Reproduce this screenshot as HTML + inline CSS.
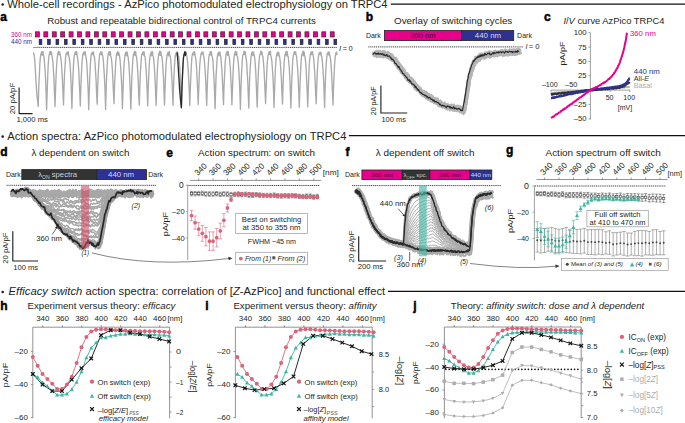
<!DOCTYPE html><html><head><meta charset="utf-8"><style>html,body{margin:0;padding:0;background:#fff;}svg{display:block;}text{font-family:"Liberation Sans",sans-serif;}</style></head><body><svg width="685" height="423" viewBox="0 0 685 423" fill="#231f20">
<text x="7.2" y="7.8" font-size="10.4" textLength="380.4" lengthAdjust="spacingAndGlyphs">Whole-cell recordings - AzPico photomodulated electrophysiology on TRPC4</text>
<circle cx="2.7" cy="4.5" r="1.3" fill="#231f20"/>
<line x1="390.80" y1="4.00" x2="685.00" y2="4.00" stroke="#111" stroke-width="1.25"/>
<text x="7.2" y="139.9" font-size="10.4" textLength="339.2" lengthAdjust="spacingAndGlyphs">Action spectra: AzPico photomodulated electrophysiology on TRPC4</text>
<circle cx="2.7" cy="136.6" r="1.3" fill="#231f20"/>
<line x1="348.90" y1="135.50" x2="685.00" y2="135.50" stroke="#111" stroke-width="1.25"/>
<text x="8.6" y="295.3" font-size="10.4" textLength="376.6" lengthAdjust="spacingAndGlyphs"><tspan font-style="italic">Efficacy switch</tspan> action spectra: correlation of [<tspan font-style="italic">Z</tspan>-AzPico] and functional effect</text>
<circle cx="2.7" cy="292.0" r="1.3" fill="#231f20"/>
<line x1="388.00" y1="291.30" x2="685.00" y2="291.30" stroke="#111" stroke-width="1.25"/>
<text x="0.20" y="20.80" font-size="12" font-weight="bold" fill="#000" stroke="#000" stroke-width="0.45">a</text>
<text x="365.80" y="21.10" font-size="12" font-weight="bold" fill="#000" stroke="#000" stroke-width="0.45">b</text>
<text x="544.00" y="21.20" font-size="12" font-weight="bold" fill="#000" stroke="#000" stroke-width="0.45">c</text>
<text x="0.20" y="156.20" font-size="12" font-weight="bold" fill="#000" stroke="#000" stroke-width="0.45">d</text>
<text x="166.30" y="156.60" font-size="12" font-weight="bold" fill="#000" stroke="#000" stroke-width="0.45">e</text>
<text x="345.40" y="156.20" font-size="12" font-weight="bold" fill="#000" stroke="#000" stroke-width="0.45">f</text>
<text x="506.10" y="154.20" font-size="12" font-weight="bold" fill="#000" stroke="#000" stroke-width="0.45">g</text>
<text x="0.20" y="310.30" font-size="12" font-weight="bold" fill="#000" stroke="#000" stroke-width="0.45">h</text>
<text x="205.20" y="310.30" font-size="12" font-weight="bold" fill="#000" stroke="#000" stroke-width="0.45">i</text>
<text x="413.20" y="310.30" font-size="12" font-weight="bold" fill="#000" stroke="#000" stroke-width="0.45">j</text>
<text x="47.20" y="23.80" font-size="9.5" textLength="268.60" lengthAdjust="spacingAndGlyphs">Robust and repeatable bidirectional control of TRPC4 currents</text>
<text x="11.00" y="36.80" font-size="6.8" textLength="20.90" lengthAdjust="spacingAndGlyphs" fill="#e8008a">360 nm</text>
<text x="11.00" y="43.90" font-size="6.8" textLength="21.00" lengthAdjust="spacingAndGlyphs" fill="#2e3192">440 nm</text>
<rect x="35.40" y="31.80" width="4.00" height="5.20" fill="#e8008a" stroke="#3a2a35" stroke-width="0.7"/>
<rect x="39.15" y="39.30" width="2.70" height="5.20" fill="#2e3192" stroke="#222" stroke-width="0.7"/>
<rect x="43.82" y="31.80" width="4.00" height="5.20" fill="#e8008a" stroke="#3a2a35" stroke-width="0.7"/>
<rect x="47.57" y="39.30" width="2.70" height="5.20" fill="#2e3192" stroke="#222" stroke-width="0.7"/>
<rect x="52.25" y="31.80" width="4.00" height="5.20" fill="#e8008a" stroke="#3a2a35" stroke-width="0.7"/>
<rect x="56.00" y="39.30" width="2.70" height="5.20" fill="#2e3192" stroke="#222" stroke-width="0.7"/>
<rect x="60.67" y="31.80" width="4.00" height="5.20" fill="#e8008a" stroke="#3a2a35" stroke-width="0.7"/>
<rect x="64.42" y="39.30" width="2.70" height="5.20" fill="#2e3192" stroke="#222" stroke-width="0.7"/>
<rect x="69.09" y="31.80" width="4.00" height="5.20" fill="#e8008a" stroke="#3a2a35" stroke-width="0.7"/>
<rect x="72.84" y="39.30" width="2.70" height="5.20" fill="#2e3192" stroke="#222" stroke-width="0.7"/>
<rect x="77.52" y="31.80" width="4.00" height="5.20" fill="#e8008a" stroke="#3a2a35" stroke-width="0.7"/>
<rect x="81.27" y="39.30" width="2.70" height="5.20" fill="#2e3192" stroke="#222" stroke-width="0.7"/>
<rect x="85.94" y="31.80" width="4.00" height="5.20" fill="#e8008a" stroke="#3a2a35" stroke-width="0.7"/>
<rect x="89.69" y="39.30" width="2.70" height="5.20" fill="#2e3192" stroke="#222" stroke-width="0.7"/>
<rect x="94.36" y="31.80" width="4.00" height="5.20" fill="#e8008a" stroke="#3a2a35" stroke-width="0.7"/>
<rect x="98.11" y="39.30" width="2.70" height="5.20" fill="#2e3192" stroke="#222" stroke-width="0.7"/>
<rect x="102.78" y="31.80" width="4.00" height="5.20" fill="#e8008a" stroke="#3a2a35" stroke-width="0.7"/>
<rect x="106.53" y="39.30" width="2.70" height="5.20" fill="#2e3192" stroke="#222" stroke-width="0.7"/>
<rect x="111.21" y="31.80" width="4.00" height="5.20" fill="#e8008a" stroke="#3a2a35" stroke-width="0.7"/>
<rect x="114.96" y="39.30" width="2.70" height="5.20" fill="#2e3192" stroke="#222" stroke-width="0.7"/>
<rect x="119.63" y="31.80" width="4.00" height="5.20" fill="#e8008a" stroke="#3a2a35" stroke-width="0.7"/>
<rect x="123.38" y="39.30" width="2.70" height="5.20" fill="#2e3192" stroke="#222" stroke-width="0.7"/>
<rect x="128.05" y="31.80" width="4.00" height="5.20" fill="#e8008a" stroke="#3a2a35" stroke-width="0.7"/>
<rect x="131.80" y="39.30" width="2.70" height="5.20" fill="#2e3192" stroke="#222" stroke-width="0.7"/>
<rect x="136.48" y="31.80" width="4.00" height="5.20" fill="#e8008a" stroke="#3a2a35" stroke-width="0.7"/>
<rect x="140.23" y="39.30" width="2.70" height="5.20" fill="#2e3192" stroke="#222" stroke-width="0.7"/>
<rect x="144.90" y="31.80" width="4.00" height="5.20" fill="#e8008a" stroke="#3a2a35" stroke-width="0.7"/>
<rect x="148.65" y="39.30" width="2.70" height="5.20" fill="#2e3192" stroke="#222" stroke-width="0.7"/>
<rect x="153.32" y="31.80" width="4.00" height="5.20" fill="#e8008a" stroke="#3a2a35" stroke-width="0.7"/>
<rect x="157.07" y="39.30" width="2.70" height="5.20" fill="#2e3192" stroke="#222" stroke-width="0.7"/>
<rect x="161.75" y="31.80" width="4.00" height="5.20" fill="#e8008a" stroke="#3a2a35" stroke-width="0.7"/>
<rect x="165.50" y="39.30" width="2.70" height="5.20" fill="#2e3192" stroke="#222" stroke-width="0.7"/>
<rect x="170.17" y="31.80" width="4.00" height="5.20" fill="#e8008a" stroke="#3a2a35" stroke-width="0.7"/>
<rect x="173.92" y="39.30" width="2.70" height="5.20" fill="#2e3192" stroke="#222" stroke-width="0.7"/>
<rect x="178.59" y="31.80" width="4.00" height="5.20" fill="#e8008a" stroke="#3a2a35" stroke-width="0.7"/>
<rect x="182.34" y="39.30" width="2.70" height="5.20" fill="#2e3192" stroke="#222" stroke-width="0.7"/>
<rect x="187.01" y="31.80" width="4.00" height="5.20" fill="#e8008a" stroke="#3a2a35" stroke-width="0.7"/>
<rect x="190.76" y="39.30" width="2.70" height="5.20" fill="#2e3192" stroke="#222" stroke-width="0.7"/>
<rect x="195.44" y="31.80" width="4.00" height="5.20" fill="#e8008a" stroke="#3a2a35" stroke-width="0.7"/>
<rect x="199.19" y="39.30" width="2.70" height="5.20" fill="#2e3192" stroke="#222" stroke-width="0.7"/>
<rect x="203.86" y="31.80" width="4.00" height="5.20" fill="#e8008a" stroke="#3a2a35" stroke-width="0.7"/>
<rect x="207.61" y="39.30" width="2.70" height="5.20" fill="#2e3192" stroke="#222" stroke-width="0.7"/>
<rect x="212.28" y="31.80" width="4.00" height="5.20" fill="#e8008a" stroke="#3a2a35" stroke-width="0.7"/>
<rect x="216.03" y="39.30" width="2.70" height="5.20" fill="#2e3192" stroke="#222" stroke-width="0.7"/>
<rect x="220.71" y="31.80" width="4.00" height="5.20" fill="#e8008a" stroke="#3a2a35" stroke-width="0.7"/>
<rect x="224.46" y="39.30" width="2.70" height="5.20" fill="#2e3192" stroke="#222" stroke-width="0.7"/>
<rect x="229.13" y="31.80" width="4.00" height="5.20" fill="#e8008a" stroke="#3a2a35" stroke-width="0.7"/>
<rect x="232.88" y="39.30" width="2.70" height="5.20" fill="#2e3192" stroke="#222" stroke-width="0.7"/>
<rect x="237.55" y="31.80" width="4.00" height="5.20" fill="#e8008a" stroke="#3a2a35" stroke-width="0.7"/>
<rect x="241.30" y="39.30" width="2.70" height="5.20" fill="#2e3192" stroke="#222" stroke-width="0.7"/>
<rect x="245.97" y="31.80" width="4.00" height="5.20" fill="#e8008a" stroke="#3a2a35" stroke-width="0.7"/>
<rect x="249.72" y="39.30" width="2.70" height="5.20" fill="#2e3192" stroke="#222" stroke-width="0.7"/>
<rect x="254.40" y="31.80" width="4.00" height="5.20" fill="#e8008a" stroke="#3a2a35" stroke-width="0.7"/>
<rect x="258.15" y="39.30" width="2.70" height="5.20" fill="#2e3192" stroke="#222" stroke-width="0.7"/>
<rect x="262.82" y="31.80" width="4.00" height="5.20" fill="#e8008a" stroke="#3a2a35" stroke-width="0.7"/>
<rect x="266.57" y="39.30" width="2.70" height="5.20" fill="#2e3192" stroke="#222" stroke-width="0.7"/>
<rect x="271.24" y="31.80" width="4.00" height="5.20" fill="#e8008a" stroke="#3a2a35" stroke-width="0.7"/>
<rect x="274.99" y="39.30" width="2.70" height="5.20" fill="#2e3192" stroke="#222" stroke-width="0.7"/>
<rect x="279.67" y="31.80" width="4.00" height="5.20" fill="#e8008a" stroke="#3a2a35" stroke-width="0.7"/>
<rect x="283.42" y="39.30" width="2.70" height="5.20" fill="#2e3192" stroke="#222" stroke-width="0.7"/>
<rect x="288.09" y="31.80" width="4.00" height="5.20" fill="#e8008a" stroke="#3a2a35" stroke-width="0.7"/>
<rect x="291.84" y="39.30" width="2.70" height="5.20" fill="#2e3192" stroke="#222" stroke-width="0.7"/>
<rect x="296.51" y="31.80" width="4.00" height="5.20" fill="#e8008a" stroke="#3a2a35" stroke-width="0.7"/>
<rect x="300.26" y="39.30" width="2.70" height="5.20" fill="#2e3192" stroke="#222" stroke-width="0.7"/>
<rect x="304.94" y="31.80" width="4.00" height="5.20" fill="#e8008a" stroke="#3a2a35" stroke-width="0.7"/>
<rect x="308.69" y="39.30" width="2.70" height="5.20" fill="#2e3192" stroke="#222" stroke-width="0.7"/>
<rect x="313.36" y="31.80" width="4.00" height="5.20" fill="#e8008a" stroke="#3a2a35" stroke-width="0.7"/>
<rect x="317.11" y="39.30" width="2.70" height="5.20" fill="#2e3192" stroke="#222" stroke-width="0.7"/>
<rect x="321.78" y="31.80" width="4.00" height="5.20" fill="#e8008a" stroke="#3a2a35" stroke-width="0.7"/>
<rect x="325.53" y="39.30" width="2.70" height="5.20" fill="#2e3192" stroke="#222" stroke-width="0.7"/>
<rect x="330.21" y="31.80" width="4.00" height="5.20" fill="#e8008a" stroke="#3a2a35" stroke-width="0.7"/>
<rect x="333.95" y="39.30" width="2.70" height="5.20" fill="#2e3192" stroke="#222" stroke-width="0.7"/>
<line x1="33.50" y1="47.40" x2="337.20" y2="47.40" stroke="#1a1a1a" stroke-width="0.8" stroke-dasharray="1.2 0.7"/>
<text x="338.90" y="50.60" font-size="7.6" font-style="italic">I</text>
<text x="342.80" y="50.60" font-size="7.6" textLength="10.00" lengthAdjust="spacingAndGlyphs">= 0</text>
<path d="M33.5,52.5L34.3,56.0L35.1,65.0L35.9,80.0L36.9,95.0L38.2,106.4L38.7,88.9L39.3,75.4L39.8,64.6L40.3,57.8L40.9,54.1L41.4,52.6L41.8,51.7L42.2,55.2L42.6,52.8L43.0,51.5L43.4,55.0L43.9,56.3L44.4,62.1L45.0,69.3L45.5,78.2L46.1,92.2L46.6,109.8L47.2,91.2L47.7,76.4L48.2,64.9L48.8,57.5L49.3,54.1L49.8,52.5L50.2,51.3L50.6,54.5L51.0,51.7L51.4,52.0L51.8,55.2L52.3,57.7L52.9,62.1L53.4,70.1L54.0,80.5L54.5,94.1L55.0,106.5L55.6,88.5L56.1,75.5L56.6,65.2L57.2,58.2L57.7,54.3L58.2,52.8L58.6,51.3L59.0,54.6L59.4,51.8L59.8,52.3L60.2,55.1L60.7,57.6L61.3,61.5L61.8,69.7L62.4,79.5L62.9,90.7L63.5,104.9L64.0,88.2L64.5,74.2L65.1,64.9L65.6,57.5L66.1,53.5L66.7,53.2L67.1,52.1L67.5,54.6L67.9,51.8L68.3,51.8L68.6,56.0L69.2,57.4L69.7,60.8L70.3,68.2L70.8,77.6L71.3,89.6L71.9,108.7L72.4,89.9L73.0,75.9L73.5,65.1L74.0,57.6L74.6,54.4L75.1,52.6L75.5,51.9L75.9,54.3L76.3,52.3L76.7,51.7L77.0,54.9L77.6,57.8L78.1,62.4L78.7,69.3L79.2,80.6L79.8,92.6L80.3,106.1L80.8,89.0L81.4,74.9L81.9,64.1L82.4,58.3L83.0,53.7L83.5,52.7L83.9,52.1L84.3,54.7L84.7,52.1L85.1,51.5L85.5,54.6L86.0,57.1L86.6,61.2L87.1,69.1L87.6,78.6L88.2,91.1L88.7,109.7L89.3,91.0L89.8,76.3L90.3,65.8L90.9,57.7L91.4,53.7L91.9,53.5L92.3,52.1L92.7,54.5L93.1,52.0L93.5,52.3L93.9,56.0L94.4,56.6L95.0,62.8L95.5,70.5L96.1,80.7L96.6,93.7L97.2,104.2L97.7,86.7L98.2,74.5L98.8,63.8L99.3,57.8L99.8,53.7L100.4,53.4L100.8,51.8L101.2,54.6L101.6,51.9L102.0,52.3L102.3,54.6L102.9,56.5L103.4,61.5L103.9,69.0L104.5,78.1L105.0,89.5L105.6,109.5L106.1,90.5L106.7,75.6L107.2,65.0L107.7,58.0L108.3,53.6L108.8,52.6L109.2,51.5L109.6,55.1L110.0,51.9L110.4,51.8L110.7,55.9L111.3,57.9L111.8,62.3L112.4,70.1L112.9,80.5L113.5,93.0L114.0,103.7L114.5,86.4L115.1,74.3L115.6,64.3L116.1,58.1L116.7,53.4L117.2,53.2L117.6,51.7L118.0,55.4L118.4,52.1L118.8,52.6L119.2,54.6L119.7,57.0L120.2,61.7L120.8,68.9L121.3,78.1L121.9,89.9L122.4,108.7L123.0,90.8L123.5,75.6L124.0,65.3L124.6,58.4L125.1,54.5L125.6,52.9L126.0,52.1L126.4,55.7L126.8,52.5L127.2,52.1L127.6,55.1L128.1,57.2L128.7,62.1L129.2,68.9L129.8,80.2L130.3,93.8L130.9,109.2L131.4,90.9L131.9,75.9L132.5,65.5L133.0,58.1L133.5,54.0L134.1,53.4L134.5,51.1L134.9,55.5L135.3,51.7L135.7,52.1L136.0,55.3L136.5,56.7L137.1,62.3L137.6,69.7L138.2,80.4L138.7,94.1L139.3,105.2L139.8,87.3L140.3,74.1L140.9,64.6L141.4,57.3L141.9,53.6L142.5,53.5L142.9,51.9L143.3,54.9L143.7,52.9L144.1,51.8L144.4,55.6L145.0,56.5L145.5,61.4L146.1,69.2L146.6,79.0L147.2,91.2L147.7,106.0L148.2,88.6L148.8,74.5L149.3,64.1L149.8,57.7L150.4,54.4L150.9,53.4L151.3,52.0L151.7,55.8L152.1,52.1L152.5,51.6L152.8,55.2L153.4,56.6L153.9,61.1L154.5,68.7L155.0,79.0L155.6,91.1L156.1,105.5L156.7,88.6L157.2,75.1L157.7,64.4L158.3,57.2L158.8,53.5L159.3,53.4L159.7,51.1L160.1,55.4L160.5,52.5L160.9,51.8L161.3,55.8L161.8,56.2L162.4,60.9L162.9,68.7L163.5,77.8L164.0,91.4L164.5,105.0L165.1,87.4L165.6,73.8L166.1,64.5L166.7,57.6L167.2,54.2L167.7,53.2L168.1,52.1L168.5,55.8L168.9,52.7L169.3,51.6L169.7,55.3L170.2,56.4L170.8,60.7L171.3,68.6L171.9,78.7L172.4,90.0L173.0,105.3L173.5,87.8L174.0,74.7L174.6,64.4L175.1,57.8L175.6,54.3L176.2,52.9L176.6,52.1L177.0,55.7L177.4,51.8L177.8,52.5L178.1,55.7L178.7,56.4L179.2,61.4L179.8,68.9L180.3,79.1L180.8,90.4L181.4,107.2L181.9,89.7L182.5,75.6L183.0,65.3L183.5,57.8L184.1,54.2L184.6,52.6L185.0,52.0L185.4,55.6L185.8,52.6L186.2,52.3L186.5,54.8L187.1,57.7L187.6,62.5L188.2,70.0L188.7,79.4L189.3,92.5L189.8,105.6L190.3,88.7L190.9,75.0L191.4,64.3L191.9,57.2L192.5,53.9L193.0,53.1L193.4,52.1L193.8,55.0L194.2,51.7L194.6,52.4L195.0,54.6L195.5,57.5L196.1,61.0L196.6,68.5L197.1,79.0L197.7,90.3L198.2,104.5L198.8,87.5L199.3,74.4L199.8,64.6L200.4,57.8L200.9,54.5L201.4,53.0L201.8,52.3L202.2,54.3L202.6,52.0L203.0,52.0L203.4,55.0L203.9,57.3L204.5,61.6L205.0,68.5L205.6,78.6L206.1,90.2L206.7,105.5L207.2,88.0L207.7,74.9L208.3,64.9L208.8,57.3L209.3,54.4L209.9,53.6L210.3,51.7L210.7,55.1L211.1,52.0L211.5,52.0L211.8,55.3L212.4,57.1L212.9,60.8L213.4,69.5L214.0,78.6L214.5,90.7L215.1,108.7L215.6,90.4L216.1,75.8L216.7,65.4L217.2,57.4L217.7,54.1L218.3,52.9L218.7,52.3L219.1,55.8L219.5,52.1L219.9,52.0L220.2,54.7L220.8,57.0L221.3,62.4L221.9,70.3L222.4,80.0L223.0,92.8L223.5,104.7L224.0,87.8L224.6,74.7L225.1,63.8L225.6,58.0L226.2,53.4L226.7,52.6L227.1,51.3L227.5,55.3L227.9,52.2L228.3,51.8L228.7,55.5L229.2,56.3L229.7,61.8L230.3,67.9L230.8,78.2L231.4,89.9L231.9,104.8L232.5,87.7L233.0,74.1L233.5,64.1L234.1,57.5L234.6,54.0L235.1,52.6L235.5,51.3L235.9,55.2L236.3,52.6L236.7,52.0L237.1,55.9L237.6,57.1L238.2,62.0L238.7,68.1L239.3,78.6L239.8,90.8L240.4,109.4L240.9,90.5L241.4,75.9L242.0,65.8L242.5,57.7L243.0,54.7L243.6,53.5L244.0,51.2L244.4,54.5L244.8,52.7L245.2,51.7L245.5,54.7L246.0,57.6L246.6,61.9L247.1,70.3L247.7,79.7L248.2,93.4L248.8,108.0L249.3,89.2L249.8,75.2L250.4,65.2L250.9,58.4L251.4,54.6L252.0,52.5L252.4,51.7L252.8,55.5L253.2,52.4L253.6,52.2L253.9,54.8L254.5,56.4L255.0,61.2L255.6,68.7L256.1,79.8L256.6,92.6L257.2,107.2L257.7,88.9L258.3,74.8L258.8,64.4L259.3,58.2L259.9,54.6L260.4,53.5L260.8,51.1L261.2,54.2L261.6,53.0L262.0,52.0L262.3,55.7L262.9,56.7L263.4,61.7L264.0,69.2L264.5,79.2L265.1,92.2L265.6,103.6L266.2,87.1L266.7,74.1L267.2,63.6L267.8,57.5L268.3,54.3L268.8,52.9L269.2,51.3L269.6,54.4L270.0,52.4L270.4,51.4L270.8,55.9L271.3,57.4L271.9,61.6L272.4,68.8L273.0,77.9L273.5,89.3L274.0,107.4L274.6,89.4L275.1,75.9L275.6,65.2L276.2,57.6L276.7,54.5L277.2,53.3L277.6,52.1L278.0,55.6L278.4,52.3L278.8,52.5L279.2,55.9L279.7,57.3L280.3,62.2L280.8,69.7L281.4,79.3L281.9,92.5L282.5,104.0L283.0,86.9L283.5,73.8L284.1,63.5L284.6,57.4L285.1,54.2L285.7,53.1L286.1,51.3L286.5,55.8L286.9,52.6L287.3,51.8L287.6,55.6L288.2,57.0L288.7,61.4L289.3,68.2L289.8,78.6L290.3,89.9L290.9,108.1L291.4,90.2L292.0,76.1L292.5,64.4L293.0,58.0L293.6,54.4L294.1,52.7L294.5,51.6L294.9,54.2L295.3,52.0L295.7,51.9L296.0,54.7L296.6,56.7L297.1,62.5L297.7,69.5L298.2,79.7L298.8,93.4L299.3,107.2L299.8,89.9L300.4,75.4L300.9,65.2L301.4,57.3L302.0,54.2L302.5,53.3L302.9,51.1L303.3,55.8L303.7,51.9L304.1,52.0L304.5,54.8L305.0,57.0L305.6,61.9L306.1,68.5L306.6,80.0L307.2,91.9L307.7,106.9L308.3,89.2L308.8,74.9L309.3,64.5L309.9,58.0L310.4,54.1L310.9,52.7L311.3,52.0L311.7,54.6L312.1,51.7L312.5,51.7L312.9,54.6L313.4,56.5L314.0,62.1L314.5,69.0L315.1,79.8L315.6,92.2L316.2,103.8L316.7,87.6L317.2,74.4L317.8,63.5L318.3,58.0L318.8,53.9L319.4,53.0L319.8,52.4L320.2,54.5L320.6,52.4L321.0,52.5L321.3,55.7L321.9,56.9L322.4,62.1L322.9,68.8L323.5,77.9L324.0,89.0L324.6,107.6L325.1,89.5L325.6,75.0L326.2,64.3L326.7,57.9L327.2,53.6L327.8,52.9L328.2,51.9L328.6,54.9L329.0,52.1L329.4,52.1L329.7,55.2L330.3,57.5L330.8,61.8L331.4,70.1L331.9,80.2L332.5,92.6L333.0,105.0L333.5,87.4L334.1,74.8L334.6,64.7L335.1,57.8L335.7,53.8L336.2,52.7L336.6,52.0L337.0,55.1" fill="none" stroke="#aaaaaa" stroke-width="1.35" stroke-linejoin="round"/>
<path d="M176.7,52.5L177.3,53.5L177.9,62.0L178.7,75.0L179.5,88.0L180.3,98.0L180.9,104.0L181.4,107.8L181.9,89.6L182.5,75.1L183.0,64.5L183.5,57.6L184.1,54.4L184.6,52.7L185.0,51.5L185.4,55.3L185.8,52.5" fill="none" stroke="#2a2a2a" stroke-width="1.3" stroke-linejoin="round"/>
<path d="M19.1,87.4L19.1,113.6L32.6,113.6" fill="none" stroke="#222" stroke-width="1.15" stroke-linejoin="round"/>
<text x="15.00" y="98.60" font-size="6.8" text-anchor="middle" textLength="31.50" lengthAdjust="spacingAndGlyphs" transform="rotate(-90 15.00 98.60)">20 pA/pF</text>
<text x="16.40" y="122.00" font-size="6.8" textLength="31.50" lengthAdjust="spacingAndGlyphs">1,000 ms</text>
<text x="394.00" y="23.60" font-size="9.5" textLength="118.30" lengthAdjust="spacingAndGlyphs">Overlay of switching cycles</text>
<text x="365.90" y="38.30" font-size="7.0" textLength="14.80" lengthAdjust="spacingAndGlyphs">Dark</text>
<rect x="384.50" y="30.50" width="77.10" height="10.10" fill="#e8008a" stroke="#222" stroke-width="0.8"/>
<rect x="461.60" y="30.50" width="52.10" height="10.10" fill="#2e3192" stroke="#222" stroke-width="0.8"/>
<text x="423.00" y="38.20" font-size="7.0" text-anchor="middle" textLength="25.50" lengthAdjust="spacingAndGlyphs" fill="#4a0026">360 nm</text>
<text x="488.00" y="38.20" font-size="7.0" text-anchor="middle" textLength="26.30" lengthAdjust="spacingAndGlyphs" fill="#d8d8f0">440 nm</text>
<text x="517.10" y="38.20" font-size="7.0" textLength="14.80" lengthAdjust="spacingAndGlyphs">Dark</text>
<line x1="368.30" y1="46.90" x2="523.20" y2="46.90" stroke="#1a1a1a" stroke-width="0.8" stroke-dasharray="1.2 0.7"/>
<text x="525.40" y="48.60" font-size="7.0" font-style="italic">I</text>
<text x="528.80" y="48.60" font-size="7.0" textLength="10.80" lengthAdjust="spacingAndGlyphs">= 0</text>
<path d="M373.5,56.0L374.1,56.4L374.7,55.9L375.3,56.4L375.9,54.0L376.5,55.2L377.1,56.4L377.7,55.6L378.3,56.3L378.9,54.3L379.5,55.2L380.1,54.6L380.7,55.5L381.3,55.7L381.9,54.4L382.5,55.0L383.1,55.3L383.7,57.1L384.3,56.8L384.9,55.4L385.5,57.2L386.1,55.7L386.7,57.1L387.3,56.0L387.9,55.9L388.5,58.3L389.1,56.8L389.7,57.1L390.3,59.6L390.9,59.9L391.5,58.8L392.1,61.1L392.7,60.5L393.3,61.4L393.9,60.7L394.5,63.3L395.1,63.4L395.7,64.8L396.3,65.4L396.9,64.6L397.5,65.5L398.1,65.7L398.7,66.4L399.3,67.1L399.9,68.6L400.5,70.3L401.1,69.7L401.7,72.3L402.3,72.3L402.9,73.2L403.5,75.4L404.1,75.2L404.7,75.6L405.3,76.7L405.9,78.1L406.5,77.1L407.1,80.3L407.7,78.5L408.3,81.1L408.9,82.0L409.5,80.4L410.1,83.0L410.7,82.5L411.3,83.7L411.9,82.8L412.5,83.5L413.1,84.5L413.7,87.1L414.3,85.7L414.9,87.7L415.5,88.8L416.1,89.4L416.7,88.5L417.3,89.1L417.9,90.1L418.5,91.4L419.1,90.3L419.7,92.5L420.3,93.3L420.9,94.0L421.5,92.5L422.1,95.4L422.7,93.7L423.3,94.8L423.9,95.9L424.5,97.2L425.1,96.1L425.7,98.1L426.3,97.5L426.9,97.4L427.5,97.7L428.1,97.7L428.7,97.8L429.3,98.4L429.9,100.2L430.5,101.3L431.1,99.5L431.7,99.5L432.3,102.3L432.9,101.4L433.5,101.4L434.1,101.2L434.7,102.5L435.3,103.4L435.9,102.7L436.5,103.0L437.1,102.4L437.7,105.0L438.3,103.1L438.9,104.7L439.5,106.0L440.1,104.6L440.7,106.5L441.3,107.3L441.9,106.7L442.5,107.4L443.1,105.9L443.7,107.0L444.3,106.5L444.9,108.5L445.5,107.3L446.1,107.9L446.7,109.4L447.3,109.2L447.9,109.7L448.5,108.5L449.1,108.7L449.7,109.5L450.3,109.0L450.9,108.5L451.5,108.9L452.1,108.3L452.7,108.9L453.3,110.6L453.9,110.6L454.5,109.8L455.1,109.5L455.7,109.3L456.3,108.8L456.9,109.4L457.5,110.9L458.1,111.2L458.7,110.1L459.3,111.3L459.9,111.6L460.5,111.7L461.1,112.0L461.7,112.6L462.3,111.9L462.9,112.9L463.5,111.4L464.1,109.5L464.7,107.0L465.3,103.5L465.9,98.5L466.5,96.2L467.1,91.4L467.7,87.5L468.3,82.3L468.9,80.1L469.5,76.7L470.1,75.2L470.7,72.1L471.3,70.7L471.9,68.8L472.5,67.6L473.1,65.0L473.7,64.4L474.3,63.8L474.9,63.1L475.5,61.0L476.1,61.6L476.7,61.2L477.3,60.3L477.9,60.7L478.5,60.2L479.1,58.6L479.7,58.2L480.3,56.9L480.9,58.4L481.5,58.5L482.1,57.2L482.7,57.6L483.3,57.5L483.9,57.4L484.5,55.8L485.1,57.3L485.7,56.6L486.3,56.7L486.9,55.9L487.5,56.3L488.1,56.6L488.7,56.2L489.3,56.3L489.9,54.4L490.5,54.7L491.1,55.4L491.7,55.8L492.3,54.6L492.9,55.8L493.5,55.6L494.1,53.9L494.7,55.0L495.3,54.3L495.9,53.8L496.5,53.9L497.1,54.3L497.7,53.9L498.3,53.9L498.9,53.4L499.5,54.4L500.1,54.2L500.7,54.7L501.3,54.6L501.9,53.6L502.5,55.3L503.1,52.9L503.7,53.9L504.3,53.5L504.9,53.8L505.5,52.9L506.1,54.7L506.7,53.5L507.3,52.6L507.9,54.0L508.5,52.7L509.1,53.8L509.7,53.2L510.3,53.8L510.9,54.7L511.5,54.3L512.1,53.3L512.7,54.2L513.3,53.8L513.9,53.0L514.5,52.4L515.1,53.5L515.7,53.4L516.3,54.4L516.9,54.4L517.5,53.4L518.1,52.7L518.7,54.0L519.3,51.7L519.9,51.9" fill="none" stroke="#b4b4b4" stroke-width="1.6" stroke-linejoin="round"/>
<path d="M373.2,53.7L373.8,55.0L374.4,55.6L375.0,54.3L375.6,54.4L376.2,53.9L376.8,54.1L377.4,55.9L378.0,54.3L378.6,55.8L379.2,55.7L379.8,54.9L380.4,54.1L381.0,56.1L381.6,55.0L382.2,54.9L382.8,54.8L383.4,56.6L384.0,55.5L384.6,55.1L385.2,55.7L385.8,55.0L386.4,56.5L387.0,56.2L387.6,56.0L388.2,57.4L388.8,57.7L389.4,56.0L390.0,57.8L390.6,57.7L391.2,59.9L391.8,60.0L392.4,59.1L393.0,59.7L393.6,59.9L394.2,62.8L394.8,61.7L395.4,63.3L396.0,63.7L396.6,64.9L397.2,65.5L397.8,66.6L398.4,65.7L399.0,68.3L399.6,68.0L400.2,69.5L400.8,69.9L401.4,70.7L402.0,72.2L402.6,72.9L403.2,73.5L403.8,75.3L404.4,75.6L405.0,74.9L405.6,76.3L406.2,77.5L406.8,79.5L407.4,80.2L408.0,80.0L408.6,79.2L409.2,81.8L409.8,81.5L410.4,82.4L411.0,83.4L411.6,83.8L412.2,84.0L412.8,85.7L413.4,85.0L414.0,85.6L414.6,87.4L415.2,86.3L415.8,87.1L416.4,89.1L417.0,87.7L417.6,90.3L418.2,90.6L418.8,90.5L419.4,90.7L420.0,92.6L420.6,93.5L421.2,92.1L421.8,93.6L422.4,94.2L423.0,94.5L423.6,94.6L424.2,94.5L424.8,96.1L425.4,97.2L426.0,95.7L426.6,96.5L427.2,98.4L427.8,98.7L428.4,98.7L429.0,97.4L429.6,99.6L430.2,100.6L430.8,101.0L431.4,100.6L432.0,99.2L432.6,101.6L433.2,100.3L433.8,101.7L434.4,102.8L435.0,102.4L435.6,101.2L436.2,102.0L436.8,104.0L437.4,102.4L438.0,104.0L438.6,103.9L439.2,103.6L439.8,105.2L440.4,104.1L441.0,104.5L441.6,105.5L442.2,104.9L442.8,105.1L443.4,106.7L444.0,107.4L444.6,108.0L445.2,106.3L445.8,107.2L446.4,107.0L447.0,107.9L447.6,107.8L448.2,109.1L448.8,107.8L449.4,107.1L450.0,108.9L450.6,107.5L451.2,108.8L451.8,108.6L452.4,109.7L453.0,108.8L453.6,109.1L454.2,108.2L454.8,109.0L455.4,108.4L456.0,109.9L456.6,109.4L457.2,108.6L457.8,109.0L458.4,109.5L459.0,110.6L459.6,109.4L460.2,111.1L460.8,111.3L461.4,110.2L462.0,112.0L462.6,110.7L463.2,110.3L463.8,109.2L464.4,105.0L465.0,103.4L465.6,98.4L466.2,93.9L466.8,91.2L467.4,85.4L468.0,83.5L468.6,78.2L469.2,75.8L469.8,75.3L470.4,72.0L471.0,68.5L471.6,66.7L472.2,67.5L472.8,65.2L473.4,64.3L474.0,61.6L474.6,62.0L475.2,60.4L475.8,59.4L476.4,59.2L477.0,59.5L477.6,58.4L478.2,58.1L478.8,57.0L479.4,58.4L480.0,57.5L480.6,57.7L481.2,56.6L481.8,57.5L482.4,56.5L483.0,56.6L483.6,56.4L484.2,56.7L484.8,55.6L485.4,54.7L486.0,54.4L486.6,54.7L487.2,54.1L487.8,56.3L488.4,55.1L489.0,55.8L489.6,53.7L490.2,54.9L490.8,55.9L491.4,55.1L492.0,54.5L492.6,54.6L493.2,53.5L493.8,53.6L494.4,53.5L495.0,54.0L495.6,54.0L496.2,55.2L496.8,53.2L497.4,53.4L498.0,53.4L498.6,53.1L499.2,53.3L499.8,53.1L500.4,53.7L501.0,52.5L501.6,54.8L502.2,53.3L502.8,54.7L503.4,54.0L504.0,53.9L504.6,53.3L505.2,54.5L505.8,52.2L506.4,53.6L507.0,52.6L507.6,53.6L508.2,53.7L508.8,52.2L509.4,52.2L510.0,51.7L510.6,52.2L511.2,51.8L511.8,52.6L512.4,54.0L513.0,52.4L513.6,52.2L514.2,52.6L514.8,52.1L515.4,53.2L516.0,53.1L516.6,51.6L517.2,51.8L517.8,52.9L518.4,53.5L519.0,52.7L519.6,52.1" fill="none" stroke="#b4b4b4" stroke-width="1.6" stroke-linejoin="round"/>
<path d="M374.9,50.4L375.5,52.3L376.1,51.3L376.7,50.4L377.3,51.7L377.9,52.9L378.5,51.6L379.1,51.2L379.7,50.5L380.3,50.5L380.9,52.6L381.5,51.6L382.1,52.8L382.7,50.7L383.3,51.3L383.9,50.9L384.5,51.9L385.1,51.2L385.7,51.8L386.3,52.3L386.9,52.2L387.5,51.8L388.1,51.9L388.7,54.5L389.3,52.6L389.9,53.7L390.5,53.6L391.1,54.3L391.7,53.6L392.3,54.7L392.9,54.7L393.5,56.3L394.1,57.8L394.7,57.5L395.3,58.7L395.9,57.7L396.5,57.9L397.1,60.0L397.7,60.7L398.3,61.6L398.9,61.9L399.5,63.3L400.1,64.3L400.7,65.7L401.3,65.0L401.9,66.2L402.5,68.1L403.1,67.5L403.7,68.1L404.3,69.5L404.9,69.8L405.5,72.3L406.1,73.2L406.7,72.6L407.3,72.9L407.9,73.5L408.5,74.7L409.1,75.0L409.7,76.6L410.3,77.6L410.9,77.3L411.5,77.5L412.1,79.7L412.7,78.6L413.3,79.6L413.9,80.4L414.5,81.3L415.1,81.2L415.7,82.6L416.3,82.9L416.9,84.7L417.5,84.7L418.1,86.2L418.7,86.2L419.3,87.1L419.9,87.2L420.5,87.5L421.1,89.0L421.7,89.2L422.3,90.6L422.9,90.6L423.5,91.1L424.1,90.4L424.7,92.3L425.3,91.6L425.9,91.4L426.5,91.7L427.1,92.4L427.7,93.1L428.3,94.6L428.9,94.0L429.5,93.8L430.1,95.9L430.7,95.8L431.3,94.8L431.9,95.2L432.5,95.7L433.1,96.7L433.7,98.3L434.3,98.8L434.9,98.2L435.5,97.5L436.1,98.4L436.7,98.5L437.3,98.7L437.9,98.2L438.5,100.1L439.1,101.1L439.7,101.3L440.3,100.0L440.9,101.5L441.5,101.0L442.1,102.8L442.7,102.3L443.3,103.9L443.9,103.7L444.5,102.2L445.1,103.0L445.7,104.8L446.3,103.8L446.9,104.0L447.5,104.2L448.1,105.2L448.7,105.7L449.3,104.8L449.9,106.1L450.5,105.3L451.1,104.2L451.7,106.2L452.3,105.2L452.9,104.3L453.5,106.8L454.1,104.4L454.7,105.8L455.3,105.7L455.9,106.8L456.5,105.6L457.1,105.3L457.7,105.6L458.3,105.5L458.9,106.6L459.5,106.2L460.1,107.4L460.7,106.2L461.3,106.8L461.9,106.9L462.5,109.1L463.1,109.1L463.7,109.5L464.3,109.0L464.9,108.0L465.5,105.0L466.1,103.5L466.7,99.3L467.3,94.2L467.9,90.5L468.5,86.3L469.1,84.2L469.7,80.9L470.3,75.5L470.9,74.5L471.5,70.7L472.1,69.0L472.7,67.1L473.3,65.0L473.9,64.0L474.5,61.4L475.1,59.1L475.7,59.5L476.3,58.8L476.9,56.9L477.5,56.7L478.1,56.1L478.7,54.9L479.3,55.3L479.9,55.0L480.5,54.8L481.1,55.0L481.7,53.8L482.3,55.1L482.9,54.5L483.5,54.7L484.1,53.9L484.7,53.7L485.3,53.2L485.9,53.8L486.5,52.5L487.1,53.0L487.7,53.0L488.3,52.5L488.9,51.7L489.5,51.1L490.1,51.1L490.7,51.7L491.3,52.2L491.9,52.6L492.5,52.4L493.1,51.3L493.7,52.8L494.3,51.0L494.9,52.1L495.5,50.3L496.1,52.0L496.7,51.8L497.3,52.4L497.9,52.2L498.5,51.6L499.1,51.9L499.7,51.6L500.3,51.2L500.9,50.1L501.5,50.8L502.1,51.8L502.7,50.0L503.3,51.8L503.9,50.7L504.5,50.2L505.1,49.1L505.7,50.1L506.3,49.5L506.9,50.6L507.5,51.2L508.1,51.2L508.7,50.4L509.3,49.8L509.9,49.0L510.5,50.5L511.1,50.1L511.7,50.5L512.3,49.5L512.9,50.8L513.5,49.0L514.1,49.2L514.7,49.1L515.3,50.0L515.9,50.7L516.5,48.7L517.1,49.9L517.7,50.2L518.3,48.8L518.9,48.3L519.5,49.6L520.1,50.2L520.7,50.3L521.3,49.9" fill="none" stroke="#b4b4b4" stroke-width="1.6" stroke-linejoin="round"/>
<path d="M372.6,53.8L373.2,54.7L373.8,53.2L374.4,53.1L375.0,54.0L375.6,54.9L376.2,52.9L376.8,52.5L377.4,52.7L378.0,53.8L378.6,53.9L379.2,52.9L379.8,53.0L380.4,54.2L381.0,54.4L381.6,54.7L382.2,54.9L382.8,53.3L383.4,54.5L384.0,55.5L384.6,56.0L385.2,54.6L385.8,56.1L386.4,55.8L387.0,56.7L387.6,55.0L388.2,56.4L388.8,57.2L389.4,56.7L390.0,56.3L390.6,57.0L391.2,57.4L391.8,57.8L392.4,58.4L393.0,60.2L393.6,59.5L394.2,62.0L394.8,62.7L395.4,63.6L396.0,64.3L396.6,64.8L397.2,66.1L397.8,67.0L398.4,67.0L399.0,68.8L399.6,67.4L400.2,68.3L400.8,69.1L401.4,70.4L402.0,71.8L402.6,72.8L403.2,74.2L403.8,75.1L404.4,74.1L405.0,75.7L405.6,76.8L406.2,77.1L406.8,77.2L407.4,79.2L408.0,79.2L408.6,80.6L409.2,80.7L409.8,82.5L410.4,83.1L411.0,81.4L411.6,83.8L412.2,84.3L412.8,83.8L413.4,83.9L414.0,85.4L414.6,85.7L415.2,87.3L415.8,88.4L416.4,87.6L417.0,88.0L417.6,89.1L418.2,90.2L418.8,91.1L419.4,91.1L420.0,91.0L420.6,91.7L421.2,93.6L421.8,93.2L422.4,92.4L423.0,93.8L423.6,93.8L424.2,95.4L424.8,94.3L425.4,95.3L426.0,95.2L426.6,96.6L427.2,98.3L427.8,97.5L428.4,97.4L429.0,99.2L429.6,97.4L430.2,98.4L430.8,99.9L431.4,98.1L432.0,100.4L432.6,99.7L433.2,99.1L433.8,100.0L434.4,100.8L435.0,100.9L435.6,101.6L436.2,100.8L436.8,101.6L437.4,104.0L438.0,103.0L438.6,103.5L439.2,102.9L439.8,103.7L440.4,105.8L441.0,105.3L441.6,105.1L442.2,104.1L442.8,105.3L443.4,106.5L444.0,105.9L444.6,106.5L445.2,107.5L445.8,106.9L446.4,107.1L447.0,105.7L447.6,105.8L448.2,107.9L448.8,107.1L449.4,108.4L450.0,108.3L450.6,108.6L451.2,107.3L451.8,109.0L452.4,108.4L453.0,108.8L453.6,106.9L454.2,108.7L454.8,107.9L455.4,109.5L456.0,109.7L456.6,107.8L457.2,108.5L457.8,108.3L458.4,108.9L459.0,108.7L459.6,110.1L460.2,109.0L460.8,109.5L461.4,110.6L462.0,109.7L462.6,110.1L463.2,109.0L463.8,105.7L464.4,100.7L465.0,96.2L465.6,94.3L466.2,90.7L466.8,86.0L467.4,81.0L468.0,77.7L468.6,76.9L469.2,74.3L469.8,69.4L470.4,67.5L471.0,66.6L471.6,64.7L472.2,64.5L472.8,62.2L473.4,62.3L474.0,59.8L474.6,59.8L475.2,60.3L475.8,59.2L476.4,57.2L477.0,56.8L477.6,57.8L478.2,56.7L478.8,56.2L479.4,56.1L480.0,56.1L480.6,57.0L481.2,55.0L481.8,55.7L482.4,54.7L483.0,55.3L483.6,55.7L484.2,54.0L484.8,54.8L485.4,55.2L486.0,53.2L486.6,55.1L487.2,54.1L487.8,54.2L488.4,54.4L489.0,54.8L489.6,52.9L490.2,53.9L490.8,52.7L491.4,53.5L492.0,53.3L492.6,52.4L493.2,53.0L493.8,53.4L494.4,53.8L495.0,54.4L495.6,52.9L496.2,53.3L496.8,53.7L497.4,54.2L498.0,54.2L498.6,54.2L499.2,52.4L499.8,52.0L500.4,53.9L501.0,51.6L501.6,52.5L502.2,53.2L502.8,52.6L503.4,52.2L504.0,53.5L504.6,51.8L505.2,52.4L505.8,53.1L506.4,51.3L507.0,51.8L507.6,52.1L508.2,52.3L508.8,51.3L509.4,51.9L510.0,50.8L510.6,50.9L511.2,51.5L511.8,50.9L512.4,53.0L513.0,51.1L513.6,51.1L514.2,52.4L514.8,52.3L515.4,51.0L516.0,52.4L516.6,51.9L517.2,51.2L517.8,51.8L518.4,50.7L519.0,50.7" fill="none" stroke="#b4b4b4" stroke-width="1.6" stroke-linejoin="round"/>
<path d="M374.5,54.8L375.1,52.9L375.7,52.8L376.3,52.6L376.9,54.4L377.5,53.9L378.1,52.5L378.7,52.6L379.3,54.6L379.9,53.7L380.5,54.7L381.1,52.6L381.7,54.1L382.3,53.0L382.9,54.7L383.5,54.5L384.1,54.6L384.7,53.8L385.3,55.8L385.9,53.7L386.5,53.8L387.1,55.6L387.7,54.2L388.3,54.3L388.9,55.5L389.5,56.2L390.1,57.0L390.7,56.9L391.3,55.7L391.9,57.7L392.5,58.8L393.1,57.4L393.7,59.6L394.3,58.8L394.9,59.4L395.5,59.3L396.1,62.0L396.7,62.1L397.3,63.9L397.9,63.5L398.5,63.5L399.1,64.4L399.7,65.2L400.3,67.9L400.9,66.9L401.5,67.5L402.1,69.1L402.7,69.2L403.3,71.0L403.9,72.5L404.5,73.4L405.1,72.9L405.7,73.6L406.3,75.2L406.9,76.5L407.5,76.6L408.1,77.7L408.7,79.3L409.3,78.0L409.9,79.0L410.5,80.1L411.1,80.9L411.7,82.4L412.3,82.1L412.9,83.0L413.5,83.0L414.1,84.5L414.7,85.2L415.3,84.4L415.9,84.5L416.5,85.5L417.1,86.4L417.7,88.4L418.3,87.4L418.9,88.9L419.5,89.5L420.1,91.0L420.7,89.4L421.3,91.7L421.9,91.1L422.5,91.1L423.1,93.1L423.7,94.1L424.3,93.9L424.9,92.9L425.5,95.8L426.1,94.7L426.7,95.8L427.3,96.5L427.9,95.7L428.5,96.5L429.1,96.6L429.7,96.4L430.3,96.7L430.9,98.7L431.5,98.3L432.1,99.8L432.7,98.1L433.3,99.0L433.9,99.0L434.5,101.3L435.1,101.2L435.7,101.7L436.3,101.0L436.9,100.3L437.5,101.4L438.1,101.3L438.7,101.2L439.3,103.0L439.9,102.7L440.5,102.6L441.1,104.0L441.7,105.5L442.3,105.8L442.9,104.8L443.5,104.1L444.1,106.1L444.7,104.6L445.3,105.9L445.9,105.0L446.5,107.6L447.1,106.6L447.7,106.5L448.3,106.2L448.9,107.1L449.5,108.3L450.1,107.0L450.7,106.6L451.3,107.5L451.9,108.6L452.5,107.3L453.1,108.0L453.7,108.8L454.3,107.3L454.9,108.7L455.5,108.0L456.1,107.1L456.7,107.0L457.3,109.5L457.9,108.4L458.5,108.5L459.1,109.9L459.7,109.1L460.3,109.1L460.9,108.8L461.5,110.3L462.1,109.4L462.7,110.3L463.3,111.4L463.9,111.1L464.5,109.5L465.1,107.3L465.7,105.3L466.3,102.1L466.9,96.5L467.5,94.8L468.1,88.6L468.7,84.9L469.3,81.0L469.9,78.3L470.5,76.2L471.1,74.2L471.7,69.8L472.3,68.9L472.9,65.8L473.5,65.6L474.1,63.2L474.7,62.2L475.3,60.5L475.9,61.3L476.5,58.9L477.1,59.9L477.7,58.3L478.3,58.6L478.9,58.3L479.5,57.5L480.1,58.0L480.7,57.7L481.3,55.7L481.9,55.6L482.5,56.8L483.1,54.8L483.7,55.4L484.3,55.2L484.9,56.5L485.5,54.2L486.1,55.4L486.7,55.5L487.3,55.3L487.9,53.3L488.5,55.6L489.1,53.9L489.7,55.2L490.3,54.6L490.9,53.9L491.5,55.0L492.1,54.5L492.7,53.5L493.3,54.5L493.9,53.8L494.5,54.2L495.1,53.9L495.7,54.3L496.3,52.6L496.9,53.4L497.5,52.0L498.1,54.0L498.7,53.9L499.3,54.0L499.9,51.9L500.5,53.1L501.1,52.9L501.7,51.9L502.3,52.1L502.9,54.0L503.5,53.6L504.1,52.0L504.7,53.4L505.3,52.9L505.9,52.2L506.5,52.8L507.1,51.6L507.7,51.7L508.3,51.0L508.9,52.6L509.5,52.4L510.1,52.8L510.7,52.1L511.3,51.9L511.9,51.5L512.5,52.6L513.1,51.6L513.7,52.2L514.3,52.5L514.9,51.7L515.5,52.3L516.1,50.6L516.7,51.1L517.3,52.6L517.9,50.7L518.5,50.4L519.1,50.3L519.7,52.2L520.3,50.4L520.9,51.3" fill="none" stroke="#b4b4b4" stroke-width="1.6" stroke-linejoin="round"/>
<path d="M372.7,55.5L373.3,55.6L373.9,54.3L374.5,56.3L375.1,56.3L375.7,55.9L376.3,56.4L376.9,55.9L377.5,56.1L378.1,56.5L378.7,55.9L379.3,54.3L379.9,56.7L380.5,57.1L381.1,55.2L381.7,54.9L382.3,55.8L382.9,55.3L383.5,56.1L384.1,55.5L384.7,56.0L385.3,55.6L385.9,56.9L386.5,56.8L387.1,58.1L387.7,57.3L388.3,56.9L388.9,59.3L389.5,59.7L390.1,59.7L390.7,59.0L391.3,60.0L391.9,60.6L392.5,61.0L393.1,60.5L393.7,62.3L394.3,63.9L394.9,64.4L395.5,65.6L396.1,65.9L396.7,66.9L397.3,67.9L397.9,68.8L398.5,69.3L399.1,69.2L399.7,70.8L400.3,71.7L400.9,73.2L401.5,73.6L402.1,73.8L402.7,74.0L403.3,75.1L403.9,75.7L404.5,77.6L405.1,78.5L405.7,77.8L406.3,79.4L406.9,81.0L407.5,80.4L408.1,80.3L408.7,82.3L409.3,82.2L409.9,82.3L410.5,83.2L411.1,83.1L411.7,84.1L412.3,85.4L412.9,85.2L413.5,85.5L414.1,87.5L414.7,89.2L415.3,89.5L415.9,88.7L416.5,90.9L417.1,89.3L417.7,90.1L418.3,90.3L418.9,91.0L419.5,93.1L420.1,94.1L420.7,93.9L421.3,95.4L421.9,94.9L422.5,96.6L423.1,96.2L423.7,96.5L424.3,96.0L424.9,97.1L425.5,97.6L426.1,99.0L426.7,97.8L427.3,98.4L427.9,100.1L428.5,98.5L429.1,100.1L429.7,99.6L430.3,101.1L430.9,101.3L431.5,100.3L432.1,102.2L432.7,101.7L433.3,101.8L433.9,103.4L434.5,103.5L435.1,102.6L435.7,103.9L436.3,102.9L436.9,104.3L437.5,103.6L438.1,105.4L438.7,106.5L439.3,106.2L439.9,105.0L440.5,106.5L441.1,106.6L441.7,106.8L442.3,106.3L442.9,106.9L443.5,107.5L444.1,106.8L444.7,108.6L445.3,107.6L445.9,107.9L446.5,107.5L447.1,108.2L447.7,110.0L448.3,108.5L448.9,108.1L449.5,108.9L450.1,110.5L450.7,108.4L451.3,109.1L451.9,108.8L452.5,110.1L453.1,109.6L453.7,108.7L454.3,110.8L454.9,109.5L455.5,110.6L456.1,110.2L456.7,111.4L457.3,109.4L457.9,110.0L458.5,110.3L459.1,110.6L459.7,112.4L460.3,111.9L460.9,111.8L461.5,112.6L462.1,113.6L462.7,112.4L463.3,109.7L463.9,107.0L464.5,103.7L465.1,99.1L465.7,95.1L466.3,90.4L466.9,87.5L467.5,84.8L468.1,79.7L468.7,77.3L469.3,75.4L469.9,72.7L470.5,69.3L471.1,68.5L471.7,67.8L472.3,64.5L472.9,63.4L473.5,64.1L474.1,63.6L474.7,60.6L475.3,59.9L475.9,60.9L476.5,59.6L477.1,60.1L477.7,58.1L478.3,58.8L478.9,57.6L479.5,57.6L480.1,58.3L480.7,57.7L481.3,58.5L481.9,58.3L482.5,57.6L483.1,58.0L483.7,56.1L484.3,56.8L484.9,56.2L485.5,56.9L486.1,55.4L486.7,57.3L487.3,55.9L487.9,56.9L488.5,57.2L489.1,57.1L489.7,55.6L490.3,56.7L490.9,57.0L491.5,54.7L492.1,56.2L492.7,56.1L493.3,55.3L493.9,54.8L494.5,54.4L495.1,55.0L495.7,56.3L496.3,54.8L496.9,54.4L497.5,55.3L498.1,54.7L498.7,55.1L499.3,54.7L499.9,54.2L500.5,53.4L501.1,55.4L501.7,54.9L502.3,53.8L502.9,54.4L503.5,54.6L504.1,54.3L504.7,55.3L505.3,54.9L505.9,53.6L506.5,53.7L507.1,54.3L507.7,53.1L508.3,55.1L508.9,52.7L509.5,53.9L510.1,53.3L510.7,53.9L511.3,52.6L511.9,53.0L512.5,55.0L513.1,54.4L513.7,52.9L514.3,53.5L514.9,52.3L515.5,52.5L516.1,52.7L516.7,54.7L517.3,52.9L517.9,52.7L518.5,52.2L519.1,52.2" fill="none" stroke="#b4b4b4" stroke-width="1.6" stroke-linejoin="round"/>
<path d="M375.0,56.3L375.6,56.1L376.2,56.0L376.8,54.6L377.4,54.4L378.0,54.7L378.6,54.1L379.2,54.4L379.8,55.8L380.4,55.2L381.0,54.0L381.6,54.8L382.2,56.3L382.8,56.4L383.4,56.2L384.0,56.3L384.6,56.9L385.2,56.1L385.8,55.8L386.4,56.4L387.0,55.9L387.6,55.4L388.2,56.2L388.8,56.9L389.4,56.2L390.0,56.2L390.6,56.8L391.2,57.5L391.8,59.6L392.4,58.8L393.0,60.3L393.6,60.5L394.2,60.6L394.8,60.5L395.4,61.1L396.0,61.6L396.6,63.2L397.2,64.5L397.8,65.1L398.4,64.6L399.0,64.9L399.6,65.3L400.2,67.6L400.8,67.5L401.4,67.9L402.0,69.5L402.6,70.2L403.2,71.1L403.8,73.2L404.4,73.9L405.0,74.0L405.6,75.9L406.2,75.3L406.8,77.9L407.4,76.5L408.0,78.5L408.6,79.6L409.2,80.4L409.8,80.4L410.4,82.0L411.0,82.0L411.6,82.8L412.2,81.8L412.8,82.7L413.4,84.0L414.0,84.8L414.6,84.2L415.2,86.5L415.8,86.1L416.4,87.0L417.0,87.7L417.6,89.2L418.2,88.4L418.8,89.6L419.4,90.3L420.0,91.1L420.6,90.8L421.2,91.3L421.8,92.4L422.4,93.3L423.0,94.0L423.6,93.3L424.2,94.6L424.8,95.3L425.4,94.8L426.0,95.0L426.6,97.6L427.2,95.7L427.8,97.4L428.4,97.3L429.0,97.0L429.6,98.0L430.2,98.1L430.8,99.0L431.4,100.7L432.0,98.9L432.6,100.0L433.2,101.2L433.8,101.3L434.4,100.1L435.0,100.9L435.6,101.3L436.2,103.2L436.8,102.4L437.4,102.2L438.0,103.1L438.6,103.5L439.2,103.0L439.8,104.8L440.4,105.3L441.0,105.1L441.6,105.6L442.2,106.6L442.8,107.3L443.4,106.7L444.0,105.5L444.6,106.9L445.2,107.5L445.8,106.9L446.4,108.1L447.0,107.5L447.6,108.3L448.2,108.4L448.8,108.7L449.4,109.5L450.0,109.1L450.6,109.3L451.2,109.4L451.8,108.3L452.4,109.4L453.0,109.4L453.6,108.0L454.2,109.9L454.8,108.6L455.4,109.3L456.0,109.5L456.6,110.1L457.2,110.4L457.8,109.7L458.4,111.1L459.0,110.0L459.6,110.5L460.2,111.7L460.8,110.1L461.4,111.4L462.0,112.4L462.6,110.5L463.2,112.6L463.8,112.6L464.4,112.5L465.0,112.7L465.6,110.5L466.2,105.4L466.8,103.0L467.4,99.3L468.0,95.5L468.6,92.2L469.2,88.1L469.8,84.4L470.4,78.8L471.0,77.2L471.6,75.9L472.2,73.4L472.8,70.5L473.4,67.9L474.0,67.6L474.6,65.4L475.2,64.5L475.8,63.5L476.4,63.2L477.0,61.9L477.6,61.9L478.2,60.2L478.8,59.8L479.4,59.8L480.0,59.2L480.6,57.4L481.2,59.3L481.8,57.3L482.4,57.5L483.0,56.2L483.6,56.4L484.2,58.2L484.8,56.4L485.4,56.3L486.0,57.5L486.6,55.8L487.2,56.8L487.8,56.4L488.4,57.1L489.0,55.9L489.6,55.4L490.2,55.2L490.8,55.4L491.4,54.4L492.0,54.6L492.6,54.6L493.2,54.9L493.8,56.1L494.4,56.4L495.0,54.8L495.6,54.5L496.2,54.5L496.8,55.3L497.4,54.9L498.0,53.8L498.6,54.8L499.2,54.1L499.8,53.7L500.4,55.3L501.0,53.5L501.6,54.3L502.2,55.1L502.8,54.5L503.4,55.3L504.0,53.7L504.6,55.3L505.2,52.9L505.8,55.1L506.4,53.8L507.0,52.6L507.6,53.2L508.2,55.1L508.8,54.3L509.4,54.4L510.0,54.5L510.6,52.4L511.2,53.1L511.8,53.5L512.4,54.6L513.0,54.6L513.6,52.5L514.2,54.7L514.8,53.5L515.4,52.8L516.0,52.2L516.6,53.1L517.2,53.3L517.8,53.1L518.4,52.6L519.0,54.3L519.6,53.0L520.2,52.5L520.8,53.7L521.4,52.3" fill="none" stroke="#b4b4b4" stroke-width="1.6" stroke-linejoin="round"/>
<path d="M372.7,51.4L373.3,53.4L373.9,52.4L374.5,52.1L375.1,52.5L375.7,52.5L376.3,52.1L376.9,51.7L377.5,51.2L378.1,50.8L378.7,51.1L379.3,51.8L379.9,50.9L380.5,52.8L381.1,52.0L381.7,51.9L382.3,52.2L382.9,52.8L383.5,52.2L384.1,54.0L384.7,53.2L385.3,52.3L385.9,52.5L386.5,54.8L387.1,54.2L387.7,53.6L388.3,54.9L388.9,53.5L389.5,56.2L390.1,56.8L390.7,56.6L391.3,55.5L391.9,57.0L392.5,58.6L393.1,58.5L393.7,58.2L394.3,59.0L394.9,59.3L395.5,61.2L396.1,61.1L396.7,62.5L397.3,64.5L397.9,65.2L398.5,65.0L399.1,66.7L399.7,65.9L400.3,68.9L400.9,69.6L401.5,69.5L402.1,71.5L402.7,70.8L403.3,73.3L403.9,72.4L404.5,74.7L405.1,75.2L405.7,76.2L406.3,76.4L406.9,75.5L407.5,76.7L408.1,78.3L408.7,79.6L409.3,79.6L409.9,78.5L410.5,79.9L411.1,80.5L411.7,80.6L412.3,81.4L412.9,82.7L413.5,83.0L414.1,83.3L414.7,84.3L415.3,86.3L415.9,85.9L416.5,86.9L417.1,88.0L417.7,86.3L418.3,89.1L418.9,87.6L419.5,88.5L420.1,90.5L420.7,91.1L421.3,91.4L421.9,91.5L422.5,92.6L423.1,92.3L423.7,92.1L424.3,92.6L424.9,92.8L425.5,93.0L426.1,95.8L426.7,96.2L427.3,95.0L427.9,95.5L428.5,95.5L429.1,97.2L429.7,96.8L430.3,96.3L430.9,98.5L431.5,98.9L432.1,96.9L432.7,98.3L433.3,98.0L433.9,99.4L434.5,99.0L435.1,99.1L435.7,99.5L436.3,100.7L436.9,100.8L437.5,101.1L438.1,102.0L438.7,101.9L439.3,103.5L439.9,102.6L440.5,103.7L441.1,104.3L441.7,103.8L442.3,103.9L442.9,104.7L443.5,104.7L444.1,103.6L444.7,104.4L445.3,103.9L445.9,103.7L446.5,105.6L447.1,104.8L447.7,104.8L448.3,104.3L448.9,104.5L449.5,106.3L450.1,105.5L450.7,105.8L451.3,106.5L451.9,107.1L452.5,106.6L453.1,105.5L453.7,107.5L454.3,105.5L454.9,106.7L455.5,107.0L456.1,106.2L456.7,108.0L457.3,107.4L457.9,107.8L458.5,106.5L459.1,108.5L459.7,107.5L460.3,108.7L460.9,109.3L461.5,108.6L462.1,108.6L462.7,108.3L463.3,107.6L463.9,103.5L464.5,99.8L465.1,96.0L465.7,92.2L466.3,87.2L466.9,83.0L467.5,79.4L468.1,77.0L468.7,74.4L469.3,72.8L469.9,69.3L470.5,67.6L471.1,66.4L471.7,63.7L472.3,62.0L472.9,60.8L473.5,59.7L474.1,59.8L474.7,58.4L475.3,56.5L475.9,58.3L476.5,56.7L477.1,56.9L477.7,55.9L478.3,55.6L478.9,55.2L479.5,53.6L480.1,53.4L480.7,54.8L481.3,53.6L481.9,52.9L482.5,54.6L483.1,54.3L483.7,54.2L484.3,53.0L484.9,52.2L485.5,53.7L486.1,52.2L486.7,53.2L487.3,53.2L487.9,52.0L488.5,51.3L489.1,52.7L489.7,53.2L490.3,52.6L490.9,53.5L491.5,51.5L492.1,52.7L492.7,51.9L493.3,52.2L493.9,51.4L494.5,51.1L495.1,51.9L495.7,51.9L496.3,52.6L496.9,51.8L497.5,51.5L498.1,51.8L498.7,51.7L499.3,51.0L499.9,50.6L500.5,51.6L501.1,50.8L501.7,49.8L502.3,50.1L502.9,50.6L503.5,51.3L504.1,51.2L504.7,50.7L505.3,51.5L505.9,50.2L506.5,50.2L507.1,51.2L507.7,51.0L508.3,50.3L508.9,51.4L509.5,49.2L510.1,50.5L510.7,51.2L511.3,51.3L511.9,49.4L512.5,51.0L513.1,50.2L513.7,51.2L514.3,49.6L514.9,50.5L515.5,50.4L516.1,51.2L516.7,49.5L517.3,49.6L517.9,48.9L518.5,50.3L519.1,48.6" fill="none" stroke="#b4b4b4" stroke-width="1.6" stroke-linejoin="round"/>
<path d="M374.4,51.5L375.0,53.5L375.6,52.3L376.2,52.9L376.8,51.9L377.4,51.6L378.0,51.9L378.6,53.5L379.2,51.5L379.8,53.3L380.4,53.3L381.0,52.8L381.6,51.8L382.2,53.1L382.8,53.7L383.4,53.0L384.0,52.2L384.6,53.3L385.2,54.3L385.8,53.5L386.4,52.5L387.0,52.9L387.6,54.2L388.2,52.8L388.8,52.9L389.4,54.0L390.0,53.9L390.6,54.9L391.2,54.3L391.8,56.1L392.4,56.9L393.0,56.4L393.6,57.6L394.2,58.0L394.8,59.2L395.4,59.3L396.0,60.2L396.6,60.8L397.2,62.2L397.8,61.1L398.4,61.9L399.0,64.6L399.6,65.3L400.2,64.0L400.8,67.2L401.4,67.4L402.0,68.9L402.6,69.4L403.2,69.5L403.8,69.7L404.4,72.2L405.0,72.9L405.6,73.0L406.2,73.2L406.8,74.2L407.4,76.4L408.0,76.0L408.6,76.1L409.2,78.8L409.8,79.3L410.4,77.9L411.0,78.5L411.6,80.5L412.2,80.2L412.8,81.0L413.4,82.2L414.0,81.7L414.6,83.1L415.2,82.7L415.8,83.4L416.4,84.8L417.0,85.1L417.6,86.9L418.2,85.6L418.8,88.2L419.4,87.1L420.0,87.9L420.6,87.9L421.2,89.0L421.8,91.4L422.4,90.3L423.0,92.2L423.6,93.0L424.2,92.7L424.8,91.8L425.4,92.9L426.0,92.7L426.6,93.4L427.2,94.0L427.8,94.0L428.4,95.7L429.0,95.7L429.6,95.4L430.2,95.7L430.8,95.8L431.4,96.0L432.0,97.2L432.6,96.6L433.2,98.1L433.8,97.7L434.4,99.3L435.0,98.3L435.6,100.2L436.2,100.7L436.8,101.0L437.4,99.5L438.0,101.7L438.6,100.9L439.2,102.4L439.8,101.7L440.4,102.3L441.0,101.9L441.6,103.6L442.2,102.8L442.8,104.4L443.4,104.2L444.0,103.7L444.6,102.9L445.2,103.8L445.8,104.4L446.4,104.5L447.0,105.2L447.6,103.9L448.2,105.2L448.8,106.5L449.4,106.8L450.0,106.3L450.6,106.4L451.2,106.3L451.8,107.4L452.4,106.9L453.0,106.1L453.6,106.3L454.2,107.5L454.8,106.5L455.4,106.7L456.0,106.1L456.6,107.1L457.2,106.8L457.8,108.2L458.4,108.5L459.0,108.6L459.6,108.6L460.2,106.4L460.8,106.8L461.4,107.8L462.0,109.4L462.6,109.1L463.2,108.6L463.8,108.4L464.4,108.3L465.0,105.6L465.6,102.4L466.2,100.7L466.8,95.3L467.4,91.2L468.0,88.4L468.6,83.4L469.2,81.4L469.8,77.4L470.4,75.4L471.0,72.4L471.6,69.8L472.2,66.3L472.8,65.2L473.4,63.6L474.0,62.1L474.6,62.2L475.2,60.0L475.8,60.1L476.4,58.7L477.0,56.6L477.6,56.5L478.2,57.1L478.8,57.2L479.4,55.3L480.0,55.0L480.6,54.9L481.2,54.7L481.8,54.3L482.4,55.5L483.0,54.5L483.6,53.5L484.2,53.6L484.8,53.8L485.4,52.8L486.0,53.3L486.6,52.3L487.2,53.7L487.8,54.1L488.4,54.0L489.0,53.2L489.6,52.5L490.2,52.9L490.8,52.8L491.4,51.8L492.0,52.6L492.6,52.5L493.2,51.6L493.8,52.2L494.4,53.1L495.0,52.5L495.6,51.6L496.2,51.3L496.8,52.3L497.4,52.0L498.0,51.3L498.6,51.7L499.2,51.4L499.8,51.9L500.4,52.5L501.0,51.2L501.6,51.5L502.2,51.5L502.8,51.7L503.4,50.6L504.0,50.5L504.6,52.2L505.2,50.1L505.8,51.5L506.4,50.3L507.0,50.9L507.6,50.7L508.2,50.1L508.8,49.9L509.4,51.9L510.0,49.5L510.6,49.7L511.2,51.2L511.8,50.2L512.4,49.7L513.0,51.2L513.6,51.7L514.2,49.6L514.8,50.9L515.4,50.1L516.0,51.6L516.6,50.5L517.2,51.2L517.8,50.6L518.4,49.2L519.0,49.9L519.6,50.6L520.2,49.1L520.8,48.9" fill="none" stroke="#b4b4b4" stroke-width="1.6" stroke-linejoin="round"/>
<path d="M374.9,56.6L375.5,55.0L376.1,56.7L376.7,57.4L377.3,56.9L377.9,56.7L378.5,56.0L379.1,56.5L379.7,57.3L380.3,56.2L380.9,55.1L381.5,55.3L382.1,57.5L382.7,57.0L383.3,57.7L383.9,55.7L384.5,55.8L385.1,57.4L385.7,56.8L386.3,57.1L386.9,56.6L387.5,58.2L388.1,58.4L388.7,58.5L389.3,57.9L389.9,58.2L390.5,58.1L391.1,58.7L391.7,58.8L392.3,59.7L392.9,61.5L393.5,61.6L394.1,60.4L394.7,62.3L395.3,63.2L395.9,62.6L396.5,64.8L397.1,65.7L397.7,64.2L398.3,66.4L398.9,66.5L399.5,67.4L400.1,68.4L400.7,70.1L401.3,70.4L401.9,72.0L402.5,71.2L403.1,73.5L403.7,73.4L404.3,73.7L404.9,76.2L405.5,76.4L406.1,76.2L406.7,78.7L407.3,78.4L407.9,79.6L408.5,81.2L409.1,80.2L409.7,81.5L410.3,82.1L410.9,82.0L411.5,83.3L412.1,85.0L412.7,84.9L413.3,84.4L413.9,86.1L414.5,86.5L415.1,86.4L415.7,87.8L416.3,87.7L416.9,89.3L417.5,88.9L418.1,90.6L418.7,89.9L419.3,90.1L419.9,91.1L420.5,91.2L421.1,93.8L421.7,94.7L422.3,93.8L422.9,93.9L423.5,96.2L424.1,96.6L424.7,95.4L425.3,96.0L425.9,97.0L426.5,96.5L427.1,97.1L427.7,98.1L428.3,97.8L428.9,98.2L429.5,99.8L430.1,99.3L430.7,101.3L431.3,101.8L431.9,101.4L432.5,100.7L433.1,102.3L433.7,101.5L434.3,103.2L434.9,102.3L435.5,103.3L436.1,103.8L436.7,104.0L437.3,104.4L437.9,103.7L438.5,103.6L439.1,104.5L439.7,106.4L440.3,104.4L440.9,105.5L441.5,105.9L442.1,106.7L442.7,108.0L443.3,106.5L443.9,106.5L444.5,106.5L445.1,107.6L445.7,108.9L446.3,108.4L446.9,109.1L447.5,108.9L448.1,108.7L448.7,109.0L449.3,108.2L449.9,110.7L450.5,110.3L451.1,108.8L451.7,109.2L452.3,110.7L452.9,110.1L453.5,110.8L454.1,110.8L454.7,109.3L455.3,111.1L455.9,109.6L456.5,109.5L457.1,111.2L457.7,111.6L458.3,110.4L458.9,110.8L459.5,111.8L460.1,110.8L460.7,111.4L461.3,113.1L461.9,111.2L462.5,113.6L463.1,113.8L463.7,114.4L464.3,112.6L464.9,112.1L465.5,110.3L466.1,106.4L466.7,105.1L467.3,100.1L467.9,96.8L468.5,91.9L469.1,88.2L469.7,85.6L470.3,79.9L470.9,77.6L471.5,76.6L472.1,73.3L472.7,71.5L473.3,70.6L473.9,68.5L474.5,66.6L475.1,65.6L475.7,64.2L476.3,62.5L476.9,61.8L477.5,62.7L478.1,61.2L478.7,59.5L479.3,60.7L479.9,61.2L480.5,59.8L481.1,59.1L481.7,58.5L482.3,58.8L482.9,58.6L483.5,58.1L484.1,59.0L484.7,58.9L485.3,58.4L485.9,58.2L486.5,58.0L487.1,56.5L487.7,57.1L488.3,56.4L488.9,56.1L489.5,58.0L490.1,56.0L490.7,57.5L491.3,57.4L491.9,56.3L492.5,55.2L493.1,55.5L493.7,56.7L494.3,56.7L494.9,55.7L495.5,56.3L496.1,55.1L496.7,56.3L497.3,56.6L497.9,56.5L498.5,55.8L499.1,55.8L499.7,54.3L500.3,54.9L500.9,55.2L501.5,54.3L502.1,54.2L502.7,56.4L503.3,55.7L503.9,55.3L504.5,55.6L505.1,56.0L505.7,55.3L506.3,54.7L506.9,54.6L507.5,56.0L508.1,55.9L508.7,53.8L509.3,55.5L509.9,55.0L510.5,54.2L511.1,55.0L511.7,53.9L512.3,55.1L512.9,54.6L513.5,54.6L514.1,53.2L514.7,55.3L515.3,55.4L515.9,54.9L516.5,53.6L517.1,54.7L517.7,53.1L518.3,54.2L518.9,53.6L519.5,53.9L520.1,53.4L520.7,52.8L521.3,53.7" fill="none" stroke="#b4b4b4" stroke-width="1.6" stroke-linejoin="round"/>
<path d="M372.5,54.1L373.1,54.2L373.7,53.5L374.3,53.1L374.9,52.6L375.5,53.9L376.1,53.5L376.7,54.1L377.3,53.3L377.9,54.1L378.5,53.1L379.1,54.2L379.7,54.1L380.3,53.6L380.9,54.0L381.5,54.4L382.1,53.5L382.7,54.4L383.3,55.0L383.9,54.1L384.5,55.3L385.1,55.3L385.7,55.8L386.3,54.9L386.9,54.6L387.5,56.2L388.1,56.4L388.7,56.0L389.3,55.9L389.9,56.6L390.5,58.0L391.1,57.8L391.7,59.6L392.3,59.4L392.9,59.1L393.5,60.7L394.1,60.9L394.7,62.8L395.3,63.5L395.9,63.4L396.5,64.4L397.1,65.3L397.7,66.3L398.3,67.5L398.9,66.5L399.5,68.1L400.1,69.5L400.7,69.8L401.3,71.2L401.9,71.1L402.5,73.6L403.1,73.6L403.7,73.6L404.3,75.4L404.9,75.5L405.5,76.0L406.1,77.3L406.7,77.4L407.3,78.2L407.9,80.1L408.5,80.4L409.1,79.6L409.7,81.7L410.3,80.8L410.9,82.0L411.5,83.8L412.1,83.8L412.7,83.8L413.3,84.5L413.9,85.2L414.5,85.2L415.1,87.6L415.7,86.3L416.3,87.6L416.9,88.9L417.5,88.8L418.1,90.5L418.7,89.7L419.3,91.7L419.9,92.2L420.5,92.3L421.1,93.4L421.7,92.9L422.3,94.1L422.9,94.5L423.5,94.4L424.1,94.8L424.7,95.7L425.3,95.5L425.9,95.3L426.5,97.0L427.1,96.4L427.7,97.2L428.3,98.2L428.9,97.3L429.5,97.4L430.1,97.9L430.7,99.2L431.3,99.0L431.9,99.1L432.5,99.8L433.1,101.1L433.7,100.0L434.3,100.6L434.9,101.9L435.5,101.7L436.1,101.4L436.7,102.2L437.3,102.6L437.9,102.3L438.5,103.2L439.1,103.4L439.7,104.8L440.3,104.1L440.9,105.0L441.5,105.9L442.1,106.0L442.7,105.2L443.3,105.9L443.9,105.5L444.5,105.9L445.1,106.3L445.7,107.0L446.3,107.5L446.9,106.3L447.5,105.9L448.1,106.9L448.7,106.3L449.3,106.4L449.9,107.9L450.5,106.7L451.1,107.9L451.7,107.3L452.3,108.5L452.9,108.4L453.5,106.9L454.1,107.2L454.7,108.9L455.3,108.4L455.9,108.1L456.5,109.0L457.1,109.2L457.7,108.7L458.3,108.8L458.9,108.4L459.5,109.2L460.1,109.1L460.7,110.4L461.3,110.7L461.9,110.0L462.5,110.5L463.1,107.0L463.7,103.8L464.3,101.6L464.9,97.3L465.5,94.1L466.1,89.6L466.7,86.0L467.3,81.1L467.9,78.9L468.5,74.8L469.1,73.3L469.7,71.3L470.3,69.0L470.9,67.5L471.5,65.1L472.1,64.1L472.7,62.9L473.3,60.7L473.9,61.5L474.5,60.5L475.1,58.9L475.7,59.1L476.3,58.0L476.9,57.3L477.5,57.7L478.1,56.0L478.7,57.1L479.3,57.0L479.9,55.4L480.5,56.5L481.1,54.7L481.7,56.1L482.3,54.8L482.9,56.0L483.5,54.8L484.1,55.7L484.7,53.7L485.3,53.7L485.9,55.0L486.5,54.5L487.1,54.3L487.7,53.2L488.3,53.4L488.9,53.7L489.5,53.0L490.1,54.8L490.7,54.3L491.3,54.6L491.9,54.0L492.5,53.2L493.1,52.6L493.7,53.8L494.3,52.5L494.9,53.3L495.5,53.1L496.1,53.0L496.7,52.2L497.3,52.1L497.9,52.9L498.5,51.9L499.1,52.8L499.7,52.0L500.3,52.2L500.9,51.9L501.5,52.7L502.1,52.2L502.7,51.8L503.3,51.8L503.9,52.4L504.5,53.0L505.1,52.0L505.7,51.4L506.3,51.7L506.9,51.5L507.5,52.1L508.1,52.5L508.7,52.1L509.3,51.3L509.9,51.5L510.5,51.6L511.1,51.6L511.7,51.5L512.3,52.7L512.9,51.7L513.5,51.9L514.1,52.0L514.7,51.8L515.3,52.1L515.9,51.2L516.5,51.7L517.1,52.3L517.7,50.6L518.3,51.5L518.9,51.0" fill="none" stroke="#2b2b2b" stroke-width="1.2" stroke-linejoin="round"/>
<path d="M380.9,85.6L380.9,113.0L407.2,113.0" fill="none" stroke="#222" stroke-width="1.15" stroke-linejoin="round"/>
<text x="376.20" y="100.80" font-size="6.8" text-anchor="middle" textLength="29.00" lengthAdjust="spacingAndGlyphs" transform="rotate(-90 376.20 100.80)">20 pA/pF</text>
<text x="381.40" y="122.20" font-size="6.8" textLength="24.50" lengthAdjust="spacingAndGlyphs">100 ms</text>
<text x="563.4" y="24.2" font-size="9" textLength="101" lengthAdjust="spacingAndGlyphs"><tspan font-style="italic">I</tspan>/<tspan font-style="italic">V</tspan> curve AzPico TRPC4</text>
<line x1="590.40" y1="32.60" x2="590.40" y2="119.60" stroke="#888" stroke-width="0.8"/>
<line x1="551.00" y1="90.10" x2="630.20" y2="90.10" stroke="#888" stroke-width="0.8"/>
<line x1="588.40" y1="32.70" x2="590.40" y2="32.70" stroke="#888" stroke-width="0.8"/>
<text x="586.60" y="35.20" font-size="7.4" text-anchor="end" textLength="12.80" lengthAdjust="spacingAndGlyphs">100</text>
<line x1="588.40" y1="47.05" x2="590.40" y2="47.05" stroke="#888" stroke-width="0.8"/>
<text x="586.60" y="49.55" font-size="7.4" text-anchor="end" textLength="8.60" lengthAdjust="spacingAndGlyphs">75</text>
<line x1="588.40" y1="61.40" x2="590.40" y2="61.40" stroke="#888" stroke-width="0.8"/>
<text x="586.60" y="63.90" font-size="7.4" text-anchor="end" textLength="8.60" lengthAdjust="spacingAndGlyphs">50</text>
<line x1="588.40" y1="75.75" x2="590.40" y2="75.75" stroke="#888" stroke-width="0.8"/>
<text x="586.60" y="78.25" font-size="7.4" text-anchor="end" textLength="8.60" lengthAdjust="spacingAndGlyphs">25</text>
<line x1="588.40" y1="104.45" x2="590.40" y2="104.45" stroke="#888" stroke-width="0.8"/>
<text x="586.60" y="106.95" font-size="7.4" text-anchor="end" textLength="12.80" lengthAdjust="spacingAndGlyphs">–25</text>
<line x1="588.40" y1="118.80" x2="590.40" y2="118.80" stroke="#888" stroke-width="0.8"/>
<text x="586.60" y="121.30" font-size="7.4" text-anchor="end" textLength="12.80" lengthAdjust="spacingAndGlyphs">–50</text>
<line x1="551.00" y1="90.10" x2="551.00" y2="92.00" stroke="#888" stroke-width="0.8"/>
<line x1="570.70" y1="90.10" x2="570.70" y2="92.00" stroke="#888" stroke-width="0.8"/>
<line x1="610.10" y1="90.10" x2="610.10" y2="92.00" stroke="#888" stroke-width="0.8"/>
<line x1="629.80" y1="90.10" x2="629.80" y2="92.00" stroke="#888" stroke-width="0.8"/>
<text x="557.80" y="86.60" font-size="7.0" text-anchor="end" textLength="15.90" lengthAdjust="spacingAndGlyphs">–100</text>
<text x="577.40" y="86.60" font-size="7.0" text-anchor="end" textLength="12.40" lengthAdjust="spacingAndGlyphs">–50</text>
<text x="609.60" y="100.40" font-size="7.0" text-anchor="middle">50</text>
<text x="629.20" y="100.40" font-size="7.0" text-anchor="middle">100</text>
<text x="625.00" y="110.30" font-size="7.0" text-anchor="middle">[mV]</text>
<text x="564.80" y="53.40" font-size="7.8" text-anchor="middle" textLength="24.00" lengthAdjust="spacingAndGlyphs" transform="rotate(-90 564.80 53.40)">pA/pF</text>
<path d="M551.0,92.7L551.4,93.2L551.8,93.1L552.2,92.7L552.6,92.9L553.0,92.8L553.4,92.9L553.8,93.0L554.2,92.5L554.5,92.4L554.9,92.9L555.3,92.6L555.7,92.8L556.1,92.2L556.5,92.5L556.9,92.7L557.3,92.3L557.7,92.8L558.1,92.7L558.5,92.1L558.9,92.1L559.3,92.4L559.7,92.6L560.1,92.2L560.5,92.1L560.9,92.2L561.2,91.9L561.6,92.0L562.0,92.1L562.4,92.1L562.8,91.9L563.2,91.9L563.6,91.9L564.0,92.0L564.4,91.8L564.8,91.6L565.2,92.2L565.6,91.9L566.0,92.0L566.4,91.6L566.8,92.2L567.2,92.0L567.5,91.5L567.9,91.6L568.3,91.9L568.7,91.8L569.1,92.0L569.5,91.6L569.9,91.8L570.3,91.7L570.7,91.4L571.1,91.6L571.5,91.7L571.9,91.7L572.3,91.4L572.7,91.5L573.1,91.0L573.5,91.2L573.9,91.5L574.2,91.2L574.6,91.0L575.0,91.3L575.4,91.3L575.8,91.3L576.2,91.0L576.6,91.1L577.0,91.1L577.4,91.2L577.8,91.0L578.2,90.9L578.6,91.0L579.0,90.6L579.4,90.6L579.8,91.0L580.2,91.2L580.5,90.9L580.9,90.7L581.3,90.5L581.7,90.7L582.1,91.0L582.5,90.9L582.9,90.7L583.3,90.9L583.7,90.4L584.1,90.6L584.5,90.8L584.9,90.6L585.3,90.4L585.7,90.3L586.1,90.4L586.5,90.7L586.9,90.0L587.2,90.5L587.6,90.5L588.0,90.5L588.4,90.4L588.8,90.4L589.2,90.2L589.6,90.2L590.0,90.1L590.4,89.8L590.8,90.3L591.2,90.1L591.6,89.8L592.0,90.0L592.4,89.9L592.8,89.8L593.2,89.8L593.6,89.9L593.9,89.9L594.3,89.9L594.7,89.7L595.1,89.4L595.5,89.5L595.9,89.4L596.3,89.7L596.7,89.8L597.1,89.8L597.5,89.7L597.9,89.7L598.3,89.3L598.7,89.7L599.1,89.5L599.5,89.1L599.9,89.0L600.2,89.0L600.6,89.5L601.0,89.1L601.4,88.9L601.8,89.3L602.2,89.0L602.6,88.8L603.0,88.9L603.4,89.1L603.8,88.8L604.2,88.8L604.6,89.1L605.0,88.9L605.4,88.8L605.8,88.9L606.2,88.5L606.6,88.7L606.9,88.7L607.3,88.5L607.7,88.4L608.1,89.0L608.5,88.7L608.9,88.4L609.3,88.7L609.7,88.8L610.1,88.2L610.5,88.2L610.9,88.2L611.3,88.6L611.7,88.2L612.1,88.5L612.5,88.5L612.9,88.3L613.3,88.1L613.6,88.6L614.0,88.4L614.4,88.2L614.8,87.9L615.2,88.2L615.6,88.0L616.0,88.1L616.4,87.9L616.8,88.1L617.2,87.6L617.6,87.8L618.0,88.2L618.4,88.1L618.8,87.7L619.2,88.0L619.6,87.6L619.9,88.0L620.3,87.9L620.7,87.6L621.1,87.5L621.5,87.3L621.9,87.8L622.3,87.2L622.7,87.7L623.1,87.8L623.5,87.5L623.9,87.2L624.3,87.6L624.7,87.7L625.1,87.5L625.5,87.3L625.9,87.2L626.3,87.1L626.6,87.0L627.0,87.3L627.4,87.1L627.8,86.9L628.2,86.8L628.6,87.2L629.0,86.9L629.4,87.0L629.8,86.8" fill="none" stroke="#b0b0b0" stroke-width="1.6" stroke-linejoin="round"/>
<path d="M551.0,94.7L551.4,94.7L551.8,94.0L552.2,94.0L552.6,94.5L553.0,94.4L553.4,94.3L553.8,94.0L554.2,94.1L554.5,94.1L554.9,94.0L555.3,93.7L555.7,93.8L556.1,93.8L556.5,94.0L556.9,94.1L557.3,94.0L557.7,93.7L558.1,93.6L558.5,93.4L558.9,93.2L559.3,93.2L559.7,93.4L560.1,93.3L560.5,93.3L560.9,93.6L561.2,93.3L561.6,93.3L562.0,93.0L562.4,92.8L562.8,93.0L563.2,92.8L563.6,93.1L564.0,93.4L564.4,93.1L564.8,92.7L565.2,93.2L565.6,93.0L566.0,93.0L566.4,93.0L566.8,92.9L567.2,92.9L567.5,92.5L567.9,92.9L568.3,92.9L568.7,92.3L569.1,92.6L569.5,92.6L569.9,92.3L570.3,92.3L570.7,92.3L571.1,92.5L571.5,92.2L571.9,92.4L572.3,92.0L572.7,92.3L573.1,92.3L573.5,91.9L573.9,92.0L574.2,92.2L574.6,92.0L575.0,91.8L575.4,91.6L575.8,91.6L576.2,91.8L576.6,91.4L577.0,91.9L577.4,91.4L577.8,91.8L578.2,91.3L578.6,91.7L579.0,91.5L579.4,91.3L579.8,91.3L580.2,91.3L580.5,91.3L580.9,91.0L581.3,90.9L581.7,91.1L582.1,91.3L582.5,91.1L582.9,90.6L583.3,91.1L583.7,91.0L584.1,91.1L584.5,90.5L584.9,90.9L585.3,90.4L585.7,90.7L586.1,90.4L586.5,90.3L586.9,90.8L587.2,90.2L587.6,90.4L588.0,90.6L588.4,90.1L588.8,90.1L589.2,90.5L589.6,90.1L590.0,90.3L590.4,89.8L590.8,90.0L591.2,89.8L591.6,90.1L592.0,89.7L592.4,90.3L592.8,89.6L593.2,90.1L593.6,89.5L593.9,89.7L594.3,90.0L594.7,89.5L595.1,89.5L595.5,89.9L595.9,89.6L596.3,89.3L596.7,90.0L597.1,89.4L597.5,89.3L597.9,89.4L598.3,89.6L598.7,89.7L599.1,89.2L599.5,89.3L599.9,89.1L600.2,89.3L600.6,89.5L601.0,89.5L601.4,89.6L601.8,89.4L602.2,89.5L602.6,89.4L603.0,89.2L603.4,89.0L603.8,89.2L604.2,89.0L604.6,88.8L605.0,89.0L605.4,89.3L605.8,88.7L606.2,89.0L606.6,88.8L606.9,88.9L607.3,88.6L607.7,89.2L608.1,88.6L608.5,88.9L608.9,88.7L609.3,88.4L609.7,88.7L610.1,88.4L610.5,88.3L610.9,88.3L611.3,88.3L611.7,88.2L612.1,88.6L612.5,88.4L612.9,88.7L613.3,88.7L613.6,88.7L614.0,88.1L614.4,88.2L614.8,88.0L615.2,88.2L615.6,88.2L616.0,88.3L616.4,88.2L616.8,87.8L617.2,87.9L617.6,87.9L618.0,87.5L618.4,87.5L618.8,87.7L619.2,87.5L619.6,87.9L619.9,87.5L620.3,87.2L620.7,87.1L621.1,87.0L621.5,86.8L621.9,86.9L622.3,86.7L622.7,86.4L623.1,86.5L623.5,86.0L623.9,86.4L624.3,86.1L624.7,85.7L625.1,85.2L625.5,84.9L625.9,84.7L626.3,84.1L626.6,84.1L627.0,83.9L627.4,83.4L627.8,83.1L628.2,83.3L628.6,82.7L629.0,82.6L629.4,82.6L629.8,82.1" fill="none" stroke="#333" stroke-width="2.3" stroke-linejoin="round"/>
<path d="M551.0,98.0L551.4,98.1L551.8,97.9L552.2,98.0L552.6,97.9L553.0,97.4L553.4,97.3L553.8,97.8L554.2,97.3L554.5,97.2L554.9,97.6L555.3,97.2L555.7,97.3L556.1,97.0L556.5,97.0L556.9,96.6L557.3,96.9L557.7,96.9L558.1,96.6L558.5,96.7L558.9,96.5L559.3,96.0L559.7,96.4L560.1,96.2L560.5,95.9L560.9,95.7L561.2,96.2L561.6,95.8L562.0,95.9L562.4,95.9L562.8,95.7L563.2,95.8L563.6,95.3L564.0,95.5L564.4,95.2L564.8,95.4L565.2,95.3L565.6,94.7L566.0,94.6L566.4,94.6L566.8,95.0L567.2,94.6L567.5,94.6L567.9,94.3L568.3,94.4L568.7,94.2L569.1,94.1L569.5,94.1L569.9,94.1L570.3,94.2L570.7,94.0L571.1,94.1L571.5,93.9L571.9,94.0L572.3,93.7L572.7,93.2L573.1,93.6L573.5,93.6L573.9,93.5L574.2,93.2L574.6,93.2L575.0,92.8L575.4,93.2L575.8,92.9L576.2,92.6L576.6,92.4L577.0,92.9L577.4,92.9L577.8,92.2L578.2,92.6L578.6,92.3L579.0,92.0L579.4,92.0L579.8,92.3L580.2,92.3L580.5,91.6L580.9,92.0L581.3,91.5L581.7,91.9L582.1,91.5L582.5,91.9L582.9,91.9L583.3,91.4L583.7,91.7L584.1,91.2L584.5,90.9L584.9,91.2L585.3,90.7L585.7,90.8L586.1,90.9L586.5,90.9L586.9,90.5L587.2,90.4L587.6,90.9L588.0,90.4L588.4,90.8L588.8,90.7L589.2,90.2L589.6,90.2L590.0,90.2L590.4,90.2L590.8,90.1L591.2,90.0L591.6,90.0L592.0,90.2L592.4,89.9L592.8,89.7L593.2,89.9L593.6,89.5L593.9,89.5L594.3,89.9L594.7,89.6L595.1,89.5L595.5,89.1L595.9,89.3L596.3,89.4L596.7,89.0L597.1,89.3L597.5,89.3L597.9,88.8L598.3,89.2L598.7,89.0L599.1,89.1L599.5,88.8L599.9,89.0L600.2,89.0L600.6,88.5L601.0,88.4L601.4,88.8L601.8,89.0L602.2,88.4L602.6,88.5L603.0,88.6L603.4,88.3L603.8,88.3L604.2,88.2L604.6,88.2L605.0,88.4L605.4,88.1L605.8,88.1L606.2,88.3L606.6,87.8L606.9,88.1L607.3,88.2L607.7,87.8L608.1,87.7L608.5,88.1L608.9,87.6L609.3,87.6L609.7,87.7L610.1,87.8L610.5,87.4L610.9,87.4L611.3,87.4L611.7,87.7L612.1,87.3L612.5,87.6L612.9,87.0L613.3,87.1L613.6,87.3L614.0,87.4L614.4,87.0L614.8,86.8L615.2,86.6L615.6,86.9L616.0,86.6L616.4,86.9L616.8,86.9L617.2,86.4L617.6,86.4L618.0,86.7L618.4,86.5L618.8,86.6L619.2,86.2L619.6,86.0L619.9,86.1L620.3,86.2L620.7,85.7L621.1,85.6L621.5,85.5L621.9,85.4L622.3,85.2L622.7,85.4L623.1,84.7L623.5,84.5L623.9,85.0L624.3,84.6L624.7,84.4L625.1,83.7L625.5,83.8L625.9,83.5L626.3,82.6L626.6,82.5L627.0,82.1L627.4,81.5L627.8,80.9L628.2,80.2L628.6,79.7L629.0,79.0L629.4,78.3L629.8,78.1" fill="none" stroke="#2e3192" stroke-width="2.3" stroke-linejoin="round"/>
<path d="M551.0,118.0L551.4,117.7L551.8,117.6L552.2,117.2L552.6,116.8L553.0,116.8L553.4,116.9L553.8,116.5L554.2,116.2L554.5,115.6L554.9,115.5L555.3,115.0L555.7,114.7L556.1,114.4L556.5,114.2L556.9,114.4L557.3,114.0L557.7,113.8L558.1,113.5L558.5,112.8L558.9,112.6L559.3,112.5L559.7,112.3L560.1,112.1L560.5,111.9L560.9,111.0L561.2,111.1L561.6,110.9L562.0,110.5L562.4,110.0L562.8,109.9L563.2,109.4L563.6,109.7L564.0,109.4L564.4,108.9L564.8,108.4L565.2,108.6L565.6,108.1L566.0,108.0L566.4,107.7L566.8,107.2L567.2,106.9L567.5,106.7L567.9,106.3L568.3,105.9L568.7,105.7L569.1,105.8L569.5,105.0L569.9,104.7L570.3,104.8L570.7,104.3L571.1,104.2L571.5,103.9L571.9,103.5L572.3,103.7L572.7,102.8L573.1,102.7L573.5,102.2L573.9,102.2L574.2,101.7L574.6,101.5L575.0,101.5L575.4,100.9L575.8,100.8L576.2,100.7L576.6,99.9L577.0,99.6L577.4,99.4L577.8,99.5L578.2,99.1L578.6,98.5L579.0,98.3L579.4,97.9L579.8,97.8L580.2,97.2L580.5,97.4L580.9,97.3L581.3,97.0L581.7,96.6L582.1,96.4L582.5,95.5L582.9,95.4L583.3,95.6L583.7,95.2L584.1,94.6L584.5,94.7L584.9,94.2L585.3,94.1L585.7,93.4L586.1,93.0L586.5,92.9L586.9,92.4L587.2,92.3L587.6,92.4L588.0,91.7L588.4,91.2L588.8,90.9L589.2,90.7L589.6,90.9L590.0,90.3L590.4,90.0L590.8,89.6L591.2,90.1L591.6,89.5L592.0,89.1L592.4,88.9L592.8,88.7L593.2,88.5L593.6,88.7L593.9,88.1L594.3,87.9L594.7,88.0L595.1,87.6L595.5,87.9L595.9,87.1L596.3,87.2L596.7,87.2L597.1,86.7L597.5,86.9L597.9,86.3L598.3,86.0L598.7,85.9L599.1,85.4L599.5,85.4L599.9,85.1L600.2,85.3L600.6,85.1L601.0,84.6L601.4,84.0L601.8,83.9L602.2,83.7L602.6,83.4L603.0,83.2L603.4,83.4L603.8,82.6L604.2,82.3L604.6,82.6L605.0,82.1L605.4,82.1L605.8,81.4L606.2,81.5L606.6,81.0L606.9,80.8L607.3,80.4L607.7,79.9L608.1,79.3L608.5,79.1L608.9,79.2L609.3,78.9L609.7,78.5L610.1,77.7L610.5,77.5L610.9,77.2L611.3,76.7L611.7,76.4L612.1,75.7L612.5,75.4L612.9,74.9L613.3,74.1L613.6,74.1L614.0,73.6L614.4,72.4L614.8,72.4L615.2,71.8L615.6,71.0L616.0,69.9L616.4,69.8L616.8,68.6L617.2,68.4L617.6,67.5L618.0,66.2L618.4,65.4L618.8,64.9L619.2,63.9L619.6,63.1L619.9,62.3L620.3,60.7L620.7,59.4L621.1,59.0L621.5,57.1L621.9,56.4L622.3,54.6L622.7,53.7L623.1,52.2L623.5,50.8L623.9,48.9L624.3,47.4L624.7,45.3L625.1,43.6L625.5,41.5L625.9,39.9L626.3,37.5L626.6,35.0L627.0,32.8" fill="none" stroke="#e8008a" stroke-width="2.0" stroke-linejoin="round"/>
<text x="629.90" y="35.60" font-size="7.2" textLength="26.00" lengthAdjust="spacingAndGlyphs" fill="#e8008a">360 nm</text>
<text x="633.80" y="73.80" font-size="7.2" textLength="26.00" lengthAdjust="spacingAndGlyphs" fill="#2e3192">440 nm</text>
<text x="633.8" y="80.7" font-size="7.2" fill="#333">All-<tspan font-style="italic">E</tspan></text>
<text x="633.80" y="87.60" font-size="7.2" fill="#aaa">Basal</text>
<text x="31.40" y="155.80" font-size="9.5" textLength="98.00" lengthAdjust="spacingAndGlyphs">λ dependent on switch</text>
<text x="5.90" y="176.50" font-size="7.0" textLength="14.80" lengthAdjust="spacingAndGlyphs">Dark</text>
<rect x="21.80" y="169.60" width="75.10" height="10.00" fill="#333333" stroke="#222" stroke-width="0.8"/>
<rect x="96.90" y="169.60" width="49.60" height="10.00" fill="#2e3192" stroke="#222" stroke-width="0.8"/>
<text x="38.2" y="177.0" font-size="7.4" fill="#d0d0d0" textLength="38.8" lengthAdjust="spacingAndGlyphs">λ<tspan font-size="4.8" dy="1.7">ON</tspan><tspan dy="-1.7"> spectra</tspan></text>
<text x="121.10" y="177.00" font-size="7.0" text-anchor="middle" textLength="26.00" lengthAdjust="spacingAndGlyphs" fill="#d8d8f0">440 nm</text>
<text x="148.20" y="176.50" font-size="7.0" textLength="14.80" lengthAdjust="spacingAndGlyphs">Dark</text>
<line x1="6.50" y1="185.30" x2="156.10" y2="185.30" stroke="#1a1a1a" stroke-width="0.8" stroke-dasharray="1.2 0.7"/>
<path d="M11.0,190.6L11.6,192.9L12.2,192.7L12.8,192.0L13.4,190.9L14.0,193.4L14.6,193.5L15.2,192.2L15.8,192.1L16.4,190.9L17.0,189.9L17.6,191.5L18.2,192.5L18.8,190.2L19.4,193.4L20.0,190.9L20.6,190.9L21.2,190.1L21.8,194.3L22.4,193.2L23.0,193.8L23.6,192.6L24.2,190.0L24.8,191.3L25.4,192.1L26.0,190.4L26.6,194.1L27.2,191.5L27.8,190.6L28.4,193.5L29.0,190.4L29.6,194.0L30.2,191.9L30.8,192.3L31.4,191.4L32.0,192.0L32.6,190.7L33.2,190.1L33.8,193.7L34.4,190.9L35.0,193.3L35.6,190.8L36.2,194.2L36.8,193.8L37.4,193.2L38.0,193.3L38.6,192.5L39.2,193.1L39.8,190.4L40.4,192.0L41.0,193.5L41.6,190.8L42.2,194.0L42.8,193.8L43.4,191.7L44.0,191.5L44.6,191.9L45.2,191.6L45.8,194.3L46.4,191.6L47.0,190.0L47.6,190.3L48.2,193.1L48.8,194.3L49.4,192.1L50.0,192.1L50.6,192.3L51.2,193.2L51.8,190.9L52.4,192.6L53.0,192.3L53.6,192.6L54.2,190.7L54.8,190.6L55.4,191.4L56.0,194.0L56.6,191.4L57.2,192.5L57.8,191.2L58.4,190.4L59.0,190.2L59.6,193.5L60.2,193.3L60.8,191.5L61.4,192.9L62.0,192.9L62.6,193.9L63.2,194.1L63.8,191.7L64.4,194.3L65.0,194.1L65.6,192.5L66.2,193.8L66.8,192.1L67.4,191.6L68.0,191.0L68.6,193.8L69.2,190.6L69.8,190.2L70.4,193.4L71.0,193.3L71.6,192.0L72.2,193.6L72.8,190.1L73.4,191.0L74.0,191.2L74.6,191.7L75.2,190.7L75.8,190.2L76.4,191.4L77.0,193.9L77.6,194.2L78.2,193.2L78.8,192.0L79.4,191.0L80.0,194.1L80.6,192.2L81.2,193.1L81.8,190.0L82.4,190.8L83.0,193.6L83.6,193.4L84.2,193.8L84.8,192.5L85.4,191.8L86.0,192.5L86.6,193.6L87.2,191.3L87.8,192.3L88.4,191.1L89.0,193.3L89.6,189.9L90.2,192.9L90.8,194.1L91.4,190.0L92.0,192.5L92.6,192.7L93.2,193.6L93.8,192.5L94.4,191.0L95.0,191.7L95.6,194.1L96.2,193.9L96.8,190.5L97.4,190.3L98.0,190.3L98.6,190.0L99.2,191.9L99.8,190.5L100.4,193.7L101.0,192.8L101.6,190.5L102.2,192.3L102.8,191.3L103.4,192.1L104.0,190.9L104.6,190.6L105.2,190.7L105.8,191.6L106.4,193.0L107.0,192.3L107.6,190.1L108.2,193.0L108.8,193.7L109.4,193.3L110.0,193.4L110.6,189.9L111.2,191.9L111.8,190.2L112.4,193.3L113.0,190.7L113.6,193.0L114.2,191.0L114.8,193.0L115.4,191.3L116.0,190.1L116.6,191.6L117.2,191.3L117.8,193.9L118.4,191.2L119.0,192.1L119.6,192.3L120.2,194.1L120.8,190.3L121.4,192.5L122.0,192.1L122.6,193.1L123.2,194.2L123.8,191.3L124.4,193.0L125.0,192.2L125.6,192.4L126.2,190.2L126.8,193.5L127.4,194.2L128.0,191.5L128.6,191.3L129.2,194.3L129.8,190.4L130.4,190.2L131.0,190.2L131.6,193.5L132.2,193.2L132.8,191.9L133.4,192.6L134.0,190.0L134.6,192.7L135.2,191.8L135.8,192.2L136.4,191.6L137.0,191.7L137.6,190.9L138.2,190.1L138.8,191.8L139.4,191.0L140.0,193.0L140.6,193.5L141.2,193.1L141.8,191.9L142.4,190.9L143.0,191.6L143.6,192.0L144.2,192.7L144.8,194.1L145.4,190.3L146.0,192.0L146.6,192.1L147.2,193.1L147.8,193.8L148.4,193.3L149.0,192.7L149.6,193.2L150.2,192.8L150.8,193.7L151.4,193.0L152.0,192.9L152.6,191.0" fill="none" stroke="#a8a8a8" stroke-width="2.6" stroke-linejoin="round"/>
<path d="M11.0,195.4L11.6,193.1L12.2,194.1L12.8,195.0L13.4,195.6L14.0,195.8L14.6,191.4L15.2,192.8L15.8,192.8L16.4,193.1L17.0,192.0L17.6,193.8L18.2,191.7L18.8,192.7L19.4,195.6L20.0,194.7L20.6,193.4L21.2,191.9L21.8,195.6L22.4,194.5L23.0,192.3L23.6,192.9L24.2,194.2L24.8,194.4L25.4,192.5L26.0,195.6L26.6,192.8L27.2,192.5L27.8,195.1L28.4,192.1L29.0,194.4L29.6,192.3L30.2,194.0L30.8,192.6L31.4,193.1L32.0,195.5L32.6,193.5L33.2,193.3L33.8,194.1L34.4,192.6L35.0,192.2L35.6,193.1L36.2,192.6L36.8,192.2L37.4,195.6L38.0,191.6L38.6,195.0L39.2,195.5L39.8,194.5L40.4,191.5L41.0,193.6L41.6,191.6L42.2,194.1L42.8,194.5L43.4,192.5L44.0,191.4L44.6,193.8L45.2,191.8L45.8,192.8L46.4,193.4L47.0,195.3L47.6,193.0L48.2,192.0L48.8,194.9L49.4,195.0L50.0,193.7L50.6,191.6L51.2,192.2L51.8,193.2L52.4,193.8L53.0,192.4L53.6,194.9L54.2,195.1L54.8,195.5L55.4,195.3L56.0,191.5L56.6,194.0L57.2,191.8L57.8,195.4L58.4,194.7L59.0,194.7L59.6,192.2L60.2,191.7L60.8,195.0L61.4,194.1L62.0,194.1L62.6,193.5L63.2,194.9L63.8,192.9L64.4,192.6L65.0,193.0L65.6,192.7L66.2,194.2L66.8,195.3L67.4,191.7L68.0,191.7L68.6,193.7L69.2,194.4L69.8,192.2L70.4,192.6L71.0,191.7L71.6,191.6L72.2,193.6L72.8,194.4L73.4,194.3L74.0,192.1L74.6,191.9L75.2,195.5L75.8,193.8L76.4,193.2L77.0,194.4L77.6,194.6L78.2,193.7L78.8,191.7L79.4,195.0L80.0,192.3L80.6,191.6L81.2,193.0L81.8,193.7L82.4,194.2L83.0,192.2L83.6,194.5L84.2,193.6L84.8,192.1L85.4,195.1L86.0,194.9L86.6,195.4L87.2,194.4L87.8,192.4L88.4,194.8L89.0,195.4L89.6,193.7L90.2,195.4L90.8,195.7L91.4,193.1L92.0,195.5L92.6,195.5L93.2,194.9L93.8,191.4L94.4,192.9L95.0,194.1L95.6,194.1L96.2,194.7L96.8,194.2L97.4,192.1L98.0,195.5L98.6,193.8L99.2,195.3L99.8,192.3L100.4,195.8L101.0,193.8L101.6,194.8L102.2,194.7L102.8,195.3L103.4,193.0L104.0,191.8L104.6,193.2L105.2,192.2L105.8,193.8L106.4,195.0L107.0,193.0L107.6,192.0L108.2,191.5L108.8,193.3L109.4,194.0L110.0,191.5L110.6,194.3L111.2,192.3L111.8,191.9L112.4,195.5L113.0,193.7L113.6,195.3L114.2,193.7L114.8,191.9L115.4,192.5L116.0,193.3L116.6,194.2L117.2,194.8L117.8,194.7L118.4,194.3L119.0,192.5L119.6,193.3L120.2,193.1L120.8,193.6L121.4,192.6L122.0,193.8L122.6,193.4L123.2,191.6L123.8,195.0L124.4,194.0L125.0,194.9L125.6,194.6L126.2,194.6L126.8,195.8L127.4,193.1L128.0,193.1L128.6,191.4L129.2,194.3L129.8,194.0L130.4,193.9L131.0,195.8L131.6,192.3L132.2,192.4L132.8,194.6L133.4,195.0L134.0,193.5L134.6,191.6L135.2,193.0L135.8,195.0L136.4,193.6L137.0,193.4L137.6,193.1L138.2,194.2L138.8,194.0L139.4,194.4L140.0,195.2L140.6,194.7L141.2,193.0L141.8,192.5L142.4,194.8L143.0,194.9L143.6,195.5L144.2,192.3L144.8,195.1L145.4,195.3L146.0,191.7L146.6,192.8L147.2,194.2L147.8,192.0L148.4,195.1L149.0,192.6L149.6,194.4L150.2,192.7L150.8,192.4L151.4,192.3L152.0,193.6L152.6,194.5" fill="none" stroke="#a8a8a8" stroke-width="2.6" stroke-linejoin="round"/>
<path d="M11.0,193.9L11.6,195.9L12.2,194.4L12.8,195.8L13.4,194.5L14.0,193.8L14.6,193.5L15.2,193.2L15.8,196.0L16.4,194.7L17.0,193.4L17.6,196.8L18.2,195.8L18.8,193.0L19.4,196.1L20.0,195.5L20.6,194.9L21.2,195.1L21.8,197.1L22.4,194.5L23.0,195.7L23.6,195.7L24.2,194.5L24.8,194.4L25.4,196.2L26.0,195.7L26.6,194.9L27.2,195.2L27.8,193.9L28.4,196.4L29.0,193.0L29.6,195.7L30.2,194.9L30.8,193.9L31.4,195.5L32.0,195.5L32.6,193.3L33.2,195.1L33.8,193.6L34.4,196.4L35.0,194.3L35.6,194.3L36.2,193.8L36.8,193.1L37.4,193.7L38.0,193.6L38.6,195.6L39.2,196.6L39.8,193.9L40.4,193.4L41.0,195.3L41.6,193.4L42.2,194.7L42.8,196.2L43.4,193.8L44.0,196.0L44.6,195.3L45.2,193.3L45.8,194.0L46.4,195.5L47.0,193.3L47.6,193.8L48.2,195.4L48.8,196.5L49.4,195.2L50.0,195.8L50.6,192.9L51.2,194.2L51.8,194.3L52.4,196.9L53.0,194.5L53.6,196.4L54.2,193.1L54.8,195.1L55.4,196.8L56.0,196.3L56.6,195.5L57.2,193.7L57.8,197.0L58.4,193.3L59.0,197.1L59.6,196.3L60.2,196.1L60.8,195.2L61.4,193.6L62.0,194.4L62.6,195.8L63.2,195.8L63.8,194.6L64.4,196.4L65.0,193.1L65.6,194.2L66.2,193.3L66.8,194.3L67.4,196.4L68.0,196.2L68.6,193.6L69.2,194.3L69.8,193.4L70.4,195.8L71.0,194.8L71.6,193.9L72.2,194.5L72.8,196.7L73.4,194.8L74.0,195.9L74.6,195.7L75.2,195.0L75.8,195.3L76.4,194.5L77.0,193.8L77.6,195.1L78.2,194.2L78.8,194.4L79.4,193.7L80.0,196.9L80.6,194.8L81.2,193.8L81.8,193.0L82.4,193.8L83.0,196.7L83.6,194.4L84.2,195.8L84.8,193.9L85.4,195.8L86.0,194.9L86.6,196.1L87.2,195.2L87.8,194.6L88.4,194.1L89.0,195.5L89.6,196.6L90.2,195.9L90.8,195.0L91.4,194.3L92.0,196.8L92.6,196.6L93.2,193.5L93.8,195.9L94.4,196.3L95.0,195.9L95.6,197.1L96.2,196.8L96.8,194.0L97.4,197.3L98.0,194.3L98.6,194.6L99.2,197.2L99.8,193.6L100.4,194.6L101.0,195.7L101.6,194.1L102.2,194.1L102.8,196.4L103.4,195.6L104.0,196.2L104.6,196.4L105.2,196.7L105.8,196.8L106.4,196.5L107.0,197.2L107.6,195.1L108.2,196.0L108.8,195.2L109.4,197.2L110.0,195.8L110.6,194.8L111.2,195.8L111.8,194.2L112.4,193.5L113.0,194.6L113.6,193.5L114.2,192.9L114.8,193.3L115.4,194.9L116.0,196.3L116.6,193.1L117.2,195.7L117.8,193.4L118.4,195.1L119.0,194.2L119.6,194.9L120.2,196.0L120.8,194.7L121.4,194.6L122.0,196.1L122.6,193.4L123.2,194.4L123.8,196.0L124.4,196.6L125.0,197.2L125.6,194.0L126.2,195.7L126.8,194.3L127.4,196.0L128.0,196.6L128.6,193.5L129.2,194.4L129.8,197.0L130.4,194.5L131.0,195.7L131.6,196.5L132.2,194.1L132.8,196.3L133.4,192.9L134.0,194.4L134.6,193.6L135.2,194.4L135.8,193.8L136.4,193.0L137.0,196.4L137.6,193.7L138.2,195.4L138.8,195.3L139.4,196.6L140.0,196.6L140.6,195.6L141.2,193.6L141.8,196.2L142.4,193.3L143.0,197.0L143.6,194.3L144.2,194.0L144.8,193.9L145.4,194.6L146.0,196.4L146.6,196.7L147.2,196.2L147.8,196.1L148.4,194.0L149.0,194.3L149.6,194.2L150.2,194.8L150.8,196.7L151.4,197.3L152.0,193.3L152.6,197.1" fill="none" stroke="#a8a8a8" stroke-width="2.6" stroke-linejoin="round"/>
<path d="M11.0,192.4L11.8,193.2L12.5,193.5L13.2,193.0L14.0,191.6L14.8,190.9L15.5,193.2L16.2,192.2L17.0,193.8L17.8,194.4L18.5,192.3L19.2,193.0L20.0,193.7L20.8,194.6L21.5,195.2L22.2,195.6L23.0,194.7L23.8,194.1L24.5,193.7L25.2,189.4L26.0,188.7L26.8,188.3L27.5,190.8L28.2,191.9L29.0,193.0L29.8,192.9L30.5,192.8L31.2,193.4L32.0,193.6L32.8,193.5L33.5,192.8L34.2,194.1L35.0,194.7L35.8,195.4L36.5,195.3L37.2,194.7L38.0,196.5L38.8,196.7L39.5,196.6L40.2,196.8L41.0,196.0L41.8,196.4L42.5,195.4L43.2,196.3L44.0,196.8L44.8,197.0L45.5,196.8L46.2,196.5L47.0,196.4L47.8,196.8L48.5,196.1L49.2,196.6L50.0,196.9L50.8,195.6L51.5,194.4L52.2,195.3L53.0,195.4L53.8,195.1L54.5,194.5L55.2,194.3L56.0,193.8L56.8,194.5L57.5,194.0L58.2,193.6L59.0,194.6L59.8,196.5L60.5,197.5L61.2,196.9L62.0,197.1L62.8,196.7L63.5,196.5L64.2,195.9L65.0,196.2L65.8,195.5L66.5,195.4L67.2,195.8L68.0,196.1L68.8,197.9L69.5,196.8L70.2,195.9L71.0,196.7L71.8,197.2L72.5,197.6L73.2,197.2L74.0,195.9L74.8,196.0L75.5,195.3L76.2,195.9L77.0,197.7L77.8,197.1L78.5,197.1L79.2,197.9L80.0,196.5L80.8,197.3L81.5,196.9L82.2,196.4L83.0,196.3L83.8,195.8L84.5,197.0L85.2,197.1L86.0,196.7L86.8,197.2L87.5,196.0L88.2,194.2L89.0,196.4L89.8,196.2L90.5,197.2L91.2,196.4L92.0,195.3L92.8,195.2L93.5,196.7L94.2,197.2L95.0,196.7L95.8,197.4L96.5,197.1L97.2,197.2L98.0,196.3L98.8,194.7L99.5,195.6L100.2,196.5L101.0,195.6L101.8,196.9L102.5,196.6L103.2,197.4L104.0,196.9L104.8,197.0L105.5,195.8L106.2,194.1L107.0,195.9L107.8,196.2L108.5,195.8L109.2,194.4L110.0,194.9L110.8,193.7L111.5,194.1L112.2,194.7L113.0,194.7L113.8,193.5L114.5,194.1L115.2,194.0L116.0,194.3L116.8,195.0L117.5,193.9L118.2,193.1L119.0,191.6L119.8,193.6L120.5,192.9L121.2,194.2L122.0,194.2L122.8,194.9L123.5,194.5L124.2,194.5L125.0,193.9L125.8,194.1L126.5,193.1L127.2,194.1L128.0,192.5L128.8,192.5L129.5,192.6L130.2,193.1L131.0,193.2L131.8,192.5L132.5,193.0L133.2,191.1L134.0,191.5L134.8,192.2L135.5,192.2L136.2,193.5L137.0,193.4L137.8,193.8L138.5,192.8L139.2,193.8L140.0,194.3L140.8,192.8L141.5,194.2L142.2,193.0L143.0,192.3L143.8,193.4L144.5,194.8L145.2,194.8L146.0,194.2L146.8,193.3L147.5,192.8L148.2,193.2L149.0,193.6L149.8,192.8L150.5,193.5L151.2,191.7L152.0,192.6L152.8,192.2" fill="none" stroke="#a6a6a6" stroke-width="1.4" stroke-linejoin="round"/>
<path d="M11.0,195.2L11.8,194.0L12.5,194.1L13.2,194.6L14.0,194.5L14.8,192.9L15.5,193.0L16.2,194.1L17.0,194.2L17.8,193.9L18.5,193.6L19.2,194.8L20.0,195.9L20.8,193.9L21.5,192.4L22.2,193.2L23.0,194.0L23.8,193.7L24.5,193.8L25.2,189.6L26.0,189.7L26.8,189.3L27.5,187.9L28.2,188.8L29.0,190.6L29.8,192.7L30.5,191.3L31.2,192.5L32.0,193.1L32.8,194.6L33.5,196.4L34.2,195.6L35.0,196.9L35.8,197.9L36.5,195.8L37.2,197.5L38.0,198.3L38.8,197.6L39.5,197.0L40.2,197.5L41.0,197.4L41.8,198.1L42.5,198.6L43.2,199.5L44.0,199.9L44.8,199.5L45.5,197.9L46.2,197.3L47.0,196.1L47.8,196.3L48.5,197.1L49.2,198.1L50.0,197.8L50.8,197.9L51.5,200.1L52.2,199.5L53.0,198.7L53.8,197.4L54.5,198.1L55.2,199.5L56.0,198.8L56.8,199.5L57.5,198.8L58.2,199.7L59.0,199.5L59.8,199.3L60.5,199.0L61.2,199.1L62.0,200.3L62.8,199.9L63.5,199.2L64.2,199.0L65.0,199.0L65.8,198.1L66.5,199.7L67.2,199.2L68.0,199.3L68.8,200.7L69.5,201.7L70.2,201.4L71.0,200.4L71.8,201.5L72.5,201.6L73.2,201.8L74.0,201.3L74.8,201.0L75.5,200.5L76.2,202.0L77.0,200.5L77.8,201.0L78.5,201.3L79.2,198.7L80.0,199.3L80.8,200.9L81.5,201.0L82.2,199.3L83.0,199.2L83.8,200.4L84.5,200.6L85.2,199.9L86.0,199.0L86.8,199.7L87.5,200.3L88.2,199.9L89.0,199.9L89.8,199.6L90.5,200.5L91.2,201.3L92.0,200.3L92.8,199.5L93.5,200.4L94.2,200.3L95.0,199.5L95.8,199.8L96.5,200.0L97.2,202.0L98.0,201.7L98.8,201.5L99.5,201.9L100.2,201.1L101.0,199.7L101.8,198.6L102.5,199.1L103.2,197.6L104.0,197.6L104.8,198.7L105.5,197.8L106.2,196.2L107.0,196.0L107.8,195.1L108.5,194.3L109.2,195.1L110.0,195.4L110.8,194.8L111.5,194.1L112.2,194.4L113.0,194.5L113.8,193.8L114.5,194.2L115.2,193.4L116.0,192.0L116.8,192.1L117.5,192.6L118.2,193.9L119.0,193.1L119.8,192.5L120.5,192.0L121.2,193.3L122.0,193.2L122.8,193.8L123.5,194.8L124.2,194.4L125.0,192.8L125.8,192.5L126.5,193.6L127.2,194.6L128.0,193.3L128.8,193.7L129.5,194.1L130.2,193.1L131.0,192.2L131.8,193.2L132.5,194.3L133.2,195.4L134.0,194.4L134.8,194.1L135.5,192.0L136.2,192.8L137.0,194.0L137.8,193.7L138.5,193.5L139.2,195.4L140.0,194.6L140.8,194.4L141.5,194.1L142.2,194.8L143.0,194.2L143.8,193.7L144.5,193.0L145.2,194.4L146.0,193.8L146.8,194.1L147.5,193.7L148.2,192.8L149.0,192.8L149.8,192.3L150.5,193.2L151.2,192.5L152.0,194.4L152.8,193.8" fill="none" stroke="#a6a6a6" stroke-width="1.4" stroke-linejoin="round"/>
<path d="M11.0,192.5L11.8,193.0L12.5,193.0L13.2,193.5L14.0,194.6L14.8,193.2L15.5,193.6L16.2,192.0L17.0,190.2L17.8,190.7L18.5,189.7L19.2,191.6L20.0,193.1L20.8,193.7L21.5,192.3L22.2,192.2L23.0,191.4L23.8,192.1L24.5,191.8L25.2,188.7L26.0,189.4L26.8,188.5L27.5,190.3L28.2,191.0L29.0,192.3L29.8,192.6L30.5,194.3L31.2,195.6L32.0,196.5L32.8,197.8L33.5,198.3L34.2,198.1L35.0,197.2L35.8,195.6L36.5,197.4L37.2,198.1L38.0,197.2L38.8,198.3L39.5,198.5L40.2,198.6L41.0,200.1L41.8,200.4L42.5,198.8L43.2,199.0L44.0,200.0L44.8,200.7L45.5,200.7L46.2,200.0L47.0,200.2L47.8,198.6L48.5,200.2L49.2,200.2L50.0,199.8L50.8,199.5L51.5,200.0L52.2,199.6L53.0,199.3L53.8,199.1L54.5,201.2L55.2,201.1L56.0,201.5L56.8,201.7L57.5,201.0L58.2,201.8L59.0,201.5L59.8,200.9L60.5,200.4L61.2,200.6L62.0,200.6L62.8,202.2L63.5,200.0L64.2,201.7L65.0,203.0L65.8,203.8L66.5,202.6L67.2,201.7L68.0,202.9L68.8,203.2L69.5,203.1L70.2,202.1L71.0,202.0L71.8,201.2L72.5,203.1L73.2,203.7L74.0,202.9L74.8,203.6L75.5,203.4L76.2,201.5L77.0,202.5L77.8,202.0L78.5,202.6L79.2,202.3L80.0,201.7L80.8,201.9L81.5,203.2L82.2,202.2L83.0,201.7L83.8,201.0L84.5,201.3L85.2,202.8L86.0,203.5L86.8,203.8L87.5,204.0L88.2,204.9L89.0,205.4L89.8,205.9L90.5,204.1L91.2,203.3L92.0,203.9L92.8,204.3L93.5,203.5L94.2,203.3L95.0,204.1L95.8,203.7L96.5,203.0L97.2,203.4L98.0,202.8L98.8,203.2L99.5,203.0L100.2,202.1L101.0,200.8L101.8,201.2L102.5,199.5L103.2,199.0L104.0,197.9L104.8,197.5L105.5,196.7L106.2,197.1L107.0,196.5L107.8,195.1L108.5,193.9L109.2,194.9L110.0,194.6L110.8,195.5L111.5,195.4L112.2,196.0L113.0,194.1L113.8,193.8L114.5,194.8L115.2,193.4L116.0,194.1L116.8,193.8L117.5,194.5L118.2,193.9L119.0,193.2L119.8,194.0L120.5,195.6L121.2,193.9L122.0,194.0L122.8,193.2L123.5,193.8L124.2,194.1L125.0,193.3L125.8,192.3L126.5,192.9L127.2,193.2L128.0,194.1L128.8,193.9L129.5,194.6L130.2,194.4L131.0,195.3L131.8,195.5L132.5,193.6L133.2,193.4L134.0,193.9L134.8,193.6L135.5,193.9L136.2,195.1L137.0,193.9L137.8,193.2L138.5,192.7L139.2,193.9L140.0,195.6L140.8,194.2L141.5,195.9L142.2,193.9L143.0,193.9L143.8,193.9L144.5,194.1L145.2,193.4L146.0,192.6L146.8,192.9L147.5,194.0L148.2,193.7L149.0,194.0L149.8,194.3L150.5,195.2L151.2,193.7L152.0,195.0L152.8,196.0" fill="none" stroke="#a6a6a6" stroke-width="1.4" stroke-linejoin="round"/>
<path d="M11.0,193.5L11.8,192.5L12.5,193.5L13.2,192.8L14.0,194.1L14.8,194.1L15.5,194.4L16.2,193.4L17.0,193.9L17.8,193.0L18.5,192.8L19.2,193.7L20.0,193.8L20.8,194.6L21.5,195.3L22.2,194.3L23.0,194.1L23.8,193.4L24.5,192.8L25.2,189.2L26.0,189.2L26.8,189.5L27.5,190.1L28.2,190.4L29.0,190.0L29.8,189.4L30.5,191.2L31.2,193.4L32.0,194.1L32.8,196.2L33.5,197.4L34.2,197.9L35.0,198.7L35.8,200.7L36.5,200.1L37.2,201.1L38.0,200.7L38.8,200.5L39.5,201.9L40.2,201.6L41.0,202.5L41.8,201.3L42.5,201.0L43.2,201.3L44.0,201.1L44.8,201.4L45.5,201.6L46.2,202.1L47.0,201.3L47.8,201.7L48.5,202.0L49.2,202.9L50.0,203.2L50.8,203.2L51.5,204.9L52.2,205.9L53.0,206.2L53.8,205.5L54.5,203.8L55.2,204.1L56.0,203.3L56.8,205.8L57.5,205.4L58.2,204.2L59.0,202.7L59.8,204.2L60.5,205.2L61.2,206.4L62.0,205.0L62.8,204.2L63.5,203.4L64.2,203.8L65.0,204.8L65.8,205.3L66.5,204.9L67.2,205.5L68.0,206.5L68.8,206.7L69.5,205.0L70.2,205.9L71.0,204.2L71.8,206.0L72.5,205.9L73.2,206.8L74.0,205.1L74.8,206.0L75.5,206.6L76.2,207.1L77.0,205.5L77.8,206.0L78.5,206.1L79.2,207.1L80.0,207.1L80.8,206.6L81.5,208.5L82.2,207.2L83.0,206.5L83.8,206.5L84.5,204.3L85.2,205.2L86.0,207.0L86.8,206.7L87.5,206.7L88.2,206.2L89.0,205.9L89.8,205.8L90.5,206.9L91.2,207.3L92.0,206.6L92.8,207.7L93.5,206.7L94.2,206.5L95.0,206.6L95.8,206.6L96.5,206.8L97.2,206.1L98.0,207.0L98.8,205.8L99.5,205.0L100.2,204.7L101.0,204.9L101.8,202.4L102.5,202.7L103.2,201.1L104.0,201.5L104.8,199.2L105.5,198.0L106.2,196.7L107.0,195.9L107.8,195.3L108.5,195.6L109.2,194.5L110.0,195.8L110.8,194.1L111.5,194.3L112.2,193.8L113.0,193.8L113.8,194.2L114.5,193.9L115.2,194.3L116.0,193.6L116.8,194.9L117.5,195.7L118.2,196.0L119.0,196.3L119.8,194.6L120.5,194.2L121.2,194.6L122.0,193.1L122.8,193.6L123.5,193.8L124.2,193.6L125.0,194.9L125.8,195.1L126.5,196.2L127.2,195.4L128.0,195.5L128.8,196.8L129.5,194.4L130.2,194.3L131.0,194.7L131.8,192.9L132.5,192.4L133.2,193.4L134.0,193.6L134.8,193.0L135.5,192.7L136.2,194.6L137.0,195.3L137.8,193.6L138.5,193.2L139.2,194.0L140.0,195.0L140.8,195.4L141.5,195.1L142.2,194.7L143.0,195.1L143.8,194.6L144.5,194.5L145.2,194.2L146.0,193.9L146.8,194.4L147.5,193.9L148.2,193.0L149.0,193.8L149.8,194.8L150.5,194.7L151.2,194.0L152.0,194.6L152.8,194.5" fill="none" stroke="#a6a6a6" stroke-width="1.4" stroke-linejoin="round"/>
<path d="M11.0,194.0L11.8,194.0L12.5,193.0L13.2,192.2L14.0,192.5L14.8,193.0L15.5,192.9L16.2,193.1L17.0,193.5L17.8,193.7L18.5,194.0L19.2,193.7L20.0,192.2L20.8,193.0L21.5,193.5L22.2,194.3L23.0,194.3L23.8,193.0L24.5,193.6L25.2,189.8L26.0,191.2L26.8,190.6L27.5,190.6L28.2,191.0L29.0,192.4L29.8,193.1L30.5,195.6L31.2,195.6L32.0,195.6L32.8,197.2L33.5,198.1L34.2,197.9L35.0,198.7L35.8,198.6L36.5,197.9L37.2,199.1L38.0,199.1L38.8,199.8L39.5,200.7L40.2,200.2L41.0,201.2L41.8,201.0L42.5,201.5L43.2,201.3L44.0,200.8L44.8,199.7L45.5,200.3L46.2,200.7L47.0,203.7L47.8,203.3L48.5,203.6L49.2,203.1L50.0,204.3L50.8,204.7L51.5,204.7L52.2,204.7L53.0,202.8L53.8,202.8L54.5,203.4L55.2,205.5L56.0,207.1L56.8,205.9L57.5,206.0L58.2,206.0L59.0,207.8L59.8,206.4L60.5,206.4L61.2,206.6L62.0,206.3L62.8,205.9L63.5,206.4L64.2,206.7L65.0,205.9L65.8,205.8L66.5,206.4L67.2,206.1L68.0,207.5L68.8,206.4L69.5,205.9L70.2,207.1L71.0,207.0L71.8,206.7L72.5,207.7L73.2,207.2L74.0,205.8L74.8,206.3L75.5,207.5L76.2,207.6L77.0,208.9L77.8,208.7L78.5,208.6L79.2,209.6L80.0,208.4L80.8,205.7L81.5,207.0L82.2,208.2L83.0,208.4L83.8,207.5L84.5,208.4L85.2,209.4L86.0,209.3L86.8,208.1L87.5,207.9L88.2,208.5L89.0,207.2L89.8,208.6L90.5,207.4L91.2,209.5L92.0,208.6L92.8,209.4L93.5,209.5L94.2,207.5L95.0,208.5L95.8,208.0L96.5,208.0L97.2,208.5L98.0,207.0L98.8,206.9L99.5,207.3L100.2,207.3L101.0,206.9L101.8,205.8L102.5,201.8L103.2,201.5L104.0,199.7L104.8,197.6L105.5,197.9L106.2,198.3L107.0,197.5L107.8,196.6L108.5,195.0L109.2,194.7L110.0,195.5L110.8,195.3L111.5,195.2L112.2,194.4L113.0,193.9L113.8,193.4L114.5,192.4L115.2,194.1L116.0,192.6L116.8,194.0L117.5,194.2L118.2,193.0L119.0,193.8L119.8,194.2L120.5,194.5L121.2,194.0L122.0,193.4L122.8,193.2L123.5,193.2L124.2,192.2L125.0,193.6L125.8,192.9L126.5,194.3L127.2,194.9L128.0,192.7L128.8,192.2L129.5,192.0L130.2,192.6L131.0,192.0L131.8,193.0L132.5,192.9L133.2,192.1L134.0,193.3L134.8,192.7L135.5,193.5L136.2,195.1L137.0,194.4L137.8,193.6L138.5,192.1L139.2,193.1L140.0,192.9L140.8,193.0L141.5,194.1L142.2,192.9L143.0,193.6L143.8,194.8L144.5,195.0L145.2,193.6L146.0,194.6L146.8,193.9L147.5,194.9L148.2,194.5L149.0,195.0L149.8,192.9L150.5,193.2L151.2,191.5L152.0,192.6L152.8,192.2" fill="none" stroke="#a6a6a6" stroke-width="1.4" stroke-linejoin="round"/>
<path d="M11.0,193.7L11.8,193.9L12.5,195.1L13.2,193.8L14.0,194.9L14.8,193.6L15.5,192.6L16.2,193.3L17.0,193.9L17.8,193.8L18.5,193.5L19.2,193.7L20.0,193.3L20.8,194.3L21.5,194.3L22.2,194.4L23.0,194.9L23.8,194.8L24.5,194.8L25.2,188.9L26.0,188.8L26.8,188.0L27.5,189.3L28.2,188.9L29.0,190.1L29.8,191.3L30.5,192.8L31.2,194.4L32.0,194.5L32.8,196.5L33.5,196.5L34.2,197.5L35.0,199.1L35.8,200.9L36.5,202.4L37.2,202.3L38.0,203.3L38.8,204.4L39.5,204.7L40.2,204.0L41.0,203.7L41.8,203.3L42.5,203.1L43.2,204.5L44.0,206.0L44.8,207.6L45.5,206.9L46.2,206.8L47.0,206.0L47.8,205.6L48.5,205.9L49.2,207.0L50.0,206.9L50.8,205.0L51.5,207.1L52.2,207.6L53.0,207.4L53.8,208.2L54.5,209.2L55.2,210.1L56.0,209.7L56.8,210.6L57.5,210.8L58.2,209.6L59.0,210.3L59.8,210.2L60.5,210.4L61.2,210.7L62.0,210.4L62.8,209.9L63.5,210.4L64.2,211.7L65.0,212.7L65.8,211.9L66.5,213.4L67.2,212.0L68.0,211.1L68.8,211.1L69.5,211.3L70.2,210.8L71.0,211.8L71.8,212.0L72.5,211.8L73.2,210.6L74.0,210.7L74.8,211.3L75.5,212.0L76.2,212.9L77.0,211.5L77.8,211.7L78.5,211.8L79.2,210.9L80.0,212.6L80.8,211.1L81.5,210.7L82.2,211.2L83.0,211.0L83.8,211.5L84.5,212.4L85.2,213.5L86.0,212.9L86.8,212.7L87.5,212.1L88.2,212.6L89.0,212.7L89.8,212.7L90.5,211.5L91.2,211.0L92.0,212.2L92.8,211.4L93.5,212.0L94.2,213.4L95.0,213.0L95.8,213.4L96.5,212.9L97.2,213.2L98.0,214.5L98.8,214.6L99.5,214.8L100.2,213.4L101.0,210.4L101.8,207.2L102.5,206.8L103.2,205.6L104.0,203.8L104.8,203.1L105.5,199.7L106.2,199.4L107.0,198.6L107.8,197.8L108.5,196.1L109.2,195.6L110.0,195.4L110.8,195.1L111.5,194.1L112.2,195.3L113.0,194.4L113.8,194.0L114.5,194.3L115.2,194.2L116.0,194.5L116.8,193.7L117.5,194.2L118.2,194.2L119.0,194.2L119.8,194.9L120.5,195.3L121.2,195.0L122.0,193.8L122.8,192.9L123.5,192.7L124.2,192.7L125.0,192.0L125.8,193.5L126.5,193.2L127.2,194.8L128.0,194.7L128.8,195.1L129.5,195.4L130.2,194.0L131.0,193.7L131.8,194.4L132.5,193.8L133.2,195.0L134.0,193.5L134.8,194.7L135.5,193.7L136.2,192.3L137.0,192.2L137.8,192.6L138.5,192.7L139.2,192.3L140.0,193.6L140.8,193.9L141.5,193.9L142.2,194.1L143.0,193.7L143.8,195.6L144.5,194.4L145.2,193.3L146.0,192.8L146.8,192.7L147.5,192.5L148.2,192.7L149.0,193.9L149.8,192.7L150.5,192.1L151.2,193.0L152.0,192.3L152.8,193.8" fill="none" stroke="#a6a6a6" stroke-width="1.4" stroke-linejoin="round"/>
<path d="M11.0,193.9L11.8,193.6L12.5,194.1L13.2,193.6L14.0,194.2L14.8,194.5L15.5,193.9L16.2,193.5L17.0,192.2L17.8,191.1L18.5,192.4L19.2,191.4L20.0,192.7L20.8,193.7L21.5,193.6L22.2,194.4L23.0,196.1L23.8,193.3L24.5,193.3L25.2,189.8L26.0,188.0L26.8,187.4L27.5,188.1L28.2,189.6L29.0,191.1L29.8,192.2L30.5,192.7L31.2,193.8L32.0,194.6L32.8,195.1L33.5,197.5L34.2,198.4L35.0,197.7L35.8,199.2L36.5,199.5L37.2,200.2L38.0,202.7L38.8,203.8L39.5,203.5L40.2,203.1L41.0,204.6L41.8,205.1L42.5,206.3L43.2,205.3L44.0,207.6L44.8,205.7L45.5,206.2L46.2,206.7L47.0,206.3L47.8,206.6L48.5,205.4L49.2,206.3L50.0,206.8L50.8,208.7L51.5,208.4L52.2,209.9L53.0,209.7L53.8,209.5L54.5,210.3L55.2,210.1L56.0,211.0L56.8,210.6L57.5,208.7L58.2,210.0L59.0,208.9L59.8,210.4L60.5,210.4L61.2,209.7L62.0,210.3L62.8,209.4L63.5,209.3L64.2,209.6L65.0,210.8L65.8,211.8L66.5,210.9L67.2,211.1L68.0,211.8L68.8,211.8L69.5,212.7L70.2,211.9L71.0,212.9L71.8,213.2L72.5,213.3L73.2,213.8L74.0,212.0L74.8,212.4L75.5,212.8L76.2,212.7L77.0,214.1L77.8,212.4L78.5,212.9L79.2,213.3L80.0,213.1L80.8,213.2L81.5,214.0L82.2,214.5L83.0,214.4L83.8,215.1L84.5,214.9L85.2,215.6L86.0,214.6L86.8,214.1L87.5,213.3L88.2,211.9L89.0,213.0L89.8,213.4L90.5,213.5L91.2,213.1L92.0,212.8L92.8,213.8L93.5,215.1L94.2,215.2L95.0,215.9L95.8,216.5L96.5,216.6L97.2,216.4L98.0,215.2L98.8,214.1L99.5,214.0L100.2,213.1L101.0,210.8L101.8,209.5L102.5,208.1L103.2,206.3L104.0,204.4L104.8,202.3L105.5,201.1L106.2,199.5L107.0,199.3L107.8,197.0L108.5,197.1L109.2,196.2L110.0,196.9L110.8,196.2L111.5,194.7L112.2,193.7L113.0,194.2L113.8,194.5L114.5,194.2L115.2,193.6L116.0,193.8L116.8,194.6L117.5,194.4L118.2,194.6L119.0,194.3L119.8,194.4L120.5,194.7L121.2,192.8L122.0,193.0L122.8,192.4L123.5,193.8L124.2,193.2L125.0,193.2L125.8,193.3L126.5,193.1L127.2,193.7L128.0,192.6L128.8,191.3L129.5,191.7L130.2,192.0L131.0,192.8L131.8,192.8L132.5,193.2L133.2,193.1L134.0,194.6L134.8,193.9L135.5,194.7L136.2,194.2L137.0,193.5L137.8,192.9L138.5,193.2L139.2,192.3L140.0,191.5L140.8,192.7L141.5,193.7L142.2,193.4L143.0,193.4L143.8,196.0L144.5,194.6L145.2,194.9L146.0,193.7L146.8,193.5L147.5,192.9L148.2,193.4L149.0,192.1L149.8,193.2L150.5,193.5L151.2,191.7L152.0,193.0L152.8,193.0" fill="none" stroke="#a6a6a6" stroke-width="1.4" stroke-linejoin="round"/>
<path d="M11.0,193.2L11.8,192.3L12.5,191.0L13.2,192.2L14.0,191.0L14.8,191.3L15.5,192.8L16.2,193.6L17.0,194.5L17.8,195.1L18.5,193.8L19.2,193.9L20.0,193.3L20.8,194.2L21.5,193.6L22.2,194.5L23.0,194.0L23.8,193.7L24.5,193.9L25.2,190.0L26.0,189.3L26.8,188.6L27.5,189.1L28.2,189.3L29.0,191.7L29.8,191.6L30.5,191.6L31.2,193.1L32.0,194.5L32.8,195.0L33.5,196.0L34.2,198.1L35.0,198.5L35.8,199.4L36.5,198.5L37.2,199.9L38.0,201.8L38.8,201.8L39.5,202.6L40.2,202.9L41.0,205.5L41.8,206.6L42.5,205.6L43.2,205.8L44.0,204.8L44.8,204.5L45.5,205.5L46.2,207.6L47.0,207.8L47.8,207.0L48.5,208.0L49.2,208.5L50.0,209.0L50.8,209.1L51.5,209.2L52.2,210.4L53.0,211.0L53.8,209.4L54.5,209.1L55.2,209.7L56.0,210.3L56.8,210.7L57.5,210.6L58.2,211.9L59.0,212.7L59.8,212.8L60.5,212.7L61.2,213.2L62.0,213.4L62.8,214.0L63.5,212.9L64.2,211.9L65.0,212.0L65.8,214.0L66.5,213.9L67.2,213.6L68.0,214.4L68.8,215.9L69.5,216.1L70.2,216.4L71.0,214.5L71.8,213.9L72.5,214.6L73.2,213.3L74.0,214.9L74.8,216.0L75.5,216.7L76.2,215.5L77.0,215.8L77.8,215.7L78.5,213.7L79.2,215.0L80.0,215.1L80.8,216.2L81.5,215.9L82.2,216.8L83.0,215.7L83.8,216.3L84.5,216.3L85.2,217.3L86.0,217.7L86.8,216.9L87.5,216.8L88.2,218.6L89.0,217.5L89.8,215.8L90.5,218.2L91.2,216.6L92.0,216.7L92.8,216.9L93.5,216.9L94.2,215.8L95.0,215.0L95.8,217.0L96.5,217.5L97.2,216.4L98.0,215.8L98.8,215.0L99.5,215.1L100.2,214.6L101.0,212.7L101.8,210.1L102.5,207.4L103.2,205.9L104.0,204.7L104.8,203.1L105.5,203.0L106.2,202.0L107.0,200.7L107.8,200.3L108.5,197.5L109.2,197.0L110.0,196.1L110.8,195.3L111.5,193.8L112.2,193.2L113.0,194.3L113.8,193.7L114.5,193.9L115.2,193.3L116.0,193.5L116.8,193.5L117.5,192.2L118.2,192.2L119.0,193.6L119.8,193.1L120.5,192.2L121.2,192.7L122.0,193.1L122.8,192.5L123.5,192.5L124.2,192.5L125.0,193.2L125.8,193.5L126.5,193.9L127.2,194.5L128.0,195.1L128.8,195.5L129.5,194.4L130.2,193.4L131.0,193.8L131.8,194.5L132.5,195.2L133.2,193.5L134.0,193.2L134.8,192.6L135.5,193.5L136.2,192.7L137.0,192.2L137.8,194.2L138.5,193.8L139.2,193.5L140.0,194.4L140.8,194.4L141.5,194.2L142.2,193.1L143.0,192.9L143.8,193.1L144.5,192.6L145.2,192.5L146.0,192.6L146.8,193.4L147.5,192.2L148.2,192.0L149.0,191.5L149.8,192.1L150.5,191.5L151.2,191.9L152.0,192.6L152.8,192.9" fill="none" stroke="#a6a6a6" stroke-width="1.4" stroke-linejoin="round"/>
<path d="M11.0,193.3L11.8,193.5L12.5,193.3L13.2,192.1L14.0,192.0L14.8,193.4L15.5,194.8L16.2,194.6L17.0,193.5L17.8,192.3L18.5,191.0L19.2,192.4L20.0,192.8L20.8,193.2L21.5,193.9L22.2,194.2L23.0,194.0L23.8,194.4L24.5,195.1L25.2,190.4L26.0,191.5L26.8,189.6L27.5,189.2L28.2,191.0L29.0,190.5L29.8,191.4L30.5,192.4L31.2,192.7L32.0,194.8L32.8,195.8L33.5,197.9L34.2,198.4L35.0,200.0L35.8,200.1L36.5,200.3L37.2,200.1L38.0,201.7L38.8,202.4L39.5,202.6L40.2,203.3L41.0,203.8L41.8,205.2L42.5,206.3L43.2,206.3L44.0,206.9L44.8,209.1L45.5,209.5L46.2,209.4L47.0,210.5L47.8,209.7L48.5,210.0L49.2,210.6L50.0,209.9L50.8,209.0L51.5,211.8L52.2,211.7L53.0,211.8L53.8,211.6L54.5,212.1L55.2,211.5L56.0,211.8L56.8,212.3L57.5,213.7L58.2,213.7L59.0,213.3L59.8,213.1L60.5,213.8L61.2,214.0L62.0,215.5L62.8,213.9L63.5,215.6L64.2,216.2L65.0,215.2L65.8,214.7L66.5,214.1L67.2,215.2L68.0,216.7L68.8,215.8L69.5,215.1L70.2,215.8L71.0,216.5L71.8,217.5L72.5,217.9L73.2,216.6L74.0,216.1L74.8,216.0L75.5,218.1L76.2,217.6L77.0,216.4L77.8,216.8L78.5,217.4L79.2,217.0L80.0,216.9L80.8,216.9L81.5,217.4L82.2,217.1L83.0,218.7L83.8,218.3L84.5,217.4L85.2,217.6L86.0,217.5L86.8,217.7L87.5,219.0L88.2,219.1L89.0,218.8L89.8,219.7L90.5,219.6L91.2,219.9L92.0,220.4L92.8,219.9L93.5,219.6L94.2,219.1L95.0,220.3L95.8,220.6L96.5,218.9L97.2,219.7L98.0,220.2L98.8,219.2L99.5,217.7L100.2,216.0L101.0,214.2L101.8,212.0L102.5,210.5L103.2,208.6L104.0,207.1L104.8,205.2L105.5,203.5L106.2,201.3L107.0,200.0L107.8,199.7L108.5,198.7L109.2,199.5L110.0,198.5L110.8,197.1L111.5,195.5L112.2,193.9L113.0,195.1L113.8,195.0L114.5,195.5L115.2,195.0L116.0,195.2L116.8,195.1L117.5,194.8L118.2,195.5L119.0,194.5L119.8,194.4L120.5,193.2L121.2,193.1L122.0,193.2L122.8,192.0L123.5,192.7L124.2,193.8L125.0,193.4L125.8,191.4L126.5,191.2L127.2,191.8L128.0,192.1L128.8,193.4L129.5,193.1L130.2,194.2L131.0,193.8L131.8,194.4L132.5,194.4L133.2,194.1L134.0,194.4L134.8,193.5L135.5,194.2L136.2,193.8L137.0,192.6L137.8,194.3L138.5,192.9L139.2,193.6L140.0,193.7L140.8,192.9L141.5,193.2L142.2,193.5L143.0,194.2L143.8,193.2L144.5,193.8L145.2,191.5L146.0,193.1L146.8,192.5L147.5,193.8L148.2,194.4L149.0,193.7L149.8,193.7L150.5,194.4L151.2,194.2L152.0,192.8L152.8,194.3" fill="none" stroke="#a6a6a6" stroke-width="1.4" stroke-linejoin="round"/>
<path d="M11.0,194.2L11.8,193.6L12.5,194.1L13.2,193.3L14.0,192.7L14.8,193.9L15.5,194.9L16.2,194.7L17.0,195.2L17.8,195.0L18.5,194.4L19.2,193.8L20.0,193.2L20.8,192.6L21.5,192.2L22.2,193.9L23.0,193.6L23.8,194.1L24.5,193.2L25.2,189.1L26.0,189.5L26.8,189.1L27.5,188.4L28.2,190.5L29.0,190.6L29.8,191.8L30.5,193.3L31.2,194.7L32.0,193.9L32.8,194.9L33.5,197.2L34.2,197.9L35.0,197.3L35.8,198.7L36.5,199.3L37.2,200.6L38.0,201.0L38.8,200.7L39.5,202.4L40.2,205.1L41.0,205.9L41.8,206.5L42.5,205.7L43.2,207.9L44.0,207.8L44.8,209.0L45.5,209.6L46.2,210.9L47.0,209.9L47.8,210.1L48.5,211.0L49.2,211.1L50.0,211.2L50.8,209.8L51.5,210.1L52.2,210.5L53.0,212.3L53.8,211.3L54.5,212.1L55.2,213.8L56.0,214.4L56.8,214.2L57.5,212.6L58.2,214.4L59.0,214.2L59.8,215.4L60.5,214.8L61.2,215.9L62.0,216.2L62.8,216.0L63.5,215.6L64.2,216.4L65.0,218.3L65.8,217.6L66.5,217.4L67.2,218.3L68.0,218.3L68.8,218.3L69.5,218.3L70.2,218.2L71.0,218.1L71.8,219.5L72.5,218.8L73.2,217.9L74.0,218.6L74.8,219.7L75.5,220.0L76.2,219.4L77.0,218.5L77.8,218.9L78.5,220.2L79.2,219.1L80.0,219.7L80.8,219.3L81.5,219.6L82.2,218.3L83.0,220.4L83.8,221.1L84.5,220.3L85.2,220.7L86.0,219.9L86.8,219.3L87.5,221.2L88.2,220.5L89.0,222.3L89.8,221.3L90.5,220.2L91.2,220.7L92.0,222.0L92.8,221.3L93.5,222.3L94.2,222.5L95.0,222.2L95.8,222.0L96.5,223.2L97.2,223.8L98.0,222.6L98.8,221.3L99.5,220.5L100.2,217.7L101.0,215.2L101.8,214.5L102.5,212.6L103.2,210.3L104.0,207.2L104.8,204.3L105.5,202.5L106.2,200.8L107.0,200.2L107.8,199.7L108.5,199.1L109.2,198.1L110.0,196.7L110.8,196.9L111.5,197.1L112.2,196.4L113.0,196.0L113.8,195.9L114.5,195.8L115.2,194.9L116.0,194.3L116.8,194.6L117.5,194.5L118.2,192.5L119.0,192.2L119.8,191.9L120.5,192.4L121.2,192.8L122.0,192.1L122.8,191.0L123.5,193.3L124.2,192.2L125.0,193.7L125.8,194.5L126.5,194.8L127.2,194.3L128.0,193.5L128.8,195.7L129.5,194.9L130.2,194.8L131.0,194.0L131.8,193.2L132.5,192.9L133.2,192.8L134.0,193.2L134.8,194.4L135.5,193.0L136.2,193.7L137.0,193.1L137.8,193.1L138.5,193.4L139.2,193.8L140.0,194.8L140.8,194.9L141.5,194.4L142.2,194.1L143.0,195.5L143.8,195.0L144.5,194.1L145.2,193.5L146.0,193.9L146.8,192.2L147.5,193.2L148.2,193.5L149.0,192.9L149.8,192.0L150.5,192.5L151.2,193.9L152.0,193.4L152.8,194.1" fill="none" stroke="#a6a6a6" stroke-width="1.4" stroke-linejoin="round"/>
<path d="M11.0,192.6L11.8,192.5L12.5,194.4L13.2,193.1L14.0,193.2L14.8,193.2L15.5,191.9L16.2,194.1L17.0,193.7L17.8,193.7L18.5,193.2L19.2,192.5L20.0,192.8L20.8,192.1L21.5,192.5L22.2,193.7L23.0,194.2L23.8,194.6L24.5,193.8L25.2,189.0L26.0,190.3L26.8,190.5L27.5,189.4L28.2,189.3L29.0,190.2L29.8,191.5L30.5,191.9L31.2,193.2L32.0,194.9L32.8,195.5L33.5,196.9L34.2,196.6L35.0,197.6L35.8,199.9L36.5,201.2L37.2,201.8L38.0,202.2L38.8,202.6L39.5,201.7L40.2,202.5L41.0,205.2L41.8,205.5L42.5,206.7L43.2,206.7L44.0,207.4L44.8,209.1L45.5,210.3L46.2,211.2L47.0,212.4L47.8,213.1L48.5,213.2L49.2,214.4L50.0,213.0L50.8,214.0L51.5,214.0L52.2,215.3L53.0,215.9L53.8,215.3L54.5,215.5L55.2,214.0L56.0,215.8L56.8,216.1L57.5,217.7L58.2,216.3L59.0,217.2L59.8,218.2L60.5,218.3L61.2,217.4L62.0,218.8L62.8,221.2L63.5,218.4L64.2,219.5L65.0,218.5L65.8,219.2L66.5,220.7L67.2,221.8L68.0,220.9L68.8,221.1L69.5,220.1L70.2,221.1L71.0,222.3L71.8,221.2L72.5,222.6L73.2,221.7L74.0,221.5L74.8,222.2L75.5,223.0L76.2,222.3L77.0,223.6L77.8,223.0L78.5,223.2L79.2,222.1L80.0,222.8L80.8,223.9L81.5,223.5L82.2,223.1L83.0,222.3L83.8,223.9L84.5,223.9L85.2,224.0L86.0,224.1L86.8,224.9L87.5,224.4L88.2,225.3L89.0,224.8L89.8,225.5L90.5,226.4L91.2,224.9L92.0,224.8L92.8,223.9L93.5,222.9L94.2,223.2L95.0,224.1L95.8,225.1L96.5,225.7L97.2,226.1L98.0,224.8L98.8,224.9L99.5,222.7L100.2,221.9L101.0,218.4L101.8,215.9L102.5,212.9L103.2,211.1L104.0,209.4L104.8,207.9L105.5,205.3L106.2,203.9L107.0,202.8L107.8,200.5L108.5,200.0L109.2,199.7L110.0,198.0L110.8,197.8L111.5,196.2L112.2,195.3L113.0,195.9L113.8,195.1L114.5,195.5L115.2,193.5L116.0,193.7L116.8,193.7L117.5,194.1L118.2,194.7L119.0,194.8L119.8,193.7L120.5,193.7L121.2,194.7L122.0,194.7L122.8,192.5L123.5,192.5L124.2,192.7L125.0,192.2L125.8,192.4L126.5,193.0L127.2,193.6L128.0,194.1L128.8,193.4L129.5,194.2L130.2,193.2L131.0,195.1L131.8,194.5L132.5,194.7L133.2,194.2L134.0,193.9L134.8,193.5L135.5,193.9L136.2,193.5L137.0,192.6L137.8,192.1L138.5,191.3L139.2,191.3L140.0,193.2L140.8,195.3L141.5,194.4L142.2,193.8L143.0,194.2L143.8,194.1L144.5,194.5L145.2,194.7L146.0,194.7L146.8,194.7L147.5,195.0L148.2,193.5L149.0,193.4L149.8,193.9L150.5,194.4L151.2,194.4L152.0,194.5L152.8,194.3" fill="none" stroke="#a6a6a6" stroke-width="1.4" stroke-linejoin="round"/>
<path d="M11.0,192.9L11.8,194.5L12.5,194.6L13.2,194.4L14.0,195.0L14.8,194.7L15.5,195.4L16.2,193.6L17.0,192.6L17.8,194.1L18.5,193.1L19.2,193.9L20.0,193.6L20.8,194.3L21.5,193.5L22.2,192.9L23.0,193.4L23.8,194.2L24.5,194.7L25.2,189.7L26.0,190.6L26.8,189.8L27.5,189.8L28.2,191.4L29.0,191.4L29.8,192.0L30.5,192.3L31.2,193.3L32.0,194.9L32.8,196.2L33.5,196.2L34.2,198.4L35.0,199.8L35.8,200.5L36.5,199.6L37.2,199.9L38.0,202.0L38.8,203.7L39.5,203.8L40.2,204.7L41.0,204.6L41.8,204.4L42.5,206.3L43.2,207.1L44.0,207.5L44.8,206.8L45.5,207.4L46.2,209.1L47.0,211.1L47.8,212.6L48.5,212.9L49.2,214.1L50.0,215.3L50.8,216.3L51.5,215.8L52.2,215.4L53.0,215.1L53.8,215.9L54.5,216.7L55.2,215.9L56.0,216.7L56.8,217.8L57.5,218.8L58.2,219.6L59.0,218.5L59.8,219.6L60.5,220.3L61.2,220.6L62.0,220.5L62.8,219.1L63.5,219.8L64.2,221.4L65.0,220.9L65.8,221.1L66.5,221.2L67.2,221.6L68.0,222.5L68.8,222.3L69.5,223.9L70.2,222.6L71.0,222.4L71.8,223.0L72.5,222.8L73.2,224.9L74.0,225.1L74.8,224.9L75.5,224.5L76.2,225.2L77.0,225.7L77.8,225.2L78.5,226.0L79.2,225.0L80.0,225.7L80.8,225.5L81.5,225.2L82.2,225.7L83.0,225.7L83.8,226.2L84.5,226.8L85.2,225.7L86.0,225.2L86.8,225.8L87.5,225.4L88.2,225.2L89.0,226.1L89.8,226.3L90.5,226.8L91.2,225.6L92.0,225.8L92.8,225.4L93.5,225.8L94.2,226.2L95.0,225.5L95.8,225.0L96.5,225.2L97.2,225.3L98.0,225.1L98.8,223.5L99.5,223.1L100.2,222.2L101.0,219.4L101.8,216.6L102.5,214.8L103.2,212.2L104.0,208.0L104.8,205.7L105.5,205.7L106.2,204.0L107.0,201.5L107.8,199.2L108.5,197.2L109.2,197.1L110.0,197.3L110.8,196.4L111.5,197.5L112.2,196.8L113.0,196.5L113.8,196.2L114.5,196.9L115.2,196.9L116.0,196.4L116.8,194.6L117.5,194.0L118.2,193.1L119.0,194.1L119.8,194.6L120.5,194.2L121.2,194.2L122.0,194.0L122.8,193.8L123.5,193.4L124.2,193.1L125.0,193.1L125.8,194.0L126.5,193.8L127.2,192.6L128.0,193.6L128.8,193.9L129.5,191.9L130.2,192.0L131.0,191.3L131.8,192.8L132.5,193.7L133.2,192.4L134.0,192.9L134.8,193.6L135.5,193.8L136.2,193.2L137.0,192.5L137.8,193.0L138.5,191.7L139.2,191.3L140.0,192.2L140.8,193.1L141.5,193.4L142.2,192.9L143.0,192.6L143.8,192.8L144.5,193.8L145.2,192.9L146.0,193.5L146.8,192.8L147.5,193.5L148.2,194.7L149.0,194.4L149.8,194.3L150.5,195.6L151.2,194.7L152.0,194.9L152.8,194.9" fill="none" stroke="#a6a6a6" stroke-width="1.4" stroke-linejoin="round"/>
<path d="M11.0,194.6L11.8,194.6L12.5,194.8L13.2,192.4L14.0,193.5L14.8,193.1L15.5,194.4L16.2,194.3L17.0,193.6L17.8,193.7L18.5,193.7L19.2,194.1L20.0,194.6L20.8,193.9L21.5,194.8L22.2,194.2L23.0,193.7L23.8,192.3L24.5,193.1L25.2,190.1L26.0,190.2L26.8,189.9L27.5,189.7L28.2,191.1L29.0,190.5L29.8,190.7L30.5,192.8L31.2,193.1L32.0,195.5L32.8,196.1L33.5,196.7L34.2,196.8L35.0,197.2L35.8,197.9L36.5,199.7L37.2,199.8L38.0,200.7L38.8,202.5L39.5,202.9L40.2,204.3L41.0,202.8L41.8,203.6L42.5,205.8L43.2,206.8L44.0,207.0L44.8,208.9L45.5,209.7L46.2,211.0L47.0,212.2L47.8,214.3L48.5,214.1L49.2,214.5L50.0,214.6L50.8,215.0L51.5,217.0L52.2,216.6L53.0,218.2L53.8,218.9L54.5,220.0L55.2,220.8L56.0,222.1L56.8,221.8L57.5,224.3L58.2,225.0L59.0,225.0L59.8,225.2L60.5,225.7L61.2,228.3L62.0,228.8L62.8,230.0L63.5,229.5L64.2,230.3L65.0,229.2L65.8,228.9L66.5,229.0L67.2,227.9L68.0,230.6L68.8,231.9L69.5,231.5L70.2,229.7L71.0,231.0L71.8,231.3L72.5,232.5L73.2,231.9L74.0,231.3L74.8,229.4L75.5,230.6L76.2,229.9L77.0,229.4L77.8,230.4L78.5,229.6L79.2,230.5L80.0,230.1L80.8,229.3L81.5,228.5L82.2,229.5L83.0,231.8L83.8,231.7L84.5,231.4L85.2,232.0L86.0,231.5L86.8,230.5L87.5,230.6L88.2,231.1L89.0,231.0L89.8,230.3L90.5,230.4L91.2,231.6L92.0,229.7L92.8,229.5L93.5,229.9L94.2,230.1L95.0,231.2L95.8,231.8L96.5,232.0L97.2,232.4L98.0,231.6L98.8,229.5L99.5,228.5L100.2,227.1L101.0,224.2L101.8,219.9L102.5,217.3L103.2,214.0L104.0,210.9L104.8,209.0L105.5,206.9L106.2,205.2L107.0,202.3L107.8,201.1L108.5,198.4L109.2,198.2L110.0,198.9L110.8,197.0L111.5,195.7L112.2,196.3L113.0,195.0L113.8,194.4L114.5,194.7L115.2,193.1L116.0,192.0L116.8,193.0L117.5,191.6L118.2,192.8L119.0,191.6L119.8,192.9L120.5,194.5L121.2,195.6L122.0,197.0L122.8,196.5L123.5,195.3L124.2,194.3L125.0,193.8L125.8,194.3L126.5,193.5L127.2,193.8L128.0,194.2L128.8,194.8L129.5,194.2L130.2,193.2L131.0,193.6L131.8,193.7L132.5,195.9L133.2,195.2L134.0,194.3L134.8,193.5L135.5,193.6L136.2,193.5L137.0,193.7L137.8,193.6L138.5,193.7L139.2,194.0L140.0,193.9L140.8,193.2L141.5,192.8L142.2,193.6L143.0,192.3L143.8,192.1L144.5,192.3L145.2,192.6L146.0,194.1L146.8,194.4L147.5,193.2L148.2,193.7L149.0,194.1L149.8,194.3L150.5,195.8L151.2,193.9L152.0,193.3L152.8,194.2" fill="none" stroke="#a6a6a6" stroke-width="1.4" stroke-linejoin="round"/>
<path d="M11.0,193.8L11.8,193.0L12.5,193.1L13.2,192.6L14.0,194.2L14.8,195.3L15.5,193.2L16.2,194.8L17.0,195.0L17.8,193.7L18.5,194.4L19.2,193.7L20.0,193.2L20.8,193.3L21.5,194.3L22.2,194.1L23.0,194.4L23.8,194.7L24.5,193.5L25.2,188.9L26.0,189.2L26.8,188.1L27.5,187.9L28.2,189.5L29.0,191.6L29.8,192.2L30.5,191.8L31.2,193.5L32.0,195.2L32.8,196.1L33.5,197.2L34.2,198.8L35.0,200.6L35.8,200.8L36.5,201.2L37.2,200.7L38.0,202.4L38.8,202.4L39.5,203.0L40.2,204.1L41.0,204.2L41.8,205.7L42.5,206.1L43.2,205.5L44.0,207.9L44.8,209.5L45.5,209.5L46.2,210.4L47.0,209.4L47.8,211.7L48.5,212.1L49.2,213.8L50.0,213.0L50.8,213.8L51.5,213.5L52.2,213.9L53.0,214.9L53.8,217.9L54.5,219.6L55.2,218.6L56.0,221.3L56.8,222.5L57.5,222.7L58.2,224.1L59.0,223.8L59.8,223.7L60.5,223.7L61.2,222.9L62.0,223.8L62.8,225.1L63.5,225.3L64.2,225.5L65.0,226.9L65.8,226.0L66.5,225.3L67.2,225.8L68.0,225.7L68.8,227.7L69.5,227.8L70.2,229.0L71.0,228.8L71.8,228.6L72.5,228.6L73.2,228.6L74.0,229.8L74.8,230.1L75.5,229.3L76.2,229.2L77.0,229.6L77.8,229.3L78.5,228.4L79.2,229.3L80.0,230.1L80.8,229.0L81.5,229.1L82.2,229.7L83.0,230.1L83.8,231.4L84.5,230.5L85.2,230.7L86.0,232.2L86.8,231.7L87.5,232.0L88.2,231.5L89.0,233.4L89.8,232.0L90.5,230.1L91.2,230.4L92.0,232.8L92.8,232.2L93.5,232.2L94.2,232.7L95.0,234.2L95.8,234.0L96.5,234.0L97.2,234.1L98.0,234.3L98.8,232.4L99.5,231.8L100.2,227.6L101.0,224.8L101.8,222.6L102.5,219.0L103.2,214.8L104.0,212.6L104.8,210.7L105.5,207.1L106.2,205.8L107.0,203.8L107.8,201.3L108.5,200.0L109.2,199.6L110.0,198.9L110.8,198.1L111.5,196.4L112.2,195.5L113.0,196.6L113.8,195.7L114.5,197.4L115.2,196.0L116.0,194.6L116.8,193.4L117.5,194.0L118.2,194.1L119.0,194.8L119.8,194.8L120.5,193.0L121.2,194.4L122.0,194.8L122.8,193.7L123.5,194.3L124.2,194.8L125.0,194.7L125.8,192.7L126.5,193.1L127.2,193.4L128.0,193.3L128.8,192.8L129.5,193.7L130.2,193.9L131.0,193.3L131.8,193.5L132.5,193.5L133.2,192.3L134.0,192.0L134.8,192.5L135.5,192.3L136.2,193.5L137.0,193.1L137.8,194.4L138.5,194.1L139.2,194.7L140.0,193.4L140.8,193.4L141.5,194.7L142.2,195.1L143.0,194.4L143.8,194.7L144.5,194.8L145.2,192.8L146.0,192.0L146.8,191.6L147.5,192.7L148.2,193.2L149.0,194.4L149.8,193.4L150.5,193.1L151.2,195.4L152.0,194.7L152.8,192.7" fill="none" stroke="#a6a6a6" stroke-width="1.4" stroke-linejoin="round"/>
<path d="M11.0,193.7L11.8,193.4L12.5,191.8L13.2,193.8L14.0,194.1L14.8,193.9L15.5,193.7L16.2,194.3L17.0,194.6L17.8,193.5L18.5,195.0L19.2,194.2L20.0,194.5L20.8,194.8L21.5,194.5L22.2,194.6L23.0,194.0L23.8,194.9L24.5,195.8L25.2,190.1L26.0,189.4L26.8,190.2L27.5,189.6L28.2,190.7L29.0,191.2L29.8,191.2L30.5,191.9L31.2,193.6L32.0,195.0L32.8,197.9L33.5,200.2L34.2,200.0L35.0,199.6L35.8,199.0L36.5,199.6L37.2,199.4L38.0,200.8L38.8,202.3L39.5,204.2L40.2,204.4L41.0,205.2L41.8,204.2L42.5,205.5L43.2,206.9L44.0,208.8L44.8,208.6L45.5,209.4L46.2,210.6L47.0,211.6L47.8,212.2L48.5,213.5L49.2,212.3L50.0,213.2L50.8,215.1L51.5,216.1L52.2,216.5L53.0,217.5L53.8,219.9L54.5,219.8L55.2,221.4L56.0,221.0L56.8,221.8L57.5,223.8L58.2,226.0L59.0,225.3L59.8,228.1L60.5,229.5L61.2,230.9L62.0,231.2L62.8,228.8L63.5,229.8L64.2,230.6L65.0,229.5L65.8,229.7L66.5,229.6L67.2,229.6L68.0,229.0L68.8,230.9L69.5,230.4L70.2,231.3L71.0,233.0L71.8,233.3L72.5,233.6L73.2,233.8L74.0,234.2L74.8,233.8L75.5,235.1L76.2,233.6L77.0,234.5L77.8,235.3L78.5,235.2L79.2,235.0L80.0,234.7L80.8,234.6L81.5,233.8L82.2,232.7L83.0,233.7L83.8,236.2L84.5,235.7L85.2,235.4L86.0,235.3L86.8,236.0L87.5,236.0L88.2,236.7L89.0,237.1L89.8,237.4L90.5,236.7L91.2,235.6L92.0,236.7L92.8,237.0L93.5,236.3L94.2,236.8L95.0,236.4L95.8,235.1L96.5,236.7L97.2,237.3L98.0,237.2L98.8,234.8L99.5,233.3L100.2,231.5L101.0,227.6L101.8,225.3L102.5,220.1L103.2,216.4L104.0,214.2L104.8,212.1L105.5,208.6L106.2,205.5L107.0,203.1L107.8,200.3L108.5,199.4L109.2,199.2L110.0,198.0L110.8,197.5L111.5,198.4L112.2,198.2L113.0,197.2L113.8,196.5L114.5,195.1L115.2,194.3L116.0,193.9L116.8,194.8L117.5,193.4L118.2,195.0L119.0,194.5L119.8,195.0L120.5,193.6L121.2,193.5L122.0,192.6L122.8,192.4L123.5,193.2L124.2,192.6L125.0,193.2L125.8,192.6L126.5,192.8L127.2,193.2L128.0,192.2L128.8,193.4L129.5,193.9L130.2,192.9L131.0,194.1L131.8,193.3L132.5,192.5L133.2,193.1L134.0,192.8L134.8,192.6L135.5,193.3L136.2,194.8L137.0,195.3L137.8,195.8L138.5,194.1L139.2,192.4L140.0,192.9L140.8,192.5L141.5,192.3L142.2,192.1L143.0,192.1L143.8,191.6L144.5,191.4L145.2,192.5L146.0,192.8L146.8,193.8L147.5,194.5L148.2,194.4L149.0,194.0L149.8,192.3L150.5,192.4L151.2,192.3L152.0,194.2L152.8,194.5" fill="none" stroke="#a6a6a6" stroke-width="1.4" stroke-linejoin="round"/>
<path d="M11.0,192.8L11.8,191.9L12.5,194.1L13.2,194.2L14.0,193.3L14.8,193.0L15.5,193.2L16.2,193.2L17.0,193.5L17.8,193.5L18.5,193.6L19.2,193.3L20.0,195.3L20.8,194.2L21.5,192.6L22.2,193.1L23.0,192.8L23.8,193.4L24.5,193.2L25.2,187.8L26.0,188.1L26.8,188.0L27.5,189.5L28.2,190.0L29.0,191.1L29.8,193.4L30.5,193.5L31.2,193.2L32.0,195.0L32.8,196.0L33.5,197.3L34.2,199.9L35.0,200.4L35.8,200.3L36.5,200.4L37.2,201.5L38.0,203.2L38.8,204.6L39.5,204.8L40.2,206.3L41.0,205.2L41.8,206.0L42.5,207.1L43.2,206.9L44.0,208.2L44.8,209.8L45.5,210.8L46.2,211.1L47.0,212.0L47.8,213.2L48.5,214.6L49.2,215.6L50.0,216.1L50.8,216.9L51.5,217.1L52.2,218.2L53.0,218.4L53.8,221.0L54.5,220.0L55.2,222.2L56.0,221.2L56.8,223.3L57.5,224.5L58.2,225.6L59.0,226.5L59.8,227.7L60.5,228.7L61.2,228.1L62.0,228.7L62.8,228.4L63.5,229.0L64.2,229.1L65.0,228.2L65.8,229.1L66.5,229.8L67.2,229.4L68.0,229.6L68.8,231.6L69.5,232.3L70.2,231.9L71.0,232.5L71.8,232.5L72.5,231.9L73.2,232.0L74.0,232.0L74.8,232.8L75.5,233.0L76.2,234.3L77.0,233.6L77.8,233.9L78.5,234.8L79.2,234.7L80.0,234.1L80.8,234.0L81.5,234.1L82.2,233.3L83.0,234.6L83.8,235.5L84.5,234.9L85.2,236.0L86.0,236.6L86.8,236.2L87.5,237.1L88.2,236.9L89.0,236.9L89.8,236.5L90.5,237.3L91.2,237.1L92.0,237.8L92.8,236.5L93.5,235.8L94.2,237.8L95.0,237.3L95.8,237.4L96.5,237.2L97.2,237.5L98.0,237.4L98.8,236.1L99.5,233.8L100.2,231.9L101.0,229.7L101.8,226.0L102.5,222.3L103.2,218.4L104.0,215.2L104.8,211.8L105.5,209.1L106.2,206.2L107.0,204.1L107.8,202.4L108.5,201.2L109.2,199.6L110.0,200.5L110.8,198.9L111.5,198.0L112.2,197.9L113.0,197.2L113.8,195.8L114.5,195.5L115.2,195.3L116.0,195.4L116.8,193.7L117.5,193.4L118.2,195.8L119.0,195.1L119.8,195.1L120.5,194.2L121.2,194.3L122.0,194.6L122.8,194.3L123.5,194.4L124.2,193.7L125.0,192.3L125.8,193.2L126.5,194.3L127.2,194.4L128.0,194.2L128.8,193.6L129.5,194.2L130.2,193.0L131.0,192.0L131.8,194.0L132.5,192.6L133.2,191.8L134.0,192.8L134.8,192.6L135.5,193.1L136.2,193.5L137.0,193.8L137.8,194.0L138.5,193.9L139.2,193.2L140.0,193.3L140.8,193.3L141.5,193.6L142.2,193.9L143.0,194.2L143.8,194.8L144.5,193.8L145.2,193.7L146.0,195.1L146.8,194.0L147.5,194.6L148.2,195.0L149.0,193.6L149.8,194.5L150.5,194.3L151.2,194.7L152.0,194.8L152.8,195.2" fill="none" stroke="#a6a6a6" stroke-width="1.4" stroke-linejoin="round"/>
<path d="M11.0,192.4L11.8,193.8L12.5,194.0L13.2,193.6L14.0,194.5L14.8,194.7L15.5,194.1L16.2,194.3L17.0,193.0L17.8,192.3L18.5,192.2L19.2,194.0L20.0,194.8L20.8,195.5L21.5,193.9L22.2,193.2L23.0,193.1L23.8,192.3L24.5,192.4L25.2,188.6L26.0,188.1L26.8,188.2L27.5,189.2L28.2,189.6L29.0,190.2L29.8,191.5L30.5,191.3L31.2,192.7L32.0,194.0L32.8,195.8L33.5,197.0L34.2,197.1L35.0,197.6L35.8,199.7L36.5,201.2L37.2,200.2L38.0,200.3L38.8,200.4L39.5,202.6L40.2,204.0L41.0,205.0L41.8,205.0L42.5,205.2L43.2,208.7L44.0,208.6L44.8,209.9L45.5,211.3L46.2,212.0L47.0,213.2L47.8,215.4L48.5,215.7L49.2,214.8L50.0,214.7L50.8,215.5L51.5,216.3L52.2,217.0L53.0,218.1L53.8,218.7L54.5,219.4L55.2,220.6L56.0,221.8L56.8,222.6L57.5,223.6L58.2,224.2L59.0,225.6L59.8,226.7L60.5,228.7L61.2,229.0L62.0,231.0L62.8,232.1L63.5,231.9L64.2,231.9L65.0,232.7L65.8,232.7L66.5,233.0L67.2,234.2L68.0,235.7L68.8,234.7L69.5,234.5L70.2,236.9L71.0,237.6L71.8,236.5L72.5,236.7L73.2,236.4L74.0,235.8L74.8,236.1L75.5,236.9L76.2,236.7L77.0,238.5L77.8,238.8L78.5,238.6L79.2,239.4L80.0,238.8L80.8,239.8L81.5,238.2L82.2,238.7L83.0,239.1L83.8,238.6L84.5,239.6L85.2,239.4L86.0,238.9L86.8,238.5L87.5,238.2L88.2,239.7L89.0,241.2L89.8,240.4L90.5,240.2L91.2,240.6L92.0,240.5L92.8,239.6L93.5,240.0L94.2,240.4L95.0,241.1L95.8,241.3L96.5,243.6L97.2,243.7L98.0,240.5L98.8,239.9L99.5,237.0L100.2,235.6L101.0,232.7L101.8,229.2L102.5,225.1L103.2,219.9L104.0,216.1L104.8,213.5L105.5,211.4L106.2,207.6L107.0,204.7L107.8,202.9L108.5,201.5L109.2,200.3L110.0,199.5L110.8,199.5L111.5,197.9L112.2,197.3L113.0,196.7L113.8,196.6L114.5,196.0L115.2,195.3L116.0,195.1L116.8,194.7L117.5,194.4L118.2,193.6L119.0,192.8L119.8,193.9L120.5,193.4L121.2,192.7L122.0,192.7L122.8,193.1L123.5,195.5L124.2,195.6L125.0,193.4L125.8,193.4L126.5,194.2L127.2,194.8L128.0,194.4L128.8,193.1L129.5,195.4L130.2,193.9L131.0,194.1L131.8,194.4L132.5,193.7L133.2,193.8L134.0,193.1L134.8,193.3L135.5,193.8L136.2,194.0L137.0,194.5L137.8,194.3L138.5,193.1L139.2,193.9L140.0,195.2L140.8,195.2L141.5,194.9L142.2,193.1L143.0,193.0L143.8,193.3L144.5,193.8L145.2,194.3L146.0,192.2L146.8,190.6L147.5,192.1L148.2,194.3L149.0,195.2L149.8,193.8L150.5,193.4L151.2,194.7L152.0,194.5L152.8,192.7" fill="none" stroke="#a6a6a6" stroke-width="1.4" stroke-linejoin="round"/>
<path d="M11.0,195.0L11.8,194.3L12.5,193.5L13.2,193.8L14.0,194.3L14.8,194.5L15.5,194.3L16.2,193.6L17.0,194.9L17.8,193.7L18.5,194.7L19.2,195.3L20.0,194.2L20.8,193.5L21.5,192.5L22.2,193.1L23.0,192.7L23.8,193.8L24.5,194.4L25.2,189.7L26.0,189.7L26.8,188.5L27.5,189.9L28.2,190.2L29.0,190.4L29.8,191.3L30.5,193.7L31.2,193.6L32.0,194.2L32.8,194.9L33.5,195.4L34.2,195.4L35.0,196.9L35.8,198.5L36.5,199.3L37.2,201.1L38.0,202.2L38.8,202.9L39.5,203.0L40.2,205.1L41.0,207.5L41.8,207.1L42.5,205.5L43.2,206.2L44.0,207.0L44.8,208.1L45.5,208.8L46.2,209.6L47.0,211.6L47.8,212.0L48.5,213.3L49.2,214.1L50.0,214.1L50.8,214.3L51.5,214.0L52.2,215.9L53.0,217.0L53.8,216.8L54.5,217.9L55.2,220.3L56.0,221.3L56.8,222.4L57.5,224.8L58.2,226.1L59.0,226.5L59.8,226.9L60.5,227.9L61.2,229.6L62.0,228.7L62.8,229.1L63.5,231.3L64.2,232.4L65.0,232.8L65.8,234.5L66.5,236.2L67.2,236.8L68.0,236.4L68.8,235.4L69.5,236.3L70.2,236.7L71.0,236.9L71.8,237.4L72.5,237.5L73.2,238.8L74.0,238.8L74.8,238.6L75.5,239.1L76.2,239.7L77.0,239.4L77.8,238.9L78.5,238.8L79.2,239.2L80.0,240.3L80.8,240.1L81.5,239.6L82.2,239.9L83.0,240.2L83.8,241.4L84.5,241.3L85.2,241.6L86.0,241.8L86.8,241.6L87.5,240.8L88.2,240.7L89.0,240.9L89.8,241.9L90.5,242.4L91.2,242.5L92.0,242.4L92.8,241.3L93.5,241.9L94.2,241.6L95.0,244.0L95.8,243.0L96.5,243.3L97.2,243.6L98.0,242.9L98.8,240.7L99.5,238.1L100.2,235.4L101.0,233.2L101.8,230.1L102.5,226.8L103.2,221.4L104.0,218.4L104.8,213.8L105.5,210.7L106.2,208.1L107.0,206.6L107.8,202.6L108.5,201.1L109.2,199.1L110.0,198.9L110.8,197.7L111.5,197.3L112.2,197.5L113.0,195.8L113.8,195.1L114.5,195.9L115.2,194.6L116.0,194.5L116.8,193.3L117.5,193.7L118.2,194.3L119.0,193.5L119.8,193.9L120.5,193.0L121.2,192.7L122.0,193.7L122.8,195.3L123.5,194.6L124.2,193.0L125.0,194.3L125.8,194.3L126.5,194.4L127.2,194.0L128.0,194.2L128.8,193.9L129.5,193.3L130.2,193.4L131.0,194.1L131.8,193.4L132.5,194.1L133.2,193.3L134.0,194.3L134.8,194.5L135.5,194.6L136.2,194.8L137.0,194.1L137.8,194.3L138.5,193.4L139.2,194.7L140.0,193.1L140.8,195.1L141.5,194.7L142.2,194.2L143.0,193.3L143.8,192.3L144.5,192.9L145.2,193.7L146.0,194.0L146.8,195.2L147.5,195.4L148.2,195.3L149.0,194.5L149.8,194.0L150.5,193.3L151.2,192.3L152.0,192.1L152.8,193.0" fill="none" stroke="#a6a6a6" stroke-width="1.4" stroke-linejoin="round"/>
<path d="M11.0,193.0L11.8,193.9L12.5,195.2L13.2,194.5L14.0,193.2L14.8,193.6L15.5,194.4L16.2,194.1L17.0,194.1L17.8,194.3L18.5,192.5L19.2,193.5L20.0,194.0L20.8,193.5L21.5,193.7L22.2,193.8L23.0,192.1L23.8,192.9L24.5,194.5L25.2,189.1L26.0,190.5L26.8,190.1L27.5,189.6L28.2,190.8L29.0,189.5L29.8,190.6L30.5,191.9L31.2,193.7L32.0,195.8L32.8,196.2L33.5,196.8L34.2,196.6L35.0,198.0L35.8,199.0L36.5,198.5L37.2,200.4L38.0,200.7L38.8,201.5L39.5,203.1L40.2,203.5L41.0,205.0L41.8,204.5L42.5,205.9L43.2,205.5L44.0,207.5L44.8,209.1L45.5,209.0L46.2,212.0L47.0,213.2L47.8,212.4L48.5,213.9L49.2,214.7L50.0,214.9L50.8,216.7L51.5,217.5L52.2,217.3L53.0,217.3L53.8,218.1L54.5,220.1L55.2,220.6L56.0,223.4L56.8,224.8L57.5,224.8L58.2,227.0L59.0,226.3L59.8,226.5L60.5,227.6L61.2,228.9L62.0,229.8L62.8,231.7L63.5,231.7L64.2,231.8L65.0,232.7L65.8,232.5L66.5,233.3L67.2,232.8L68.0,232.6L68.8,235.0L69.5,236.8L70.2,237.7L71.0,239.3L71.8,240.0L72.5,240.9L73.2,241.2L74.0,242.8L74.8,242.5L75.5,241.1L76.2,240.5L77.0,240.6L77.8,241.4L78.5,241.8L79.2,243.2L80.0,243.4L80.8,242.2L81.5,242.1L82.2,243.2L83.0,243.8L83.8,241.9L84.5,242.4L85.2,242.6L86.0,242.5L86.8,243.2L87.5,242.3L88.2,242.7L89.0,242.0L89.8,242.4L90.5,241.5L91.2,243.5L92.0,244.6L92.8,245.3L93.5,245.7L94.2,247.0L95.0,246.9L95.8,246.9L96.5,245.6L97.2,246.4L98.0,246.2L98.8,244.8L99.5,242.4L100.2,238.8L101.0,237.0L101.8,233.2L102.5,227.7L103.2,223.3L104.0,218.9L104.8,214.9L105.5,213.2L106.2,209.5L107.0,207.2L107.8,204.9L108.5,202.3L109.2,201.6L110.0,199.2L110.8,199.2L111.5,197.4L112.2,197.5L113.0,197.8L113.8,197.0L114.5,197.0L115.2,195.2L116.0,195.3L116.8,195.0L117.5,194.0L118.2,194.1L119.0,192.6L119.8,192.1L120.5,193.3L121.2,191.7L122.0,193.7L122.8,193.9L123.5,193.2L124.2,193.0L125.0,193.4L125.8,193.5L126.5,193.8L127.2,194.7L128.0,194.1L128.8,194.2L129.5,194.3L130.2,192.9L131.0,193.2L131.8,193.4L132.5,192.5L133.2,192.2L134.0,193.0L134.8,191.8L135.5,191.1L136.2,193.2L137.0,194.0L137.8,194.8L138.5,195.2L139.2,196.0L140.0,196.1L140.8,196.5L141.5,195.4L142.2,194.3L143.0,193.5L143.8,192.2L144.5,192.7L145.2,192.0L146.0,194.1L146.8,194.2L147.5,194.0L148.2,194.3L149.0,193.9L149.8,193.0L150.5,193.6L151.2,193.8L152.0,194.2L152.8,193.7" fill="none" stroke="#a6a6a6" stroke-width="1.4" stroke-linejoin="round"/>
<path d="M11.0,193.4L11.8,192.3L12.5,193.9L13.2,194.2L14.0,193.1L14.8,193.4L15.5,193.1L16.2,192.9L17.0,193.3L17.8,194.4L18.5,192.9L19.2,193.2L20.0,193.8L20.8,194.0L21.5,194.2L22.2,192.9L23.0,191.5L23.8,192.5L24.5,192.3L25.2,188.3L26.0,188.4L26.8,189.2L27.5,188.2L28.2,189.9L29.0,191.4L29.8,192.6L30.5,192.7L31.2,194.0L32.0,195.2L32.8,197.1L33.5,197.5L34.2,198.4L35.0,200.2L35.8,200.0L36.5,200.8L37.2,201.2L38.0,201.6L38.8,203.4L39.5,203.9L40.2,204.2L41.0,205.3L41.8,204.9L42.5,206.9L43.2,207.4L44.0,209.0L44.8,209.6L45.5,210.4L46.2,210.3L47.0,210.4L47.8,211.4L48.5,212.2L49.2,213.3L50.0,214.9L50.8,217.0L51.5,216.6L52.2,216.6L53.0,218.7L53.8,220.0L54.5,220.5L55.2,221.0L56.0,221.4L56.8,222.2L57.5,223.7L58.2,225.9L59.0,226.1L59.8,229.3L60.5,230.5L61.2,228.0L62.0,229.0L62.8,230.3L63.5,230.5L64.2,231.9L65.0,231.8L65.8,232.6L66.5,234.4L67.2,234.5L68.0,236.5L68.8,237.3L69.5,237.8L70.2,237.8L71.0,237.0L71.8,237.8L72.5,239.3L73.2,240.6L74.0,240.2L74.8,241.1L75.5,242.2L76.2,243.3L77.0,243.3L77.8,244.0L78.5,246.8L79.2,247.9L80.0,247.6L80.8,247.1L81.5,248.1L82.2,246.7L83.0,248.5L83.8,246.0L84.5,244.6L85.2,243.8L86.0,242.6L86.8,242.5L87.5,241.7L88.2,241.1L89.0,240.9L89.8,240.5L90.5,241.6L91.2,242.7L92.0,243.2L92.8,243.9L93.5,243.0L94.2,243.0L95.0,245.3L95.8,246.5L96.5,245.8L97.2,245.6L98.0,245.4L98.8,243.8L99.5,243.2L100.2,239.2L101.0,236.5L101.8,232.4L102.5,228.5L103.2,223.5L104.0,217.5L104.8,215.1L105.5,211.7L106.2,209.6L107.0,206.2L107.8,203.9L108.5,202.6L109.2,200.9L110.0,199.6L110.8,199.4L111.5,200.1L112.2,199.1L113.0,199.0L113.8,198.1L114.5,198.2L115.2,197.1L116.0,195.6L116.8,195.3L117.5,194.2L118.2,194.6L119.0,195.2L119.8,193.3L120.5,193.6L121.2,194.2L122.0,194.5L122.8,193.1L123.5,194.1L124.2,194.3L125.0,194.7L125.8,194.3L126.5,194.3L127.2,194.5L128.0,194.8L128.8,194.8L129.5,195.1L130.2,196.2L131.0,193.8L131.8,193.4L132.5,193.8L133.2,194.1L134.0,192.9L134.8,193.5L135.5,193.5L136.2,193.4L137.0,194.3L137.8,194.4L138.5,193.2L139.2,192.9L140.0,193.2L140.8,192.5L141.5,194.1L142.2,194.8L143.0,194.0L143.8,193.7L144.5,192.7L145.2,193.0L146.0,193.7L146.8,194.2L147.5,194.9L148.2,193.7L149.0,194.1L149.8,192.8L150.5,192.4L151.2,191.6L152.0,192.4L152.8,191.9" fill="none" stroke="#a6a6a6" stroke-width="1.4" stroke-linejoin="round"/>
<path d="M12.8,194.3L13.4,192.3L14.0,193.5L14.6,193.1L15.2,193.3L15.8,192.3L16.4,192.4L17.0,193.0L17.6,192.4L18.2,193.0L18.8,191.9L19.4,192.0L20.0,193.5L20.6,192.8L21.2,193.0L21.8,193.5L22.4,192.3L23.0,191.3L23.6,192.7L24.2,192.0L24.8,191.8L25.4,191.4L26.0,192.0L26.6,190.2L27.2,191.2L27.8,190.5L28.4,191.2L29.0,191.6L29.6,191.2L30.2,191.3L30.8,192.8L31.4,194.1L32.0,194.4L32.6,194.8L33.2,196.1L33.8,195.7L34.4,196.4L35.0,197.5L35.6,199.4L36.2,198.7L36.8,199.2L37.4,199.9L38.0,200.5L38.6,201.7L39.2,203.0L39.8,204.2L40.4,203.6L41.0,204.3L41.6,204.7L42.2,205.4L42.8,207.1L43.4,207.2L44.0,207.1L44.6,207.4L45.2,209.7L45.8,210.2L46.4,211.3L47.0,210.6L47.6,212.1L48.2,213.7L48.8,213.6L49.4,215.0L50.0,213.7L50.6,216.3L51.2,214.7L51.8,216.1L52.4,215.8L53.0,218.3L53.6,218.6L54.2,219.9L54.8,220.1L55.4,221.0L56.0,220.6L56.6,222.3L57.2,222.3L57.8,222.4L58.4,225.1L59.0,224.9L59.6,225.6L60.2,226.3L60.8,228.0L61.4,228.1L62.0,230.6L62.6,231.4L63.2,230.4L63.8,230.7L64.4,232.3L65.0,232.1L65.6,233.6L66.2,234.8L66.8,234.1L67.4,235.1L68.0,236.8L68.6,236.3L69.2,236.7L69.8,238.6L70.4,238.9L71.0,239.5L71.6,239.5L72.2,239.3L72.8,240.4L73.4,241.2L74.0,241.2L74.6,240.7L75.2,241.2L75.8,242.0L76.4,243.3L77.0,243.4L77.6,244.0L78.2,245.2L78.8,244.1L79.4,246.0L80.0,245.8L80.6,247.0L81.2,248.3L81.8,247.4L82.4,249.6L83.0,247.7L83.6,249.0L84.2,249.2L84.8,248.5L85.4,248.4L86.0,247.4L86.6,246.5L87.2,246.3L87.8,244.1L88.4,244.6L89.0,245.2L89.6,243.3L90.2,244.6L90.8,242.8L91.4,244.1L92.0,243.1L92.6,244.0L93.2,244.1L93.8,243.5L94.4,245.5L95.0,245.6L95.6,246.7L96.2,246.9L96.8,247.6L97.4,247.9L98.0,247.4L98.6,248.8L99.2,246.9L99.8,247.9L100.4,246.7L101.0,244.6L101.6,244.1L102.2,240.9L102.8,237.8L103.4,234.0L104.0,230.9L104.6,227.4L105.2,223.7L105.8,221.6L106.4,217.3L107.0,214.9L107.6,212.5L108.2,211.1L108.8,208.5L109.4,206.9L110.0,204.4L110.6,203.1L111.2,201.9L111.8,201.4L112.4,200.7L113.0,201.3L113.6,199.7L114.2,198.2L114.8,198.6L115.4,197.3L116.0,197.9L116.6,197.1L117.2,197.6L117.8,195.7L118.4,196.6L119.0,194.7L119.6,196.3L120.2,195.3L120.8,193.7L121.4,195.4L122.0,194.0L122.6,194.0L123.2,193.3L123.8,194.8L124.4,192.9L125.0,194.3L125.6,193.3L126.2,193.9L126.8,192.9L127.4,192.4L128.0,194.3L128.6,193.6L129.2,192.4L129.8,194.3L130.4,194.0L131.0,192.2L131.6,191.8L132.2,193.1L132.8,191.9L133.4,193.3L134.0,192.6L134.6,193.2L135.2,192.9L135.8,193.4L136.4,193.6L137.0,193.2L137.6,193.2L138.2,192.6L138.8,192.2L139.4,192.2L140.0,194.1L140.6,192.6L141.2,193.2L141.8,193.0L142.4,193.8L143.0,193.6L143.6,194.4L144.2,193.5L144.8,193.3L145.4,194.1L146.0,194.4L146.6,194.8L147.2,193.4L147.8,194.8L148.4,195.1L149.0,195.2L149.6,193.2L150.2,193.8L150.8,194.8L151.4,195.0L152.0,193.1L152.6,194.0L153.2,194.8L153.8,194.9" fill="none" stroke="#a0a0a0" stroke-width="1.5" stroke-linejoin="round"/>
<path d="M11.6,190.9L12.2,190.0L12.8,190.6L13.4,190.9L14.0,191.8L14.6,191.2L15.2,190.7L15.8,190.3L16.4,190.5L17.0,191.3L17.6,190.7L18.2,190.0L18.8,191.6L19.4,191.0L20.0,191.9L20.6,190.8L21.2,190.7L21.8,190.0L22.4,190.1L23.0,190.5L23.6,190.4L24.2,189.3L24.8,188.5L25.4,187.3L26.0,189.2L26.6,188.3L27.2,188.5L27.8,188.0L28.4,188.3L29.0,189.8L29.6,191.8L30.2,191.9L30.8,192.5L31.4,193.2L32.0,193.0L32.6,193.4L33.2,195.2L33.8,194.7L34.4,196.7L35.0,197.2L35.6,198.0L36.2,197.7L36.8,198.3L37.4,200.0L38.0,199.8L38.6,201.6L39.2,201.4L39.8,202.7L40.4,203.6L41.0,203.9L41.6,204.3L42.2,204.2L42.8,205.1L43.4,207.3L44.0,206.2L44.6,207.0L45.2,208.3L45.8,209.1L46.4,210.5L47.0,210.0L47.6,212.2L48.2,210.6L48.8,213.0L49.4,213.1L50.0,214.5L50.6,213.3L51.2,215.2L51.8,216.4L52.4,216.3L53.0,215.6L53.6,218.1L54.2,218.9L54.8,217.4L55.4,219.7L56.0,218.5L56.6,219.5L57.2,222.4L57.8,223.5L58.4,225.2L59.0,225.4L59.6,225.9L60.2,226.0L60.8,227.5L61.4,229.3L62.0,229.2L62.6,230.3L63.2,229.3L63.8,231.2L64.4,231.8L65.0,230.8L65.6,233.2L66.2,232.3L66.8,233.0L67.4,233.2L68.0,235.2L68.6,234.6L69.2,237.0L69.8,235.1L70.4,237.5L71.0,237.9L71.6,237.9L72.2,238.3L72.8,239.3L73.4,239.4L74.0,238.7L74.6,240.7L75.2,240.1L75.8,241.2L76.4,241.7L77.0,243.2L77.6,242.6L78.2,244.3L78.8,243.0L79.4,244.2L80.0,245.6L80.6,246.1L81.2,247.1L81.8,245.8L82.4,247.4L83.0,247.6L83.6,246.0L84.2,245.2L84.8,245.4L85.4,245.5L86.0,243.8L86.6,242.9L87.2,242.7L87.8,243.0L88.4,242.0L89.0,241.6L89.6,241.5L90.2,242.5L90.8,242.4L91.4,242.7L92.0,241.5L92.6,242.5L93.2,243.6L93.8,244.0L94.4,245.1L95.0,245.6L95.6,244.3L96.2,245.7L96.8,245.3L97.4,244.9L98.0,245.6L98.6,246.0L99.2,244.3L99.8,241.5L100.4,240.6L101.0,237.9L101.6,236.2L102.2,232.2L102.8,228.3L103.4,225.7L104.0,221.3L104.6,217.2L105.2,215.7L105.8,214.2L106.4,211.2L107.0,208.7L107.6,205.5L108.2,204.7L108.8,203.1L109.4,202.1L110.0,200.5L110.6,198.8L111.2,200.1L111.8,197.7L112.4,198.0L113.0,196.9L113.6,197.1L114.2,195.6L114.8,194.5L115.4,194.9L116.0,194.5L116.6,194.8L117.2,193.4L117.8,193.5L118.4,192.6L119.0,193.3L119.6,191.8L120.2,193.4L120.8,193.4L121.4,191.0L122.0,192.8L122.6,192.5L123.2,192.1L123.8,190.6L124.4,191.9L125.0,191.9L125.6,191.5L126.2,192.3L126.8,192.2L127.4,191.4L128.0,192.0L128.6,190.1L129.2,190.4L129.8,190.9L130.4,190.8L131.0,191.7L131.6,190.9L132.2,190.8L132.8,190.8L133.4,191.5L134.0,190.3L134.6,191.1L135.2,190.9L135.8,190.5L136.4,190.4L137.0,190.0L137.6,189.7L138.2,190.5L138.8,190.5L139.4,190.1L140.0,191.1L140.6,190.8L141.2,192.3L141.8,192.0L142.4,191.8L143.0,192.2L143.6,190.9L144.2,190.6L144.8,191.8L145.4,191.0L146.0,192.8L146.6,191.5L147.2,192.7L147.8,191.2L148.4,190.9L149.0,192.2L149.6,192.4L150.2,191.4L150.8,193.1L151.4,193.2L152.0,192.5L152.6,193.2" fill="none" stroke="#a0a0a0" stroke-width="1.5" stroke-linejoin="round"/>
<path d="M12.9,191.5L13.5,191.5L14.1,191.4L14.7,190.5L15.3,190.9L15.9,191.0L16.5,191.6L17.1,189.7L17.7,190.4L18.3,190.2L18.9,191.4L19.5,189.7L20.1,189.6L20.7,189.7L21.3,189.6L21.9,190.4L22.5,191.1L23.1,189.6L23.7,188.7L24.3,189.8L24.9,188.6L25.5,188.9L26.1,189.0L26.7,188.0L27.3,188.7L27.9,188.7L28.5,189.5L29.1,189.5L29.7,190.2L30.3,190.5L30.9,190.0L31.5,191.1L32.1,192.5L32.7,193.2L33.3,193.9L33.9,194.9L34.5,195.6L35.1,195.6L35.7,196.6L36.3,195.9L36.9,197.7L37.5,199.0L38.1,200.2L38.7,200.7L39.3,200.3L39.9,200.4L40.5,202.6L41.1,202.6L41.7,202.1L42.3,202.4L42.9,205.0L43.5,204.9L44.1,204.4L44.7,207.1L45.3,206.8L45.9,208.0L46.5,208.8L47.1,208.2L47.7,209.6L48.3,209.5L48.9,211.2L49.5,211.4L50.1,212.8L50.7,211.8L51.3,212.6L51.9,213.7L52.5,213.3L53.1,214.9L53.7,216.9L54.3,217.2L54.9,216.2L55.5,218.3L56.1,217.5L56.7,218.1L57.3,219.7L57.9,219.9L58.5,220.8L59.1,221.7L59.7,223.2L60.3,224.2L60.9,226.7L61.5,225.3L62.1,227.2L62.7,227.2L63.3,229.2L63.9,228.1L64.5,229.5L65.1,231.0L65.7,229.9L66.3,231.4L66.9,231.8L67.5,232.8L68.1,233.8L68.7,233.0L69.3,235.5L69.9,234.7L70.5,236.4L71.1,235.3L71.7,235.6L72.3,236.3L72.9,236.5L73.5,237.4L74.1,237.6L74.7,237.9L75.3,240.2L75.9,239.9L76.5,240.2L77.1,240.9L77.7,242.2L78.3,241.0L78.9,241.6L79.5,243.6L80.1,242.7L80.7,244.5L81.3,245.3L81.9,246.5L82.5,244.9L83.1,246.1L83.7,246.0L84.3,246.9L84.9,245.6L85.5,246.5L86.1,246.1L86.7,244.3L87.3,243.8L87.9,243.7L88.5,243.3L89.1,242.9L89.7,241.7L90.3,240.3L90.9,241.8L91.5,242.1L92.1,242.0L92.7,241.3L93.3,243.1L93.9,242.4L94.5,242.2L95.1,243.9L95.7,243.2L96.3,243.8L96.9,246.0L97.5,244.4L98.1,246.3L98.7,245.2L99.3,245.6L99.9,245.1L100.5,244.4L101.1,241.6L101.7,240.1L102.3,238.1L102.9,234.4L103.5,231.9L104.1,228.0L104.7,224.4L105.3,221.9L105.9,217.1L106.5,214.7L107.1,212.5L107.7,209.3L108.3,208.7L108.9,207.1L109.5,203.2L110.1,203.3L110.7,200.5L111.3,201.0L111.9,198.6L112.5,199.4L113.1,199.1L113.7,196.7L114.3,196.0L114.9,195.9L115.5,196.7L116.1,196.0L116.7,194.0L117.3,195.3L117.9,194.5L118.5,194.5L119.1,194.1L119.7,191.9L120.3,193.1L120.9,191.3L121.5,191.5L122.1,192.2L122.7,191.3L123.3,191.1L123.9,191.3L124.5,191.4L125.1,192.3L125.7,191.4L126.3,191.2L126.9,191.6L127.5,190.2L128.1,191.6L128.7,191.5L129.3,191.5L129.9,190.6L130.5,190.8L131.1,189.6L131.7,190.4L132.3,190.8L132.9,191.5L133.5,191.3L134.1,189.9L134.7,190.9L135.3,191.2L135.9,191.5L136.5,190.9L137.1,190.1L137.7,191.5L138.3,189.5L138.9,190.9L139.5,190.7L140.1,191.7L140.7,191.2L141.3,190.2L141.9,190.2L142.5,189.9L143.1,191.7L143.7,191.9L144.3,190.9L144.9,190.6L145.5,191.5L146.1,190.6L146.7,191.5L147.3,191.1L147.9,191.1L148.5,192.0L149.1,191.0L149.7,191.3L150.3,191.9L150.9,192.8L151.5,191.0L152.1,191.4L152.7,191.3L153.3,191.4L153.9,191.8" fill="none" stroke="#a0a0a0" stroke-width="1.5" stroke-linejoin="round"/>
<path d="M12.5,191.6L13.1,190.9L13.7,191.2L14.3,191.0L14.9,191.2L15.5,190.1L16.1,191.1L16.7,190.6L17.3,191.5L17.9,191.0L18.5,190.5L19.1,191.9L19.7,189.9L20.3,189.5L20.9,189.8L21.5,191.1L22.1,189.4L22.7,190.6L23.3,188.8L23.9,189.0L24.5,189.4L25.1,187.7L25.7,188.4L26.3,189.4L26.9,188.8L27.5,188.2L28.1,189.7L28.7,189.1L29.3,190.1L29.9,189.6L30.5,190.3L31.1,191.7L31.7,192.5L32.3,193.1L32.9,192.6L33.5,194.0L34.1,194.5L34.7,195.0L35.3,195.4L35.9,197.7L36.5,197.0L37.1,198.2L37.7,198.1L38.3,200.4L38.9,200.8L39.5,200.1L40.1,202.8L40.7,203.5L41.3,203.5L41.9,204.3L42.5,204.7L43.1,203.6L43.7,204.9L44.3,205.4L44.9,205.5L45.5,207.8L46.1,208.4L46.7,208.6L47.3,210.3L47.9,209.8L48.5,210.5L49.1,210.7L49.7,211.6L50.3,213.7L50.9,213.4L51.5,214.6L52.1,215.5L52.7,215.6L53.3,215.5L53.9,217.6L54.5,216.0L55.1,217.4L55.7,219.2L56.3,219.3L56.9,219.1L57.5,221.2L58.1,222.3L58.7,223.4L59.3,223.5L59.9,225.4L60.5,226.1L61.1,227.3L61.7,227.3L62.3,229.0L62.9,229.3L63.5,228.6L64.1,230.1L64.7,229.8L65.3,231.4L65.9,231.3L66.5,233.5L67.1,232.6L67.7,234.2L68.3,234.9L68.9,234.4L69.5,235.6L70.1,235.2L70.7,236.0L71.3,236.6L71.9,237.7L72.5,237.6L73.1,237.3L73.7,238.9L74.3,239.0L74.9,239.5L75.5,239.8L76.1,241.2L76.7,241.3L77.3,241.9L77.9,242.1L78.5,242.5L79.1,243.2L79.7,244.4L80.3,244.4L80.9,244.1L81.5,245.1L82.1,245.1L82.7,245.3L83.3,246.3L83.9,246.5L84.5,246.7L85.1,245.3L85.7,244.5L86.3,244.2L86.9,243.0L87.5,242.4L88.1,242.6L88.7,242.8L89.3,240.8L89.9,240.2L90.5,241.1L91.1,242.4L91.7,241.9L92.3,241.5L92.9,243.1L93.5,242.6L94.1,243.5L94.7,244.2L95.3,242.8L95.9,243.8L96.5,245.8L97.1,245.3L97.7,246.5L98.3,244.5L98.9,246.6L99.5,245.0L100.1,243.3L100.7,243.1L101.3,241.2L101.9,238.1L102.5,234.4L103.1,232.9L103.7,228.2L104.3,225.0L104.9,220.9L105.5,217.1L106.1,214.9L106.7,211.8L107.3,210.3L107.9,207.7L108.5,205.1L109.1,204.4L109.7,202.1L110.3,200.7L110.9,200.6L111.5,199.3L112.1,197.9L112.7,199.2L113.3,198.5L113.9,196.2L114.5,196.8L115.1,196.1L115.7,194.8L116.3,195.0L116.9,193.9L117.5,193.4L118.1,193.4L118.7,191.9L119.3,192.2L119.9,193.8L120.5,193.2L121.1,191.9L121.7,193.4L122.3,191.6L122.9,192.7L123.5,191.3L124.1,192.5L124.7,191.3L125.3,192.2L125.9,190.3L126.5,190.9L127.1,190.7L127.7,191.7L128.3,191.8L128.9,190.0L129.5,190.6L130.1,190.0L130.7,189.7L131.3,189.7L131.9,189.5L132.5,190.0L133.1,190.3L133.7,191.4L134.3,190.7L134.9,191.1L135.5,190.1L136.1,190.1L136.7,190.4L137.3,190.0L137.9,189.6L138.5,190.3L139.1,191.9L139.7,189.8L140.3,191.0L140.9,190.4L141.5,191.7L142.1,190.1L142.7,191.2L143.3,191.8L143.9,191.2L144.5,190.5L145.1,192.4L145.7,190.3L146.3,192.5L146.9,192.3L147.5,192.5L148.1,192.5L148.7,191.4L149.3,192.1L149.9,191.7L150.5,192.1L151.1,191.6L151.7,192.8L152.3,191.5L152.9,192.1L153.5,190.9" fill="none" stroke="#a0a0a0" stroke-width="1.5" stroke-linejoin="round"/>
<path d="M10.2,192.8L10.8,192.8L11.4,194.3L12.0,193.6L12.6,192.2L13.2,193.1L13.8,192.9L14.4,193.2L15.0,192.4L15.6,192.4L16.2,193.9L16.8,193.1L17.4,192.9L18.0,193.3L18.6,193.4L19.2,192.0L19.8,193.1L20.4,192.1L21.0,191.0L21.6,191.1L22.2,192.4L22.8,191.8L23.4,191.6L24.0,190.4L24.6,190.7L25.2,190.4L25.8,191.4L26.4,191.1L27.0,191.1L27.6,193.2L28.2,192.7L28.8,192.2L29.4,194.8L30.0,193.8L30.6,195.0L31.2,196.2L31.8,196.3L32.4,197.6L33.0,198.3L33.6,199.3L34.2,200.3L34.8,201.1L35.4,200.3L36.0,201.4L36.6,201.7L37.2,202.9L37.8,203.8L38.4,205.3L39.0,203.9L39.6,206.4L40.2,205.5L40.8,207.5L41.4,208.4L42.0,209.3L42.6,209.0L43.2,208.5L43.8,209.8L44.4,210.9L45.0,212.2L45.6,213.7L46.2,214.1L46.8,212.7L47.4,213.5L48.0,215.3L48.6,214.9L49.2,216.4L49.8,216.8L50.4,217.5L51.0,217.6L51.6,219.5L52.2,218.7L52.8,219.4L53.4,219.5L54.0,220.5L54.6,220.7L55.2,222.9L55.8,222.6L56.4,224.3L57.0,226.9L57.6,228.0L58.2,227.5L58.8,229.2L59.4,230.1L60.0,230.5L60.6,231.1L61.2,232.1L61.8,231.6L62.4,232.2L63.0,232.7L63.6,233.2L64.2,234.5L64.8,235.1L65.4,234.9L66.0,235.3L66.6,235.7L67.2,236.8L67.8,237.1L68.4,238.7L69.0,239.6L69.6,239.4L70.2,240.1L70.8,240.0L71.4,239.6L72.0,241.7L72.6,242.2L73.2,241.2L73.8,242.0L74.4,243.5L75.0,244.1L75.6,243.4L76.2,244.6L76.8,245.2L77.4,246.2L78.0,247.4L78.6,246.4L79.2,247.6L79.8,249.3L80.4,247.7L81.0,247.9L81.6,249.6L82.2,249.2L82.8,248.0L83.4,247.2L84.0,245.4L84.6,245.9L85.2,244.6L85.8,244.6L86.4,245.4L87.0,243.9L87.6,243.3L88.2,243.0L88.8,243.0L89.4,244.0L90.0,244.4L90.6,243.2L91.2,243.1L91.8,244.6L92.4,244.7L93.0,246.3L93.6,245.8L94.2,247.3L94.8,247.6L95.4,248.8L96.0,247.2L96.6,247.1L97.2,246.5L97.8,246.0L98.4,243.8L99.0,242.6L99.6,240.8L100.2,237.4L100.8,233.3L101.4,232.0L102.0,226.7L102.6,223.5L103.2,220.5L103.8,217.4L104.4,215.7L105.0,211.7L105.6,210.5L106.2,207.6L106.8,205.6L107.4,205.2L108.0,204.1L108.6,201.7L109.2,200.7L109.8,200.3L110.4,200.4L111.0,198.3L111.6,200.1L112.2,197.3L112.8,198.6L113.4,198.3L114.0,196.8L114.6,197.3L115.2,195.3L115.8,196.3L116.4,195.3L117.0,195.8L117.6,195.5L118.2,195.3L118.8,195.3L119.4,193.7L120.0,193.0L120.6,193.2L121.2,194.4L121.8,193.7L122.4,193.5L123.0,193.3L123.6,192.2L124.2,194.3L124.8,193.3L125.4,193.3L126.0,193.0L126.6,193.9L127.2,192.9L127.8,193.0L128.4,193.5L129.0,191.9L129.6,193.5L130.2,192.9L130.8,192.2L131.4,191.7L132.0,192.5L132.6,192.0L133.2,191.4L133.8,193.4L134.4,193.3L135.0,193.7L135.6,193.5L136.2,192.7L136.8,194.0L137.4,192.4L138.0,192.5L138.6,193.1L139.2,193.6L139.8,192.3L140.4,192.3L141.0,194.4L141.6,192.3L142.2,194.1L142.8,193.5L143.4,194.7L144.0,194.5L144.6,193.6L145.2,193.8L145.8,194.2L146.4,193.2L147.0,192.7L147.6,195.1L148.2,194.1L148.8,194.7L149.4,194.1L150.0,193.0L150.6,193.1L151.2,193.4" fill="none" stroke="#a0a0a0" stroke-width="1.5" stroke-linejoin="round"/>
<path d="M12.9,192.4L13.5,192.8L14.1,194.0L14.7,192.9L15.3,192.4L15.9,192.9L16.5,192.0L17.1,192.9L17.7,191.7L18.3,192.7L18.9,191.7L19.5,191.5L20.1,193.2L20.7,192.6L21.3,191.8L21.9,192.3L22.5,193.2L23.1,191.6L23.7,191.1L24.3,191.3L24.9,192.0L25.5,191.0L26.1,190.4L26.7,190.5L27.3,189.8L27.9,191.5L28.5,190.1L29.1,190.2L29.7,191.2L30.3,192.6L30.9,193.2L31.5,193.5L32.1,192.6L32.7,195.3L33.3,196.3L33.9,195.2L34.5,196.1L35.1,196.9L35.7,197.4L36.3,198.1L36.9,199.7L37.5,200.9L38.1,201.1L38.7,201.9L39.3,202.9L39.9,203.8L40.5,204.8L41.1,204.7L41.7,204.8L42.3,204.4L42.9,205.6L43.5,206.0L44.1,208.4L44.7,208.5L45.3,207.7L45.9,209.0L46.5,209.9L47.1,211.1L47.7,212.7L48.3,211.9L48.9,213.4L49.5,213.3L50.1,215.1L50.7,214.8L51.3,216.0L51.9,216.1L52.5,217.1L53.1,217.8L53.7,217.5L54.3,218.2L54.9,219.2L55.5,220.1L56.1,220.4L56.7,220.4L57.3,221.3L57.9,222.4L58.5,223.3L59.1,224.3L59.7,224.9L60.3,225.9L60.9,226.8L61.5,227.4L62.1,228.9L62.7,231.0L63.3,230.4L63.9,232.2L64.5,232.3L65.1,233.5L65.7,233.4L66.3,234.7L66.9,235.0L67.5,233.8L68.1,234.3L68.7,237.2L69.3,236.3L69.9,237.6L70.5,238.8L71.1,239.3L71.7,238.7L72.3,238.7L72.9,239.7L73.5,240.4L74.1,239.5L74.7,241.6L75.3,240.1L75.9,241.5L76.5,243.1L77.1,243.8L77.7,244.3L78.3,244.9L78.9,244.5L79.5,245.1L80.1,245.8L80.7,246.5L81.3,246.4L81.9,247.3L82.5,248.1L83.1,247.1L83.7,248.7L84.3,247.6L84.9,248.9L85.5,246.8L86.1,246.3L86.7,246.1L87.3,246.0L87.9,246.1L88.5,245.2L89.1,244.9L89.7,243.6L90.3,243.4L90.9,243.2L91.5,244.4L92.1,244.3L92.7,242.5L93.3,244.4L93.9,244.6L94.5,245.6L95.1,246.3L95.7,245.6L96.3,246.2L96.9,246.4L97.5,246.7L98.1,248.4L98.7,248.0L99.3,248.2L99.9,246.2L100.5,246.1L101.1,243.1L101.7,243.0L102.3,239.6L102.9,236.6L103.5,235.3L104.1,229.8L104.7,228.4L105.3,224.2L105.9,221.3L106.5,217.1L107.1,215.8L107.7,212.4L108.3,210.1L108.9,208.5L109.5,205.8L110.1,204.8L110.7,202.5L111.3,201.3L111.9,202.2L112.5,199.7L113.1,201.1L113.7,198.6L114.3,199.8L114.9,197.8L115.5,198.3L116.1,196.9L116.7,197.3L117.3,195.6L117.9,195.2L118.5,194.8L119.1,196.1L119.7,195.7L120.3,194.3L120.9,195.5L121.5,195.3L122.1,193.2L122.7,194.2L123.3,193.1L123.9,193.3L124.5,193.0L125.1,192.7L125.7,193.4L126.3,192.4L126.9,192.6L127.5,192.1L128.1,192.4L128.7,193.5L129.3,192.3L129.9,193.8L130.5,191.7L131.1,191.5L131.7,191.9L132.3,192.5L132.9,192.0L133.5,192.1L134.1,192.9L134.7,192.7L135.3,191.7L135.9,193.3L136.5,192.1L137.1,192.7L137.7,192.2L138.3,193.3L138.9,192.9L139.5,192.8L140.1,192.0L140.7,191.9L141.3,192.4L141.9,193.8L142.5,194.1L143.1,192.9L143.7,192.2L144.3,192.5L144.9,194.3L145.5,192.4L146.1,193.2L146.7,192.4L147.3,193.5L147.9,193.1L148.5,194.7L149.1,194.8L149.7,193.7L150.3,194.5L150.9,194.2L151.5,193.7L152.1,194.5L152.7,192.7L153.3,193.1L153.9,194.6" fill="none" stroke="#a0a0a0" stroke-width="1.5" stroke-linejoin="round"/>
<path d="M11.0,190.5L11.7,191.0L12.4,189.9L13.1,189.6L13.8,190.6L14.5,191.7L15.2,191.3L15.9,193.4L16.6,190.9L17.3,191.2L18.0,191.5L18.7,190.7L19.4,190.9L20.1,189.4L20.8,188.8L21.5,189.5L22.2,188.6L22.9,189.3L23.6,189.7L24.3,190.6L25.0,190.2L25.7,189.4L26.4,188.8L27.1,189.9L27.8,189.7L28.5,192.9L29.2,192.7L29.9,192.6L30.6,192.5L31.3,193.7L32.0,194.5L32.7,196.0L33.4,196.1L34.1,196.7L34.8,197.8L35.5,198.5L36.2,198.7L36.9,200.0L37.6,200.9L38.3,201.7L39.0,203.0L39.7,202.6L40.4,203.8L41.1,205.5L41.8,206.1L42.5,206.6L43.2,206.6L43.9,207.4L44.6,207.2L45.3,211.1L46.0,211.9L46.7,212.8L47.4,213.9L48.1,214.0L48.8,214.6L49.5,215.1L50.2,214.5L50.9,213.3L51.6,215.9L52.3,218.1L53.0,219.0L53.7,219.1L54.4,220.3L55.1,221.6L55.8,223.1L56.5,224.0L57.2,225.7L57.9,224.5L58.6,226.8L59.3,228.2L60.0,227.5L60.7,228.5L61.4,230.1L62.1,231.9L62.8,232.8L63.5,234.0L64.2,233.7L64.9,233.9L65.6,234.8L66.3,234.4L67.0,234.2L67.7,236.0L68.4,236.4L69.1,237.1L69.8,238.8L70.5,236.3L71.2,237.4L71.9,239.3L72.6,239.6L73.3,241.6L74.0,240.3L74.7,240.9L75.4,241.2L76.1,241.8L76.8,241.7L77.5,243.1L78.2,243.3L78.9,243.7L79.6,245.8L80.3,246.6L81.0,245.8L81.7,246.6L82.4,247.7L83.1,248.4L83.8,247.1L84.5,247.2L85.2,245.3L85.9,243.6L86.6,242.7L87.3,242.8L88.0,239.9L88.7,242.3L89.4,243.1L90.1,242.4L90.8,242.3L91.5,243.3L92.2,245.1L92.9,243.5L93.6,245.5L94.3,246.1L95.0,245.9L95.7,246.8L96.4,245.7L97.1,244.5L97.8,243.1L98.5,245.1L99.2,243.0L99.9,240.9L100.6,237.6L101.3,233.9L102.0,229.6L102.7,226.8L103.4,222.9L104.1,219.1L104.8,214.3L105.5,213.3L106.2,210.4L106.9,209.0L107.6,205.7L108.3,203.1L109.0,200.5L109.7,201.7L110.4,200.8L111.1,198.3L111.8,197.7L112.5,197.3L113.2,197.0L113.9,197.5L114.6,197.6L115.3,196.7L116.0,194.5L116.7,193.2L117.4,192.3L118.1,192.1L118.8,193.0L119.5,192.4L120.2,192.4L120.9,193.3L121.6,192.4L122.3,194.3L123.0,191.2L123.7,192.2L124.4,191.1L125.1,191.6L125.8,191.5L126.5,191.5L127.2,190.7L127.9,191.3L128.6,190.4L129.3,191.0L130.0,190.5L130.7,189.7L131.4,191.6L132.1,191.5L132.8,190.6L133.5,191.5L134.2,192.2L134.9,193.6L135.6,193.1L136.3,193.2L137.0,191.6L137.7,193.7L138.4,192.3L139.1,192.3L139.8,192.4L140.5,193.1L141.2,192.8L141.9,192.5L142.6,192.5L143.3,194.1L144.0,194.5L144.7,194.3L145.4,194.1L146.1,192.5L146.8,192.2L147.5,191.2L148.2,193.9L148.9,191.6L149.6,190.9L150.3,190.9L151.0,191.3L151.7,190.2" fill="none" stroke="#262626" stroke-width="1.7" stroke-linejoin="round"/>
<rect x="81.20" y="185.70" width="7.90" height="62.80" fill="rgba(205,75,100,0.6)" stroke="none" stroke-width="0.6"/>
<text x="131.60" y="207.60" font-size="7.8" textLength="8.60" lengthAdjust="spacingAndGlyphs" font-style="italic">(2)</text>
<text x="36.30" y="240.70" font-size="7.0" textLength="25.70" lengthAdjust="spacingAndGlyphs">360 nm</text>
<line x1="52.30" y1="234.40" x2="57.10" y2="226.90" stroke="#222" stroke-width="0.7"/>
<path d="M57.7,226.0 L55.0,227.6 L57.3,229.0 Z" fill="#222"/>
<text x="81.40" y="255.30" font-size="7.8" textLength="7.60" lengthAdjust="spacingAndGlyphs" font-style="italic">(1)</text>
<path d="M12.8,231.3L12.8,261.0L38.1,261.0" fill="none" stroke="#222" stroke-width="1.15" stroke-linejoin="round"/>
<text x="7.90" y="248.20" font-size="6.8" text-anchor="middle" textLength="31.00" lengthAdjust="spacingAndGlyphs" transform="rotate(-90 7.90 248.20)">20 pA/pF</text>
<text x="13.30" y="270.00" font-size="6.8" textLength="24.80" lengthAdjust="spacingAndGlyphs">100 ms</text>
<path d="M92,252.9 Q150,268 229,258.5" fill="none" stroke="#333" stroke-width="0.6"/>
<path d="M232.5,258.2 L228.3,256.8 L228.7,260.2 Z" fill="#333"/>
<text x="198.00" y="156.00" font-size="9.5" textLength="117.10" lengthAdjust="spacingAndGlyphs">Action spectrum: on switch</text>
<line x1="190.00" y1="180.40" x2="321.20" y2="180.40" stroke="#777" stroke-width="0.8"/>
<line x1="198.70" y1="178.40" x2="198.70" y2="180.40" stroke="#777" stroke-width="0.7"/>
<text x="202.60" y="171.30" font-size="8.2" text-anchor="middle" textLength="13.60" lengthAdjust="spacingAndGlyphs" transform="rotate(-45 202.60 171.30)">340</text>
<line x1="213.08" y1="178.40" x2="213.08" y2="180.40" stroke="#777" stroke-width="0.7"/>
<text x="216.98" y="171.30" font-size="8.2" text-anchor="middle" textLength="13.60" lengthAdjust="spacingAndGlyphs" transform="rotate(-45 216.98 171.30)">360</text>
<line x1="227.46" y1="178.40" x2="227.46" y2="180.40" stroke="#777" stroke-width="0.7"/>
<text x="231.36" y="171.30" font-size="8.2" text-anchor="middle" textLength="13.60" lengthAdjust="spacingAndGlyphs" transform="rotate(-45 231.36 171.30)">380</text>
<line x1="241.84" y1="178.40" x2="241.84" y2="180.40" stroke="#777" stroke-width="0.7"/>
<text x="245.74" y="171.30" font-size="8.2" text-anchor="middle" textLength="13.60" lengthAdjust="spacingAndGlyphs" transform="rotate(-45 245.74 171.30)">400</text>
<line x1="256.22" y1="178.40" x2="256.22" y2="180.40" stroke="#777" stroke-width="0.7"/>
<text x="260.12" y="171.30" font-size="8.2" text-anchor="middle" textLength="13.60" lengthAdjust="spacingAndGlyphs" transform="rotate(-45 260.12 171.30)">420</text>
<line x1="270.60" y1="178.40" x2="270.60" y2="180.40" stroke="#777" stroke-width="0.7"/>
<text x="274.50" y="171.30" font-size="8.2" text-anchor="middle" textLength="13.60" lengthAdjust="spacingAndGlyphs" transform="rotate(-45 274.50 171.30)">440</text>
<line x1="284.98" y1="178.40" x2="284.98" y2="180.40" stroke="#777" stroke-width="0.7"/>
<text x="288.88" y="171.30" font-size="8.2" text-anchor="middle" textLength="13.60" lengthAdjust="spacingAndGlyphs" transform="rotate(-45 288.88 171.30)">460</text>
<line x1="299.36" y1="178.40" x2="299.36" y2="180.40" stroke="#777" stroke-width="0.7"/>
<text x="303.26" y="171.30" font-size="8.2" text-anchor="middle" textLength="13.60" lengthAdjust="spacingAndGlyphs" transform="rotate(-45 303.26 171.30)">480</text>
<line x1="313.74" y1="178.40" x2="313.74" y2="180.40" stroke="#777" stroke-width="0.7"/>
<text x="317.64" y="171.30" font-size="8.2" text-anchor="middle" textLength="13.60" lengthAdjust="spacingAndGlyphs" transform="rotate(-45 317.64 171.30)">500</text>
<text x="322.80" y="174.90" font-size="7.0" textLength="16.00" lengthAdjust="spacingAndGlyphs">[nm]</text>
<line x1="187.70" y1="184.50" x2="187.70" y2="260.00" stroke="#888" stroke-width="0.8"/>
<line x1="185.80" y1="185.30" x2="187.70" y2="185.30" stroke="#888" stroke-width="0.7"/>
<text x="183.70" y="188.20" font-size="8.2" text-anchor="end" textLength="4.70" lengthAdjust="spacingAndGlyphs">0</text>
<line x1="185.80" y1="211.70" x2="187.70" y2="211.70" stroke="#888" stroke-width="0.7"/>
<text x="184.60" y="214.20" font-size="7.4" text-anchor="end" textLength="12.60" lengthAdjust="spacingAndGlyphs">–20</text>
<line x1="185.80" y1="238.10" x2="187.70" y2="238.10" stroke="#888" stroke-width="0.7"/>
<text x="184.60" y="240.60" font-size="7.4" text-anchor="end" textLength="12.60" lengthAdjust="spacingAndGlyphs">–40</text>
<line x1="188.50" y1="185.50" x2="319.90" y2="185.50" stroke="#1a1a1a" stroke-width="0.8" stroke-dasharray="1.2 0.7"/>
<text x="167.60" y="224.00" font-size="7.6" text-anchor="middle" textLength="24.30" lengthAdjust="spacingAndGlyphs" transform="rotate(-90 167.60 224.00)">pA/pF</text>
<line x1="191.51" y1="191.41" x2="191.51" y2="195.81" stroke="#444" stroke-width="0.5"/>
<line x1="190.01" y1="191.41" x2="193.01" y2="191.41" stroke="#444" stroke-width="0.5"/>
<line x1="190.01" y1="195.81" x2="193.01" y2="195.81" stroke="#444" stroke-width="0.5"/>
<rect x="190.31" y="192.41" width="2.40" height="2.40" fill="#fff" stroke="#3a3a3a" stroke-width="0.6"/>
<line x1="195.10" y1="191.43" x2="195.10" y2="195.83" stroke="#444" stroke-width="0.5"/>
<line x1="193.60" y1="191.43" x2="196.60" y2="191.43" stroke="#444" stroke-width="0.5"/>
<line x1="193.60" y1="195.83" x2="196.60" y2="195.83" stroke="#444" stroke-width="0.5"/>
<rect x="193.91" y="192.43" width="2.40" height="2.40" fill="#fff" stroke="#3a3a3a" stroke-width="0.6"/>
<line x1="198.70" y1="191.31" x2="198.70" y2="195.71" stroke="#444" stroke-width="0.5"/>
<line x1="197.20" y1="191.31" x2="200.20" y2="191.31" stroke="#444" stroke-width="0.5"/>
<line x1="197.20" y1="195.71" x2="200.20" y2="195.71" stroke="#444" stroke-width="0.5"/>
<rect x="197.50" y="192.31" width="2.40" height="2.40" fill="#fff" stroke="#3a3a3a" stroke-width="0.6"/>
<line x1="202.29" y1="191.18" x2="202.29" y2="195.58" stroke="#444" stroke-width="0.5"/>
<line x1="200.79" y1="191.18" x2="203.79" y2="191.18" stroke="#444" stroke-width="0.5"/>
<line x1="200.79" y1="195.58" x2="203.79" y2="195.58" stroke="#444" stroke-width="0.5"/>
<rect x="201.09" y="192.18" width="2.40" height="2.40" fill="#fff" stroke="#3a3a3a" stroke-width="0.6"/>
<line x1="205.89" y1="191.71" x2="205.89" y2="196.11" stroke="#444" stroke-width="0.5"/>
<line x1="204.39" y1="191.71" x2="207.39" y2="191.71" stroke="#444" stroke-width="0.5"/>
<line x1="204.39" y1="196.11" x2="207.39" y2="196.11" stroke="#444" stroke-width="0.5"/>
<rect x="204.69" y="192.71" width="2.40" height="2.40" fill="#fff" stroke="#3a3a3a" stroke-width="0.6"/>
<line x1="209.48" y1="191.83" x2="209.48" y2="196.23" stroke="#444" stroke-width="0.5"/>
<line x1="207.98" y1="191.83" x2="210.98" y2="191.83" stroke="#444" stroke-width="0.5"/>
<line x1="207.98" y1="196.23" x2="210.98" y2="196.23" stroke="#444" stroke-width="0.5"/>
<rect x="208.28" y="192.83" width="2.40" height="2.40" fill="#fff" stroke="#3a3a3a" stroke-width="0.6"/>
<line x1="213.08" y1="191.84" x2="213.08" y2="196.24" stroke="#444" stroke-width="0.5"/>
<line x1="211.58" y1="191.84" x2="214.58" y2="191.84" stroke="#444" stroke-width="0.5"/>
<line x1="211.58" y1="196.24" x2="214.58" y2="196.24" stroke="#444" stroke-width="0.5"/>
<rect x="211.88" y="192.84" width="2.40" height="2.40" fill="#fff" stroke="#3a3a3a" stroke-width="0.6"/>
<line x1="216.67" y1="191.52" x2="216.67" y2="195.92" stroke="#444" stroke-width="0.5"/>
<line x1="215.17" y1="191.52" x2="218.17" y2="191.52" stroke="#444" stroke-width="0.5"/>
<line x1="215.17" y1="195.92" x2="218.17" y2="195.92" stroke="#444" stroke-width="0.5"/>
<rect x="215.47" y="192.52" width="2.40" height="2.40" fill="#fff" stroke="#3a3a3a" stroke-width="0.6"/>
<line x1="220.27" y1="192.11" x2="220.27" y2="196.51" stroke="#444" stroke-width="0.5"/>
<line x1="218.77" y1="192.11" x2="221.77" y2="192.11" stroke="#444" stroke-width="0.5"/>
<line x1="218.77" y1="196.51" x2="221.77" y2="196.51" stroke="#444" stroke-width="0.5"/>
<rect x="219.07" y="193.11" width="2.40" height="2.40" fill="#fff" stroke="#3a3a3a" stroke-width="0.6"/>
<line x1="223.86" y1="191.74" x2="223.86" y2="196.14" stroke="#444" stroke-width="0.5"/>
<line x1="222.36" y1="191.74" x2="225.36" y2="191.74" stroke="#444" stroke-width="0.5"/>
<line x1="222.36" y1="196.14" x2="225.36" y2="196.14" stroke="#444" stroke-width="0.5"/>
<rect x="222.66" y="192.74" width="2.40" height="2.40" fill="#fff" stroke="#3a3a3a" stroke-width="0.6"/>
<line x1="227.46" y1="191.90" x2="227.46" y2="196.30" stroke="#444" stroke-width="0.5"/>
<line x1="225.96" y1="191.90" x2="228.96" y2="191.90" stroke="#444" stroke-width="0.5"/>
<line x1="225.96" y1="196.30" x2="228.96" y2="196.30" stroke="#444" stroke-width="0.5"/>
<rect x="226.26" y="192.90" width="2.40" height="2.40" fill="#fff" stroke="#3a3a3a" stroke-width="0.6"/>
<line x1="231.05" y1="192.42" x2="231.05" y2="196.82" stroke="#444" stroke-width="0.5"/>
<line x1="229.55" y1="192.42" x2="232.55" y2="192.42" stroke="#444" stroke-width="0.5"/>
<line x1="229.55" y1="196.82" x2="232.55" y2="196.82" stroke="#444" stroke-width="0.5"/>
<rect x="229.85" y="193.42" width="2.40" height="2.40" fill="#fff" stroke="#3a3a3a" stroke-width="0.6"/>
<line x1="234.65" y1="192.20" x2="234.65" y2="196.60" stroke="#444" stroke-width="0.5"/>
<line x1="233.15" y1="192.20" x2="236.15" y2="192.20" stroke="#444" stroke-width="0.5"/>
<line x1="233.15" y1="196.60" x2="236.15" y2="196.60" stroke="#444" stroke-width="0.5"/>
<rect x="233.45" y="193.20" width="2.40" height="2.40" fill="#fff" stroke="#3a3a3a" stroke-width="0.6"/>
<line x1="238.25" y1="192.37" x2="238.25" y2="196.77" stroke="#444" stroke-width="0.5"/>
<line x1="236.75" y1="192.37" x2="239.75" y2="192.37" stroke="#444" stroke-width="0.5"/>
<line x1="236.75" y1="196.77" x2="239.75" y2="196.77" stroke="#444" stroke-width="0.5"/>
<rect x="237.05" y="193.37" width="2.40" height="2.40" fill="#fff" stroke="#3a3a3a" stroke-width="0.6"/>
<line x1="241.84" y1="192.50" x2="241.84" y2="196.90" stroke="#444" stroke-width="0.5"/>
<line x1="240.34" y1="192.50" x2="243.34" y2="192.50" stroke="#444" stroke-width="0.5"/>
<line x1="240.34" y1="196.90" x2="243.34" y2="196.90" stroke="#444" stroke-width="0.5"/>
<rect x="240.64" y="193.50" width="2.40" height="2.40" fill="#fff" stroke="#3a3a3a" stroke-width="0.6"/>
<line x1="245.44" y1="192.14" x2="245.44" y2="196.54" stroke="#444" stroke-width="0.5"/>
<line x1="243.94" y1="192.14" x2="246.94" y2="192.14" stroke="#444" stroke-width="0.5"/>
<line x1="243.94" y1="196.54" x2="246.94" y2="196.54" stroke="#444" stroke-width="0.5"/>
<rect x="244.24" y="193.14" width="2.40" height="2.40" fill="#fff" stroke="#3a3a3a" stroke-width="0.6"/>
<line x1="249.03" y1="192.96" x2="249.03" y2="197.36" stroke="#444" stroke-width="0.5"/>
<line x1="247.53" y1="192.96" x2="250.53" y2="192.96" stroke="#444" stroke-width="0.5"/>
<line x1="247.53" y1="197.36" x2="250.53" y2="197.36" stroke="#444" stroke-width="0.5"/>
<rect x="247.83" y="193.96" width="2.40" height="2.40" fill="#fff" stroke="#3a3a3a" stroke-width="0.6"/>
<line x1="252.62" y1="193.12" x2="252.62" y2="197.52" stroke="#444" stroke-width="0.5"/>
<line x1="251.12" y1="193.12" x2="254.12" y2="193.12" stroke="#444" stroke-width="0.5"/>
<line x1="251.12" y1="197.52" x2="254.12" y2="197.52" stroke="#444" stroke-width="0.5"/>
<rect x="251.43" y="194.12" width="2.40" height="2.40" fill="#fff" stroke="#3a3a3a" stroke-width="0.6"/>
<line x1="256.22" y1="192.49" x2="256.22" y2="196.89" stroke="#444" stroke-width="0.5"/>
<line x1="254.72" y1="192.49" x2="257.72" y2="192.49" stroke="#444" stroke-width="0.5"/>
<line x1="254.72" y1="196.89" x2="257.72" y2="196.89" stroke="#444" stroke-width="0.5"/>
<rect x="255.02" y="193.49" width="2.40" height="2.40" fill="#fff" stroke="#3a3a3a" stroke-width="0.6"/>
<line x1="259.81" y1="193.01" x2="259.81" y2="197.41" stroke="#444" stroke-width="0.5"/>
<line x1="258.31" y1="193.01" x2="261.31" y2="193.01" stroke="#444" stroke-width="0.5"/>
<line x1="258.31" y1="197.41" x2="261.31" y2="197.41" stroke="#444" stroke-width="0.5"/>
<rect x="258.62" y="194.01" width="2.40" height="2.40" fill="#fff" stroke="#3a3a3a" stroke-width="0.6"/>
<line x1="263.41" y1="193.28" x2="263.41" y2="197.68" stroke="#444" stroke-width="0.5"/>
<line x1="261.91" y1="193.28" x2="264.91" y2="193.28" stroke="#444" stroke-width="0.5"/>
<line x1="261.91" y1="197.68" x2="264.91" y2="197.68" stroke="#444" stroke-width="0.5"/>
<rect x="262.21" y="194.28" width="2.40" height="2.40" fill="#fff" stroke="#3a3a3a" stroke-width="0.6"/>
<line x1="267.00" y1="193.27" x2="267.00" y2="197.67" stroke="#444" stroke-width="0.5"/>
<line x1="265.50" y1="193.27" x2="268.50" y2="193.27" stroke="#444" stroke-width="0.5"/>
<line x1="265.50" y1="197.67" x2="268.50" y2="197.67" stroke="#444" stroke-width="0.5"/>
<rect x="265.81" y="194.27" width="2.40" height="2.40" fill="#fff" stroke="#3a3a3a" stroke-width="0.6"/>
<line x1="270.60" y1="193.35" x2="270.60" y2="197.75" stroke="#444" stroke-width="0.5"/>
<line x1="269.10" y1="193.35" x2="272.10" y2="193.35" stroke="#444" stroke-width="0.5"/>
<line x1="269.10" y1="197.75" x2="272.10" y2="197.75" stroke="#444" stroke-width="0.5"/>
<rect x="269.40" y="194.35" width="2.40" height="2.40" fill="#fff" stroke="#3a3a3a" stroke-width="0.6"/>
<line x1="274.19" y1="192.98" x2="274.19" y2="197.38" stroke="#444" stroke-width="0.5"/>
<line x1="272.69" y1="192.98" x2="275.69" y2="192.98" stroke="#444" stroke-width="0.5"/>
<line x1="272.69" y1="197.38" x2="275.69" y2="197.38" stroke="#444" stroke-width="0.5"/>
<rect x="273.00" y="193.98" width="2.40" height="2.40" fill="#fff" stroke="#3a3a3a" stroke-width="0.6"/>
<line x1="277.79" y1="193.67" x2="277.79" y2="198.07" stroke="#444" stroke-width="0.5"/>
<line x1="276.29" y1="193.67" x2="279.29" y2="193.67" stroke="#444" stroke-width="0.5"/>
<line x1="276.29" y1="198.07" x2="279.29" y2="198.07" stroke="#444" stroke-width="0.5"/>
<rect x="276.59" y="194.67" width="2.40" height="2.40" fill="#fff" stroke="#3a3a3a" stroke-width="0.6"/>
<line x1="281.38" y1="193.77" x2="281.38" y2="198.17" stroke="#444" stroke-width="0.5"/>
<line x1="279.88" y1="193.77" x2="282.88" y2="193.77" stroke="#444" stroke-width="0.5"/>
<line x1="279.88" y1="198.17" x2="282.88" y2="198.17" stroke="#444" stroke-width="0.5"/>
<rect x="280.19" y="194.77" width="2.40" height="2.40" fill="#fff" stroke="#3a3a3a" stroke-width="0.6"/>
<line x1="284.98" y1="193.58" x2="284.98" y2="197.98" stroke="#444" stroke-width="0.5"/>
<line x1="283.48" y1="193.58" x2="286.48" y2="193.58" stroke="#444" stroke-width="0.5"/>
<line x1="283.48" y1="197.98" x2="286.48" y2="197.98" stroke="#444" stroke-width="0.5"/>
<rect x="283.78" y="194.58" width="2.40" height="2.40" fill="#fff" stroke="#3a3a3a" stroke-width="0.6"/>
<line x1="288.57" y1="193.71" x2="288.57" y2="198.11" stroke="#444" stroke-width="0.5"/>
<line x1="287.07" y1="193.71" x2="290.07" y2="193.71" stroke="#444" stroke-width="0.5"/>
<line x1="287.07" y1="198.11" x2="290.07" y2="198.11" stroke="#444" stroke-width="0.5"/>
<rect x="287.38" y="194.71" width="2.40" height="2.40" fill="#fff" stroke="#3a3a3a" stroke-width="0.6"/>
<line x1="292.17" y1="193.49" x2="292.17" y2="197.89" stroke="#444" stroke-width="0.5"/>
<line x1="290.67" y1="193.49" x2="293.67" y2="193.49" stroke="#444" stroke-width="0.5"/>
<line x1="290.67" y1="197.89" x2="293.67" y2="197.89" stroke="#444" stroke-width="0.5"/>
<rect x="290.97" y="194.49" width="2.40" height="2.40" fill="#fff" stroke="#3a3a3a" stroke-width="0.6"/>
<line x1="295.76" y1="193.68" x2="295.76" y2="198.08" stroke="#444" stroke-width="0.5"/>
<line x1="294.26" y1="193.68" x2="297.26" y2="193.68" stroke="#444" stroke-width="0.5"/>
<line x1="294.26" y1="198.08" x2="297.26" y2="198.08" stroke="#444" stroke-width="0.5"/>
<rect x="294.56" y="194.68" width="2.40" height="2.40" fill="#fff" stroke="#3a3a3a" stroke-width="0.6"/>
<line x1="299.36" y1="194.16" x2="299.36" y2="198.56" stroke="#444" stroke-width="0.5"/>
<line x1="297.86" y1="194.16" x2="300.86" y2="194.16" stroke="#444" stroke-width="0.5"/>
<line x1="297.86" y1="198.56" x2="300.86" y2="198.56" stroke="#444" stroke-width="0.5"/>
<rect x="298.16" y="195.16" width="2.40" height="2.40" fill="#fff" stroke="#3a3a3a" stroke-width="0.6"/>
<line x1="302.95" y1="194.38" x2="302.95" y2="198.78" stroke="#444" stroke-width="0.5"/>
<line x1="301.45" y1="194.38" x2="304.45" y2="194.38" stroke="#444" stroke-width="0.5"/>
<line x1="301.45" y1="198.78" x2="304.45" y2="198.78" stroke="#444" stroke-width="0.5"/>
<rect x="301.75" y="195.38" width="2.40" height="2.40" fill="#fff" stroke="#3a3a3a" stroke-width="0.6"/>
<line x1="306.55" y1="193.98" x2="306.55" y2="198.38" stroke="#444" stroke-width="0.5"/>
<line x1="305.05" y1="193.98" x2="308.05" y2="193.98" stroke="#444" stroke-width="0.5"/>
<line x1="305.05" y1="198.38" x2="308.05" y2="198.38" stroke="#444" stroke-width="0.5"/>
<rect x="305.35" y="194.98" width="2.40" height="2.40" fill="#fff" stroke="#3a3a3a" stroke-width="0.6"/>
<line x1="310.14" y1="193.96" x2="310.14" y2="198.36" stroke="#444" stroke-width="0.5"/>
<line x1="308.64" y1="193.96" x2="311.64" y2="193.96" stroke="#444" stroke-width="0.5"/>
<line x1="308.64" y1="198.36" x2="311.64" y2="198.36" stroke="#444" stroke-width="0.5"/>
<rect x="308.94" y="194.96" width="2.40" height="2.40" fill="#fff" stroke="#3a3a3a" stroke-width="0.6"/>
<line x1="313.74" y1="194.82" x2="313.74" y2="199.22" stroke="#444" stroke-width="0.5"/>
<line x1="312.24" y1="194.82" x2="315.24" y2="194.82" stroke="#444" stroke-width="0.5"/>
<line x1="312.24" y1="199.22" x2="315.24" y2="199.22" stroke="#444" stroke-width="0.5"/>
<rect x="312.54" y="195.82" width="2.40" height="2.40" fill="#fff" stroke="#3a3a3a" stroke-width="0.6"/>
<line x1="317.33" y1="194.37" x2="317.33" y2="198.77" stroke="#444" stroke-width="0.5"/>
<line x1="315.83" y1="194.37" x2="318.83" y2="194.37" stroke="#444" stroke-width="0.5"/>
<line x1="315.83" y1="198.77" x2="318.83" y2="198.77" stroke="#444" stroke-width="0.5"/>
<rect x="316.13" y="195.37" width="2.40" height="2.40" fill="#fff" stroke="#3a3a3a" stroke-width="0.6"/>
<line x1="191.51" y1="210.25" x2="191.51" y2="220.81" stroke="#d9657c" stroke-width="0.6"/>
<line x1="189.71" y1="210.25" x2="193.31" y2="210.25" stroke="#d9657c" stroke-width="0.6"/>
<line x1="189.71" y1="220.81" x2="193.31" y2="220.81" stroke="#d9657c" stroke-width="0.6"/>
<circle cx="191.51" cy="215.53" r="1.9" fill="#d9657c"/>
<line x1="195.10" y1="216.06" x2="195.10" y2="229.26" stroke="#d9657c" stroke-width="0.6"/>
<line x1="193.30" y1="216.06" x2="196.91" y2="216.06" stroke="#d9657c" stroke-width="0.6"/>
<line x1="193.30" y1="229.26" x2="196.91" y2="229.26" stroke="#d9657c" stroke-width="0.6"/>
<circle cx="195.10" cy="222.66" r="1.9" fill="#d9657c"/>
<line x1="198.70" y1="222.52" x2="198.70" y2="235.72" stroke="#d9657c" stroke-width="0.6"/>
<line x1="196.90" y1="222.52" x2="200.50" y2="222.52" stroke="#d9657c" stroke-width="0.6"/>
<line x1="196.90" y1="235.72" x2="200.50" y2="235.72" stroke="#d9657c" stroke-width="0.6"/>
<circle cx="198.70" cy="229.12" r="1.9" fill="#d9657c"/>
<line x1="202.29" y1="225.43" x2="202.29" y2="241.27" stroke="#d9657c" stroke-width="0.6"/>
<line x1="200.49" y1="225.43" x2="204.09" y2="225.43" stroke="#d9657c" stroke-width="0.6"/>
<line x1="200.49" y1="241.27" x2="204.09" y2="241.27" stroke="#d9657c" stroke-width="0.6"/>
<circle cx="202.29" cy="233.35" r="1.9" fill="#d9657c"/>
<line x1="205.89" y1="227.41" x2="205.89" y2="245.89" stroke="#d9657c" stroke-width="0.6"/>
<line x1="204.09" y1="227.41" x2="207.69" y2="227.41" stroke="#d9657c" stroke-width="0.6"/>
<line x1="204.09" y1="245.89" x2="207.69" y2="245.89" stroke="#d9657c" stroke-width="0.6"/>
<circle cx="205.89" cy="236.65" r="1.9" fill="#d9657c"/>
<line x1="209.48" y1="231.90" x2="209.48" y2="250.38" stroke="#d9657c" stroke-width="0.6"/>
<line x1="207.68" y1="231.90" x2="211.28" y2="231.90" stroke="#d9657c" stroke-width="0.6"/>
<line x1="207.68" y1="250.38" x2="211.28" y2="250.38" stroke="#d9657c" stroke-width="0.6"/>
<circle cx="209.48" cy="241.14" r="1.9" fill="#d9657c"/>
<line x1="213.08" y1="231.90" x2="213.08" y2="250.38" stroke="#d9657c" stroke-width="0.6"/>
<line x1="211.28" y1="231.90" x2="214.88" y2="231.90" stroke="#d9657c" stroke-width="0.6"/>
<line x1="211.28" y1="250.38" x2="214.88" y2="250.38" stroke="#d9657c" stroke-width="0.6"/>
<circle cx="213.08" cy="241.14" r="1.9" fill="#d9657c"/>
<line x1="216.67" y1="228.46" x2="216.67" y2="246.94" stroke="#d9657c" stroke-width="0.6"/>
<line x1="214.87" y1="228.46" x2="218.47" y2="228.46" stroke="#d9657c" stroke-width="0.6"/>
<line x1="214.87" y1="246.94" x2="218.47" y2="246.94" stroke="#d9657c" stroke-width="0.6"/>
<circle cx="216.67" cy="237.70" r="1.9" fill="#d9657c"/>
<line x1="220.27" y1="223.05" x2="220.27" y2="238.89" stroke="#d9657c" stroke-width="0.6"/>
<line x1="218.47" y1="223.05" x2="222.07" y2="223.05" stroke="#d9657c" stroke-width="0.6"/>
<line x1="218.47" y1="238.89" x2="222.07" y2="238.89" stroke="#d9657c" stroke-width="0.6"/>
<circle cx="220.27" cy="230.97" r="1.9" fill="#d9657c"/>
<line x1="223.86" y1="213.68" x2="223.86" y2="226.88" stroke="#d9657c" stroke-width="0.6"/>
<line x1="222.06" y1="213.68" x2="225.66" y2="213.68" stroke="#d9657c" stroke-width="0.6"/>
<line x1="222.06" y1="226.88" x2="225.66" y2="226.88" stroke="#d9657c" stroke-width="0.6"/>
<circle cx="223.86" cy="220.28" r="1.9" fill="#d9657c"/>
<line x1="227.46" y1="204.04" x2="227.46" y2="211.96" stroke="#d9657c" stroke-width="0.6"/>
<line x1="225.66" y1="204.04" x2="229.26" y2="204.04" stroke="#d9657c" stroke-width="0.6"/>
<line x1="225.66" y1="211.96" x2="229.26" y2="211.96" stroke="#d9657c" stroke-width="0.6"/>
<circle cx="227.46" cy="208.00" r="1.9" fill="#d9657c"/>
<line x1="231.05" y1="197.58" x2="231.05" y2="201.54" stroke="#d9657c" stroke-width="0.6"/>
<line x1="229.25" y1="197.58" x2="232.85" y2="197.58" stroke="#d9657c" stroke-width="0.6"/>
<line x1="229.25" y1="201.54" x2="232.85" y2="201.54" stroke="#d9657c" stroke-width="0.6"/>
<circle cx="231.05" cy="199.56" r="1.9" fill="#d9657c"/>
<circle cx="234.65" cy="194.28" r="1.9" fill="#d9657c"/>
<circle cx="238.25" cy="193.13" r="1.9" fill="#d9657c"/>
<circle cx="241.84" cy="193.59" r="1.9" fill="#d9657c"/>
<circle cx="245.44" cy="194.34" r="1.9" fill="#d9657c"/>
<circle cx="249.03" cy="193.75" r="1.9" fill="#d9657c"/>
<circle cx="252.62" cy="194.02" r="1.9" fill="#d9657c"/>
<circle cx="256.22" cy="194.90" r="1.9" fill="#d9657c"/>
<circle cx="259.81" cy="194.49" r="1.9" fill="#d9657c"/>
<circle cx="263.41" cy="195.22" r="1.9" fill="#d9657c"/>
<circle cx="267.00" cy="195.63" r="1.9" fill="#d9657c"/>
<circle cx="270.60" cy="195.42" r="1.9" fill="#d9657c"/>
<circle cx="274.19" cy="195.59" r="1.9" fill="#d9657c"/>
<circle cx="277.79" cy="195.69" r="1.9" fill="#d9657c"/>
<circle cx="281.38" cy="195.53" r="1.9" fill="#d9657c"/>
<circle cx="284.98" cy="195.46" r="1.9" fill="#d9657c"/>
<circle cx="288.57" cy="195.47" r="1.9" fill="#d9657c"/>
<circle cx="292.17" cy="195.63" r="1.9" fill="#d9657c"/>
<circle cx="295.76" cy="195.78" r="1.9" fill="#d9657c"/>
<circle cx="299.36" cy="196.23" r="1.9" fill="#d9657c"/>
<circle cx="302.95" cy="197.04" r="1.9" fill="#d9657c"/>
<circle cx="306.55" cy="197.39" r="1.9" fill="#d9657c"/>
<circle cx="310.14" cy="196.97" r="1.9" fill="#d9657c"/>
<circle cx="313.74" cy="197.25" r="1.9" fill="#d9657c"/>
<circle cx="317.33" cy="197.26" r="1.9" fill="#d9657c"/>
<rect x="235.70" y="213.50" width="71.70" height="19.90" fill="#fff" stroke="#999" stroke-width="0.7"/>
<text x="271.50" y="221.90" font-size="7.3" text-anchor="middle" textLength="59.30" lengthAdjust="spacingAndGlyphs">Best on switching</text>
<text x="271.50" y="229.70" font-size="7.3" text-anchor="middle" textLength="58.20" lengthAdjust="spacingAndGlyphs">at 350 to 355 nm</text>
<text x="271.90" y="244.10" font-size="7.3" text-anchor="middle" textLength="48.20" lengthAdjust="spacingAndGlyphs">FWHM ~45 nm</text>
<rect x="235.70" y="252.30" width="71.70" height="12.40" fill="#fff" stroke="#999" stroke-width="0.7"/>
<circle cx="240.8" cy="258.6" r="1.9" fill="#d9657c"/>
<text x="244.90" y="260.90" font-size="7.0" textLength="26.30" lengthAdjust="spacingAndGlyphs" font-style="italic">From (1)</text>
<rect x="272.30" y="256.30" width="3.00" height="3.00" fill="#555" stroke="none" stroke-width="0.6"/>
<text x="277.60" y="260.90" font-size="7.0" textLength="27.70" lengthAdjust="spacingAndGlyphs" font-style="italic">From (2)</text>
<text x="375.80" y="155.90" font-size="9.5" textLength="98.70" lengthAdjust="spacingAndGlyphs">λ dependent off switch</text>
<text x="345.00" y="176.90" font-size="7.0" textLength="14.90" lengthAdjust="spacingAndGlyphs">Dark</text>
<rect x="361.90" y="170.00" width="40.30" height="9.50" fill="#e8008a" stroke="#222" stroke-width="0.8"/>
<rect x="402.20" y="170.00" width="27.70" height="9.50" fill="#333333" stroke="#222" stroke-width="0.8"/>
<rect x="429.90" y="170.00" width="40.10" height="9.50" fill="#e8008a" stroke="#222" stroke-width="0.8"/>
<rect x="470.00" y="170.00" width="21.80" height="9.50" fill="#2e3192" stroke="#222" stroke-width="0.8"/>
<text x="382.00" y="177.20" font-size="6.0" text-anchor="middle" textLength="22.00" lengthAdjust="spacingAndGlyphs" fill="#4a0026">360 nm</text>
<text x="403.6" y="177.2" font-size="6.0" fill="#c8c8c8">λ<tspan font-size="4.0" dy="1.4">OFF</tspan><tspan dy="-1.4"> spc.</tspan></text>
<text x="450.00" y="177.20" font-size="6.0" text-anchor="middle" textLength="22.00" lengthAdjust="spacingAndGlyphs" fill="#4a0026">360 nm</text>
<text x="480.90" y="177.20" font-size="6.0" text-anchor="middle" textLength="20.50" lengthAdjust="spacingAndGlyphs" fill="#d8d8f0">440 nm</text>
<line x1="352.00" y1="185.60" x2="501.00" y2="185.60" stroke="#1a1a1a" stroke-width="0.8" stroke-dasharray="1.2 0.7"/>
<path d="M403.6,244.5L404.2,244.4L404.7,244.3L405.3,245.1L405.8,244.8L406.4,245.0L406.9,244.9L407.5,244.8L408.0,245.2L408.6,245.1L409.1,245.3L409.7,245.3L410.2,245.5L410.8,245.2L411.3,244.9L411.9,245.0L412.4,245.6L413.0,245.2L413.5,245.7L414.1,245.8L414.6,245.3L415.2,246.1L415.7,245.4L416.3,246.2L416.8,246.2L417.4,245.5L417.9,246.0L418.5,246.0L419.0,245.4L419.6,245.9L420.1,245.4L420.7,246.2L421.2,245.9L421.8,246.2L422.3,245.3L422.9,245.5L423.4,245.8L424.0,245.8L424.5,245.4L425.1,246.1L425.6,246.1L426.2,245.5L426.7,245.4L427.3,245.9L427.8,245.7L428.4,245.9L428.9,245.7L429.5,245.5L430.0,245.1L430.6,245.1L431.1,245.3L431.7,245.5L432.2,245.1L432.8,245.3L433.3,245.1L433.9,245.5L434.4,245.4L435.0,245.2L435.5,245.1L436.1,245.2L436.6,245.3L437.2,246.3L437.7,246.4L438.3,246.5L438.8,246.0L439.4,246.8L439.9,246.5L440.5,247.4L441.0,247.4L441.6,247.7L442.1,247.7L442.7,247.7L443.2,248.3L443.8,248.6L444.3,248.0L444.9,248.3L445.4,248.7L446.0,248.7L446.5,248.6L447.1,248.8L447.6,249.4L448.2,248.9L448.7,249.0L449.3,249.5L449.8,249.3L450.4,250.0L450.9,249.5L451.5,250.3L452.0,249.8L452.6,250.4L453.1,250.4L453.7,250.5L454.2,250.1L454.8,250.1L455.3,250.1L455.9,250.3L456.4,250.8L457.0,250.2L457.5,250.4L458.1,250.8L458.6,250.4L459.2,250.6L459.7,250.6L460.3,251.0L460.8,250.5L461.4,251.4L461.9,251.0L462.5,251.2L463.0,251.0L463.6,251.0L464.1,251.5L464.7,251.3L465.2,251.1L465.8,250.3L466.3,250.8L466.9,251.0L467.4,250.7L468.0,250.5L468.5,250.5L469.1,250.0L469.6,249.3L470.2,246.8L470.7,238.5" fill="none" stroke="#a8a8a8" stroke-width="1.0" stroke-linejoin="round"/>
<path d="M403.6,244.6L404.2,244.6L404.7,244.3L405.3,244.6L405.8,244.8L406.4,244.7L406.9,244.0L407.5,243.8L408.0,244.5L408.6,244.2L409.1,244.4L409.7,244.4L410.2,243.8L410.8,244.0L411.3,243.7L411.9,244.2L412.4,244.1L413.0,243.6L413.5,243.8L414.1,243.9L414.6,243.5L415.2,243.5L415.7,243.7L416.3,243.2L416.8,243.6L417.4,243.9L417.9,243.7L418.5,242.9L419.0,243.5L419.6,243.3L420.1,243.3L420.7,242.5L421.2,243.2L421.8,242.5L422.3,243.0L422.9,242.5L423.4,242.5L424.0,242.2L424.5,242.8L425.1,242.1L425.6,242.7L426.2,242.3L426.7,241.9L427.3,242.3L427.8,242.1L428.4,241.6L428.9,242.3L429.5,241.6L430.0,241.2L430.6,241.8L431.1,241.6L431.7,241.1L432.2,240.8L432.8,241.0L433.3,241.2L433.9,241.5L434.4,241.5L435.0,241.8L435.5,242.2L436.1,241.9L436.6,242.2L437.2,242.8L437.7,243.3L438.3,243.7L438.8,244.1L439.4,244.0L439.9,244.6L440.5,244.3L441.0,244.9L441.6,244.9L442.1,245.9L442.7,246.3L443.2,246.3L443.8,246.6L444.3,246.4L444.9,247.0L445.4,246.5L446.0,246.9L446.5,247.1L447.1,247.8L447.6,247.3L448.2,247.5L448.7,247.6L449.3,248.5L449.8,248.1L450.4,248.8L450.9,248.4L451.5,249.1L452.0,248.6L452.6,249.4L453.1,249.6L453.7,249.7L454.2,249.6L454.8,250.0L455.3,250.1L455.9,250.2L456.4,249.6L457.0,250.2L457.5,250.2L458.1,249.8L458.6,249.7L459.2,250.5L459.7,250.1L460.3,250.2L460.8,250.6L461.4,250.3L461.9,250.1L462.5,250.5L463.0,250.4L463.6,250.2L464.1,250.6L464.7,250.8L465.2,250.1L465.8,250.6L466.3,250.5L466.9,250.2L467.4,249.8L468.0,250.2L468.5,249.8L469.1,249.7L469.6,249.1L470.2,246.3L470.7,238.6" fill="none" stroke="#a8a8a8" stroke-width="1.0" stroke-linejoin="round"/>
<path d="M403.6,244.9L404.2,244.9L404.7,244.1L405.3,244.0L405.8,244.0L406.4,244.0L406.9,243.2L407.5,243.6L408.0,243.1L408.6,243.6L409.1,243.0L409.7,243.4L410.2,242.8L410.8,242.9L411.3,242.1L411.9,242.2L412.4,242.2L413.0,242.1L413.5,241.8L414.1,242.0L414.6,241.6L415.2,241.9L415.7,242.2L416.3,242.0L416.8,241.6L417.4,241.8L417.9,241.4L418.5,241.1L419.0,240.8L419.6,240.2L420.1,240.9L420.7,240.8L421.2,240.5L421.8,240.3L422.3,240.3L422.9,240.3L423.4,240.2L424.0,239.8L424.5,239.0L425.1,239.8L425.6,239.3L426.2,239.1L426.7,238.9L427.3,238.6L427.8,238.3L428.4,238.8L428.9,238.7L429.5,237.9L430.0,238.6L430.6,238.4L431.1,238.2L431.7,237.7L432.2,237.3L432.8,237.3L433.3,237.5L433.9,238.4L434.4,238.7L435.0,239.0L435.5,239.0L436.1,239.3L436.6,239.9L437.2,239.9L437.7,240.1L438.3,241.4L438.8,241.1L439.4,241.5L439.9,242.2L440.5,242.2L441.0,243.1L441.6,243.1L442.1,244.1L442.7,243.8L443.2,244.8L443.8,244.6L444.3,245.3L444.9,245.6L445.4,245.9L446.0,245.4L446.5,246.4L447.1,245.9L447.6,246.3L448.2,246.2L448.7,246.8L449.3,246.6L449.8,247.3L450.4,247.9L450.9,247.9L451.5,247.9L452.0,247.6L452.6,248.6L453.1,248.1L453.7,248.9L454.2,248.2L454.8,248.5L455.3,249.3L455.9,249.2L456.4,248.7L457.0,249.1L457.5,249.2L458.1,249.0L458.6,249.1L459.2,249.0L459.7,249.5L460.3,249.5L460.8,249.5L461.4,249.7L461.9,249.6L462.5,249.7L463.0,250.1L463.6,249.6L464.1,249.5L464.7,249.8L465.2,249.7L465.8,249.8L466.3,250.2L466.9,250.2L467.4,250.1L468.0,250.1L468.5,249.4L469.1,249.5L469.6,248.2L470.2,246.3L470.7,238.7" fill="none" stroke="#a8a8a8" stroke-width="1.0" stroke-linejoin="round"/>
<path d="M403.6,244.3L404.2,244.2L404.7,244.5L405.3,243.8L405.8,243.9L406.4,243.3L406.9,243.3L407.5,243.0L408.0,242.7L408.6,242.8L409.1,242.2L409.7,241.9L410.2,241.4L410.8,241.1L411.3,241.2L411.9,241.0L412.4,240.5L413.0,241.2L413.5,240.0L414.1,240.3L414.6,239.9L415.2,239.9L415.7,240.2L416.3,240.1L416.8,239.3L417.4,239.4L417.9,239.3L418.5,238.5L419.0,238.4L419.6,238.2L420.1,238.4L420.7,237.7L421.2,238.1L421.8,237.2L422.3,237.5L422.9,237.2L423.4,236.4L424.0,236.6L424.5,236.9L425.1,236.3L425.6,235.8L426.2,236.0L426.7,235.9L427.3,235.7L427.8,235.5L428.4,235.9L428.9,235.4L429.5,235.0L430.0,234.8L430.6,234.9L431.1,234.1L431.7,234.2L432.2,234.2L432.8,233.7L433.3,234.2L433.9,234.4L434.4,235.4L435.0,236.0L435.5,236.4L436.1,236.8L436.6,236.7L437.2,237.5L437.7,238.1L438.3,238.5L438.8,238.9L439.4,239.6L439.9,240.0L440.5,240.3L441.0,241.4L441.6,241.3L442.1,242.2L442.7,242.6L443.2,243.4L443.8,243.6L444.3,243.6L444.9,243.5L445.4,244.4L446.0,244.7L446.5,244.9L447.1,245.6L447.6,245.4L448.2,245.5L448.7,245.9L449.3,245.6L449.8,246.4L450.4,246.1L450.9,246.9L451.5,247.0L452.0,247.3L452.6,247.0L453.1,247.7L453.7,248.1L454.2,248.3L454.8,248.2L455.3,247.8L455.9,248.5L456.4,248.0L457.0,248.9L457.5,248.1L458.1,248.2L458.6,248.7L459.2,248.4L459.7,249.4L460.3,249.5L460.8,248.9L461.4,249.5L461.9,249.1L462.5,249.6L463.0,249.0L463.6,249.9L464.1,249.4L464.7,249.2L465.2,249.4L465.8,248.9L466.3,249.0L466.9,249.4L467.4,249.5L468.0,249.9L468.5,249.4L469.1,249.2L469.6,248.1L470.2,246.0L470.7,239.4" fill="none" stroke="#a8a8a8" stroke-width="1.0" stroke-linejoin="round"/>
<path d="M403.6,244.8L404.2,244.0L404.7,244.1L405.3,243.7L405.8,243.3L406.4,242.7L406.9,242.8L407.5,242.5L408.0,242.0L408.6,241.1L409.1,241.1L409.7,240.9L410.2,241.0L410.8,240.2L411.3,239.9L411.9,239.2L412.4,239.0L413.0,238.9L413.5,239.0L414.1,238.3L414.6,238.6L415.2,238.3L415.7,237.7L416.3,237.6L416.8,237.6L417.4,236.5L417.9,236.8L418.5,236.7L419.0,236.6L419.6,235.7L420.1,235.8L420.7,235.7L421.2,234.9L421.8,235.1L422.3,234.9L422.9,234.8L423.4,234.1L424.0,233.5L424.5,233.7L425.1,233.7L425.6,233.7L426.2,233.3L426.7,232.9L427.3,233.0L427.8,232.8L428.4,232.4L428.9,231.9L429.5,231.4L430.0,231.7L430.6,230.9L431.1,231.0L431.7,231.4L432.2,230.5L432.8,231.3L433.3,231.8L433.9,231.9L434.4,232.6L435.0,233.5L435.5,233.9L436.1,234.1L436.6,235.3L437.2,235.5L437.7,235.7L438.3,236.9L438.8,237.5L439.4,238.2L439.9,238.8L440.5,239.4L441.0,239.6L441.6,240.5L442.1,241.0L442.7,241.6L443.2,241.5L443.8,242.6L444.3,242.5L444.9,243.1L445.4,243.1L446.0,243.7L446.5,243.8L447.1,243.9L447.6,244.4L448.2,244.9L448.7,244.6L449.3,245.5L449.8,245.6L450.4,245.9L450.9,245.9L451.5,246.3L452.0,246.4L452.6,246.4L453.1,246.2L453.7,246.9L454.2,247.3L454.8,247.3L455.3,247.3L455.9,247.6L456.4,247.3L457.0,248.0L457.5,247.5L458.1,247.7L458.6,247.8L459.2,248.7L459.7,248.8L460.3,248.6L460.8,249.0L461.4,248.4L461.9,248.9L462.5,248.8L463.0,248.5L463.6,249.1L464.1,248.6L464.7,248.8L465.2,248.7L465.8,248.8L466.3,249.5L466.9,249.1L467.4,249.1L468.0,248.8L468.5,248.8L469.1,248.7L469.6,248.4L470.2,246.5L470.7,239.2" fill="none" stroke="#a8a8a8" stroke-width="1.0" stroke-linejoin="round"/>
<path d="M403.6,244.7L404.2,243.9L404.7,243.5L405.3,243.0L405.8,243.1L406.4,242.4L406.9,242.1L407.5,241.5L408.0,241.4L408.6,240.7L409.1,239.6L409.7,239.3L410.2,238.8L410.8,239.3L411.3,238.3L411.9,238.2L412.4,237.9L413.0,237.2L413.5,236.9L414.1,237.2L414.6,236.2L415.2,236.5L415.7,235.9L416.3,235.7L416.8,235.1L417.4,235.0L417.9,234.7L418.5,234.1L419.0,233.6L419.6,233.4L420.1,233.4L420.7,232.4L421.2,232.3L421.8,232.1L422.3,232.2L422.9,231.7L423.4,231.2L424.0,231.6L424.5,231.0L425.1,231.0L425.6,230.3L426.2,230.6L426.7,230.0L427.3,229.5L427.8,229.1L428.4,229.6L428.9,228.7L429.5,229.1L430.0,228.8L430.6,227.8L431.1,228.2L431.7,227.9L432.2,227.4L432.8,228.6L433.3,229.3L433.9,229.2L434.4,230.0L435.0,230.5L435.5,231.0L436.1,231.6L436.6,232.8L437.2,233.7L437.7,233.6L438.3,234.2L438.8,235.4L439.4,235.9L439.9,237.2L440.5,237.3L441.0,237.7L441.6,238.6L442.1,239.3L442.7,239.9L443.2,240.4L443.8,240.6L444.3,241.7L444.9,241.1L445.4,241.7L446.0,242.6L446.5,242.4L447.1,242.8L447.6,243.3L448.2,243.8L448.7,244.3L449.3,244.5L449.8,244.2L450.4,245.2L450.9,244.7L451.5,245.6L452.0,245.9L452.6,245.3L453.1,245.8L453.7,245.9L454.2,246.3L454.8,246.9L455.3,247.1L455.9,247.2L456.4,246.6L457.0,247.0L457.5,247.8L458.1,247.7L458.6,247.9L459.2,247.4L459.7,247.6L460.3,248.0L460.8,248.2L461.4,247.8L461.9,248.7L462.5,248.5L463.0,248.9L463.6,249.0L464.1,248.5L464.7,248.4L465.2,249.0L465.8,248.7L466.3,248.8L466.9,249.0L467.4,249.3L468.0,248.8L468.5,248.8L469.1,249.2L469.6,247.6L470.2,246.4L470.7,238.7" fill="none" stroke="#a8a8a8" stroke-width="1.0" stroke-linejoin="round"/>
<path d="M403.6,244.7L404.2,244.3L404.7,243.3L405.3,242.5L405.8,241.8L406.4,242.0L406.9,241.1L407.5,240.9L408.0,239.8L408.6,239.2L409.1,238.6L409.7,238.6L410.2,238.1L410.8,237.9L411.3,237.2L411.9,236.5L412.4,235.8L413.0,236.1L413.5,235.8L414.1,234.8L414.6,234.4L415.2,234.2L415.7,233.7L416.3,233.7L416.8,233.0L417.4,232.6L417.9,232.1L418.5,231.5L419.0,231.8L419.6,231.5L420.1,230.4L420.7,230.2L421.2,230.2L421.8,229.5L422.3,229.3L422.9,229.1L423.4,228.5L424.0,228.3L424.5,228.3L425.1,228.3L425.6,227.1L426.2,227.6L426.7,226.6L427.3,226.9L427.8,226.0L428.4,226.3L428.9,225.7L429.5,226.0L430.0,224.9L430.6,225.1L431.1,225.3L431.7,224.6L432.2,225.0L432.8,225.8L433.3,226.5L433.9,227.0L434.4,227.5L435.0,228.0L435.5,229.3L436.1,229.8L436.6,231.0L437.2,231.1L437.7,231.9L438.3,232.8L438.8,234.2L439.4,234.8L439.9,235.1L440.5,236.3L441.0,237.1L441.6,237.0L442.1,238.4L442.7,238.8L443.2,239.7L443.8,239.9L444.3,240.0L444.9,240.1L445.4,240.8L446.0,241.2L446.5,241.4L447.1,242.4L447.6,242.8L448.2,242.7L448.7,242.7L449.3,243.4L449.8,243.5L450.4,243.5L450.9,243.9L451.5,244.4L452.0,244.3L452.6,244.6L453.1,245.7L453.7,245.5L454.2,245.4L454.8,245.5L455.3,245.9L455.9,246.1L456.4,246.9L457.0,246.3L457.5,247.2L458.1,246.9L458.6,247.4L459.2,247.3L459.7,247.9L460.3,248.0L460.8,247.8L461.4,247.6L461.9,247.6L462.5,247.6L463.0,247.8L463.6,248.3L464.1,248.1L464.7,248.3L465.2,248.8L465.8,248.6L466.3,248.8L466.9,248.7L467.4,248.2L468.0,248.1L468.5,248.8L469.1,248.3L469.6,248.0L470.2,246.0L470.7,239.0" fill="none" stroke="#a8a8a8" stroke-width="1.0" stroke-linejoin="round"/>
<path d="M403.6,244.6L404.2,243.8L404.7,243.4L405.3,242.6L405.8,241.4L406.4,241.0L406.9,240.2L407.5,239.5L408.0,238.7L408.6,238.1L409.1,237.9L409.7,236.7L410.2,236.5L410.8,236.1L411.3,235.5L411.9,235.2L412.4,234.8L413.0,234.0L413.5,233.2L414.1,232.7L414.6,233.0L415.2,232.1L415.7,231.7L416.3,230.9L416.8,230.9L417.4,230.1L417.9,229.9L418.5,229.4L419.0,229.4L419.6,228.8L420.1,228.6L420.7,228.1L421.2,227.0L421.8,227.1L422.3,226.4L422.9,226.1L423.4,226.0L424.0,225.6L424.5,225.4L425.1,224.9L425.6,224.3L426.2,224.9L426.7,223.6L427.3,224.3L427.8,224.0L428.4,223.4L428.9,222.7L429.5,222.9L430.0,222.2L430.6,222.0L431.1,222.2L431.7,222.0L432.2,221.9L432.8,223.5L433.3,223.6L433.9,224.2L434.4,225.1L435.0,225.8L435.5,226.8L436.1,228.1L436.6,229.1L437.2,229.8L437.7,230.4L438.3,231.1L438.8,232.1L439.4,232.6L439.9,233.6L440.5,234.3L441.0,235.7L441.6,235.8L442.1,236.6L442.7,237.6L443.2,238.4L443.8,238.2L444.3,239.3L444.9,239.3L445.4,239.8L446.0,240.3L446.5,241.3L447.1,241.8L447.6,241.4L448.2,242.0L448.7,242.1L449.3,242.4L449.8,243.2L450.4,243.3L450.9,243.6L451.5,243.6L452.0,243.9L452.6,244.3L453.1,244.9L453.7,244.6L454.2,245.1L454.8,245.6L455.3,245.1L455.9,245.5L456.4,246.2L457.0,245.6L457.5,246.7L458.1,246.4L458.6,246.7L459.2,246.4L459.7,246.9L460.3,247.0L460.8,247.5L461.4,247.4L461.9,247.1L462.5,247.1L463.0,247.4L463.6,247.8L464.1,247.4L464.7,247.5L465.2,247.8L465.8,247.8L466.3,248.2L466.9,247.9L467.4,247.9L468.0,248.5L468.5,248.5L469.1,248.6L469.6,247.4L470.2,246.5L470.7,238.8" fill="none" stroke="#a8a8a8" stroke-width="1.0" stroke-linejoin="round"/>
<path d="M403.6,244.6L404.2,243.4L404.7,243.1L405.3,242.2L405.8,241.0L406.4,240.1L406.9,239.2L407.5,238.7L408.0,237.7L408.6,237.1L409.1,236.6L409.7,236.1L410.2,235.5L410.8,234.0L411.3,234.1L411.9,233.1L412.4,232.2L413.0,232.0L413.5,231.9L414.1,230.8L414.6,230.2L415.2,229.9L415.7,229.5L416.3,229.3L416.8,228.8L417.4,228.3L417.9,226.9L418.5,227.1L419.0,226.4L419.6,226.0L420.1,225.9L420.7,224.9L421.2,224.2L421.8,224.0L422.3,224.4L422.9,223.9L423.4,223.1L424.0,222.4L424.5,222.7L425.1,221.9L425.6,222.2L426.2,221.5L426.7,221.0L427.3,220.5L427.8,220.4L428.4,220.2L428.9,219.9L429.5,220.0L430.0,219.8L430.6,219.3L431.1,218.8L431.7,219.4L432.2,219.4L432.8,220.6L433.3,221.4L433.9,222.3L434.4,222.8L435.0,224.4L435.5,224.7L436.1,225.8L436.6,226.4L437.2,227.7L437.7,228.1L438.3,229.6L438.8,230.3L439.4,232.0L439.9,232.4L440.5,233.1L441.0,234.4L441.6,234.7L442.1,235.8L442.7,236.5L443.2,237.5L443.8,237.8L444.3,238.4L444.9,239.0L445.4,239.1L446.0,239.6L446.5,240.1L447.1,240.7L447.6,241.1L448.2,241.5L448.7,241.9L449.3,242.2L449.8,241.8L450.4,242.7L450.9,243.0L451.5,243.5L452.0,243.2L452.6,243.9L453.1,243.4L453.7,244.1L454.2,244.2L454.8,244.5L455.3,244.5L455.9,245.2L456.4,245.0L457.0,245.1L457.5,245.8L458.1,246.2L458.6,245.9L459.2,245.8L459.7,246.8L460.3,246.5L460.8,246.6L461.4,247.3L461.9,246.6L462.5,247.3L463.0,247.1L463.6,247.5L464.1,247.4L464.7,247.2L465.2,248.1L465.8,247.7L466.3,247.5L466.9,247.8L467.4,248.0L468.0,248.4L468.5,247.9L469.1,247.8L469.6,247.5L470.2,246.8L470.7,238.5" fill="none" stroke="#a8a8a8" stroke-width="1.0" stroke-linejoin="round"/>
<path d="M403.6,245.0L404.2,243.5L404.7,242.4L405.3,241.5L405.8,240.6L406.4,239.6L406.9,238.9L407.5,237.7L408.0,236.5L408.6,235.7L409.1,234.9L409.7,233.9L410.2,233.2L410.8,232.6L411.3,232.4L411.9,231.7L412.4,230.8L413.0,230.1L413.5,229.1L414.1,228.6L414.6,227.8L415.2,227.8L415.7,227.2L416.3,226.5L416.8,225.3L417.4,225.5L417.9,225.0L418.5,224.2L419.0,224.0L419.6,223.5L420.1,222.9L420.7,222.1L421.2,221.9L421.8,221.8L422.3,220.7L422.9,221.0L423.4,220.1L424.0,220.1L424.5,219.2L425.1,219.2L425.6,219.4L426.2,218.7L426.7,218.2L427.3,217.8L427.8,217.6L428.4,217.6L428.9,217.6L429.5,216.5L430.0,216.4L430.6,216.1L431.1,215.8L431.7,217.2L432.2,217.8L432.8,218.3L433.3,218.6L433.9,220.4L434.4,221.2L435.0,222.4L435.5,222.8L436.1,223.8L436.6,224.9L437.2,225.9L437.7,227.0L438.3,228.6L438.8,229.5L439.4,229.7L439.9,231.1L440.5,231.8L441.0,233.0L441.6,233.8L442.1,234.9L442.7,235.8L443.2,235.9L443.8,236.9L444.3,236.7L444.9,237.4L445.4,237.7L446.0,238.9L446.5,239.4L447.1,239.6L447.6,239.7L448.2,240.1L448.7,240.2L449.3,241.2L449.8,241.1L450.4,241.5L450.9,241.9L451.5,242.7L452.0,242.5L452.6,243.4L453.1,243.4L453.7,243.2L454.2,243.6L454.8,244.6L455.3,244.4L455.9,244.7L456.4,244.4L457.0,245.3L457.5,245.1L458.1,244.9L458.6,245.3L459.2,245.6L459.7,245.6L460.3,246.0L460.8,246.4L461.4,246.1L461.9,247.1L462.5,246.8L463.0,247.0L463.6,247.1L464.1,247.1L464.7,247.3L465.2,247.0L465.8,247.2L466.3,247.2L466.9,247.6L467.4,247.7L468.0,248.1L468.5,248.1L469.1,248.3L469.6,247.3L470.2,246.8L470.7,238.6" fill="none" stroke="#a8a8a8" stroke-width="1.0" stroke-linejoin="round"/>
<path d="M403.6,244.6L404.2,243.4L404.7,241.5L405.3,240.5L405.8,239.5L406.4,238.7L406.9,237.2L407.5,236.8L408.0,235.4L408.6,234.6L409.1,233.8L409.7,232.4L410.2,231.6L410.8,230.3L411.3,229.9L411.9,228.8L412.4,228.2L413.0,227.6L413.5,226.6L414.1,226.3L414.6,225.3L415.2,225.3L415.7,224.8L416.3,223.5L416.8,222.9L417.4,222.1L417.9,221.5L418.5,221.0L419.0,220.6L419.6,220.6L420.1,220.1L420.7,219.4L421.2,218.9L421.8,218.4L422.3,217.8L422.9,218.2L423.4,217.0L424.0,216.9L424.5,216.2L425.1,216.3L425.6,215.9L426.2,215.2L426.7,215.5L427.3,215.1L427.8,215.0L428.4,214.6L428.9,214.1L429.5,214.1L430.0,213.7L430.6,213.8L431.1,213.9L431.7,214.7L432.2,215.3L432.8,215.8L433.3,216.5L433.9,218.3L434.4,218.5L435.0,220.4L435.5,220.8L436.1,222.0L436.6,223.5L437.2,224.1L437.7,225.4L438.3,226.6L438.8,227.2L439.4,228.5L439.9,229.7L440.5,231.1L441.0,232.0L441.6,232.4L442.1,234.2L442.7,234.1L443.2,234.6L443.8,235.3L444.3,235.7L444.9,236.5L445.4,236.7L446.0,237.5L446.5,238.6L447.1,238.4L447.6,239.2L448.2,239.5L448.7,240.1L449.3,240.0L449.8,241.1L450.4,240.9L450.9,241.9L451.5,241.5L452.0,241.8L452.6,242.7L453.1,242.6L453.7,243.1L454.2,243.6L454.8,243.8L455.3,244.1L455.9,244.4L456.4,243.8L457.0,244.2L457.5,245.1L458.1,245.2L458.6,244.8L459.2,245.8L459.7,245.8L460.3,245.6L460.8,245.8L461.4,245.9L461.9,246.5L462.5,246.1L463.0,246.4L463.6,246.7L464.1,246.7L464.7,246.8L465.2,246.6L465.8,247.2L466.3,247.0L466.9,247.7L467.4,247.1L468.0,248.0L468.5,247.6L469.1,247.3L469.6,247.2L470.2,246.3L470.7,238.7" fill="none" stroke="#a8a8a8" stroke-width="1.0" stroke-linejoin="round"/>
<path d="M403.6,244.7L404.2,243.1L404.7,241.6L405.3,240.1L405.8,238.3L406.4,237.6L406.9,236.0L407.5,234.3L408.0,233.8L408.6,232.9L409.1,231.7L409.7,230.6L410.2,229.5L410.8,228.0L411.3,227.1L411.9,226.9L412.4,226.0L413.0,225.0L413.5,224.0L414.1,223.6L414.6,223.2L415.2,221.7L415.7,221.2L416.3,220.8L416.8,219.9L417.4,219.7L417.9,218.6L418.5,218.0L419.0,217.5L419.6,216.8L420.1,216.7L420.7,216.4L421.2,216.4L421.8,215.5L422.3,215.5L422.9,214.3L423.4,214.2L424.0,214.4L424.5,213.4L425.1,212.8L425.6,212.6L426.2,212.9L426.7,212.6L427.3,212.3L427.8,212.2L428.4,212.0L428.9,211.7L429.5,211.4L430.0,210.7L430.6,210.6L431.1,211.3L431.7,212.0L432.2,212.5L432.8,213.6L433.3,214.7L433.9,215.8L434.4,216.7L435.0,218.3L435.5,219.1L436.1,220.7L436.6,221.6L437.2,223.1L437.7,224.4L438.3,225.3L438.8,226.3L439.4,227.8L439.9,228.6L440.5,230.0L441.0,231.2L441.6,232.1L442.1,232.8L442.7,233.8L443.2,234.0L443.8,234.7L444.3,234.7L444.9,235.6L445.4,236.1L446.0,236.5L446.5,237.1L447.1,238.0L447.6,238.0L448.2,238.7L448.7,239.6L449.3,239.1L449.8,239.8L450.4,240.5L450.9,241.0L451.5,241.0L452.0,241.0L452.6,241.8L453.1,241.6L453.7,242.1L454.2,242.8L454.8,242.7L455.3,242.8L455.9,244.0L456.4,243.4L457.0,244.3L457.5,244.5L458.1,244.8L458.6,244.2L459.2,244.5L459.7,245.6L460.3,245.3L460.8,245.5L461.4,245.2L461.9,245.5L462.5,245.4L463.0,246.1L463.6,246.0L464.1,246.7L464.7,246.8L465.2,246.4L465.8,247.2L466.3,246.7L466.9,246.6L467.4,246.9L468.0,247.6L468.5,247.4L469.1,248.0L469.6,246.9L470.2,246.7L470.7,238.7" fill="none" stroke="#a8a8a8" stroke-width="1.0" stroke-linejoin="round"/>
<path d="M403.6,244.8L404.2,243.0L404.7,240.8L405.3,239.5L405.8,237.5L406.4,235.9L406.9,234.6L407.5,232.8L408.0,231.3L408.6,230.0L409.1,228.6L409.7,227.4L410.2,226.8L410.8,225.8L411.3,224.3L411.9,224.2L412.4,222.8L413.0,221.6L413.5,221.6L414.1,220.1L414.6,220.1L415.2,218.5L415.7,218.5L416.3,217.4L416.8,216.4L417.4,215.9L417.9,215.6L418.5,214.8L419.0,214.6L419.6,214.0L420.1,213.2L420.7,213.0L421.2,213.1L421.8,212.0L422.3,212.0L422.9,212.0L423.4,211.3L424.0,210.5L424.5,210.6L425.1,209.8L425.6,209.9L426.2,210.2L426.7,209.0L427.3,208.8L427.8,209.2L428.4,208.3L428.9,208.9L429.5,208.2L430.0,208.2L430.6,208.4L431.1,208.6L431.7,209.9L432.2,210.5L432.8,212.0L433.3,213.0L433.9,214.2L434.4,215.6L435.0,216.3L435.5,217.8L436.1,218.7L436.6,220.1L437.2,221.6L437.7,223.2L438.3,224.3L438.8,225.4L439.4,226.7L439.9,227.6L440.5,229.0L441.0,229.5L441.6,230.9L442.1,232.1L442.7,232.1L443.2,233.0L443.8,233.5L444.3,234.6L444.9,234.8L445.4,235.3L446.0,236.1L446.5,236.4L447.1,237.7L447.6,237.3L448.2,237.8L448.7,238.8L449.3,238.9L449.8,238.9L450.4,239.6L450.9,240.6L451.5,240.4L452.0,241.2L452.6,241.6L453.1,241.5L453.7,241.8L454.2,242.3L454.8,242.0L455.3,242.4L455.9,243.2L456.4,243.6L457.0,243.7L457.5,244.1L458.1,243.9L458.6,244.0L459.2,245.0L459.7,244.8L460.3,244.5L460.8,245.3L461.4,245.2L461.9,245.7L462.5,245.2L463.0,246.0L463.6,246.4L464.1,245.9L464.7,246.5L465.2,246.5L465.8,246.7L466.3,246.5L466.9,246.5L467.4,247.1L468.0,247.3L468.5,246.8L469.1,246.8L469.6,246.9L470.2,246.6L470.7,238.6" fill="none" stroke="#a8a8a8" stroke-width="1.0" stroke-linejoin="round"/>
<path d="M403.6,245.0L404.2,242.6L404.7,239.6L405.3,237.7L405.8,235.6L406.4,233.9L406.9,232.2L407.5,230.2L408.0,229.5L408.6,227.3L409.1,225.9L409.7,224.4L410.2,223.5L410.8,222.1L411.3,221.1L411.9,220.7L412.4,219.4L413.0,218.3L413.5,217.3L414.1,216.8L414.6,216.2L415.2,215.4L415.7,214.2L416.3,214.1L416.8,212.8L417.4,212.6L417.9,211.9L418.5,211.1L419.0,211.2L419.6,210.3L420.1,210.2L420.7,210.1L421.2,209.3L421.8,209.1L422.3,208.4L422.9,208.5L423.4,207.8L424.0,207.4L424.5,207.8L425.1,207.2L425.6,206.7L426.2,206.8L426.7,206.4L427.3,206.5L427.8,205.7L428.4,205.7L428.9,205.9L429.5,205.6L430.0,205.1L430.6,205.6L431.1,206.4L431.7,208.0L432.2,208.5L432.8,210.0L433.3,211.1L433.9,212.3L434.4,213.9L435.0,215.0L435.5,216.1L436.1,217.4L436.6,218.5L437.2,220.1L437.7,221.4L438.3,222.9L438.8,224.4L439.4,225.8L439.9,226.0L440.5,227.1L441.0,228.9L441.6,230.3L442.1,231.1L442.7,231.5L443.2,232.3L443.8,232.3L444.3,233.1L444.9,234.2L445.4,234.5L446.0,235.6L446.5,236.3L447.1,236.2L447.6,236.9L448.2,237.6L448.7,237.9L449.3,238.3L449.8,239.1L450.4,239.3L450.9,239.6L451.5,239.7L452.0,240.4L452.6,240.5L453.1,240.9L453.7,240.9L454.2,241.8L454.8,241.6L455.3,242.1L455.9,242.1L456.4,242.3L457.0,243.3L457.5,243.5L458.1,243.1L458.6,243.8L459.2,244.4L459.7,244.4L460.3,244.2L460.8,244.2L461.4,245.0L461.9,245.0L462.5,245.3L463.0,245.6L463.6,245.3L464.1,246.2L464.7,245.6L465.2,245.6L465.8,246.5L466.3,246.6L466.9,246.8L467.4,246.6L468.0,247.0L468.5,247.0L469.1,246.7L469.6,246.8L470.2,246.3L470.7,238.7" fill="none" stroke="#a8a8a8" stroke-width="1.0" stroke-linejoin="round"/>
<path d="M403.6,244.5L404.2,241.7L404.7,238.5L405.3,236.3L405.8,233.6L406.4,232.0L406.9,229.9L407.5,227.2L408.0,226.2L408.6,224.4L409.1,222.2L409.7,221.1L410.2,219.9L410.8,218.3L411.3,217.3L411.9,216.6L412.4,215.4L413.0,214.2L413.5,213.0L414.1,212.6L414.6,211.4L415.2,211.3L415.7,210.2L416.3,209.6L416.8,209.7L417.4,208.6L417.9,207.7L418.5,207.6L419.0,207.0L419.6,206.3L420.1,206.2L420.7,206.4L421.2,205.8L421.8,205.7L422.3,204.9L422.9,204.6L423.4,204.2L424.0,204.2L424.5,204.6L425.1,204.2L425.6,204.0L426.2,203.5L426.7,203.6L427.3,203.5L427.8,203.2L428.4,203.0L428.9,202.7L429.5,203.0L430.0,202.8L430.6,203.2L431.1,204.1L431.7,205.9L432.2,206.5L432.8,208.0L433.3,208.6L433.9,210.9L434.4,211.5L435.0,213.1L435.5,215.0L436.1,216.3L436.6,217.0L437.2,218.7L437.7,220.5L438.3,221.8L438.8,223.1L439.4,224.6L439.9,225.1L440.5,227.1L441.0,227.9L441.6,228.7L442.1,230.2L442.7,230.7L443.2,230.8L443.8,231.6L444.3,232.4L444.9,233.6L445.4,234.3L446.0,234.6L446.5,235.6L447.1,235.4L447.6,236.6L448.2,237.1L448.7,236.8L449.3,237.2L449.8,237.6L450.4,238.2L450.9,238.7L451.5,239.1L452.0,239.9L452.6,240.4L453.1,240.1L453.7,240.3L454.2,241.1L454.8,241.9L455.3,241.8L455.9,241.6L456.4,242.4L457.0,242.7L457.5,243.2L458.1,243.4L458.6,243.4L459.2,244.1L459.7,244.1L460.3,243.8L460.8,244.3L461.4,244.0L461.9,245.1L462.5,244.9L463.0,244.7L463.6,244.7L464.1,244.9L464.7,245.8L465.2,246.1L465.8,246.1L466.3,245.7L466.9,246.5L467.4,246.4L468.0,246.1L468.5,246.9L469.1,247.2L469.6,246.6L470.2,246.5L470.7,238.5" fill="none" stroke="#a8a8a8" stroke-width="1.0" stroke-linejoin="round"/>
<path d="M403.6,244.9L404.2,240.4L404.7,236.9L405.3,234.4L405.8,231.7L406.4,228.9L406.9,226.1L407.5,223.7L408.0,221.7L408.6,219.8L409.1,217.7L409.7,217.0L410.2,215.5L410.8,213.4L411.3,213.1L411.9,211.2L412.4,210.7L413.0,209.8L413.5,208.6L414.1,207.8L414.6,207.0L415.2,206.9L415.7,205.6L416.3,205.1L416.8,205.3L417.4,204.7L417.9,204.4L418.5,203.5L419.0,203.0L419.6,203.0L420.1,203.0L420.7,202.0L421.2,202.3L421.8,202.3L422.3,201.3L422.9,201.6L423.4,201.3L424.0,200.8L424.5,200.7L425.1,200.5L425.6,200.7L426.2,200.9L426.7,200.4L427.3,200.7L427.8,200.7L428.4,200.4L428.9,200.3L429.5,200.2L430.0,200.7L430.6,201.3L431.1,202.3L431.7,203.9L432.2,204.2L432.8,205.6L433.3,207.0L433.9,208.6L434.4,209.8L435.0,211.4L435.5,212.6L436.1,214.8L436.6,215.5L437.2,217.3L437.7,218.6L438.3,219.8L438.8,221.9L439.4,223.4L439.9,224.3L440.5,226.0L441.0,227.0L441.6,227.6L442.1,228.7L442.7,229.8L443.2,229.8L443.8,231.5L444.3,232.1L444.9,232.8L445.4,233.1L446.0,233.9L446.5,234.1L447.1,235.2L447.6,235.9L448.2,236.0L448.7,236.1L449.3,236.9L449.8,237.6L450.4,238.2L450.9,238.6L451.5,238.6L452.0,238.9L452.6,239.6L453.1,239.5L453.7,240.2L454.2,240.1L454.8,241.0L455.3,241.4L455.9,241.3L456.4,241.3L457.0,242.0L457.5,242.2L458.1,242.3L458.6,243.3L459.2,243.2L459.7,243.6L460.3,243.7L460.8,243.7L461.4,244.1L461.9,243.9L462.5,244.5L463.0,244.9L463.6,244.4L464.1,244.9L464.7,244.9L465.2,245.9L465.8,245.7L466.3,245.4L466.9,245.5L467.4,246.6L468.0,246.2L468.5,246.5L469.1,247.0L469.6,246.8L470.2,245.9L470.7,239.0" fill="none" stroke="#a8a8a8" stroke-width="1.0" stroke-linejoin="round"/>
<path d="M403.6,244.7L404.2,239.6L404.7,235.5L405.3,231.3L405.8,227.4L406.4,224.5L406.9,221.3L407.5,218.2L408.0,216.9L408.6,214.5L409.1,213.0L409.7,211.4L410.2,209.3L410.8,208.6L411.3,206.8L411.9,206.5L412.4,205.5L413.0,204.7L413.5,203.4L414.1,203.1L414.6,202.2L415.2,202.2L415.7,201.3L416.3,200.6L416.8,200.6L417.4,200.5L417.9,199.5L418.5,199.3L419.0,199.6L419.6,199.4L420.1,199.1L420.7,198.7L421.2,198.7L421.8,198.4L422.3,198.5L422.9,198.4L423.4,198.5L424.0,198.1L424.5,198.0L425.1,198.1L425.6,197.5L426.2,198.4L426.7,198.0L427.3,197.5L427.8,197.4L428.4,197.7L428.9,197.3L429.5,197.6L430.0,198.4L430.6,199.1L431.1,200.2L431.7,202.0L432.2,202.9L432.8,204.6L433.3,205.9L433.9,207.5L434.4,208.8L435.0,210.4L435.5,211.8L436.1,212.8L436.6,215.0L437.2,216.3L437.7,217.2L438.3,219.3L438.8,220.4L439.4,222.7L439.9,223.6L440.5,224.5L441.0,225.6L441.6,226.8L442.1,228.1L442.7,228.6L443.2,229.4L443.8,229.9L444.3,231.2L444.9,232.2L445.4,232.6L446.0,233.7L446.5,233.3L447.1,234.3L447.6,235.0L448.2,235.7L448.7,236.0L449.3,236.1L449.8,236.8L450.4,237.6L450.9,237.4L451.5,237.8L452.0,238.9L452.6,238.8L453.1,239.0L453.7,239.2L454.2,240.2L454.8,240.6L455.3,241.0L455.9,240.8L456.4,241.6L457.0,241.5L457.5,242.1L458.1,241.9L458.6,242.2L459.2,243.3L459.7,243.5L460.3,242.8L460.8,244.0L461.4,243.8L461.9,243.4L462.5,244.1L463.0,244.3L463.6,244.9L464.1,244.7L464.7,245.3L465.2,245.3L465.8,245.3L466.3,245.5L466.9,245.3L467.4,246.3L468.0,245.7L468.5,246.0L469.1,246.9L469.6,247.0L470.2,246.2L470.7,239.3" fill="none" stroke="#a8a8a8" stroke-width="1.0" stroke-linejoin="round"/>
<path d="M356.5,188.2L357.1,188.2L357.7,189.7L358.3,190.1L358.9,191.3L359.5,189.8L360.1,191.4L360.7,191.4L361.3,192.9L361.9,194.7L362.5,194.4L363.1,196.1L363.7,198.8L364.3,200.0L364.9,200.7L365.5,203.2L366.1,205.3L366.7,204.7L367.3,208.5L367.9,210.1L368.5,210.9L369.1,212.1L369.7,215.7L370.3,215.6L370.9,216.4L371.5,217.6L372.1,220.8L372.7,221.4L373.3,223.1L373.9,224.1L374.5,224.6L375.1,226.7L375.7,226.2L376.3,227.6L376.9,229.3L377.5,229.5L378.1,230.9L378.7,230.9L379.3,231.9L379.9,230.9L380.5,232.1L381.1,232.9L381.7,232.8L382.3,233.7L382.9,233.8L383.5,234.7L384.1,236.1L384.7,235.8L385.3,236.2L385.9,236.1L386.5,236.5L387.1,238.5L387.7,238.1L388.3,238.3L388.9,237.4L389.5,239.1L390.1,237.9L390.7,238.7L391.3,240.5L391.9,239.8L392.5,239.8L393.1,240.4L393.7,241.0L394.3,241.0L394.9,239.8L395.5,239.4L396.1,240.3L396.7,240.3L397.3,240.3L397.9,242.3L398.5,242.2L399.1,240.9L399.7,241.9L400.3,241.3L400.9,242.8L401.5,241.8L402.1,241.5L402.7,241.6L403.3,242.6L403.9,242.0L404.5,243.0L405.1,244.0L405.7,242.9L406.3,242.6L406.9,244.8L407.5,243.8L408.1,242.9L408.7,242.9L409.3,243.3L409.9,244.8L410.5,245.4L411.1,244.7L411.7,243.9L412.3,245.0L412.9,246.8L413.5,245.7L414.1,247.1L414.7,247.0L415.3,245.0L415.9,247.0L416.5,247.1L417.1,246.9L417.7,246.2L418.3,247.3L418.9,246.0L419.5,247.0L420.1,247.1L420.7,248.5L421.3,248.4L421.9,246.9L422.5,247.7L423.1,246.9L423.7,248.9L424.3,248.9L424.9,247.5L425.5,248.5L426.1,248.5L426.7,247.5L427.3,249.1L427.9,248.7L428.5,249.4L429.1,248.8L429.7,247.5L430.3,248.3L430.9,247.5L431.5,249.8L432.1,249.7L432.7,249.5L433.3,248.1L433.9,247.5L434.5,249.6L435.1,249.7L435.7,247.4L436.3,248.5L436.9,247.3L437.5,249.1L438.1,249.1L438.7,247.4L439.3,248.4L439.9,248.6L440.5,247.9L441.1,249.5L441.7,248.4L442.3,247.8L442.9,248.7L443.5,249.2L444.1,247.9L444.7,248.2L445.3,250.0L445.9,249.2L446.5,248.6L447.1,248.9L447.7,247.9L448.3,248.3L448.9,248.6L449.5,249.4L450.1,248.5L450.7,248.6L451.3,248.2L451.9,249.8L452.5,248.8L453.1,250.6L453.7,250.6L454.3,248.6L454.9,249.1L455.5,250.3L456.1,249.2L456.7,249.0L457.3,251.1L457.9,250.1L458.5,249.8L459.1,250.7L459.7,250.7L460.3,249.1L460.9,248.9L461.5,249.7L462.1,249.7L462.7,249.8L463.3,250.5L463.9,250.4L464.5,251.2L465.1,248.8L465.7,249.4L466.3,249.2L466.9,250.4L467.5,248.7L468.1,248.4L468.7,249.0L469.3,248.8L469.9,248.3L470.5,245.8L471.1,242.7L471.7,232.5L472.3,225.1L472.9,216.0L473.5,210.4L474.1,208.6L474.7,204.8L475.3,202.9L475.9,200.5L476.5,198.0L477.1,195.4L477.7,195.7L478.3,194.4L478.9,194.3L479.5,192.9L480.1,193.3L480.7,194.7L481.3,192.8L481.9,194.0L482.5,193.0L483.1,192.8L483.7,194.1L484.3,194.1L484.9,192.8L485.5,193.2L486.1,191.6L486.7,191.9L487.3,193.6L487.9,192.5L488.5,192.3L489.1,192.8L489.7,190.9L490.3,192.2L490.9,191.9L491.5,192.6L492.1,190.7" fill="none" stroke="#aaaaaa" stroke-width="1.6" stroke-linejoin="round"/>
<path d="M357.7,188.1L358.3,189.4L358.9,189.8L359.5,189.2L360.1,189.5L360.7,192.1L361.3,191.2L361.9,193.1L362.5,194.2L363.1,194.7L363.7,196.1L364.3,197.2L364.9,199.7L365.5,199.3L366.1,202.2L366.7,202.5L367.3,204.4L367.9,206.7L368.5,207.4L369.1,209.3L369.7,212.2L370.3,212.1L370.9,214.6L371.5,217.5L372.1,219.0L372.7,217.8L373.3,219.4L373.9,220.7L374.5,223.7L375.1,224.7L375.7,225.7L376.3,225.4L376.9,225.8L377.5,228.6L378.1,229.2L378.7,229.7L379.3,231.4L379.9,231.3L380.5,230.3L381.1,233.2L381.7,232.6L382.3,234.1L382.9,235.3L383.5,233.7L384.1,234.1L384.7,234.5L385.3,236.1L385.9,235.8L386.5,237.0L387.1,237.6L387.7,236.6L388.3,238.0L388.9,237.3L389.5,238.2L390.1,239.5L390.7,239.7L391.3,238.0L391.9,239.0L392.5,238.9L393.1,238.4L393.7,240.6L394.3,240.5L394.9,239.7L395.5,241.2L396.1,240.9L396.7,240.7L397.3,239.7L397.9,240.0L398.5,242.2L399.1,242.4L399.7,241.6L400.3,242.5L400.9,241.9L401.5,240.9L402.1,241.0L402.7,241.6L403.3,243.4L403.9,243.3L404.5,243.6L405.1,243.9L405.7,238.4L406.3,227.8L406.9,219.1L407.5,214.9L408.1,211.0L408.7,206.8L409.3,204.4L409.9,201.3L410.5,201.4L411.1,199.5L411.7,198.9L412.3,197.6L412.9,196.9L413.5,194.0L414.1,195.6L414.7,194.2L415.3,195.5L415.9,194.8L416.5,194.7L417.1,194.3L417.7,192.6L418.3,193.9L418.9,192.0L419.5,193.9L420.1,193.8L420.7,192.0L421.3,193.5L421.9,192.5L422.5,192.0L423.1,193.2L423.7,191.7L424.3,191.1L424.9,191.5L425.5,191.8L426.1,193.1L426.7,193.3L427.3,191.4L427.9,192.3L428.5,191.6L429.1,193.1L429.7,191.9L430.3,192.9L430.9,190.8L431.5,193.3L432.1,191.5L432.7,194.3L433.3,193.8L433.9,194.8L434.5,197.0L435.1,199.4L435.7,200.1L436.3,202.6L436.9,204.1L437.5,205.6L438.1,207.9L438.7,208.8L439.3,211.8L439.9,211.8L440.5,216.0L441.1,216.8L441.7,219.0L442.3,220.6L442.9,221.9L443.5,222.6L444.1,223.1L444.7,225.5L445.3,225.6L445.9,226.4L446.5,228.7L447.1,229.3L447.7,229.1L448.3,230.0L448.9,230.9L449.5,231.4L450.1,231.8L450.7,231.9L451.3,233.3L451.9,235.2L452.5,235.2L453.1,236.2L453.7,235.9L454.3,235.6L454.9,236.6L455.5,235.7L456.1,236.9L456.7,237.7L457.3,238.5L457.9,239.0L458.5,238.9L459.1,239.2L459.7,239.0L460.3,240.0L460.9,241.5L461.5,241.5L462.1,240.2L462.7,240.2L463.3,241.5L463.9,242.1L464.5,241.5L465.1,243.0L465.7,243.1L466.3,243.1L466.9,242.2L467.5,242.4L468.1,242.2L468.7,243.0L469.3,243.8L469.9,245.0L470.5,243.3L471.1,244.4L471.7,245.0L472.3,241.0L472.9,233.3L473.5,224.3L474.1,215.4L474.7,212.2L475.3,206.2L475.9,204.8L476.5,202.6L477.1,198.6L477.7,197.1L478.3,195.6L478.9,197.1L479.5,195.4L480.1,193.6L480.7,193.6L481.3,194.7L481.9,193.6L482.5,194.4L483.1,193.9L483.7,194.6L484.3,193.5L484.9,194.3L485.5,194.0L486.1,193.2L486.7,193.4L487.3,192.8L487.9,193.5L488.5,192.7L489.1,193.5L489.7,193.1L490.3,192.3L490.9,191.6L491.5,191.5L492.1,192.5L492.7,192.6L493.3,191.9" fill="none" stroke="#b0b0b0" stroke-width="1.6" stroke-linejoin="round"/>
<path d="M356.5,189.0L357.1,189.7L357.7,189.9L358.3,190.5L358.9,191.7L359.5,191.3L360.1,192.3L360.7,194.5L361.3,195.5L361.9,194.9L362.5,196.8L363.1,198.4L363.7,199.5L364.3,200.5L364.9,202.6L365.5,205.3L366.1,206.0L366.7,207.9L367.3,210.0L367.9,211.6L368.5,212.4L369.1,213.1L369.7,215.5L370.3,218.0L370.9,219.7L371.5,221.2L372.1,221.0L372.7,223.1L373.3,223.8L373.9,225.1L374.5,225.2L375.1,226.1L375.7,227.7L376.3,227.7L376.9,229.4L377.5,231.0L378.1,231.0L378.7,231.2L379.3,232.7L379.9,232.5L380.5,234.5L381.1,233.6L381.7,235.0L382.3,235.9L382.9,235.0L383.5,237.0L384.1,236.2L384.7,237.5L385.3,236.7L385.9,237.9L386.5,237.7L387.1,238.3L387.7,239.7L388.3,239.0L388.9,240.3L389.5,240.8L390.1,239.5L390.7,239.3L391.3,239.4L391.9,240.9L392.5,242.3L393.1,240.9L393.7,241.9L394.3,242.4L394.9,242.3L395.5,242.7L396.1,243.3L396.7,241.5L397.3,241.1L397.9,241.6L398.5,241.7L399.1,243.2L399.7,243.0L400.3,242.3L400.9,243.6L401.5,244.0L402.1,242.6L402.7,243.9L403.3,244.5L403.9,243.0L404.5,245.0L405.1,245.6L405.7,243.5L406.3,243.5L406.9,244.4L407.5,245.6L408.1,246.5L408.7,245.2L409.3,246.2L409.9,244.7L410.5,246.5L411.1,246.6L411.7,245.4L412.3,247.4L412.9,247.8L413.5,247.3L414.1,246.3L414.7,248.7L415.3,248.4L415.9,247.4L416.5,247.8L417.1,247.8L417.7,248.2L418.3,247.9L418.9,249.3L419.5,249.4L420.1,247.6L420.7,249.9L421.3,249.2L421.9,249.8L422.5,249.6L423.1,249.0L423.7,249.8L424.3,250.5L424.9,248.8L425.5,250.3L426.1,249.7L426.7,249.7L427.3,249.7L427.9,250.5L428.5,249.4L429.1,251.0L429.7,251.1L430.3,249.1L430.9,251.1L431.5,249.4L432.1,250.0L432.7,250.3L433.3,249.7L433.9,248.8L434.5,250.9L435.1,249.1L435.7,249.1L436.3,250.6L436.9,249.4L437.5,250.8L438.1,250.3L438.7,249.2L439.3,248.5L439.9,251.0L440.5,248.8L441.1,250.5L441.7,249.9L442.3,250.6L442.9,250.5L443.5,250.4L444.1,250.0L444.7,250.8L445.3,249.1L445.9,249.4L446.5,250.7L447.1,249.7L447.7,250.5L448.3,250.3L448.9,250.5L449.5,250.3L450.1,251.2L450.7,250.2L451.3,251.3L451.9,250.2L452.5,250.2L453.1,250.0L453.7,250.2L454.3,250.1L454.9,251.3L455.5,251.9L456.1,250.5L456.7,250.6L457.3,251.3L457.9,251.9L458.5,252.5L459.1,251.4L459.7,250.7L460.3,250.3L460.9,250.5L461.5,250.6L462.1,250.5L462.7,250.0L463.3,251.4L463.9,250.7L464.5,252.5L465.1,251.3L465.7,251.6L466.3,250.0L466.9,251.8L467.5,250.7L468.1,251.6L468.7,250.7L469.3,250.3L469.9,250.1L470.5,247.1L471.1,241.8L471.7,235.1L472.3,225.4L472.9,218.1L473.5,212.7L474.1,207.5L474.7,205.7L475.3,201.9L475.9,199.8L476.5,198.6L477.1,197.1L477.7,198.3L478.3,195.5L478.9,196.6L479.5,195.7L480.1,195.7L480.7,194.1L481.3,194.8L481.9,194.5L482.5,194.3L483.1,195.3L483.7,195.5L484.3,193.6L484.9,194.4L485.5,194.3L486.1,194.5L486.7,195.0L487.3,193.0L487.9,192.9L488.5,194.0L489.1,192.6L489.7,192.6L490.3,192.2L490.9,192.0L491.5,193.0L492.1,193.2" fill="none" stroke="#aaaaaa" stroke-width="1.6" stroke-linejoin="round"/>
<path d="M355.3,190.2L355.9,190.4L356.5,189.9L357.1,191.0L357.7,192.2L358.3,192.5L358.9,192.9L359.5,194.0L360.1,195.7L360.7,195.3L361.3,196.7L361.9,198.2L362.5,200.4L363.1,201.6L363.7,201.2L364.3,203.0L364.9,204.9L365.5,207.5L366.1,208.8L366.7,209.9L367.3,211.3L367.9,214.4L368.5,215.9L369.1,218.0L369.7,218.3L370.3,219.5L370.9,219.7L371.5,220.8L372.1,223.0L372.7,223.9L373.3,224.8L373.9,225.3L374.5,228.6L375.1,229.3L375.7,229.6L376.3,231.3L376.9,232.1L377.5,232.0L378.1,231.7L378.7,231.8L379.3,234.4L379.9,234.3L380.5,235.2L381.1,236.4L381.7,234.9L382.3,236.4L382.9,237.0L383.5,237.1L384.1,236.4L384.7,237.3L385.3,237.6L385.9,238.7L386.5,239.5L387.1,238.4L387.7,239.7L388.3,238.9L388.9,240.9L389.5,240.7L390.1,240.3L390.7,240.2L391.3,240.1L391.9,240.3L392.5,242.2L393.1,241.0L393.7,241.5L394.3,242.8L394.9,242.1L395.5,241.9L396.1,241.7L396.7,241.2L397.3,241.8L397.9,242.9L398.5,242.7L399.1,243.2L399.7,241.9L400.3,242.9L400.9,244.1L401.5,243.0L402.1,243.9L402.7,242.5L403.3,241.1L403.9,229.4L404.5,220.2L405.1,214.0L405.7,210.8L406.3,207.8L406.9,203.7L407.5,204.1L408.1,202.1L408.7,199.1L409.3,197.4L409.9,198.3L410.5,196.5L411.1,196.5L411.7,195.7L412.3,194.8L412.9,195.9L413.5,196.0L414.1,193.8L414.7,194.3L415.3,193.6L415.9,194.9L416.5,193.7L417.1,194.6L417.7,194.5L418.3,192.8L418.9,194.1L419.5,193.0L420.1,194.3L420.7,193.1L421.3,193.9L421.9,192.4L422.5,192.4L423.1,193.1L423.7,194.1L424.3,192.7L424.9,191.8L425.5,192.7L426.1,192.2L426.7,192.7L427.3,192.6L427.9,192.3L428.5,192.0L429.1,191.9L429.7,193.6L430.3,193.9L430.9,194.4L431.5,197.2L432.1,196.7L432.7,200.2L433.3,201.8L433.9,203.8L434.5,204.5L435.1,207.0L435.7,209.2L436.3,211.4L436.9,211.9L437.5,212.5L438.1,215.6L438.7,217.6L439.3,220.1L439.9,221.6L440.5,222.0L441.1,223.7L441.7,224.8L442.3,226.4L442.9,226.5L443.5,228.0L444.1,227.6L444.7,229.3L445.3,231.5L445.9,230.8L446.5,232.3L447.1,232.8L447.7,233.9L448.3,234.5L448.9,235.1L449.5,234.5L450.1,234.9L450.7,236.4L451.3,237.0L451.9,237.7L452.5,236.0L453.1,236.5L453.7,238.4L454.3,239.7L454.9,240.3L455.5,240.0L456.1,239.5L456.7,239.0L457.3,240.7L457.9,241.7L458.5,241.0L459.1,242.0L459.7,242.7L460.3,240.8L460.9,242.9L461.5,241.9L462.1,242.3L462.7,242.0L463.3,243.2L463.9,243.5L464.5,244.4L465.1,243.0L465.7,243.0L466.3,245.3L466.9,244.9L467.5,244.1L468.1,246.1L468.7,244.4L469.3,245.3L469.9,241.9L470.5,232.9L471.1,223.7L471.7,217.5L472.3,213.5L472.9,208.6L473.5,204.0L474.1,202.4L474.7,199.9L475.3,198.2L475.9,197.5L476.5,196.4L477.1,195.4L477.7,196.4L478.3,194.1L478.9,194.2L479.5,194.3L480.1,193.6L480.7,194.3L481.3,194.2L481.9,195.2L482.5,193.3L483.1,194.9L483.7,194.0L484.3,192.9L484.9,193.6L485.5,193.8L486.1,193.9L486.7,192.0L487.3,193.4L487.9,193.0L488.5,194.0L489.1,192.3L489.7,193.6L490.3,192.9L490.9,192.1" fill="none" stroke="#b0b0b0" stroke-width="1.6" stroke-linejoin="round"/>
<path d="M356.5,192.5L357.1,192.8L357.7,192.8L358.3,193.8L358.9,193.8L359.5,195.2L360.1,195.3L360.7,195.4L361.3,196.8L361.9,198.1L362.5,199.5L363.1,199.1L363.7,201.1L364.3,203.8L364.9,203.8L365.5,205.2L366.1,207.8L366.7,210.5L367.3,211.1L367.9,213.9L368.5,215.5L369.1,215.6L369.7,218.6L370.3,219.2L370.9,221.5L371.5,222.6L372.1,222.7L372.7,223.4L373.3,226.8L373.9,225.8L374.5,229.0L375.1,229.7L375.7,230.4L376.3,232.0L376.9,233.0L377.5,233.3L378.1,232.9L378.7,234.7L379.3,233.4L379.9,235.5L380.5,236.0L381.1,237.2L381.7,237.7L382.3,237.9L382.9,239.0L383.5,239.7L384.1,238.0L384.7,238.8L385.3,238.6L385.9,241.1L386.5,240.5L387.1,241.8L387.7,240.2L388.3,240.1L388.9,242.4L389.5,242.9L390.1,241.6L390.7,242.1L391.3,241.6L391.9,243.9L392.5,242.4L393.1,243.1L393.7,242.3L394.3,244.6L394.9,242.9L395.5,243.8L396.1,244.5L396.7,244.8L397.3,245.5L397.9,244.2L398.5,245.2L399.1,243.8L399.7,244.6L400.3,243.9L400.9,245.0L401.5,245.0L402.1,246.5L402.7,244.3L403.3,245.4L403.9,245.8L404.5,247.2L405.1,247.2L405.7,245.4L406.3,247.1L406.9,246.9L407.5,248.2L408.1,246.8L408.7,247.1L409.3,246.8L409.9,246.8L410.5,248.9L411.1,248.0L411.7,248.8L412.3,248.9L412.9,249.0L413.5,247.7L414.1,249.9L414.7,248.7L415.3,248.6L415.9,249.9L416.5,248.8L417.1,250.7L417.7,249.4L418.3,249.5L418.9,251.3L419.5,250.0L420.1,249.6L420.7,251.7L421.3,249.4L421.9,251.8L422.5,250.0L423.1,250.1L423.7,250.5L424.3,250.4L424.9,251.8L425.5,250.2L426.1,250.3L426.7,252.4L427.3,251.1L427.9,251.4L428.5,251.1L429.1,250.9L429.7,252.7L430.3,252.1L430.9,252.7L431.5,251.9L432.1,252.7L432.7,252.0L433.3,250.9L433.9,251.9L434.5,253.0L435.1,250.6L435.7,252.5L436.3,252.7L436.9,251.8L437.5,251.6L438.1,252.9L438.7,250.5L439.3,251.7L439.9,251.5L440.5,252.3L441.1,251.8L441.7,252.9L442.3,250.8L442.9,250.8L443.5,252.2L444.1,250.8L444.7,251.4L445.3,252.4L445.9,252.2L446.5,251.6L447.1,253.4L447.7,252.3L448.3,252.1L448.9,252.6L449.5,251.4L450.1,253.0L450.7,253.5L451.3,253.0L451.9,253.4L452.5,253.4L453.1,252.1L453.7,252.8L454.3,252.3L454.9,252.7L455.5,253.0L456.1,253.0L456.7,252.1L457.3,253.0L457.9,253.6L458.5,252.9L459.1,252.3L459.7,254.3L460.3,252.1L460.9,254.1L461.5,252.1L462.1,252.1L462.7,253.8L463.3,254.0L463.9,253.3L464.5,253.4L465.1,253.3L465.7,252.5L466.3,251.9L466.9,252.3L467.5,253.0L468.1,253.1L468.7,253.3L469.3,252.8L469.9,253.3L470.5,250.0L471.1,244.5L471.7,236.1L472.3,226.6L472.9,219.5L473.5,214.1L474.1,209.5L474.7,208.1L475.3,204.6L475.9,203.3L476.5,200.6L477.1,200.3L477.7,199.9L478.3,199.6L478.9,198.7L479.5,197.6L480.1,197.3L480.7,195.5L481.3,197.8L481.9,197.4L482.5,195.8L483.1,195.5L483.7,196.7L484.3,195.5L484.9,195.5L485.5,194.6L486.1,196.8L486.7,195.9L487.3,195.4L487.9,194.6L488.5,195.8L489.1,194.2L489.7,196.0L490.3,194.5L490.9,194.9L491.5,194.6L492.1,194.5" fill="none" stroke="#aaaaaa" stroke-width="1.6" stroke-linejoin="round"/>
<path d="M356.8,192.3L357.4,191.2L358.0,191.3L358.6,192.1L359.2,193.9L359.8,194.6L360.4,194.4L361.0,196.4L361.6,197.0L362.2,197.8L362.8,198.4L363.4,200.9L364.0,200.7L364.6,203.1L365.2,204.2L365.8,206.7L366.4,207.8L367.0,209.8L367.6,209.9L368.2,212.6L368.8,215.0L369.4,215.1L370.0,217.3L370.6,218.6L371.2,219.9L371.8,221.4L372.4,222.8L373.0,223.2L373.6,226.3L374.2,226.0L374.8,227.6L375.4,229.4L376.0,229.9L376.6,231.7L377.2,232.6L377.8,231.4L378.4,234.2L379.0,232.8L379.6,233.5L380.2,236.6L380.8,237.1L381.4,237.0L382.0,237.5L382.6,238.3L383.2,238.0L383.8,237.6L384.4,237.8L385.0,239.1L385.6,240.7L386.2,240.5L386.8,241.3L387.4,241.8L388.0,240.0L388.6,242.2L389.2,240.9L389.8,242.1L390.4,242.2L391.0,242.1L391.6,242.1L392.2,242.4L392.8,242.6L393.4,242.4L394.0,243.5L394.6,242.7L395.2,243.9L395.8,245.1L396.4,243.7L397.0,244.8L397.6,245.2L398.2,245.3L398.8,243.9L399.4,243.8L400.0,244.1L400.6,245.2L401.2,245.8L401.8,245.7L402.4,244.6L403.0,246.3L403.6,245.8L404.2,246.6L404.8,243.0L405.4,231.5L406.0,224.4L406.6,217.5L407.2,213.5L407.8,210.5L408.4,208.1L409.0,205.7L409.6,202.5L410.2,200.6L410.8,200.7L411.4,199.4L412.0,198.4L412.6,197.2L413.2,198.1L413.8,197.3L414.4,197.4L415.0,196.0L415.6,197.8L416.2,195.5L416.8,197.3L417.4,197.2L418.0,196.5L418.6,196.1L419.2,195.9L419.8,196.0L420.4,196.6L421.0,196.7L421.6,195.5L422.2,196.4L422.8,195.9L423.4,195.0L424.0,195.3L424.6,194.4L425.2,194.1L425.8,194.2L426.4,196.2L427.0,194.7L427.6,195.6L428.2,195.0L428.8,194.1L429.4,194.2L430.0,194.7L430.6,195.0L431.2,195.6L431.8,195.3L432.4,197.3L433.0,198.4L433.6,200.1L434.2,201.6L434.8,204.0L435.4,206.2L436.0,207.6L436.6,207.9L437.2,209.8L437.8,213.1L438.4,213.8L439.0,216.8L439.6,218.4L440.2,220.9L440.8,222.6L441.4,222.7L442.0,224.8L442.6,225.2L443.2,227.0L443.8,229.5L444.4,229.7L445.0,229.8L445.6,231.2L446.2,233.0L446.8,232.3L447.4,233.3L448.0,235.0L448.6,235.6L449.2,235.9L449.8,236.9L450.4,237.3L451.0,237.7L451.6,237.9L452.2,238.7L452.8,238.6L453.4,238.9L454.0,239.3L454.6,239.3L455.2,239.8L455.8,242.2L456.4,241.4L457.0,241.1L457.6,241.2L458.2,241.4L458.8,243.8L459.4,242.2L460.0,244.3L460.6,244.8L461.2,245.1L461.8,243.2L462.4,244.2L463.0,245.6L463.6,244.2L464.2,245.0L464.8,244.7L465.4,246.7L466.0,246.8L466.6,247.1L467.2,245.7L467.8,246.6L468.4,246.8L469.0,247.7L469.6,246.8L470.2,247.6L470.8,247.2L471.4,245.6L472.0,235.8L472.6,227.6L473.2,218.7L473.8,215.7L474.4,210.6L475.0,208.2L475.6,204.7L476.2,203.9L476.8,201.7L477.4,199.5L478.0,198.5L478.6,198.2L479.2,198.0L479.8,198.6L480.4,197.8L481.0,197.6L481.6,195.8L482.2,196.0L482.8,196.9L483.4,197.3L484.0,196.4L484.6,195.1L485.2,196.9L485.8,196.9L486.4,195.3L487.0,196.5L487.6,195.1L488.2,196.7L488.8,194.6L489.4,195.3L490.0,196.6L490.6,194.6L491.2,195.1L491.8,194.7L492.4,193.7" fill="none" stroke="#b0b0b0" stroke-width="1.6" stroke-linejoin="round"/>
<path d="M354.5,190.7L355.1,192.8L355.7,191.4L356.3,191.0L356.9,194.0L357.5,194.3L358.1,194.7L358.7,196.0L359.3,195.3L359.9,196.7L360.5,199.1L361.1,200.0L361.7,200.1L362.3,203.0L362.9,203.9L363.5,204.3L364.1,206.0L364.7,208.0L365.3,211.2L365.9,212.3L366.5,214.6L367.1,215.7L367.7,216.1L368.3,218.1L368.9,219.5L369.5,220.1L370.1,222.3L370.7,224.5L371.3,224.8L371.9,225.1L372.5,228.2L373.1,228.4L373.7,227.9L374.3,230.2L374.9,230.4L375.5,230.9L376.1,232.4L376.7,233.6L377.3,233.3L377.9,234.5L378.5,235.9L379.1,235.0L379.7,237.8L380.3,235.9L380.9,237.5L381.5,237.9L382.1,239.6L382.7,239.0L383.3,238.9L383.9,239.4L384.5,240.1L385.1,241.3L385.7,239.7L386.3,239.3L386.9,241.6L387.5,240.8L388.1,242.0L388.7,242.0L389.3,242.6L389.9,242.7L390.5,241.9L391.1,241.3L391.7,242.8L392.3,243.8L392.9,242.3L393.5,244.0L394.1,243.3L394.7,244.0L395.3,244.0L395.9,244.6L396.5,242.7L397.1,244.7L397.7,244.0L398.3,243.7L398.9,243.2L399.5,243.8L400.1,243.5L400.7,246.0L401.3,245.1L401.9,246.5L402.5,245.5L403.1,245.0L403.7,246.5L404.3,245.2L404.9,245.8L405.5,247.1L406.1,247.5L406.7,246.3L407.3,245.9L407.9,246.8L408.5,248.3L409.1,248.1L409.7,248.7L410.3,247.6L410.9,249.3L411.5,248.3L412.1,248.5L412.7,249.8L413.3,248.9L413.9,249.9L414.5,249.9L415.1,248.3L415.7,249.7L416.3,250.4L416.9,249.8L417.5,249.3L418.1,248.8L418.7,250.4L419.3,249.6L419.9,250.4L420.5,250.1L421.1,250.9L421.7,250.1L422.3,249.4L422.9,251.6L423.5,250.4L424.1,252.2L424.7,250.4L425.3,252.3L425.9,252.3L426.5,250.2L427.1,251.7L427.7,251.1L428.3,252.2L428.9,251.8L429.5,252.5L430.1,250.4L430.7,251.6L431.3,252.0L431.9,250.0L432.5,250.1L433.1,251.9L433.7,250.8L434.3,250.8L434.9,251.3L435.5,251.3L436.1,251.5L436.7,252.2L437.3,250.7L437.9,251.8L438.5,251.3L439.1,251.2L439.7,250.9L440.3,251.6L440.9,250.6L441.5,250.3L442.1,251.9L442.7,251.3L443.3,251.1L443.9,251.6L444.5,250.8L445.1,250.8L445.7,251.4L446.3,252.9L446.9,251.1L447.5,252.8L448.1,251.8L448.7,250.9L449.3,252.9L449.9,251.9L450.5,253.2L451.1,252.1L451.7,251.2L452.3,252.8L452.9,253.3L453.5,252.0L454.1,252.1L454.7,251.4L455.3,252.7L455.9,253.6L456.5,253.5L457.1,253.1L457.7,253.7L458.3,252.9L458.9,253.3L459.5,252.6L460.1,251.6L460.7,251.8L461.3,251.6L461.9,253.3L462.5,251.3L463.1,252.6L463.7,252.0L464.3,253.0L464.9,252.2L465.5,252.2L466.1,250.8L466.7,251.2L467.3,252.9L467.9,252.0L468.5,249.2L469.1,244.9L469.7,236.1L470.3,225.6L470.9,219.7L471.5,214.6L472.1,209.8L472.7,207.0L473.3,203.9L473.9,203.0L474.5,200.5L475.1,199.2L475.7,197.5L476.3,199.0L476.9,197.0L477.5,197.7L478.1,195.1L478.7,195.1L479.3,195.1L479.9,195.0L480.5,195.3L481.1,196.2L481.7,195.1L482.3,196.5L482.9,196.3L483.5,196.1L484.1,194.5L484.7,195.4L485.3,195.1L485.9,193.9L486.5,194.3L487.1,194.8L487.7,194.7L488.3,193.7L488.9,195.7L489.5,193.5L490.1,194.6" fill="none" stroke="#aaaaaa" stroke-width="1.6" stroke-linejoin="round"/>
<path d="M356.8,192.2L357.4,191.7L358.0,192.5L358.6,191.0L359.2,191.6L359.8,193.8L360.4,194.4L361.0,195.6L361.6,196.9L362.2,197.0L362.8,198.6L363.4,199.5L364.0,201.3L364.6,201.9L365.2,205.2L365.8,205.5L366.4,207.8L367.0,209.0L367.6,209.8L368.2,211.0L368.8,212.8L369.4,215.4L370.0,217.0L370.6,217.8L371.2,220.3L371.8,220.8L372.4,223.0L373.0,224.3L373.6,225.8L374.2,227.3L374.8,226.1L375.4,227.8L376.0,229.3L376.6,229.6L377.2,231.0L377.8,231.2L378.4,231.9L379.0,232.2L379.6,233.4L380.2,234.4L380.8,235.7L381.4,235.4L382.0,237.5L382.6,236.1L383.2,237.0L383.8,238.1L384.4,237.8L385.0,239.5L385.6,239.1L386.2,239.4L386.8,239.7L387.4,239.5L388.0,239.0L388.6,241.7L389.2,240.9L389.8,242.3L390.4,240.7L391.0,241.2L391.6,240.7L392.2,242.0L392.8,243.3L393.4,242.9L394.0,242.6L394.6,243.0L395.2,244.0L395.8,243.1L396.4,244.4L397.0,244.1L397.6,244.3L398.2,243.4L398.8,243.6L399.4,244.1L400.0,243.3L400.6,244.3L401.2,243.2L401.8,244.5L402.4,245.4L403.0,244.3L403.6,246.3L404.2,245.7L404.8,240.5L405.4,232.0L406.0,222.3L406.6,217.3L407.2,211.9L407.8,210.5L408.4,207.1L409.0,203.8L409.6,202.7L410.2,200.9L410.8,198.8L411.4,198.2L412.0,197.8L412.6,197.6L413.2,197.2L413.8,197.3L414.4,196.8L415.0,196.0L415.6,196.4L416.2,194.9L416.8,196.8L417.4,196.1L418.0,194.9L418.6,194.9L419.2,196.1L419.8,195.2L420.4,195.6L421.0,194.4L421.6,195.7L422.2,194.5L422.8,195.2L423.4,195.9L424.0,194.8L424.6,195.3L425.2,195.1L425.8,194.9L426.4,193.2L427.0,194.3L427.6,195.5L428.2,194.9L428.8,194.9L429.4,194.3L430.0,194.7L430.6,194.6L431.2,193.9L431.8,195.8L432.4,197.1L433.0,199.1L433.6,198.7L434.2,201.7L434.8,201.7L435.4,205.9L436.0,205.5L436.6,207.0L437.2,209.5L437.8,210.9L438.4,214.1L439.0,215.2L439.6,217.9L440.2,220.1L440.8,221.8L441.4,222.9L442.0,222.7L442.6,224.4L443.2,225.8L443.8,227.0L444.4,228.8L445.0,229.4L445.6,229.7L446.2,230.2L446.8,233.1L447.4,232.4L448.0,233.1L448.6,234.8L449.2,235.2L449.8,235.6L450.4,236.4L451.0,236.7L451.6,236.3L452.2,236.9L452.8,238.1L453.4,237.7L454.0,240.1L454.6,238.8L455.2,239.2L455.8,239.5L456.4,241.2L457.0,240.5L457.6,241.0L458.2,242.9L458.8,242.9L459.4,241.9L460.0,241.8L460.6,243.6L461.2,243.1L461.8,244.9L462.4,244.7L463.0,245.3L463.6,245.1L464.2,244.0L464.8,244.3L465.4,245.6L466.0,244.9L466.6,245.4L467.2,245.1L467.8,246.0L468.4,245.5L469.0,246.6L469.6,247.9L470.2,247.5L470.8,246.1L471.4,244.5L472.0,235.4L472.6,226.0L473.2,218.9L473.8,214.2L474.4,210.2L475.0,205.4L475.6,204.0L476.2,202.5L476.8,198.7L477.4,199.5L478.0,197.0L478.6,197.8L479.2,198.3L479.8,196.4L480.4,197.3L481.0,197.1L481.6,195.9L482.2,195.0L482.8,196.9L483.4,195.1L484.0,195.9L484.6,196.4L485.2,194.2L485.8,195.4L486.4,195.2L487.0,195.6L487.6,196.1L488.2,195.9L488.8,193.9L489.4,195.7L490.0,193.8L490.6,195.6L491.2,195.8L491.8,194.0L492.4,194.2" fill="none" stroke="#b0b0b0" stroke-width="1.6" stroke-linejoin="round"/>
<path d="M357.6,195.0L358.2,195.1L358.8,193.0L359.4,195.0L360.0,194.4L360.6,197.2L361.2,196.2L361.8,199.1L362.4,198.9L363.0,199.8L363.6,201.9L364.2,203.0L364.8,203.5L365.4,204.2L366.0,205.5L366.6,207.2L367.2,209.5L367.8,210.5L368.4,212.1L369.0,215.3L369.6,217.2L370.2,218.3L370.8,220.3L371.4,220.3L372.0,223.5L372.6,224.8L373.2,225.9L373.8,226.3L374.4,226.4L375.0,229.1L375.6,228.8L376.2,229.7L376.8,231.2L377.4,232.0L378.0,233.0L378.6,233.7L379.2,235.7L379.8,237.0L380.4,236.0L381.0,237.9L381.6,236.7L382.2,239.0L382.8,239.6L383.4,238.4L384.0,239.0L384.6,239.9L385.2,240.6L385.8,241.3L386.4,242.7L387.0,242.5L387.6,241.8L388.2,241.6L388.8,243.9L389.4,242.6L390.0,243.7L390.6,243.0L391.2,243.0L391.8,243.3L392.4,245.0L393.0,244.9L393.6,244.6L394.2,245.2L394.8,245.2L395.4,245.6L396.0,246.1L396.6,245.1L397.2,245.3L397.8,246.7L398.4,247.1L399.0,245.2L399.6,246.3L400.2,247.1L400.8,245.6L401.4,246.9L402.0,245.8L402.6,247.2L403.2,247.3L403.8,247.6L404.4,246.7L405.0,247.3L405.6,248.0L406.2,247.1L406.8,247.6L407.4,248.7L408.0,247.6L408.6,248.9L409.2,249.9L409.8,249.1L410.4,249.5L411.0,249.5L411.6,248.7L412.2,249.9L412.8,251.0L413.4,251.0L414.0,250.4L414.6,251.7L415.2,251.7L415.8,251.4L416.4,250.2L417.0,251.2L417.6,250.7L418.2,253.2L418.8,253.1L419.4,251.0L420.0,253.3L420.6,251.1L421.2,252.2L421.8,253.2L422.4,253.3L423.0,254.0L423.6,253.2L424.2,252.7L424.8,254.3L425.4,252.8L426.0,254.2L426.6,254.4L427.2,253.1L427.8,254.0L428.4,254.0L429.0,253.8L429.6,254.2L430.2,253.5L430.8,253.1L431.4,254.0L432.0,254.0L432.6,254.5L433.2,253.1L433.8,252.5L434.4,252.6L435.0,253.2L435.6,254.2L436.2,253.8L436.8,253.8L437.4,254.5L438.0,253.0L438.6,253.2L439.2,253.0L439.8,254.7L440.4,254.2L441.0,252.6L441.6,254.5L442.2,253.5L442.8,254.4L443.4,254.7L444.0,252.5L444.6,253.0L445.2,252.8L445.8,252.7L446.4,254.1L447.0,254.5L447.6,252.8L448.2,254.6L448.8,253.8L449.4,253.4L450.0,253.5L450.6,255.2L451.2,253.2L451.8,254.4L452.4,254.0L453.0,255.4L453.6,255.3L454.2,254.3L454.8,255.1L455.4,255.3L456.0,254.5L456.6,254.5L457.2,254.1L457.8,255.5L458.4,254.3L459.0,254.6L459.6,253.9L460.2,256.2L460.8,256.1L461.4,256.1L462.0,255.4L462.6,254.9L463.2,255.1L463.8,256.3L464.4,256.2L465.0,255.5L465.6,255.8L466.2,254.5L466.8,254.6L467.4,253.8L468.0,254.3L468.6,255.1L469.2,254.3L469.8,255.2L470.4,253.6L471.0,254.5L471.6,252.4L472.2,247.8L472.8,237.9L473.4,230.5L474.0,221.1L474.6,215.8L475.2,211.8L475.8,208.3L476.4,207.2L477.0,205.6L477.6,203.2L478.2,200.3L478.8,201.4L479.4,199.5L480.0,199.1L480.6,199.6L481.2,199.0L481.8,199.6L482.4,197.7L483.0,199.1L483.6,198.9L484.2,198.3L484.8,198.0L485.4,198.9L486.0,197.4L486.6,198.9L487.2,196.4L487.8,198.7L488.4,198.7L489.0,196.4L489.6,198.7L490.2,197.2L490.8,196.5L491.4,197.4L492.0,196.3L492.6,198.0L493.2,196.9" fill="none" stroke="#aaaaaa" stroke-width="1.6" stroke-linejoin="round"/>
<path d="M357.0,190.4L357.6,190.1L358.2,190.1L358.8,191.2L359.4,191.8L360.0,191.4L360.6,194.5L361.2,194.1L361.8,196.1L362.4,197.3L363.0,196.9L363.6,198.2L364.2,200.1L364.8,200.7L365.4,202.0L366.0,203.9L366.6,207.2L367.2,207.8L367.8,209.1L368.4,210.2L369.0,212.5L369.6,214.3L370.2,216.9L370.8,217.6L371.4,219.4L372.0,220.7L372.6,220.8L373.2,223.5L373.8,225.1L374.4,225.4L375.0,226.1L375.6,226.2L376.2,228.8L376.8,228.2L377.4,230.6L378.0,230.7L378.6,232.6L379.2,232.3L379.8,233.3L380.4,232.5L381.0,233.2L381.6,236.0L382.2,236.7L382.8,236.4L383.4,237.1L384.0,236.6L384.6,238.2L385.2,237.1L385.8,238.6L386.4,237.1L387.0,238.7L387.6,238.6L388.2,239.6L388.8,240.0L389.4,240.1L390.0,240.1L390.6,240.4L391.2,239.3L391.8,241.0L392.4,239.8L393.0,241.3L393.6,240.9L394.2,242.9L394.8,240.6L395.4,242.9L396.0,242.7L396.6,243.1L397.2,243.5L397.8,241.6L398.4,241.7L399.0,241.9L399.6,242.2L400.2,243.1L400.8,244.0L401.4,242.7L402.0,243.2L402.6,243.3L403.2,243.6L403.8,244.2L404.4,245.5L405.0,239.8L405.6,230.3L406.2,222.4L406.8,215.9L407.4,212.3L408.0,209.0L408.6,204.4L409.2,203.2L409.8,201.8L410.4,198.8L411.0,197.7L411.6,197.3L412.2,197.2L412.8,196.4L413.4,197.0L414.0,196.2L414.6,196.6L415.2,194.4L415.8,195.2L416.4,193.6L417.0,193.8L417.6,195.4L418.2,195.4L418.8,194.2L419.4,193.0L420.0,193.0L420.6,195.1L421.2,195.0L421.8,194.0L422.4,192.6L423.0,194.9L423.6,193.2L424.2,194.8L424.8,193.8L425.4,194.2L426.0,194.0L426.6,193.1L427.2,192.2L427.8,192.4L428.4,192.5L429.0,194.0L429.6,192.8L430.2,194.2L430.8,193.0L431.4,194.4L432.0,193.5L432.6,197.1L433.2,197.8L433.8,198.6L434.4,201.4L435.0,200.8L435.6,203.5L436.2,206.3L436.8,206.8L437.4,209.7L438.0,212.0L438.6,212.4L439.2,215.1L439.8,215.0L440.4,217.4L441.0,221.1L441.6,221.3L442.2,222.4L442.8,225.5L443.4,225.4L444.0,226.9L444.6,227.8L445.2,227.2L445.8,229.5L446.4,230.8L447.0,231.5L447.6,230.8L448.2,231.5L448.8,233.6L449.4,234.0L450.0,234.9L450.6,234.4L451.2,234.4L451.8,234.8L452.4,236.0L453.0,236.6L453.6,236.8L454.2,236.9L454.8,237.5L455.4,238.6L456.0,239.4L456.6,239.4L457.2,238.8L457.8,240.0L458.4,239.7L459.0,241.3L459.6,241.0L460.2,241.5L460.8,241.6L461.4,242.1L462.0,241.5L462.6,243.9L463.2,244.1L463.8,244.6L464.4,243.8L465.0,242.9L465.6,243.7L466.2,243.3L466.8,244.0L467.4,244.8L468.0,243.9L468.6,245.1L469.2,245.3L469.8,245.7L470.4,244.9L471.0,245.4L471.6,242.5L472.2,234.5L472.8,225.9L473.4,216.6L474.0,212.1L474.6,208.3L475.2,206.7L475.8,202.8L476.4,201.3L477.0,199.5L477.6,197.4L478.2,196.8L478.8,197.5L479.4,197.1L480.0,196.8L480.6,194.2L481.2,194.6L481.8,196.1L482.4,194.0L483.0,194.2L483.6,195.8L484.2,195.7L484.8,193.8L485.4,194.8L486.0,194.2L486.6,194.3L487.2,193.4L487.8,193.6L488.4,194.7L489.0,193.5L489.6,192.7L490.2,193.8L490.8,193.8L491.4,193.6L492.0,193.8L492.6,193.3" fill="none" stroke="#b0b0b0" stroke-width="1.6" stroke-linejoin="round"/>
<path d="M357.6,191.7L358.2,191.2L358.8,191.0L359.4,192.5L360.0,193.5L360.6,194.0L361.2,193.8L361.8,195.0L362.4,196.4L363.0,196.4L363.6,198.5L364.2,199.8L364.8,201.5L365.4,201.2L366.0,205.1L366.6,205.3L367.2,206.6L367.8,208.4L368.4,211.2L369.0,212.4L369.6,213.9L370.2,216.1L370.8,216.5L371.4,219.4L372.0,219.9L372.6,221.4L373.2,221.2L373.8,224.2L374.4,225.1L375.0,225.5L375.6,227.3L376.2,226.7L376.8,230.2L377.4,230.4L378.0,230.6L378.6,232.2L379.2,233.5L379.8,232.9L380.4,232.5L381.0,233.9L381.6,235.3L382.2,235.9L382.8,236.5L383.4,237.0L384.0,237.1L384.6,237.4L385.2,238.8L385.8,238.8L386.4,238.9L387.0,238.8L387.6,238.3L388.2,238.8L388.8,239.9L389.4,241.6L390.0,239.7L390.6,242.1L391.2,240.3L391.8,240.9L392.4,241.5L393.0,241.1L393.6,242.0L394.2,242.2L394.8,242.3L395.4,243.2L396.0,242.5L396.6,242.5L397.2,244.0L397.8,242.3L398.4,244.3L399.0,243.9L399.6,244.1L400.2,242.9L400.8,245.2L401.4,243.4L402.0,243.3L402.6,243.4L403.2,244.6L403.8,245.9L404.4,244.1L405.0,244.8L405.6,244.4L406.2,245.8L406.8,245.4L407.4,244.5L408.0,246.2L408.6,245.3L409.2,246.6L409.8,246.2L410.4,247.2L411.0,246.1L411.6,247.7L412.2,248.1L412.8,246.3L413.4,246.6L414.0,248.8L414.6,247.3L415.2,247.8L415.8,248.4L416.4,248.1L417.0,249.8L417.6,249.1L418.2,249.5L418.8,249.5L419.4,249.6L420.0,249.7L420.6,249.2L421.2,250.6L421.8,250.1L422.4,250.7L423.0,250.5L423.6,249.5L424.2,250.5L424.8,249.2L425.4,249.4L426.0,249.5L426.6,250.1L427.2,249.8L427.8,251.3L428.4,250.9L429.0,250.7L429.6,250.1L430.2,250.9L430.8,250.4L431.4,251.5L432.0,251.7L432.6,251.5L433.2,252.4L433.8,251.2L434.4,251.0L435.0,250.1L435.6,250.5L436.2,250.8L436.8,249.8L437.4,250.5L438.0,249.6L438.6,249.9L439.2,251.6L439.8,252.0L440.4,250.9L441.0,250.9L441.6,251.4L442.2,250.7L442.8,251.8L443.4,251.0L444.0,249.9L444.6,249.8L445.2,251.8L445.8,250.6L446.4,250.6L447.0,251.3L447.6,250.3L448.2,251.1L448.8,251.9L449.4,252.1L450.0,251.6L450.6,250.5L451.2,250.6L451.8,252.4L452.4,252.6L453.0,251.5L453.6,252.7L454.2,250.8L454.8,252.6L455.4,252.3L456.0,253.5L456.6,251.3L457.2,253.2L457.8,253.0L458.4,251.8L459.0,253.6L459.6,252.2L460.2,251.9L460.8,253.1L461.4,252.2L462.0,253.6L462.6,253.0L463.2,251.6L463.8,253.1L464.4,252.6L465.0,251.9L465.6,252.9L466.2,252.6L466.8,251.2L467.4,251.0L468.0,251.1L468.6,251.0L469.2,250.5L469.8,251.1L470.4,250.8L471.0,251.4L471.6,248.4L472.2,244.5L472.8,234.5L473.4,225.9L474.0,219.2L474.6,215.2L475.2,210.1L475.8,205.3L476.4,205.3L477.0,202.5L477.6,200.6L478.2,199.9L478.8,199.0L479.4,196.6L480.0,197.9L480.6,195.8L481.2,196.6L481.8,196.7L482.4,196.4L483.0,196.1L483.6,195.5L484.2,195.6L484.8,194.7L485.4,194.9L486.0,195.0L486.6,195.4L487.2,195.9L487.8,193.8L488.4,194.8L489.0,194.1L489.6,195.7L490.2,194.2L490.8,195.6L491.4,193.9L492.0,193.0L492.6,194.8L493.2,194.6" fill="none" stroke="#aaaaaa" stroke-width="1.6" stroke-linejoin="round"/>
<path d="M356.9,191.1L357.5,190.5L358.1,189.9L358.7,191.7L359.3,191.4L359.9,192.6L360.5,192.8L361.1,194.0L361.7,196.4L362.3,196.1L362.9,197.8L363.5,199.0L364.1,200.3L364.7,201.4L365.3,203.8L365.9,203.7L366.5,205.3L367.1,208.6L367.7,209.6L368.3,210.5L368.9,214.2L369.5,214.8L370.1,215.1L370.7,219.1L371.3,218.6L371.9,221.1L372.5,220.8L373.1,223.4L373.7,223.4L374.3,226.6L374.9,225.8L375.5,227.8L376.1,227.8L376.7,229.1L377.3,231.4L377.9,230.2L378.5,231.6L379.1,232.1L379.7,233.8L380.3,233.4L380.9,235.2L381.5,235.9L382.1,234.6L382.7,236.3L383.3,235.8L383.9,236.5L384.5,238.1L385.1,236.8L385.7,239.0L386.3,239.6L386.9,240.3L387.5,239.1L388.1,238.7L388.7,238.8L389.3,239.9L389.9,241.1L390.5,239.7L391.1,240.5L391.7,242.2L392.3,240.4L392.9,242.3L393.5,242.5L394.1,241.1L394.7,243.5L395.3,241.5L395.9,242.7L396.5,241.4L397.1,243.2L397.7,242.8L398.3,243.6L398.9,243.5L399.5,242.4L400.1,243.2L400.7,244.0L401.3,244.6L401.9,242.8L402.5,243.0L403.1,244.8L403.7,244.6L404.3,244.2L404.9,242.0L405.5,229.7L406.1,220.9L406.7,215.3L407.3,210.6L407.9,208.8L408.5,206.0L409.1,204.2L409.7,202.7L410.3,200.8L410.9,200.3L411.5,198.9L412.1,197.1L412.7,197.0L413.3,196.7L413.9,197.0L414.5,195.5L415.1,194.6L415.7,196.5L416.3,196.3L416.9,194.9L417.5,193.8L418.1,194.7L418.7,194.9L419.3,194.6L419.9,195.7L420.5,195.6L421.1,195.4L421.7,193.2L422.3,195.1L422.9,194.3L423.5,193.7L424.1,194.4L424.7,194.6L425.3,195.0L425.9,194.5L426.5,192.5L427.1,192.5L427.7,193.0L428.3,192.3L428.9,192.3L429.5,194.2L430.1,193.5L430.7,194.1L431.3,194.1L431.9,194.6L432.5,196.7L433.1,196.4L433.7,199.0L434.3,200.9L434.9,201.7L435.5,203.6L436.1,205.8L436.7,206.8L437.3,210.2L437.9,211.3L438.5,212.7L439.1,215.1L439.7,217.4L440.3,218.8L440.9,219.0L441.5,222.2L442.1,223.8L442.7,225.6L443.3,224.8L443.9,225.7L444.5,227.6L445.1,228.5L445.7,229.8L446.3,229.9L446.9,232.0L447.5,232.8L448.1,231.8L448.7,233.9L449.3,234.5L449.9,233.7L450.5,236.4L451.1,235.9L451.7,237.1L452.3,237.5L452.9,236.5L453.5,236.8L454.1,239.0L454.7,238.1L455.3,240.1L455.9,240.3L456.5,238.8L457.1,241.1L457.7,240.1L458.3,239.9L458.9,242.0L459.5,242.0L460.1,241.0L460.7,242.4L461.3,242.4L461.9,243.0L462.5,243.4L463.1,243.1L463.7,243.0L464.3,242.9L464.9,244.4L465.5,245.0L466.1,243.9L466.7,244.9L467.3,243.9L467.9,246.3L468.5,244.9L469.1,245.8L469.7,245.8L470.3,245.4L470.9,247.5L471.5,244.5L472.1,234.7L472.7,227.1L473.3,218.4L473.9,213.3L474.5,208.7L475.1,205.7L475.7,204.2L476.3,200.7L476.9,197.9L477.5,197.8L478.1,197.6L478.7,198.1L479.3,195.7L479.9,196.7L480.5,196.8L481.1,196.6L481.7,194.2L482.3,195.1L482.9,194.5L483.5,195.8L484.1,194.4L484.7,194.8L485.3,193.3L485.9,193.8L486.5,194.6L487.1,193.9L487.7,194.6L488.3,194.1L488.9,194.4L489.5,194.0L490.1,194.7L490.7,193.1L491.3,194.8L491.9,194.3L492.5,192.8" fill="none" stroke="#b0b0b0" stroke-width="1.6" stroke-linejoin="round"/>
<path d="M354.3,190.2L354.9,190.6L355.5,192.1L356.1,192.7L356.7,193.5L357.3,191.7L357.9,194.2L358.5,195.7L359.1,196.3L359.7,195.7L360.3,197.8L360.9,198.3L361.5,200.5L362.1,200.9L362.7,204.8L363.3,205.6L363.9,205.5L364.5,209.2L365.1,210.9L365.7,211.7L366.3,214.0L366.9,214.8L367.5,217.8L368.1,217.0L368.7,218.5L369.3,219.8L369.9,222.8L370.5,222.1L371.1,224.6L371.7,225.5L372.3,227.8L372.9,226.9L373.5,228.0L374.1,229.1L374.7,231.4L375.3,231.8L375.9,232.7L376.5,232.3L377.1,232.9L377.7,233.1L378.3,234.2L378.9,236.3L379.5,236.3L380.1,235.6L380.7,236.1L381.3,237.3L381.9,237.6L382.5,238.4L383.1,239.9L383.7,238.2L384.3,238.7L384.9,238.9L385.5,238.8L386.1,239.2L386.7,240.9L387.3,241.5L387.9,241.4L388.5,239.9L389.1,242.2L389.7,241.1L390.3,240.7L390.9,241.4L391.5,241.8L392.1,242.5L392.7,243.1L393.3,242.2L393.9,244.2L394.5,241.8L395.1,242.9L395.7,243.1L396.3,244.0L396.9,242.8L397.5,243.5L398.1,244.5L398.7,242.9L399.3,242.8L399.9,245.1L400.5,245.6L401.1,243.6L401.7,245.6L402.3,244.6L402.9,245.4L403.5,245.7L404.1,245.7L404.7,245.0L405.3,246.7L405.9,244.8L406.5,245.1L407.1,247.5L407.7,246.4L408.3,245.8L408.9,248.0L409.5,248.0L410.1,247.0L410.7,246.4L411.3,247.7L411.9,247.1L412.5,248.4L413.1,249.2L413.7,248.3L414.3,247.5L414.9,249.3L415.5,248.1L416.1,248.3L416.7,248.4L417.3,248.7L417.9,250.4L418.5,248.3L419.1,249.9L419.7,249.0L420.3,249.2L420.9,249.6L421.5,250.1L422.1,248.9L422.7,249.6L423.3,249.3L423.9,249.6L424.5,251.5L425.1,250.6L425.7,251.0L426.3,251.6L426.9,251.6L427.5,252.2L428.1,251.6L428.7,250.5L429.3,251.0L429.9,250.8L430.5,251.9L431.1,250.8L431.7,250.4L432.3,249.9L432.9,250.2L433.5,249.9L434.1,251.6L434.7,251.3L435.3,249.4L435.9,251.8L436.5,250.6L437.1,251.3L437.7,251.9L438.3,251.8L438.9,249.6L439.5,251.1L440.1,250.1L440.7,251.6L441.3,251.9L441.9,249.6L442.5,252.1L443.1,250.1L443.7,251.8L444.3,251.7L444.9,250.6L445.5,251.9L446.1,252.0L446.7,250.3L447.3,251.5L447.9,252.1L448.5,251.9L449.1,252.6L449.7,250.3L450.3,252.1L450.9,252.9L451.5,251.9L452.1,252.0L452.7,251.1L453.3,253.3L453.9,253.0L454.5,252.0L455.1,251.5L455.7,252.0L456.3,251.0L456.9,251.3L457.5,251.3L458.1,252.1L458.7,250.7L459.3,253.1L459.9,251.3L460.5,251.1L461.1,252.6L461.7,253.1L462.3,252.9L462.9,251.5L463.5,250.6L464.1,251.9L464.7,252.7L465.3,252.2L465.9,252.2L466.5,252.1L467.1,252.3L467.7,250.6L468.3,249.8L468.9,243.4L469.5,233.7L470.1,225.7L470.7,217.0L471.3,212.8L471.9,210.6L472.5,206.8L473.1,205.0L473.7,201.9L474.3,198.4L474.9,199.6L475.5,198.3L476.1,198.4L476.7,197.4L477.3,195.4L477.9,196.0L478.5,194.8L479.1,195.0L479.7,195.9L480.3,194.3L480.9,195.7L481.5,196.2L482.1,196.1L482.7,194.5L483.3,196.0L483.9,195.9L484.5,193.3L485.1,194.8L485.7,195.5L486.3,195.5L486.9,193.5L487.5,194.3L488.1,195.2L488.7,193.1L489.3,194.5L489.9,193.0" fill="none" stroke="#aaaaaa" stroke-width="1.6" stroke-linejoin="round"/>
<path d="M357.7,190.4L358.3,188.5L358.9,190.3L359.5,190.6L360.1,191.9L360.7,191.3L361.3,191.6L361.9,192.6L362.5,193.1L363.1,194.6L363.7,195.2L364.3,196.2L364.9,198.7L365.5,201.1L366.1,203.2L366.7,204.5L367.3,205.1L367.9,206.3L368.5,208.5L369.1,209.1L369.7,211.9L370.3,214.6L370.9,215.5L371.5,217.1L372.1,217.2L372.7,218.2L373.3,221.4L373.9,221.2L374.5,222.5L375.1,225.3L375.7,224.0L376.3,225.3L376.9,226.8L377.5,228.7L378.1,229.2L378.7,230.8L379.3,229.5L379.9,231.5L380.5,232.3L381.1,232.7L381.7,232.2L382.3,235.3L382.9,233.7L383.5,236.0L384.1,234.6L384.7,234.9L385.3,235.6L385.9,236.0L386.5,237.7L387.1,238.0L387.7,238.3L388.3,237.4L388.9,237.7L389.5,237.9L390.1,237.7L390.7,239.4L391.3,240.3L391.9,238.7L392.5,239.5L393.1,239.9L393.7,239.8L394.3,240.9L394.9,241.0L395.5,240.2L396.1,239.9L396.7,240.4L397.3,240.9L397.9,240.4L398.5,242.5L399.1,241.3L399.7,241.6L400.3,242.0L400.9,242.5L401.5,241.2L402.1,242.5L402.7,241.7L403.3,243.7L403.9,242.5L404.5,242.9L405.1,242.6L405.7,239.4L406.3,228.1L406.9,220.0L407.5,213.4L408.1,211.1L408.7,207.8L409.3,203.4L409.9,202.2L410.5,200.8L411.1,200.2L411.7,198.3L412.3,197.3L412.9,197.1L413.5,196.5L414.1,195.1L414.7,195.1L415.3,195.7L415.9,194.4L416.5,195.1L417.1,193.8L417.7,192.5L418.3,194.5L418.9,194.0L419.5,193.3L420.1,194.3L420.7,193.9L421.3,193.5L421.9,193.3L422.5,191.9L423.1,193.5L423.7,191.9L424.3,194.0L424.9,193.9L425.5,193.4L426.1,191.6L426.7,192.3L427.3,193.7L427.9,192.2L428.5,193.6L429.1,192.6L429.7,193.0L430.3,191.5L430.9,193.2L431.5,193.5L432.1,191.6L432.7,193.2L433.3,194.6L433.9,195.8L434.5,197.0L435.1,199.1L435.7,202.0L436.3,203.5L436.9,204.8L437.5,206.3L438.1,207.9L438.7,209.6L439.3,210.8L439.9,213.7L440.5,215.9L441.1,218.2L441.7,220.0L442.3,220.5L442.9,220.8L443.5,222.8L444.1,224.7L444.7,225.1L445.3,226.2L445.9,227.0L446.5,228.2L447.1,229.4L447.7,228.8L448.3,230.3L448.9,230.6L449.5,232.4L450.1,233.2L450.7,232.1L451.3,234.9L451.9,234.1L452.5,234.4L453.1,236.2L453.7,237.1L454.3,237.5L454.9,235.7L455.5,238.2L456.1,237.3L456.7,237.7L457.3,238.7L457.9,239.5L458.5,238.4L459.1,240.7L459.7,239.2L460.3,241.7L460.9,240.7L461.5,242.0L462.1,240.8L462.7,241.4L463.3,242.3L463.9,241.3L464.5,241.6L465.1,243.5L465.7,243.5L466.3,243.8L466.9,244.3L467.5,244.4L468.1,243.9L468.7,243.2L469.3,243.8L469.9,244.5L470.5,243.8L471.1,245.9L471.7,246.1L472.3,241.0L472.9,232.4L473.5,225.6L474.1,217.3L474.7,211.5L475.3,207.8L475.9,205.7L476.5,202.8L477.1,199.4L477.7,198.6L478.3,196.9L478.9,196.7L479.5,194.8L480.1,194.0L480.7,194.3L481.3,194.5L481.9,193.3L482.5,194.9L483.1,194.1L483.7,193.4L484.3,192.7L484.9,194.5L485.5,194.0L486.1,193.8L486.7,192.7L487.3,192.9L487.9,192.2L488.5,193.2L489.1,194.1L489.7,193.8L490.3,193.1L490.9,193.1L491.5,192.0L492.1,192.3L492.7,191.1L493.3,192.9" fill="none" stroke="#b0b0b0" stroke-width="1.6" stroke-linejoin="round"/>
<path d="M357.0,189.7L357.6,189.2L358.2,189.3L358.8,188.3L359.4,189.5L360.0,191.5L360.6,191.0L361.2,193.8L361.8,193.9L362.4,194.4L363.0,195.2L363.6,196.4L364.2,197.7L364.8,199.7L365.4,201.8L366.0,203.7L366.6,204.1L367.2,204.9L367.8,207.7L368.4,209.9L369.0,212.1L369.6,212.6L370.2,214.8L370.8,216.2L371.4,216.8L372.0,217.6L372.6,218.7L373.2,222.3L373.8,222.6L374.4,224.4L375.0,223.8L375.6,226.0L376.2,227.4L376.8,226.9L377.4,227.5L378.0,229.8L378.6,230.9L379.2,231.4L379.8,232.1L380.4,232.3L381.0,233.2L381.6,233.9L382.2,234.4L382.8,234.7L383.4,236.0L384.0,234.6L384.6,235.4L385.2,235.8L385.8,235.2L386.4,237.3L387.0,237.2L387.6,236.5L388.2,238.2L388.8,237.2L389.4,238.3L390.0,239.2L390.6,239.8L391.2,239.4L391.8,239.2L392.4,240.3L393.0,240.5L393.6,240.8L394.2,239.2L394.8,239.2L395.4,239.5L396.0,239.9L396.6,241.5L397.2,241.5L397.8,240.1L398.4,241.5L399.0,240.7L399.6,240.2L400.2,241.0L400.8,242.2L401.4,241.1L402.0,242.6L402.6,241.6L403.2,241.6L403.8,241.8L404.4,243.4L405.0,242.6L405.6,243.8L406.2,243.3L406.8,244.4L407.4,242.3L408.0,244.7L408.6,243.8L409.2,245.0L409.8,243.9L410.4,243.9L411.0,243.4L411.6,245.7L412.2,244.0L412.8,244.4L413.4,245.1L414.0,245.8L414.6,246.8L415.2,245.9L415.8,245.7L416.4,246.9L417.0,247.3L417.6,246.6L418.2,247.1L418.8,246.0L419.4,247.3L420.0,245.8L420.6,246.6L421.2,247.9L421.8,246.5L422.4,248.2L423.0,247.5L423.6,248.4L424.2,246.7L424.8,248.2L425.4,248.3L426.0,247.8L426.6,249.4L427.2,248.0L427.8,247.2L428.4,247.7L429.0,248.2L429.6,247.4L430.2,248.3L430.8,249.6L431.4,247.9L432.0,249.1L432.6,248.9L433.2,247.9L433.8,249.1L434.4,248.1L435.0,247.5L435.6,248.2L436.2,248.7L436.8,247.5L437.4,249.2L438.0,247.8L438.6,247.8L439.2,248.9L439.8,248.6L440.4,248.0L441.0,249.4L441.6,249.7L442.2,248.1L442.8,249.5L443.4,248.2L444.0,247.8L444.6,249.8L445.2,249.7L445.8,248.4L446.4,248.0L447.0,249.3L447.6,247.8L448.2,249.4L448.8,249.1L449.4,248.1L450.0,248.7L450.6,249.5L451.2,248.0L451.8,250.2L452.4,248.7L453.0,249.5L453.6,248.3L454.2,250.9L454.8,250.1L455.4,250.1L456.0,248.5L456.6,250.3L457.2,249.6L457.8,249.5L458.4,250.0L459.0,249.8L459.6,248.9L460.2,250.3L460.8,250.2L461.4,249.3L462.0,250.3L462.6,250.3L463.2,249.2L463.8,250.1L464.4,248.9L465.0,250.7L465.6,248.7L466.2,250.2L466.8,248.5L467.4,248.4L468.0,248.2L468.6,248.3L469.2,248.2L469.8,248.3L470.4,248.8L471.0,245.6L471.6,242.0L472.2,232.0L472.8,222.8L473.4,215.7L474.0,210.7L474.6,208.3L475.2,203.4L475.8,200.3L476.4,199.7L477.0,198.1L477.6,197.0L478.2,196.0L478.8,194.1L479.4,193.4L480.0,194.0L480.6,194.1L481.2,192.4L481.8,192.6L482.4,192.5L483.0,194.3L483.6,192.4L484.2,192.7L484.8,191.6L485.4,191.8L486.0,191.3L486.6,191.9L487.2,193.1L487.8,191.8L488.4,192.8L489.0,191.1L489.6,192.7L490.2,190.8L490.8,192.8L491.4,192.2L492.0,190.8L492.6,191.1" fill="none" stroke="#aaaaaa" stroke-width="1.6" stroke-linejoin="round"/>
<path d="M355.8,192.4L356.4,190.5L357.0,192.6L357.6,191.5L358.2,192.6L358.8,194.7L359.4,193.7L360.0,195.0L360.6,197.2L361.2,198.1L361.8,198.7L362.4,200.3L363.0,200.0L363.6,203.1L364.2,202.9L364.8,206.7L365.4,206.2L366.0,208.4L366.6,210.6L367.2,213.0L367.8,214.5L368.4,214.8L369.0,216.8L369.6,218.3L370.2,218.9L370.8,221.8L371.4,223.4L372.0,225.0L372.6,224.0L373.2,227.3L373.8,226.2L374.4,227.9L375.0,228.0L375.6,229.5L376.2,230.6L376.8,232.4L377.4,233.0L378.0,234.0L378.6,234.2L379.2,234.9L379.8,236.8L380.4,236.6L381.0,236.2L381.6,237.1L382.2,238.0L382.8,236.9L383.4,238.8L384.0,238.2L384.6,238.8L385.2,239.9L385.8,239.5L386.4,240.9L387.0,240.5L387.6,241.9L388.2,239.8L388.8,241.6L389.4,240.6L390.0,242.6L390.6,242.8L391.2,243.1L391.8,241.2L392.4,242.5L393.0,242.1L393.6,244.2L394.2,242.0L394.8,242.6L395.4,243.8L396.0,243.3L396.6,243.0L397.2,243.7L397.8,244.7L398.4,243.9L399.0,245.1L399.6,244.1L400.2,243.4L400.8,244.6L401.4,245.1L402.0,243.9L402.6,244.9L403.2,245.4L403.8,240.3L404.4,229.8L405.0,222.9L405.6,216.9L406.2,211.9L406.8,209.5L407.4,205.7L408.0,205.1L408.6,203.9L409.2,200.6L409.8,198.9L410.4,198.5L411.0,198.2L411.6,197.9L412.2,197.7L412.8,197.0L413.4,197.2L414.0,197.1L414.6,195.2L415.2,196.6L415.8,194.9L416.4,195.1L417.0,196.3L417.6,196.6L418.2,194.7L418.8,195.2L419.4,195.6L420.0,193.8L420.6,194.1L421.2,193.9L421.8,195.4L422.4,195.3L423.0,193.7L423.6,194.9L424.2,193.8L424.8,195.6L425.4,194.2L426.0,194.3L426.6,195.1L427.2,194.8L427.8,193.2L428.4,193.9L429.0,195.3L429.6,195.4L430.2,195.0L430.8,196.2L431.4,196.8L432.0,198.7L432.6,200.8L433.2,200.3L433.8,203.0L434.4,204.9L435.0,205.4L435.6,209.4L436.2,211.0L436.8,211.9L437.4,213.7L438.0,216.6L438.6,216.5L439.2,219.3L439.8,221.5L440.4,221.4L441.0,223.6L441.6,225.7L442.2,227.7L442.8,227.6L443.4,228.2L444.0,230.6L444.6,231.3L445.2,231.8L445.8,231.5L446.4,234.1L447.0,234.8L447.6,234.0L448.2,233.8L448.8,235.1L449.4,236.5L450.0,237.2L450.6,236.6L451.2,238.1L451.8,239.0L452.4,239.1L453.0,240.1L453.6,239.8L454.2,239.1L454.8,240.6L455.4,240.2L456.0,240.7L456.6,241.9L457.2,243.0L457.8,242.5L458.4,243.7L459.0,242.9L459.6,243.7L460.2,243.0L460.8,242.7L461.4,243.5L462.0,244.1L462.6,244.6L463.2,245.1L463.8,244.7L464.4,245.8L465.0,246.3L465.6,245.1L466.2,246.8L466.8,246.9L467.4,246.4L468.0,245.3L468.6,245.9L469.2,247.5L469.8,246.3L470.4,244.9L471.0,234.4L471.6,226.2L472.2,217.9L472.8,215.1L473.4,210.4L474.0,206.1L474.6,205.0L475.2,200.8L475.8,200.6L476.4,197.9L477.0,199.3L477.6,198.4L478.2,198.2L478.8,197.3L479.4,196.4L480.0,195.5L480.6,196.8L481.2,196.7L481.8,195.2L482.4,196.1L483.0,196.7L483.6,195.1L484.2,196.5L484.8,196.5L485.4,194.7L486.0,195.2L486.6,193.8L487.2,194.3L487.8,195.2L488.4,195.5L489.0,195.7L489.6,195.5L490.2,195.6L490.8,194.9L491.4,194.6" fill="none" stroke="#b0b0b0" stroke-width="1.6" stroke-linejoin="round"/>
<path d="M356.9,191.9L357.5,192.5L358.1,193.2L358.7,192.0L359.3,192.3L359.9,194.2L360.5,193.7L361.1,194.7L361.7,196.5L362.3,197.2L362.9,198.3L363.5,199.9L364.1,200.3L364.7,203.0L365.3,203.6L365.9,205.4L366.5,207.9L367.1,208.0L367.7,209.7L368.3,211.9L368.9,213.0L369.5,217.0L370.1,217.7L370.7,219.3L371.3,220.3L371.9,221.7L372.5,222.4L373.1,224.7L373.7,224.7L374.3,225.6L374.9,226.6L375.5,227.3L376.1,229.4L376.7,230.2L377.3,231.4L377.9,231.0L378.5,232.1L379.1,232.8L379.7,233.8L380.3,234.6L380.9,235.0L381.5,237.0L382.1,236.9L382.7,238.5L383.3,238.5L383.9,239.4L384.5,237.3L385.1,239.5L385.7,239.3L386.3,240.7L386.9,240.3L387.5,240.6L388.1,241.7L388.7,241.3L389.3,240.7L389.9,242.5L390.5,242.8L391.1,241.6L391.7,242.2L392.3,241.8L392.9,243.6L393.5,243.6L394.1,242.6L394.7,244.0L395.3,243.3L395.9,242.3L396.5,244.7L397.1,243.0L397.7,243.9L398.3,245.2L398.9,243.3L399.5,245.4L400.1,244.5L400.7,243.2L401.3,243.5L401.9,245.2L402.5,245.7L403.1,246.1L403.7,245.1L404.3,244.5L404.9,245.8L405.5,246.4L406.1,247.3L406.7,246.9L407.3,246.8L407.9,247.7L408.5,247.4L409.1,246.1L409.7,247.0L410.3,246.9L410.9,246.5L411.5,246.6L412.1,248.7L412.7,248.3L413.3,248.5L413.9,247.8L414.5,248.1L415.1,248.7L415.7,249.5L416.3,249.2L416.9,248.3L417.5,250.1L418.1,249.8L418.7,250.2L419.3,250.2L419.9,250.7L420.5,250.3L421.1,250.7L421.7,249.2L422.3,251.5L422.9,249.5L423.5,251.4L424.1,250.2L424.7,249.7L425.3,251.6L425.9,250.9L426.5,250.9L427.1,251.6L427.7,251.3L428.3,251.5L428.9,250.6L429.5,251.3L430.1,252.5L430.7,251.8L431.3,252.8L431.9,250.7L432.5,252.0L433.1,252.6L433.7,252.3L434.3,252.1L434.9,251.1L435.5,252.6L436.1,251.5L436.7,251.5L437.3,250.3L437.9,250.0L438.5,251.5L439.1,251.4L439.7,252.5L440.3,250.8L440.9,252.0L441.5,252.4L442.1,251.0L442.7,251.2L443.3,251.9L443.9,251.6L444.5,250.7L445.1,250.9L445.7,252.5L446.3,250.8L446.9,250.8L447.5,252.5L448.1,252.7L448.7,252.8L449.3,253.1L449.9,253.3L450.5,252.0L451.1,252.3L451.7,251.7L452.3,251.2L452.9,251.3L453.5,253.0L454.1,252.5L454.7,252.2L455.3,251.7L455.9,253.2L456.5,251.7L457.1,253.1L457.7,253.8L458.3,252.3L458.9,252.7L459.5,253.1L460.1,252.3L460.7,253.0L461.3,253.0L461.9,252.4L462.5,252.3L463.1,252.6L463.7,251.5L464.3,252.1L464.9,252.1L465.5,253.3L466.1,252.4L466.7,253.3L467.3,251.4L467.9,252.8L468.5,253.1L469.1,251.9L469.7,251.5L470.3,251.2L470.9,249.5L471.5,243.6L472.1,235.7L472.7,227.9L473.3,219.6L473.9,213.5L474.5,210.2L475.1,206.2L475.7,205.5L476.3,201.2L476.9,198.9L477.5,197.9L478.1,198.6L478.7,196.8L479.3,197.7L479.9,196.6L480.5,196.7L481.1,197.4L481.7,196.4L482.3,196.2L482.9,197.3L483.5,195.8L484.1,196.5L484.7,195.3L485.3,194.8L485.9,196.2L486.5,196.0L487.1,194.8L487.7,195.1L488.3,195.2L488.9,194.8L489.5,195.0L490.1,195.3L490.7,195.7L491.3,195.5L491.9,194.9L492.5,193.6" fill="none" stroke="#aaaaaa" stroke-width="1.6" stroke-linejoin="round"/>
<path d="M356.1,189.8L356.7,192.0L357.3,191.4L357.9,192.7L358.5,192.7L359.1,192.7L359.7,193.1L360.3,193.8L360.9,195.5L361.5,195.4L362.1,197.2L362.7,197.6L363.3,199.5L363.9,202.8L364.5,202.9L365.1,204.7L365.7,206.2L366.3,206.7L366.9,210.9L367.5,211.0L368.1,213.7L368.7,214.9L369.3,217.2L369.9,218.7L370.5,218.7L371.1,220.6L371.7,220.9L372.3,223.4L372.9,223.8L373.5,225.8L374.1,227.2L374.7,227.4L375.3,228.1L375.9,230.4L376.5,230.4L377.1,230.7L377.7,232.7L378.3,232.5L378.9,233.2L379.5,234.3L380.1,234.7L380.7,234.4L381.3,234.9L381.9,235.2L382.5,237.1L383.1,236.4L383.7,236.8L384.3,237.7L384.9,239.0L385.5,237.7L386.1,238.3L386.7,240.1L387.3,240.1L387.9,239.8L388.5,240.1L389.1,239.7L389.7,239.8L390.3,241.8L390.9,239.9L391.5,240.1L392.1,241.7L392.7,240.9L393.3,242.3L393.9,241.0L394.5,242.6L395.1,241.4L395.7,242.0L396.3,241.9L396.9,244.1L397.5,243.3L398.1,243.3L398.7,242.0L399.3,243.9L399.9,243.9L400.5,243.0L401.1,242.7L401.7,243.8L402.3,245.4L402.9,245.3L403.5,243.6L404.1,241.6L404.7,230.4L405.3,222.6L405.9,216.7L406.5,210.8L407.1,209.1L407.7,205.1L408.3,204.4L408.9,201.6L409.5,200.1L410.1,199.6L410.7,197.7L411.3,197.2L411.9,195.9L412.5,195.8L413.1,197.2L413.7,196.0L414.3,195.5L414.9,194.5L415.5,194.1L416.1,194.8L416.7,195.1L417.3,193.5L417.9,195.3L418.5,194.5L419.1,193.4L419.7,194.3L420.3,193.3L420.9,194.4L421.5,194.9L422.1,195.1L422.7,194.7L423.3,194.3L423.9,193.9L424.5,193.5L425.1,192.5L425.7,193.7L426.3,192.9L426.9,194.3L427.5,194.2L428.1,193.1L428.7,193.6L429.3,194.0L429.9,194.4L430.5,194.5L431.1,193.7L431.7,195.1L432.3,197.4L432.9,198.2L433.5,201.4L434.1,201.7L434.7,205.0L435.3,205.5L435.9,206.7L436.5,209.9L437.1,211.9L437.7,213.1L438.3,213.7L438.9,215.2L439.5,218.7L440.1,220.6L440.7,221.1L441.3,222.7L441.9,223.7L442.5,226.3L443.1,226.1L443.7,228.6L444.3,228.4L444.9,229.1L445.5,229.8L446.1,231.7L446.7,232.8L447.3,232.5L447.9,234.1L448.5,233.9L449.1,234.2L449.7,235.3L450.3,235.1L450.9,235.8L451.5,236.4L452.1,237.8L452.7,238.3L453.3,239.1L453.9,239.0L454.5,239.7L455.1,239.4L455.7,240.4L456.3,239.4L456.9,239.9L457.5,240.7L458.1,240.9L458.7,241.9L459.3,242.6L459.9,243.0L460.5,241.8L461.1,244.1L461.7,241.9L462.3,242.3L462.9,242.7L463.5,245.0L464.1,243.9L464.7,243.2L465.3,243.9L465.9,243.7L466.5,243.9L467.1,245.0L467.7,246.8L468.3,246.1L468.9,246.1L469.5,246.8L470.1,246.6L470.7,244.6L471.3,235.3L471.9,226.3L472.5,217.6L473.1,212.7L473.7,209.6L474.3,206.6L474.9,203.0L475.5,200.0L476.1,199.2L476.7,198.2L477.3,196.9L477.9,196.1L478.5,195.2L479.1,195.2L479.7,194.2L480.3,194.5L480.9,196.5L481.5,195.8L482.1,194.6L482.7,194.6L483.3,195.0L483.9,194.7L484.5,195.2L485.1,193.4L485.7,193.3L486.3,193.8L486.9,195.1L487.5,195.2L488.1,193.7L488.7,195.2L489.3,193.3L489.9,194.1L490.5,193.0L491.1,194.7L491.7,193.6" fill="none" stroke="#b0b0b0" stroke-width="1.6" stroke-linejoin="round"/>
<path d="M356.0,190.2L356.4,192.2L356.8,190.8L357.2,191.8L357.6,192.6L358.0,193.3L358.4,192.7L358.8,193.2L359.2,192.2L359.6,193.7L360.0,194.1L360.4,196.0L360.8,195.7L361.2,196.8" fill="none" stroke="#2a2a2a" stroke-width="2.6" stroke-linejoin="round"/>
<path d="M355.8,190.5L356.2,190.1L356.6,191.5L357.0,191.6L357.4,191.1L357.8,190.9L358.2,192.1L358.6,192.5L359.0,193.4L359.4,193.7L359.8,194.2L360.2,195.0L360.6,195.3L361.0,195.3L361.4,196.0L361.8,198.4L362.2,198.9L362.6,198.8L363.0,201.0L363.4,201.3L363.8,201.5L364.2,204.0L364.6,204.4L365.0,206.2L365.4,206.7L365.8,206.5L366.2,208.6L366.6,210.2L367.0,211.6L367.4,211.7L367.8,213.3L368.2,214.8L368.6,214.7L369.0,217.0L369.4,217.9L369.8,217.5L370.2,219.5L370.6,219.9L371.0,220.3L371.4,222.0L371.8,223.5L372.2,223.5L372.6,223.4L373.0,225.0L373.4,226.3L373.8,227.3L374.2,227.5L374.6,226.8L375.0,229.3L375.4,229.2L375.8,228.9L376.2,229.6L376.6,230.0L377.0,231.6L377.4,231.1L377.8,232.9L378.2,232.0L378.6,233.3L379.0,233.6L379.4,233.3L379.8,233.7L380.2,236.0L380.6,236.5L381.0,235.0L381.4,236.6L381.8,237.4L382.2,237.5L382.6,237.8L383.0,237.0L383.4,238.0L383.8,237.9L384.2,239.1L384.6,238.8L385.0,239.3L385.4,239.5L385.8,238.7L386.2,239.6L386.6,238.5L387.0,239.0L387.4,240.6L387.8,239.7L388.2,240.5L388.6,240.5L389.0,240.0L389.4,240.8L389.8,241.6L390.2,240.6L390.6,240.8L391.0,240.6L391.4,240.7L391.8,242.2L392.2,242.1L392.6,242.8L393.0,242.3L393.4,243.0L393.8,241.7L394.2,241.8L394.6,241.9L395.0,242.3L395.4,243.6L395.8,242.2L396.2,242.7L396.6,242.0L397.0,242.0L397.4,243.1L397.8,243.3L398.2,243.2L398.6,244.1L399.0,244.1L399.4,244.3L399.8,243.7L400.2,243.1L400.6,243.0L401.0,244.4L401.4,243.3L401.8,243.1L402.2,244.6L402.6,243.6L403.0,244.7L403.4,243.9L403.8,244.5L404.2,243.8L404.6,244.7L405.0,244.7L405.4,244.7L405.8,244.5L406.2,245.6L406.6,245.9L407.0,245.1L407.4,244.9L407.8,245.4L408.2,246.4L408.6,245.7L409.0,246.6L409.4,245.5L409.8,246.9L410.2,246.0L410.6,246.2L411.0,247.4L411.4,247.0L411.8,247.5L412.2,246.9L412.6,247.8L413.0,247.2L413.4,247.7L413.8,247.8L414.2,248.8L414.6,248.6L415.0,248.4L415.4,249.1L415.8,248.7L416.2,249.0L416.6,248.7L417.0,248.9L417.4,248.2L417.8,249.7L418.2,249.2L418.6,249.6L419.0,249.3L419.4,248.2L419.8,248.4L420.2,250.0L420.6,249.7L421.0,250.2L421.4,250.2L421.8,249.0L422.2,250.6L422.6,249.9L423.0,250.2L423.4,249.8L423.8,249.4L424.2,249.9L424.6,249.9L425.0,249.6L425.4,249.8L425.8,250.1L426.2,249.8L426.6,249.6L427.0,251.0L427.4,250.2L427.8,250.2L428.2,251.2L428.6,251.0L429.0,250.6L429.4,250.3L429.8,251.2L430.2,250.1L430.6,250.5L431.0,250.3L431.4,251.5L431.8,250.0L432.2,250.7L432.6,250.6L433.0,249.6L433.4,249.8L433.8,251.2L434.2,251.0L434.6,249.8L435.0,249.7L435.4,251.2L435.8,250.5L436.2,250.8L436.6,251.1L437.0,249.8L437.4,250.3L437.8,251.1L438.2,249.7L438.6,249.8L439.0,251.1L439.4,251.0L439.8,250.4L440.2,249.6L440.6,251.1L441.0,250.0L441.4,251.0L441.8,250.0L442.2,249.8L442.6,250.9L443.0,250.3L443.4,250.3L443.8,250.4L444.2,250.5L444.6,250.5L445.0,250.9L445.4,249.9L445.8,251.0L446.2,250.7L446.6,251.4L447.0,250.3L447.4,251.2L447.8,250.3L448.2,251.3L448.6,251.3L449.0,251.1L449.4,251.0L449.8,252.0L450.2,250.9L450.6,250.4L451.0,250.9L451.4,250.4L451.8,252.2L452.2,252.1L452.6,250.8L453.0,251.8L453.4,251.0L453.8,252.3L454.2,251.5L454.6,250.8L455.0,252.0L455.4,251.0L455.8,252.6L456.2,252.6L456.6,252.0L457.0,251.3L457.4,252.3L457.8,250.9L458.2,251.0L458.6,251.4L459.0,250.9L459.4,252.5L459.8,252.1L460.2,252.4L460.6,252.1L461.0,251.2L461.4,251.3L461.8,252.0L462.2,252.4L462.6,252.0L463.0,251.4L463.4,252.4L463.8,251.6L464.2,252.0L464.6,252.3L465.0,251.9L465.4,251.4L465.8,251.6L466.2,250.7L466.6,251.1L467.0,251.8L467.4,251.0L467.8,250.0L468.2,251.5L468.6,250.1L469.0,249.8L469.4,250.5L469.8,248.9L470.2,245.6L470.6,240.3L471.0,234.4L471.4,228.0L471.8,223.4L472.2,217.2L472.6,215.2L473.0,212.0L473.4,209.2L473.8,206.0L474.2,205.6L474.6,202.5L475.0,201.6L475.4,199.7L475.8,198.1L476.2,197.3L476.6,198.0L477.0,196.7L477.4,196.4L477.8,196.7L478.2,196.8L478.6,195.5L479.0,196.0L479.4,195.6L479.8,196.2L480.2,195.9L480.6,196.2L481.0,194.9L481.4,195.8L481.8,194.6L482.2,194.5L482.6,194.7L483.0,193.8L483.4,195.1L483.8,193.8L484.2,194.8L484.6,193.6L485.0,194.3L485.4,193.9L485.8,195.2L486.2,193.9L486.6,193.9L487.0,193.8L487.4,193.4L487.8,194.4L488.2,193.6L488.6,193.5L489.0,193.5L489.4,193.6L489.8,194.4L490.2,193.2L490.6,192.9L491.0,193.2L491.4,193.6L491.8,192.9" fill="none" stroke="#2a2a2a" stroke-width="1.4" stroke-linejoin="round"/>
<path d="M355.8,189.8L356.2,190.4L356.6,191.8L357.0,191.8L357.4,191.2L357.8,191.6L358.2,191.4L358.6,192.8L359.0,193.3L359.4,193.0L359.8,194.4L360.2,194.0L360.6,195.1L361.0,195.7L361.4,197.4L361.8,197.7L362.2,198.3L362.6,199.1L363.0,200.4L363.4,201.2L363.8,201.8L364.2,203.9L364.6,204.9L365.0,205.1L365.4,206.1L365.8,208.2L366.2,207.4L366.6,210.1L367.0,210.1L367.4,211.4L367.8,212.9L368.2,214.6L368.6,215.0L369.0,216.4L369.4,217.4L369.8,219.2L370.2,219.5L370.6,219.7L371.0,221.2L371.4,221.9L371.8,222.2L372.2,223.8L372.6,223.2L373.0,226.0L373.4,226.4L373.8,225.5L374.2,227.5L374.6,227.0L375.0,229.3L375.4,228.9L375.8,230.2L376.2,229.8L376.6,231.1L377.0,230.4L377.4,232.4L377.8,231.8L378.2,232.1L378.6,233.1L379.0,233.7L379.4,233.3L379.8,234.0L380.2,235.0L380.6,235.6L381.0,236.2L381.4,235.4L381.8,237.0L382.2,236.4L382.6,238.0L383.0,237.0L383.4,237.5L383.8,237.6L384.2,237.4L384.6,239.2L385.0,238.8L385.4,239.3L385.8,238.3L386.2,239.1L386.6,238.9L387.0,239.1L387.4,239.5L387.8,240.2L388.2,240.0L388.6,240.7L389.0,241.5L389.4,240.9L389.8,241.4L390.2,241.9L390.6,242.0L391.0,240.9L391.4,242.1L391.8,241.9L392.2,240.7L392.6,242.5L393.0,242.8L393.4,242.9L393.8,241.9L394.2,242.9L394.6,243.1L395.0,242.4L395.4,242.9L395.8,242.5L396.2,243.6L396.6,242.9L397.0,242.4L397.4,242.9L397.8,243.3L398.2,243.0L398.6,242.9L399.0,243.6L399.4,243.1L399.8,243.5L400.2,242.8L400.6,243.4L401.0,243.1L401.4,243.9L401.8,243.7L402.2,243.9L402.6,243.4L403.0,245.4L403.4,244.0L403.8,239.8L404.2,233.6L404.6,225.8L405.0,222.0L405.4,218.6L405.8,212.9L406.2,211.6L406.6,210.3L407.0,207.1L407.4,205.0L407.8,203.6L408.2,203.6L408.6,202.5L409.0,200.6L409.4,199.6L409.8,200.3L410.2,198.2L410.6,198.7L411.0,198.1L411.4,196.9L411.8,197.4L412.2,196.3L412.6,197.2L413.0,196.7L413.4,196.2L413.8,196.5L414.2,195.9L414.6,196.1L415.0,194.9L415.4,194.7L415.8,195.7L416.2,194.6L416.6,194.3L417.0,195.3L417.4,194.3L417.8,194.4L418.2,194.6L418.6,193.6L419.0,195.0L419.4,194.5L419.8,193.3L420.2,193.4L420.6,193.7L421.0,194.0L421.4,194.7L421.8,194.6L422.2,194.5L422.6,194.4L423.0,193.9L423.4,193.0L423.8,193.5L424.2,194.3L424.6,192.8L425.0,193.2L425.4,192.7L425.8,193.3L426.2,193.2L426.6,193.5L427.0,192.9L427.4,193.6L427.8,192.7L428.2,194.0L428.6,194.0L429.0,193.2L429.4,194.4L429.8,194.1L430.2,194.1L430.6,194.5L431.0,195.1L431.4,195.4L431.8,197.8L432.2,197.4L432.6,199.6L433.0,199.7L433.4,201.2L433.8,202.5L434.2,203.1L434.6,205.6L435.0,206.4L435.4,206.7L435.8,207.8L436.2,210.1L436.6,211.4L437.0,211.4L437.4,212.2L437.8,214.2L438.2,215.2L438.6,216.4L439.0,217.9L439.4,217.9L439.8,220.2L440.2,221.5L440.6,222.2L441.0,222.1L441.4,224.2L441.8,225.9L442.2,226.2L442.6,226.5L443.0,226.8L443.4,227.1L443.8,228.2L444.2,229.8L444.6,228.8L445.0,230.3L445.4,230.7L445.8,230.4L446.2,231.3L446.6,231.9L447.0,231.9L447.4,232.3L447.8,234.2L448.2,233.6L448.6,234.7L449.0,234.7L449.4,235.2L449.8,235.4L450.2,235.0L450.6,235.5L451.0,235.9L451.4,237.6L451.8,237.7L452.2,238.5L452.6,238.2L453.0,237.6L453.4,238.6L453.8,239.1L454.2,238.6L454.6,239.2L455.0,240.3L455.4,239.3L455.8,239.2L456.2,241.2L456.6,240.3L457.0,241.1L457.4,242.1L457.8,240.8L458.2,241.1L458.6,241.5L459.0,241.6L459.4,242.3L459.8,241.5L460.2,243.3L460.6,243.8L461.0,242.4L461.4,242.9L461.8,243.0L462.2,243.9L462.6,243.4L463.0,244.5L463.4,244.8L463.8,243.6L464.2,243.5L464.6,244.6L465.0,243.7L465.4,244.6L465.8,244.3L466.2,245.7L466.6,245.0L467.0,246.0L467.4,245.7L467.8,246.2L468.2,246.2L468.6,246.6L469.0,246.6L469.4,246.9L469.8,246.1L470.2,245.7L470.6,239.9L471.0,235.1L471.4,228.0L471.8,223.7L472.2,216.8L472.6,213.9L473.0,212.5L473.4,209.6L473.8,207.1L474.2,204.8L474.6,203.9L475.0,202.5L475.4,199.9L475.8,198.2L476.2,197.4L476.6,197.5L477.0,198.1L477.4,196.6L477.8,197.5L478.2,196.7L478.6,197.0L479.0,195.2L479.4,196.4L479.8,195.9L480.2,194.4L480.6,194.8L481.0,194.4L481.4,194.7L481.8,195.2L482.2,195.8L482.6,195.5L483.0,194.4L483.4,194.8L483.8,194.6L484.2,193.6L484.6,194.1L485.0,194.4L485.4,194.4L485.8,194.8L486.2,193.9L486.6,195.2L487.0,195.0L487.4,193.7L487.8,193.3L488.2,193.5L488.6,193.7L489.0,193.9L489.4,193.7L489.8,194.0L490.2,194.2L490.6,192.7L491.0,192.8L491.4,193.3L491.8,193.3" fill="none" stroke="#2a2a2a" stroke-width="1.4" stroke-linejoin="round"/>
<rect x="419.00" y="185.60" width="7.70" height="70.70" fill="rgba(70,185,165,0.65)" stroke="none" stroke-width="0.6"/>
<text x="379.80" y="206.00" font-size="7.0" textLength="26.10" lengthAdjust="spacingAndGlyphs">440 nm</text>
<line x1="398.20" y1="208.70" x2="404.30" y2="215.60" stroke="#222" stroke-width="0.7"/>
<path d="M405.0,216.4 L402.4,215.4 L404.2,213.9 Z" fill="#222"/>
<text x="394.00" y="259.60" font-size="7.8" textLength="9.00" lengthAdjust="spacingAndGlyphs" font-style="italic">(3)</text>
<text x="396.60" y="267.30" font-size="7.0" textLength="26.10" lengthAdjust="spacingAndGlyphs">360 nm</text>
<line x1="409.70" y1="252.00" x2="409.70" y2="261.00" stroke="#222" stroke-width="0.7"/>
<text x="417.70" y="262.60" font-size="7.8" textLength="8.80" lengthAdjust="spacingAndGlyphs" font-style="italic">(4)</text>
<text x="460.20" y="264.40" font-size="7.8" textLength="7.80" lengthAdjust="spacingAndGlyphs" font-style="italic">(5)</text>
<text x="484.70" y="209.80" font-size="7.8" textLength="9.00" lengthAdjust="spacingAndGlyphs" font-style="italic">(6)</text>
<path d="M358.7,236.2L358.7,261.0L386.2,261.0" fill="none" stroke="#222" stroke-width="1.15" stroke-linejoin="round"/>
<text x="353.70" y="246.70" font-size="6.8" text-anchor="middle" textLength="32.00" lengthAdjust="spacingAndGlyphs" transform="rotate(-90 353.70 246.70)">20 pA/pF</text>
<text x="357.70" y="269.00" font-size="6.8" textLength="25.50" lengthAdjust="spacingAndGlyphs">200 ms</text>
<path d="M470.2,263.5 Q520,270 556,266.2" fill="none" stroke="#333" stroke-width="0.6"/>
<path d="M559.6,266.0 L555.4,264.5 L555.6,267.9 Z" fill="#333"/>
<text x="545.50" y="156.00" font-size="9.5" textLength="115.40" lengthAdjust="spacingAndGlyphs">Action spectrum off switch</text>
<line x1="536.50" y1="179.50" x2="667.50" y2="179.50" stroke="#777" stroke-width="0.8"/>
<line x1="544.50" y1="177.60" x2="544.50" y2="179.50" stroke="#777" stroke-width="0.7"/>
<text x="548.40" y="170.60" font-size="8.2" text-anchor="middle" textLength="13.60" lengthAdjust="spacingAndGlyphs" transform="rotate(-45 548.40 170.60)">340</text>
<line x1="558.95" y1="177.60" x2="558.95" y2="179.50" stroke="#777" stroke-width="0.7"/>
<text x="562.85" y="170.60" font-size="8.2" text-anchor="middle" textLength="13.60" lengthAdjust="spacingAndGlyphs" transform="rotate(-45 562.85 170.60)">360</text>
<line x1="573.40" y1="177.60" x2="573.40" y2="179.50" stroke="#777" stroke-width="0.7"/>
<text x="577.30" y="170.60" font-size="8.2" text-anchor="middle" textLength="13.60" lengthAdjust="spacingAndGlyphs" transform="rotate(-45 577.30 170.60)">380</text>
<line x1="587.85" y1="177.60" x2="587.85" y2="179.50" stroke="#777" stroke-width="0.7"/>
<text x="591.75" y="170.60" font-size="8.2" text-anchor="middle" textLength="13.60" lengthAdjust="spacingAndGlyphs" transform="rotate(-45 591.75 170.60)">400</text>
<line x1="602.30" y1="177.60" x2="602.30" y2="179.50" stroke="#777" stroke-width="0.7"/>
<text x="606.20" y="170.60" font-size="8.2" text-anchor="middle" textLength="13.60" lengthAdjust="spacingAndGlyphs" transform="rotate(-45 606.20 170.60)">420</text>
<line x1="616.75" y1="177.60" x2="616.75" y2="179.50" stroke="#777" stroke-width="0.7"/>
<text x="620.65" y="170.60" font-size="8.2" text-anchor="middle" textLength="13.60" lengthAdjust="spacingAndGlyphs" transform="rotate(-45 620.65 170.60)">440</text>
<line x1="631.20" y1="177.60" x2="631.20" y2="179.50" stroke="#777" stroke-width="0.7"/>
<text x="635.10" y="170.60" font-size="8.2" text-anchor="middle" textLength="13.60" lengthAdjust="spacingAndGlyphs" transform="rotate(-45 635.10 170.60)">460</text>
<line x1="645.65" y1="177.60" x2="645.65" y2="179.50" stroke="#777" stroke-width="0.7"/>
<text x="649.55" y="170.60" font-size="8.2" text-anchor="middle" textLength="13.60" lengthAdjust="spacingAndGlyphs" transform="rotate(-45 649.55 170.60)">480</text>
<line x1="660.10" y1="177.60" x2="660.10" y2="179.50" stroke="#777" stroke-width="0.7"/>
<text x="664.00" y="170.60" font-size="8.2" text-anchor="middle" textLength="13.60" lengthAdjust="spacingAndGlyphs" transform="rotate(-45 664.00 170.60)">500</text>
<text x="667.50" y="176.00" font-size="7.0" textLength="14.50" lengthAdjust="spacingAndGlyphs">[nm]</text>
<line x1="534.40" y1="185.30" x2="534.40" y2="260.40" stroke="#888" stroke-width="0.8"/>
<line x1="532.50" y1="186.00" x2="534.40" y2="186.00" stroke="#888" stroke-width="0.7"/>
<text x="528.90" y="188.90" font-size="8.2" text-anchor="end" textLength="4.90" lengthAdjust="spacingAndGlyphs">0</text>
<line x1="532.50" y1="212.26" x2="534.40" y2="212.26" stroke="#888" stroke-width="0.7"/>
<text x="528.90" y="214.76" font-size="7.4" text-anchor="end" textLength="11.60" lengthAdjust="spacingAndGlyphs">–20</text>
<line x1="532.50" y1="238.52" x2="534.40" y2="238.52" stroke="#888" stroke-width="0.7"/>
<text x="528.90" y="241.02" font-size="7.4" text-anchor="end" textLength="11.60" lengthAdjust="spacingAndGlyphs">–40</text>
<line x1="535.00" y1="186.00" x2="666.00" y2="186.00" stroke="#1a1a1a" stroke-width="0.8" stroke-dasharray="1.2 0.7"/>
<text x="513.40" y="221.00" font-size="7.6" text-anchor="middle" textLength="24.20" lengthAdjust="spacingAndGlyphs" transform="rotate(-90 513.40 221.00)">pA/pF</text>
<line x1="537.27" y1="228.42" x2="537.27" y2="252.06" stroke="#7a7a7a" stroke-width="0.6"/>
<line x1="535.48" y1="228.42" x2="539.07" y2="228.42" stroke="#7a7a7a" stroke-width="0.6"/>
<line x1="535.48" y1="252.06" x2="539.07" y2="252.06" stroke="#7a7a7a" stroke-width="0.6"/>
<circle cx="537.27" cy="240.24" r="0.95" fill="#444"/>
<line x1="540.89" y1="228.02" x2="540.89" y2="253.00" stroke="#7a7a7a" stroke-width="0.6"/>
<line x1="539.09" y1="228.02" x2="542.69" y2="228.02" stroke="#7a7a7a" stroke-width="0.6"/>
<line x1="539.09" y1="253.00" x2="542.69" y2="253.00" stroke="#7a7a7a" stroke-width="0.6"/>
<circle cx="540.89" cy="240.51" r="0.95" fill="#444"/>
<line x1="544.50" y1="228.63" x2="544.50" y2="252.49" stroke="#7a7a7a" stroke-width="0.6"/>
<line x1="542.70" y1="228.63" x2="546.30" y2="228.63" stroke="#7a7a7a" stroke-width="0.6"/>
<line x1="542.70" y1="252.49" x2="546.30" y2="252.49" stroke="#7a7a7a" stroke-width="0.6"/>
<circle cx="544.50" cy="240.56" r="0.95" fill="#444"/>
<line x1="548.11" y1="228.04" x2="548.11" y2="251.24" stroke="#7a7a7a" stroke-width="0.6"/>
<line x1="546.31" y1="228.04" x2="549.91" y2="228.04" stroke="#7a7a7a" stroke-width="0.6"/>
<line x1="546.31" y1="251.24" x2="549.91" y2="251.24" stroke="#7a7a7a" stroke-width="0.6"/>
<circle cx="548.11" cy="239.64" r="0.95" fill="#444"/>
<line x1="551.73" y1="227.48" x2="551.73" y2="252.09" stroke="#7a7a7a" stroke-width="0.6"/>
<line x1="549.93" y1="227.48" x2="553.52" y2="227.48" stroke="#7a7a7a" stroke-width="0.6"/>
<line x1="549.93" y1="252.09" x2="553.52" y2="252.09" stroke="#7a7a7a" stroke-width="0.6"/>
<circle cx="551.73" cy="239.78" r="0.95" fill="#444"/>
<line x1="555.34" y1="228.60" x2="555.34" y2="252.77" stroke="#7a7a7a" stroke-width="0.6"/>
<line x1="553.54" y1="228.60" x2="557.14" y2="228.60" stroke="#7a7a7a" stroke-width="0.6"/>
<line x1="553.54" y1="252.77" x2="557.14" y2="252.77" stroke="#7a7a7a" stroke-width="0.6"/>
<circle cx="555.34" cy="240.69" r="0.95" fill="#444"/>
<line x1="558.95" y1="229.39" x2="558.95" y2="252.43" stroke="#7a7a7a" stroke-width="0.6"/>
<line x1="557.15" y1="229.39" x2="560.75" y2="229.39" stroke="#7a7a7a" stroke-width="0.6"/>
<line x1="557.15" y1="252.43" x2="560.75" y2="252.43" stroke="#7a7a7a" stroke-width="0.6"/>
<circle cx="558.95" cy="240.91" r="0.95" fill="#444"/>
<line x1="562.56" y1="228.54" x2="562.56" y2="251.77" stroke="#7a7a7a" stroke-width="0.6"/>
<line x1="560.76" y1="228.54" x2="564.36" y2="228.54" stroke="#7a7a7a" stroke-width="0.6"/>
<line x1="560.76" y1="251.77" x2="564.36" y2="251.77" stroke="#7a7a7a" stroke-width="0.6"/>
<circle cx="562.56" cy="240.16" r="0.95" fill="#444"/>
<line x1="566.17" y1="227.57" x2="566.17" y2="252.68" stroke="#7a7a7a" stroke-width="0.6"/>
<line x1="564.38" y1="227.57" x2="567.97" y2="227.57" stroke="#7a7a7a" stroke-width="0.6"/>
<line x1="564.38" y1="252.68" x2="567.97" y2="252.68" stroke="#7a7a7a" stroke-width="0.6"/>
<circle cx="566.17" cy="240.13" r="0.95" fill="#444"/>
<line x1="569.79" y1="230.32" x2="569.79" y2="252.94" stroke="#7a7a7a" stroke-width="0.6"/>
<line x1="567.99" y1="230.32" x2="571.59" y2="230.32" stroke="#7a7a7a" stroke-width="0.6"/>
<line x1="567.99" y1="252.94" x2="571.59" y2="252.94" stroke="#7a7a7a" stroke-width="0.6"/>
<circle cx="569.79" cy="241.63" r="0.95" fill="#444"/>
<line x1="573.40" y1="228.50" x2="573.40" y2="253.46" stroke="#7a7a7a" stroke-width="0.6"/>
<line x1="571.60" y1="228.50" x2="575.20" y2="228.50" stroke="#7a7a7a" stroke-width="0.6"/>
<line x1="571.60" y1="253.46" x2="575.20" y2="253.46" stroke="#7a7a7a" stroke-width="0.6"/>
<circle cx="573.40" cy="240.98" r="0.95" fill="#444"/>
<line x1="577.01" y1="229.50" x2="577.01" y2="253.62" stroke="#7a7a7a" stroke-width="0.6"/>
<line x1="575.21" y1="229.50" x2="578.81" y2="229.50" stroke="#7a7a7a" stroke-width="0.6"/>
<line x1="575.21" y1="253.62" x2="578.81" y2="253.62" stroke="#7a7a7a" stroke-width="0.6"/>
<circle cx="577.01" cy="241.56" r="0.95" fill="#444"/>
<line x1="580.62" y1="229.00" x2="580.62" y2="253.83" stroke="#7a7a7a" stroke-width="0.6"/>
<line x1="578.83" y1="229.00" x2="582.42" y2="229.00" stroke="#7a7a7a" stroke-width="0.6"/>
<line x1="578.83" y1="253.83" x2="582.42" y2="253.83" stroke="#7a7a7a" stroke-width="0.6"/>
<circle cx="580.62" cy="241.42" r="0.95" fill="#444"/>
<line x1="584.24" y1="228.37" x2="584.24" y2="253.10" stroke="#7a7a7a" stroke-width="0.6"/>
<line x1="582.44" y1="228.37" x2="586.04" y2="228.37" stroke="#7a7a7a" stroke-width="0.6"/>
<line x1="582.44" y1="253.10" x2="586.04" y2="253.10" stroke="#7a7a7a" stroke-width="0.6"/>
<circle cx="584.24" cy="240.73" r="0.95" fill="#444"/>
<line x1="587.85" y1="229.76" x2="587.85" y2="254.49" stroke="#7a7a7a" stroke-width="0.6"/>
<line x1="586.05" y1="229.76" x2="589.65" y2="229.76" stroke="#7a7a7a" stroke-width="0.6"/>
<line x1="586.05" y1="254.49" x2="589.65" y2="254.49" stroke="#7a7a7a" stroke-width="0.6"/>
<circle cx="587.85" cy="242.12" r="0.95" fill="#444"/>
<line x1="591.46" y1="229.47" x2="591.46" y2="254.52" stroke="#7a7a7a" stroke-width="0.6"/>
<line x1="589.66" y1="229.47" x2="593.26" y2="229.47" stroke="#7a7a7a" stroke-width="0.6"/>
<line x1="589.66" y1="254.52" x2="593.26" y2="254.52" stroke="#7a7a7a" stroke-width="0.6"/>
<circle cx="591.46" cy="242.00" r="0.95" fill="#444"/>
<line x1="595.08" y1="229.56" x2="595.08" y2="254.90" stroke="#7a7a7a" stroke-width="0.6"/>
<line x1="593.28" y1="229.56" x2="596.88" y2="229.56" stroke="#7a7a7a" stroke-width="0.6"/>
<line x1="593.28" y1="254.90" x2="596.88" y2="254.90" stroke="#7a7a7a" stroke-width="0.6"/>
<circle cx="595.08" cy="242.23" r="0.95" fill="#444"/>
<line x1="598.69" y1="229.21" x2="598.69" y2="254.20" stroke="#7a7a7a" stroke-width="0.6"/>
<line x1="596.89" y1="229.21" x2="600.49" y2="229.21" stroke="#7a7a7a" stroke-width="0.6"/>
<line x1="596.89" y1="254.20" x2="600.49" y2="254.20" stroke="#7a7a7a" stroke-width="0.6"/>
<circle cx="598.69" cy="241.71" r="0.95" fill="#444"/>
<line x1="602.30" y1="229.76" x2="602.30" y2="254.74" stroke="#7a7a7a" stroke-width="0.6"/>
<line x1="600.50" y1="229.76" x2="604.10" y2="229.76" stroke="#7a7a7a" stroke-width="0.6"/>
<line x1="600.50" y1="254.74" x2="604.10" y2="254.74" stroke="#7a7a7a" stroke-width="0.6"/>
<circle cx="602.30" cy="242.25" r="0.95" fill="#444"/>
<line x1="605.91" y1="231.76" x2="605.91" y2="254.03" stroke="#7a7a7a" stroke-width="0.6"/>
<line x1="604.11" y1="231.76" x2="607.71" y2="231.76" stroke="#7a7a7a" stroke-width="0.6"/>
<line x1="604.11" y1="254.03" x2="607.71" y2="254.03" stroke="#7a7a7a" stroke-width="0.6"/>
<circle cx="605.91" cy="242.90" r="0.95" fill="#444"/>
<line x1="609.52" y1="230.79" x2="609.52" y2="254.28" stroke="#7a7a7a" stroke-width="0.6"/>
<line x1="607.73" y1="230.79" x2="611.32" y2="230.79" stroke="#7a7a7a" stroke-width="0.6"/>
<line x1="607.73" y1="254.28" x2="611.32" y2="254.28" stroke="#7a7a7a" stroke-width="0.6"/>
<circle cx="609.52" cy="242.54" r="0.95" fill="#444"/>
<line x1="613.14" y1="232.62" x2="613.14" y2="255.97" stroke="#7a7a7a" stroke-width="0.6"/>
<line x1="611.34" y1="232.62" x2="614.94" y2="232.62" stroke="#7a7a7a" stroke-width="0.6"/>
<line x1="611.34" y1="255.97" x2="614.94" y2="255.97" stroke="#7a7a7a" stroke-width="0.6"/>
<circle cx="613.14" cy="244.29" r="0.95" fill="#444"/>
<line x1="616.75" y1="232.67" x2="616.75" y2="255.05" stroke="#7a7a7a" stroke-width="0.6"/>
<line x1="614.95" y1="232.67" x2="618.55" y2="232.67" stroke="#7a7a7a" stroke-width="0.6"/>
<line x1="614.95" y1="255.05" x2="618.55" y2="255.05" stroke="#7a7a7a" stroke-width="0.6"/>
<circle cx="616.75" cy="243.86" r="0.95" fill="#444"/>
<line x1="620.36" y1="232.15" x2="620.36" y2="254.15" stroke="#7a7a7a" stroke-width="0.6"/>
<line x1="618.56" y1="232.15" x2="622.16" y2="232.15" stroke="#7a7a7a" stroke-width="0.6"/>
<line x1="618.56" y1="254.15" x2="622.16" y2="254.15" stroke="#7a7a7a" stroke-width="0.6"/>
<circle cx="620.36" cy="243.15" r="0.95" fill="#444"/>
<line x1="623.98" y1="231.42" x2="623.98" y2="255.26" stroke="#7a7a7a" stroke-width="0.6"/>
<line x1="622.18" y1="231.42" x2="625.77" y2="231.42" stroke="#7a7a7a" stroke-width="0.6"/>
<line x1="622.18" y1="255.26" x2="625.77" y2="255.26" stroke="#7a7a7a" stroke-width="0.6"/>
<circle cx="623.98" cy="243.34" r="0.95" fill="#444"/>
<line x1="627.59" y1="233.02" x2="627.59" y2="256.06" stroke="#7a7a7a" stroke-width="0.6"/>
<line x1="625.79" y1="233.02" x2="629.39" y2="233.02" stroke="#7a7a7a" stroke-width="0.6"/>
<line x1="625.79" y1="256.06" x2="629.39" y2="256.06" stroke="#7a7a7a" stroke-width="0.6"/>
<circle cx="627.59" cy="244.54" r="0.95" fill="#444"/>
<line x1="631.20" y1="233.09" x2="631.20" y2="255.12" stroke="#7a7a7a" stroke-width="0.6"/>
<line x1="629.40" y1="233.09" x2="633.00" y2="233.09" stroke="#7a7a7a" stroke-width="0.6"/>
<line x1="629.40" y1="255.12" x2="633.00" y2="255.12" stroke="#7a7a7a" stroke-width="0.6"/>
<circle cx="631.20" cy="244.10" r="0.95" fill="#444"/>
<line x1="634.81" y1="231.42" x2="634.81" y2="255.69" stroke="#7a7a7a" stroke-width="0.6"/>
<line x1="633.01" y1="231.42" x2="636.61" y2="231.42" stroke="#7a7a7a" stroke-width="0.6"/>
<line x1="633.01" y1="255.69" x2="636.61" y2="255.69" stroke="#7a7a7a" stroke-width="0.6"/>
<circle cx="634.81" cy="243.55" r="0.95" fill="#444"/>
<line x1="638.42" y1="230.59" x2="638.42" y2="255.61" stroke="#7a7a7a" stroke-width="0.6"/>
<line x1="636.62" y1="230.59" x2="640.22" y2="230.59" stroke="#7a7a7a" stroke-width="0.6"/>
<line x1="636.62" y1="255.61" x2="640.22" y2="255.61" stroke="#7a7a7a" stroke-width="0.6"/>
<circle cx="638.42" cy="243.10" r="0.95" fill="#444"/>
<line x1="642.04" y1="230.39" x2="642.04" y2="256.11" stroke="#7a7a7a" stroke-width="0.6"/>
<line x1="640.24" y1="230.39" x2="643.84" y2="230.39" stroke="#7a7a7a" stroke-width="0.6"/>
<line x1="640.24" y1="256.11" x2="643.84" y2="256.11" stroke="#7a7a7a" stroke-width="0.6"/>
<circle cx="642.04" cy="243.25" r="0.95" fill="#444"/>
<line x1="645.65" y1="230.70" x2="645.65" y2="254.94" stroke="#7a7a7a" stroke-width="0.6"/>
<line x1="643.85" y1="230.70" x2="647.45" y2="230.70" stroke="#7a7a7a" stroke-width="0.6"/>
<line x1="643.85" y1="254.94" x2="647.45" y2="254.94" stroke="#7a7a7a" stroke-width="0.6"/>
<circle cx="645.65" cy="242.82" r="0.95" fill="#444"/>
<line x1="649.26" y1="231.34" x2="649.26" y2="255.07" stroke="#7a7a7a" stroke-width="0.6"/>
<line x1="647.46" y1="231.34" x2="651.06" y2="231.34" stroke="#7a7a7a" stroke-width="0.6"/>
<line x1="647.46" y1="255.07" x2="651.06" y2="255.07" stroke="#7a7a7a" stroke-width="0.6"/>
<circle cx="649.26" cy="243.21" r="0.95" fill="#444"/>
<line x1="652.88" y1="229.80" x2="652.88" y2="255.22" stroke="#7a7a7a" stroke-width="0.6"/>
<line x1="651.08" y1="229.80" x2="654.67" y2="229.80" stroke="#7a7a7a" stroke-width="0.6"/>
<line x1="651.08" y1="255.22" x2="654.67" y2="255.22" stroke="#7a7a7a" stroke-width="0.6"/>
<circle cx="652.88" cy="242.51" r="0.95" fill="#444"/>
<line x1="656.49" y1="229.67" x2="656.49" y2="254.73" stroke="#7a7a7a" stroke-width="0.6"/>
<line x1="654.69" y1="229.67" x2="658.29" y2="229.67" stroke="#7a7a7a" stroke-width="0.6"/>
<line x1="654.69" y1="254.73" x2="658.29" y2="254.73" stroke="#7a7a7a" stroke-width="0.6"/>
<circle cx="656.49" cy="242.20" r="0.95" fill="#444"/>
<line x1="660.10" y1="231.53" x2="660.10" y2="254.83" stroke="#7a7a7a" stroke-width="0.6"/>
<line x1="658.30" y1="231.53" x2="661.90" y2="231.53" stroke="#7a7a7a" stroke-width="0.6"/>
<line x1="658.30" y1="254.83" x2="661.90" y2="254.83" stroke="#7a7a7a" stroke-width="0.6"/>
<circle cx="660.10" cy="243.18" r="0.95" fill="#444"/>
<line x1="663.71" y1="230.80" x2="663.71" y2="254.79" stroke="#7a7a7a" stroke-width="0.6"/>
<line x1="661.91" y1="230.80" x2="665.51" y2="230.80" stroke="#7a7a7a" stroke-width="0.6"/>
<line x1="661.91" y1="254.79" x2="665.51" y2="254.79" stroke="#7a7a7a" stroke-width="0.6"/>
<circle cx="663.71" cy="242.79" r="0.95" fill="#444"/>
<line x1="537.27" y1="191.69" x2="537.27" y2="195.63" stroke="#444" stroke-width="0.55"/>
<line x1="535.77" y1="191.69" x2="538.77" y2="191.69" stroke="#444" stroke-width="0.55"/>
<line x1="535.77" y1="195.63" x2="538.77" y2="195.63" stroke="#444" stroke-width="0.55"/>
<rect x="536.12" y="192.51" width="2.30" height="2.30" fill="#fff" stroke="#3a3a3a" stroke-width="0.6"/>
<line x1="540.89" y1="191.79" x2="540.89" y2="195.85" stroke="#444" stroke-width="0.55"/>
<line x1="539.39" y1="191.79" x2="542.39" y2="191.79" stroke="#444" stroke-width="0.55"/>
<line x1="539.39" y1="195.85" x2="542.39" y2="195.85" stroke="#444" stroke-width="0.55"/>
<rect x="539.74" y="192.67" width="2.30" height="2.30" fill="#fff" stroke="#3a3a3a" stroke-width="0.6"/>
<line x1="544.50" y1="191.56" x2="544.50" y2="195.73" stroke="#444" stroke-width="0.55"/>
<line x1="543.00" y1="191.56" x2="546.00" y2="191.56" stroke="#444" stroke-width="0.55"/>
<line x1="543.00" y1="195.73" x2="546.00" y2="195.73" stroke="#444" stroke-width="0.55"/>
<rect x="543.35" y="192.49" width="2.30" height="2.30" fill="#fff" stroke="#3a3a3a" stroke-width="0.6"/>
<line x1="548.11" y1="192.30" x2="548.11" y2="196.58" stroke="#444" stroke-width="0.55"/>
<line x1="546.61" y1="192.30" x2="549.61" y2="192.30" stroke="#444" stroke-width="0.55"/>
<line x1="546.61" y1="196.58" x2="549.61" y2="196.58" stroke="#444" stroke-width="0.55"/>
<rect x="546.96" y="193.29" width="2.30" height="2.30" fill="#fff" stroke="#3a3a3a" stroke-width="0.6"/>
<line x1="551.73" y1="191.85" x2="551.73" y2="196.25" stroke="#444" stroke-width="0.55"/>
<line x1="550.23" y1="191.85" x2="553.23" y2="191.85" stroke="#444" stroke-width="0.55"/>
<line x1="550.23" y1="196.25" x2="553.23" y2="196.25" stroke="#444" stroke-width="0.55"/>
<rect x="550.58" y="192.90" width="2.30" height="2.30" fill="#fff" stroke="#3a3a3a" stroke-width="0.6"/>
<line x1="555.34" y1="192.07" x2="555.34" y2="196.59" stroke="#444" stroke-width="0.55"/>
<line x1="553.84" y1="192.07" x2="556.84" y2="192.07" stroke="#444" stroke-width="0.55"/>
<line x1="553.84" y1="196.59" x2="556.84" y2="196.59" stroke="#444" stroke-width="0.55"/>
<rect x="554.19" y="193.18" width="2.30" height="2.30" fill="#fff" stroke="#3a3a3a" stroke-width="0.6"/>
<line x1="558.95" y1="192.54" x2="558.95" y2="197.18" stroke="#444" stroke-width="0.55"/>
<line x1="557.45" y1="192.54" x2="560.45" y2="192.54" stroke="#444" stroke-width="0.55"/>
<line x1="557.45" y1="197.18" x2="560.45" y2="197.18" stroke="#444" stroke-width="0.55"/>
<rect x="557.80" y="193.71" width="2.30" height="2.30" fill="#fff" stroke="#3a3a3a" stroke-width="0.6"/>
<line x1="562.56" y1="191.82" x2="562.56" y2="196.57" stroke="#444" stroke-width="0.55"/>
<line x1="561.06" y1="191.82" x2="564.06" y2="191.82" stroke="#444" stroke-width="0.55"/>
<line x1="561.06" y1="196.57" x2="564.06" y2="196.57" stroke="#444" stroke-width="0.55"/>
<rect x="561.41" y="193.04" width="2.30" height="2.30" fill="#fff" stroke="#3a3a3a" stroke-width="0.6"/>
<line x1="566.17" y1="192.86" x2="566.17" y2="197.73" stroke="#444" stroke-width="0.55"/>
<line x1="564.67" y1="192.86" x2="567.67" y2="192.86" stroke="#444" stroke-width="0.55"/>
<line x1="564.67" y1="197.73" x2="567.67" y2="197.73" stroke="#444" stroke-width="0.55"/>
<rect x="565.02" y="194.15" width="2.30" height="2.30" fill="#fff" stroke="#3a3a3a" stroke-width="0.6"/>
<line x1="569.79" y1="192.51" x2="569.79" y2="197.49" stroke="#444" stroke-width="0.55"/>
<line x1="568.29" y1="192.51" x2="571.29" y2="192.51" stroke="#444" stroke-width="0.55"/>
<line x1="568.29" y1="197.49" x2="571.29" y2="197.49" stroke="#444" stroke-width="0.55"/>
<rect x="568.64" y="193.85" width="2.30" height="2.30" fill="#fff" stroke="#3a3a3a" stroke-width="0.6"/>
<line x1="573.40" y1="192.51" x2="573.40" y2="197.61" stroke="#444" stroke-width="0.55"/>
<line x1="571.90" y1="192.51" x2="574.90" y2="192.51" stroke="#444" stroke-width="0.55"/>
<line x1="571.90" y1="197.61" x2="574.90" y2="197.61" stroke="#444" stroke-width="0.55"/>
<rect x="572.25" y="193.91" width="2.30" height="2.30" fill="#fff" stroke="#3a3a3a" stroke-width="0.6"/>
<line x1="577.01" y1="192.53" x2="577.01" y2="197.74" stroke="#444" stroke-width="0.55"/>
<line x1="575.51" y1="192.53" x2="578.51" y2="192.53" stroke="#444" stroke-width="0.55"/>
<line x1="575.51" y1="197.74" x2="578.51" y2="197.74" stroke="#444" stroke-width="0.55"/>
<rect x="575.86" y="193.98" width="2.30" height="2.30" fill="#fff" stroke="#3a3a3a" stroke-width="0.6"/>
<line x1="580.62" y1="192.20" x2="580.62" y2="197.53" stroke="#444" stroke-width="0.55"/>
<line x1="579.12" y1="192.20" x2="582.12" y2="192.20" stroke="#444" stroke-width="0.55"/>
<line x1="579.12" y1="197.53" x2="582.12" y2="197.53" stroke="#444" stroke-width="0.55"/>
<rect x="579.48" y="193.71" width="2.30" height="2.30" fill="#fff" stroke="#3a3a3a" stroke-width="0.6"/>
<line x1="584.24" y1="192.73" x2="584.24" y2="198.17" stroke="#444" stroke-width="0.55"/>
<line x1="582.74" y1="192.73" x2="585.74" y2="192.73" stroke="#444" stroke-width="0.55"/>
<line x1="582.74" y1="198.17" x2="585.74" y2="198.17" stroke="#444" stroke-width="0.55"/>
<rect x="583.09" y="194.30" width="2.30" height="2.30" fill="#fff" stroke="#3a3a3a" stroke-width="0.6"/>
<line x1="587.85" y1="192.45" x2="587.85" y2="198.01" stroke="#444" stroke-width="0.55"/>
<line x1="586.35" y1="192.45" x2="589.35" y2="192.45" stroke="#444" stroke-width="0.55"/>
<line x1="586.35" y1="198.01" x2="589.35" y2="198.01" stroke="#444" stroke-width="0.55"/>
<rect x="586.70" y="194.08" width="2.30" height="2.30" fill="#fff" stroke="#3a3a3a" stroke-width="0.6"/>
<line x1="591.46" y1="193.15" x2="591.46" y2="198.83" stroke="#444" stroke-width="0.55"/>
<line x1="589.96" y1="193.15" x2="592.96" y2="193.15" stroke="#444" stroke-width="0.55"/>
<line x1="589.96" y1="198.83" x2="592.96" y2="198.83" stroke="#444" stroke-width="0.55"/>
<rect x="590.31" y="194.84" width="2.30" height="2.30" fill="#fff" stroke="#3a3a3a" stroke-width="0.6"/>
<line x1="595.08" y1="193.03" x2="595.08" y2="198.83" stroke="#444" stroke-width="0.55"/>
<line x1="593.58" y1="193.03" x2="596.58" y2="193.03" stroke="#444" stroke-width="0.55"/>
<line x1="593.58" y1="198.83" x2="596.58" y2="198.83" stroke="#444" stroke-width="0.55"/>
<rect x="593.93" y="194.78" width="2.30" height="2.30" fill="#fff" stroke="#3a3a3a" stroke-width="0.6"/>
<line x1="598.69" y1="193.46" x2="598.69" y2="199.37" stroke="#444" stroke-width="0.55"/>
<line x1="597.19" y1="193.46" x2="600.19" y2="193.46" stroke="#444" stroke-width="0.55"/>
<line x1="597.19" y1="199.37" x2="600.19" y2="199.37" stroke="#444" stroke-width="0.55"/>
<rect x="597.54" y="195.27" width="2.30" height="2.30" fill="#fff" stroke="#3a3a3a" stroke-width="0.6"/>
<line x1="602.30" y1="193.02" x2="602.30" y2="199.05" stroke="#444" stroke-width="0.55"/>
<line x1="600.80" y1="193.02" x2="603.80" y2="193.02" stroke="#444" stroke-width="0.55"/>
<line x1="600.80" y1="199.05" x2="603.80" y2="199.05" stroke="#444" stroke-width="0.55"/>
<rect x="601.15" y="194.88" width="2.30" height="2.30" fill="#fff" stroke="#3a3a3a" stroke-width="0.6"/>
<line x1="605.91" y1="193.33" x2="605.91" y2="199.47" stroke="#444" stroke-width="0.55"/>
<line x1="604.41" y1="193.33" x2="607.41" y2="193.33" stroke="#444" stroke-width="0.55"/>
<line x1="604.41" y1="199.47" x2="607.41" y2="199.47" stroke="#444" stroke-width="0.55"/>
<rect x="604.76" y="195.25" width="2.30" height="2.30" fill="#fff" stroke="#3a3a3a" stroke-width="0.6"/>
<line x1="609.52" y1="193.02" x2="609.52" y2="199.28" stroke="#444" stroke-width="0.55"/>
<line x1="608.02" y1="193.02" x2="611.02" y2="193.02" stroke="#444" stroke-width="0.55"/>
<line x1="608.02" y1="199.28" x2="611.02" y2="199.28" stroke="#444" stroke-width="0.55"/>
<rect x="608.38" y="195.00" width="2.30" height="2.30" fill="#fff" stroke="#3a3a3a" stroke-width="0.6"/>
<line x1="613.14" y1="193.81" x2="613.14" y2="200.18" stroke="#444" stroke-width="0.55"/>
<line x1="611.64" y1="193.81" x2="614.64" y2="193.81" stroke="#444" stroke-width="0.55"/>
<line x1="611.64" y1="200.18" x2="614.64" y2="200.18" stroke="#444" stroke-width="0.55"/>
<rect x="611.99" y="195.84" width="2.30" height="2.30" fill="#fff" stroke="#3a3a3a" stroke-width="0.6"/>
<line x1="616.75" y1="193.51" x2="616.75" y2="200.00" stroke="#444" stroke-width="0.55"/>
<line x1="615.25" y1="193.51" x2="618.25" y2="193.51" stroke="#444" stroke-width="0.55"/>
<line x1="615.25" y1="200.00" x2="618.25" y2="200.00" stroke="#444" stroke-width="0.55"/>
<rect x="615.60" y="195.61" width="2.30" height="2.30" fill="#fff" stroke="#3a3a3a" stroke-width="0.6"/>
<line x1="620.36" y1="193.07" x2="620.36" y2="199.68" stroke="#444" stroke-width="0.55"/>
<line x1="618.86" y1="193.07" x2="621.86" y2="193.07" stroke="#444" stroke-width="0.55"/>
<line x1="618.86" y1="199.68" x2="621.86" y2="199.68" stroke="#444" stroke-width="0.55"/>
<rect x="619.21" y="195.22" width="2.30" height="2.30" fill="#fff" stroke="#3a3a3a" stroke-width="0.6"/>
<line x1="623.98" y1="194.14" x2="623.98" y2="200.86" stroke="#444" stroke-width="0.55"/>
<line x1="622.48" y1="194.14" x2="625.48" y2="194.14" stroke="#444" stroke-width="0.55"/>
<line x1="622.48" y1="200.86" x2="625.48" y2="200.86" stroke="#444" stroke-width="0.55"/>
<rect x="622.83" y="196.35" width="2.30" height="2.30" fill="#fff" stroke="#3a3a3a" stroke-width="0.6"/>
<line x1="627.59" y1="193.54" x2="627.59" y2="200.38" stroke="#444" stroke-width="0.55"/>
<line x1="626.09" y1="193.54" x2="629.09" y2="193.54" stroke="#444" stroke-width="0.55"/>
<line x1="626.09" y1="200.38" x2="629.09" y2="200.38" stroke="#444" stroke-width="0.55"/>
<rect x="626.44" y="195.81" width="2.30" height="2.30" fill="#fff" stroke="#3a3a3a" stroke-width="0.6"/>
<line x1="631.20" y1="193.60" x2="631.20" y2="200.55" stroke="#444" stroke-width="0.55"/>
<line x1="629.70" y1="193.60" x2="632.70" y2="193.60" stroke="#444" stroke-width="0.55"/>
<line x1="629.70" y1="200.55" x2="632.70" y2="200.55" stroke="#444" stroke-width="0.55"/>
<rect x="630.05" y="195.92" width="2.30" height="2.30" fill="#fff" stroke="#3a3a3a" stroke-width="0.6"/>
<line x1="634.81" y1="193.63" x2="634.81" y2="200.69" stroke="#444" stroke-width="0.55"/>
<line x1="633.31" y1="193.63" x2="636.31" y2="193.63" stroke="#444" stroke-width="0.55"/>
<line x1="633.31" y1="200.69" x2="636.31" y2="200.69" stroke="#444" stroke-width="0.55"/>
<rect x="633.66" y="196.01" width="2.30" height="2.30" fill="#fff" stroke="#3a3a3a" stroke-width="0.6"/>
<line x1="638.42" y1="193.88" x2="638.42" y2="201.06" stroke="#444" stroke-width="0.55"/>
<line x1="636.92" y1="193.88" x2="639.92" y2="193.88" stroke="#444" stroke-width="0.55"/>
<line x1="636.92" y1="201.06" x2="639.92" y2="201.06" stroke="#444" stroke-width="0.55"/>
<rect x="637.27" y="196.32" width="2.30" height="2.30" fill="#fff" stroke="#3a3a3a" stroke-width="0.6"/>
<line x1="642.04" y1="194.02" x2="642.04" y2="201.31" stroke="#444" stroke-width="0.55"/>
<line x1="640.54" y1="194.02" x2="643.54" y2="194.02" stroke="#444" stroke-width="0.55"/>
<line x1="640.54" y1="201.31" x2="643.54" y2="201.31" stroke="#444" stroke-width="0.55"/>
<rect x="640.89" y="196.52" width="2.30" height="2.30" fill="#fff" stroke="#3a3a3a" stroke-width="0.6"/>
<line x1="645.65" y1="193.61" x2="645.65" y2="201.03" stroke="#444" stroke-width="0.55"/>
<line x1="644.15" y1="193.61" x2="647.15" y2="193.61" stroke="#444" stroke-width="0.55"/>
<line x1="644.15" y1="201.03" x2="647.15" y2="201.03" stroke="#444" stroke-width="0.55"/>
<rect x="644.50" y="196.17" width="2.30" height="2.30" fill="#fff" stroke="#3a3a3a" stroke-width="0.6"/>
<line x1="649.26" y1="194.40" x2="649.26" y2="201.93" stroke="#444" stroke-width="0.55"/>
<line x1="647.76" y1="194.40" x2="650.76" y2="194.40" stroke="#444" stroke-width="0.55"/>
<line x1="647.76" y1="201.93" x2="650.76" y2="201.93" stroke="#444" stroke-width="0.55"/>
<rect x="648.11" y="197.01" width="2.30" height="2.30" fill="#fff" stroke="#3a3a3a" stroke-width="0.6"/>
<line x1="652.88" y1="194.03" x2="652.88" y2="201.68" stroke="#444" stroke-width="0.55"/>
<line x1="651.38" y1="194.03" x2="654.38" y2="194.03" stroke="#444" stroke-width="0.55"/>
<line x1="651.38" y1="201.68" x2="654.38" y2="201.68" stroke="#444" stroke-width="0.55"/>
<rect x="651.73" y="196.71" width="2.30" height="2.30" fill="#fff" stroke="#3a3a3a" stroke-width="0.6"/>
<line x1="656.49" y1="194.15" x2="656.49" y2="201.91" stroke="#444" stroke-width="0.55"/>
<line x1="654.99" y1="194.15" x2="657.99" y2="194.15" stroke="#444" stroke-width="0.55"/>
<line x1="654.99" y1="201.91" x2="657.99" y2="201.91" stroke="#444" stroke-width="0.55"/>
<rect x="655.34" y="196.88" width="2.30" height="2.30" fill="#fff" stroke="#3a3a3a" stroke-width="0.6"/>
<line x1="660.10" y1="194.16" x2="660.10" y2="202.04" stroke="#444" stroke-width="0.55"/>
<line x1="658.60" y1="194.16" x2="661.60" y2="194.16" stroke="#444" stroke-width="0.55"/>
<line x1="658.60" y1="202.04" x2="661.60" y2="202.04" stroke="#444" stroke-width="0.55"/>
<rect x="658.95" y="196.95" width="2.30" height="2.30" fill="#fff" stroke="#3a3a3a" stroke-width="0.6"/>
<line x1="663.71" y1="194.50" x2="663.71" y2="202.50" stroke="#444" stroke-width="0.55"/>
<line x1="662.21" y1="194.50" x2="665.21" y2="194.50" stroke="#444" stroke-width="0.55"/>
<line x1="662.21" y1="202.50" x2="665.21" y2="202.50" stroke="#444" stroke-width="0.55"/>
<rect x="662.56" y="197.35" width="2.30" height="2.30" fill="#fff" stroke="#3a3a3a" stroke-width="0.6"/>
<line x1="537.27" y1="221.71" x2="537.27" y2="237.47" stroke="#3db5a0" stroke-width="0.6"/>
<line x1="535.57" y1="221.71" x2="538.98" y2="221.71" stroke="#3db5a0" stroke-width="0.6"/>
<line x1="535.57" y1="237.47" x2="538.98" y2="237.47" stroke="#3db5a0" stroke-width="0.6"/>
<path d="M535.27,230.99 L539.27,230.99 L537.27,227.49 Z" fill="#3db5a0"/>
<line x1="540.89" y1="223.68" x2="540.89" y2="239.44" stroke="#3db5a0" stroke-width="0.6"/>
<line x1="539.19" y1="223.68" x2="542.59" y2="223.68" stroke="#3db5a0" stroke-width="0.6"/>
<line x1="539.19" y1="239.44" x2="542.59" y2="239.44" stroke="#3db5a0" stroke-width="0.6"/>
<path d="M538.89,232.96 L542.89,232.96 L540.89,229.46 Z" fill="#3db5a0"/>
<line x1="544.50" y1="228.54" x2="544.50" y2="244.30" stroke="#3db5a0" stroke-width="0.6"/>
<line x1="542.80" y1="228.54" x2="546.20" y2="228.54" stroke="#3db5a0" stroke-width="0.6"/>
<line x1="542.80" y1="244.30" x2="546.20" y2="244.30" stroke="#3db5a0" stroke-width="0.6"/>
<path d="M542.50,237.82 L546.50,237.82 L544.50,234.32 Z" fill="#3db5a0"/>
<line x1="548.11" y1="231.17" x2="548.11" y2="246.92" stroke="#3db5a0" stroke-width="0.6"/>
<line x1="546.41" y1="231.17" x2="549.81" y2="231.17" stroke="#3db5a0" stroke-width="0.6"/>
<line x1="546.41" y1="246.92" x2="549.81" y2="246.92" stroke="#3db5a0" stroke-width="0.6"/>
<path d="M546.11,240.45 L550.11,240.45 L548.11,236.95 Z" fill="#3db5a0"/>
<line x1="551.73" y1="234.97" x2="551.73" y2="250.73" stroke="#3db5a0" stroke-width="0.6"/>
<line x1="550.02" y1="234.97" x2="553.43" y2="234.97" stroke="#3db5a0" stroke-width="0.6"/>
<line x1="550.02" y1="250.73" x2="553.43" y2="250.73" stroke="#3db5a0" stroke-width="0.6"/>
<path d="M549.73,244.25 L553.73,244.25 L551.73,240.75 Z" fill="#3db5a0"/>
<line x1="555.34" y1="238.13" x2="555.34" y2="253.88" stroke="#3db5a0" stroke-width="0.6"/>
<line x1="553.64" y1="238.13" x2="557.04" y2="238.13" stroke="#3db5a0" stroke-width="0.6"/>
<line x1="553.64" y1="253.88" x2="557.04" y2="253.88" stroke="#3db5a0" stroke-width="0.6"/>
<path d="M553.34,247.40 L557.34,247.40 L555.34,243.90 Z" fill="#3db5a0"/>
<line x1="558.95" y1="238.13" x2="558.95" y2="253.88" stroke="#3db5a0" stroke-width="0.6"/>
<line x1="557.25" y1="238.13" x2="560.65" y2="238.13" stroke="#3db5a0" stroke-width="0.6"/>
<line x1="557.25" y1="253.88" x2="560.65" y2="253.88" stroke="#3db5a0" stroke-width="0.6"/>
<path d="M556.95,247.40 L560.95,247.40 L558.95,243.90 Z" fill="#3db5a0"/>
<line x1="562.56" y1="237.08" x2="562.56" y2="252.83" stroke="#3db5a0" stroke-width="0.6"/>
<line x1="560.86" y1="237.08" x2="564.26" y2="237.08" stroke="#3db5a0" stroke-width="0.6"/>
<line x1="560.86" y1="252.83" x2="564.26" y2="252.83" stroke="#3db5a0" stroke-width="0.6"/>
<path d="M560.56,246.35 L564.56,246.35 L562.56,242.85 Z" fill="#3db5a0"/>
<line x1="566.17" y1="235.11" x2="566.17" y2="248.24" stroke="#3db5a0" stroke-width="0.6"/>
<line x1="564.47" y1="235.11" x2="567.88" y2="235.11" stroke="#3db5a0" stroke-width="0.6"/>
<line x1="564.47" y1="248.24" x2="567.88" y2="248.24" stroke="#3db5a0" stroke-width="0.6"/>
<path d="M564.17,243.07 L568.17,243.07 L566.17,239.57 Z" fill="#3db5a0"/>
<line x1="569.79" y1="229.20" x2="569.79" y2="242.33" stroke="#3db5a0" stroke-width="0.6"/>
<line x1="568.09" y1="229.20" x2="571.49" y2="229.20" stroke="#3db5a0" stroke-width="0.6"/>
<line x1="568.09" y1="242.33" x2="571.49" y2="242.33" stroke="#3db5a0" stroke-width="0.6"/>
<path d="M567.79,237.16 L571.79,237.16 L569.79,233.66 Z" fill="#3db5a0"/>
<line x1="573.40" y1="220.66" x2="573.40" y2="233.79" stroke="#3db5a0" stroke-width="0.6"/>
<line x1="571.70" y1="220.66" x2="575.10" y2="220.66" stroke="#3db5a0" stroke-width="0.6"/>
<line x1="571.70" y1="233.79" x2="575.10" y2="233.79" stroke="#3db5a0" stroke-width="0.6"/>
<path d="M571.40,228.63 L575.40,228.63 L573.40,225.13 Z" fill="#3db5a0"/>
<line x1="577.01" y1="211.73" x2="577.01" y2="219.61" stroke="#3db5a0" stroke-width="0.6"/>
<line x1="575.31" y1="211.73" x2="578.71" y2="211.73" stroke="#3db5a0" stroke-width="0.6"/>
<line x1="575.31" y1="219.61" x2="578.71" y2="219.61" stroke="#3db5a0" stroke-width="0.6"/>
<path d="M575.01,217.07 L579.01,217.07 L577.01,213.57 Z" fill="#3db5a0"/>
<line x1="580.62" y1="206.09" x2="580.62" y2="211.34" stroke="#3db5a0" stroke-width="0.6"/>
<line x1="578.92" y1="206.09" x2="582.33" y2="206.09" stroke="#3db5a0" stroke-width="0.6"/>
<line x1="578.92" y1="211.34" x2="582.33" y2="211.34" stroke="#3db5a0" stroke-width="0.6"/>
<path d="M578.62,210.11 L582.62,210.11 L580.62,206.61 Z" fill="#3db5a0"/>
<line x1="584.24" y1="202.94" x2="584.24" y2="206.88" stroke="#3db5a0" stroke-width="0.6"/>
<line x1="582.54" y1="202.94" x2="585.94" y2="202.94" stroke="#3db5a0" stroke-width="0.6"/>
<line x1="582.54" y1="206.88" x2="585.94" y2="206.88" stroke="#3db5a0" stroke-width="0.6"/>
<path d="M582.24,206.31 L586.24,206.31 L584.24,202.81 Z" fill="#3db5a0"/>
<line x1="587.85" y1="200.31" x2="587.85" y2="204.25" stroke="#3db5a0" stroke-width="0.6"/>
<line x1="586.15" y1="200.31" x2="589.55" y2="200.31" stroke="#3db5a0" stroke-width="0.6"/>
<line x1="586.15" y1="204.25" x2="589.55" y2="204.25" stroke="#3db5a0" stroke-width="0.6"/>
<path d="M585.85,203.68 L589.85,203.68 L587.85,200.18 Z" fill="#3db5a0"/>
<line x1="591.46" y1="198.18" x2="591.46" y2="201.60" stroke="#3db5a0" stroke-width="0.6"/>
<line x1="589.76" y1="198.18" x2="593.16" y2="198.18" stroke="#3db5a0" stroke-width="0.6"/>
<line x1="589.76" y1="201.60" x2="593.16" y2="201.60" stroke="#3db5a0" stroke-width="0.6"/>
<path d="M589.46,201.29 L593.46,201.29 L591.46,197.79 Z" fill="#3db5a0"/>
<line x1="595.08" y1="196.99" x2="595.08" y2="200.40" stroke="#3db5a0" stroke-width="0.6"/>
<line x1="593.38" y1="196.99" x2="596.78" y2="196.99" stroke="#3db5a0" stroke-width="0.6"/>
<line x1="593.38" y1="200.40" x2="596.78" y2="200.40" stroke="#3db5a0" stroke-width="0.6"/>
<path d="M593.08,200.10 L597.08,200.10 L595.08,196.60 Z" fill="#3db5a0"/>
<line x1="598.69" y1="197.77" x2="598.69" y2="201.18" stroke="#3db5a0" stroke-width="0.6"/>
<line x1="596.99" y1="197.77" x2="600.39" y2="197.77" stroke="#3db5a0" stroke-width="0.6"/>
<line x1="596.99" y1="201.18" x2="600.39" y2="201.18" stroke="#3db5a0" stroke-width="0.6"/>
<path d="M596.69,200.88 L600.69,200.88 L598.69,197.38 Z" fill="#3db5a0"/>
<line x1="602.30" y1="196.98" x2="602.30" y2="200.39" stroke="#3db5a0" stroke-width="0.6"/>
<line x1="600.60" y1="196.98" x2="604.00" y2="196.98" stroke="#3db5a0" stroke-width="0.6"/>
<line x1="600.60" y1="200.39" x2="604.00" y2="200.39" stroke="#3db5a0" stroke-width="0.6"/>
<path d="M600.30,200.09 L604.30,200.09 L602.30,196.59 Z" fill="#3db5a0"/>
<line x1="605.91" y1="196.66" x2="605.91" y2="200.07" stroke="#3db5a0" stroke-width="0.6"/>
<line x1="604.21" y1="196.66" x2="607.61" y2="196.66" stroke="#3db5a0" stroke-width="0.6"/>
<line x1="604.21" y1="200.07" x2="607.61" y2="200.07" stroke="#3db5a0" stroke-width="0.6"/>
<path d="M603.91,199.76 L607.91,199.76 L605.91,196.26 Z" fill="#3db5a0"/>
<line x1="609.52" y1="196.99" x2="609.52" y2="200.40" stroke="#3db5a0" stroke-width="0.6"/>
<line x1="607.82" y1="196.99" x2="611.23" y2="196.99" stroke="#3db5a0" stroke-width="0.6"/>
<line x1="607.82" y1="200.40" x2="611.23" y2="200.40" stroke="#3db5a0" stroke-width="0.6"/>
<path d="M607.52,200.09 L611.52,200.09 L609.52,196.59 Z" fill="#3db5a0"/>
<line x1="613.14" y1="197.58" x2="613.14" y2="200.99" stroke="#3db5a0" stroke-width="0.6"/>
<line x1="611.44" y1="197.58" x2="614.84" y2="197.58" stroke="#3db5a0" stroke-width="0.6"/>
<line x1="611.44" y1="200.99" x2="614.84" y2="200.99" stroke="#3db5a0" stroke-width="0.6"/>
<path d="M611.14,200.68 L615.14,200.68 L613.14,197.18 Z" fill="#3db5a0"/>
<line x1="616.75" y1="196.86" x2="616.75" y2="200.27" stroke="#3db5a0" stroke-width="0.6"/>
<line x1="615.05" y1="196.86" x2="618.45" y2="196.86" stroke="#3db5a0" stroke-width="0.6"/>
<line x1="615.05" y1="200.27" x2="618.45" y2="200.27" stroke="#3db5a0" stroke-width="0.6"/>
<path d="M614.75,199.97 L618.75,199.97 L616.75,196.47 Z" fill="#3db5a0"/>
<line x1="620.36" y1="197.60" x2="620.36" y2="201.02" stroke="#3db5a0" stroke-width="0.6"/>
<line x1="618.66" y1="197.60" x2="622.06" y2="197.60" stroke="#3db5a0" stroke-width="0.6"/>
<line x1="618.66" y1="201.02" x2="622.06" y2="201.02" stroke="#3db5a0" stroke-width="0.6"/>
<path d="M618.36,200.71 L622.36,200.71 L620.36,197.21 Z" fill="#3db5a0"/>
<line x1="623.98" y1="197.71" x2="623.98" y2="201.12" stroke="#3db5a0" stroke-width="0.6"/>
<line x1="622.27" y1="197.71" x2="625.68" y2="197.71" stroke="#3db5a0" stroke-width="0.6"/>
<line x1="622.27" y1="201.12" x2="625.68" y2="201.12" stroke="#3db5a0" stroke-width="0.6"/>
<path d="M621.98,200.81 L625.98,200.81 L623.98,197.31 Z" fill="#3db5a0"/>
<line x1="627.59" y1="197.31" x2="627.59" y2="200.72" stroke="#3db5a0" stroke-width="0.6"/>
<line x1="625.89" y1="197.31" x2="629.29" y2="197.31" stroke="#3db5a0" stroke-width="0.6"/>
<line x1="625.89" y1="200.72" x2="629.29" y2="200.72" stroke="#3db5a0" stroke-width="0.6"/>
<path d="M625.59,200.42 L629.59,200.42 L627.59,196.92 Z" fill="#3db5a0"/>
<line x1="631.20" y1="197.18" x2="631.20" y2="200.60" stroke="#3db5a0" stroke-width="0.6"/>
<line x1="629.50" y1="197.18" x2="632.90" y2="197.18" stroke="#3db5a0" stroke-width="0.6"/>
<line x1="629.50" y1="200.60" x2="632.90" y2="200.60" stroke="#3db5a0" stroke-width="0.6"/>
<path d="M629.20,200.29 L633.20,200.29 L631.20,196.79 Z" fill="#3db5a0"/>
<line x1="634.81" y1="197.13" x2="634.81" y2="200.54" stroke="#3db5a0" stroke-width="0.6"/>
<line x1="633.11" y1="197.13" x2="636.51" y2="197.13" stroke="#3db5a0" stroke-width="0.6"/>
<line x1="633.11" y1="200.54" x2="636.51" y2="200.54" stroke="#3db5a0" stroke-width="0.6"/>
<path d="M632.81,200.24 L636.81,200.24 L634.81,196.74 Z" fill="#3db5a0"/>
<line x1="638.42" y1="197.34" x2="638.42" y2="200.75" stroke="#3db5a0" stroke-width="0.6"/>
<line x1="636.72" y1="197.34" x2="640.12" y2="197.34" stroke="#3db5a0" stroke-width="0.6"/>
<line x1="636.72" y1="200.75" x2="640.12" y2="200.75" stroke="#3db5a0" stroke-width="0.6"/>
<path d="M636.42,200.45 L640.42,200.45 L638.42,196.95 Z" fill="#3db5a0"/>
<rect x="586.90" y="210.40" width="61.40" height="16.40" fill="#fff" stroke="#999" stroke-width="0.7"/>
<text x="617.60" y="217.00" font-size="7.3" text-anchor="middle" textLength="46.00" lengthAdjust="spacingAndGlyphs">Full off switch</text>
<text x="617.60" y="224.80" font-size="7.3" text-anchor="middle" textLength="56.00" lengthAdjust="spacingAndGlyphs">at 410 to 470 nm</text>
<rect x="561.60" y="258.50" width="106.60" height="11.80" fill="#fff" stroke="#999" stroke-width="0.7"/>
<circle cx="567.3" cy="264.2" r="1.5" fill="#444"/>
<text x="570.9" y="266.2" font-size="6.2" font-style="italic" textLength="52.0" lengthAdjust="spacingAndGlyphs"><tspan font-style="normal">Mean</tspan> of (3) and (5)</text>
<path d="M629.9,266.4 L634.3,266.4 L632.1,262.2 Z" fill="#3db5a0"/>
<text x="635.40" y="266.20" font-size="6.2" textLength="7.40" lengthAdjust="spacingAndGlyphs" font-style="italic">(4)</text>
<rect x="648.90" y="262.80" width="2.70" height="2.70" fill="#555" stroke="none" stroke-width="0.6"/>
<text x="653.80" y="266.20" font-size="6.2" textLength="8.00" lengthAdjust="spacingAndGlyphs" font-style="italic">(6)</text>
<text x="27.5" y="308.6" font-size="9.5" textLength="147.9" lengthAdjust="spacingAndGlyphs">Experiment versus theory: <tspan font-style="italic">efficacy</tspan></text>
<path d="M32.80,418.2 L32.80,327.2 L169.60,327.2 L169.60,418.2" fill="none" stroke="#777" stroke-width="0.8"/>
<line x1="42.84" y1="325.40" x2="42.84" y2="327.20" stroke="#666" stroke-width="0.8"/>
<text x="42.84" y="321.30" font-size="7.3" text-anchor="middle" textLength="13.30" lengthAdjust="spacingAndGlyphs">340</text>
<line x1="62.32" y1="325.40" x2="62.32" y2="327.20" stroke="#666" stroke-width="0.8"/>
<text x="62.32" y="321.30" font-size="7.3" text-anchor="middle" textLength="13.30" lengthAdjust="spacingAndGlyphs">360</text>
<line x1="81.80" y1="325.40" x2="81.80" y2="327.20" stroke="#666" stroke-width="0.8"/>
<text x="81.80" y="321.30" font-size="7.3" text-anchor="middle" textLength="13.30" lengthAdjust="spacingAndGlyphs">380</text>
<line x1="101.28" y1="325.40" x2="101.28" y2="327.20" stroke="#666" stroke-width="0.8"/>
<text x="101.28" y="321.30" font-size="7.3" text-anchor="middle" textLength="13.30" lengthAdjust="spacingAndGlyphs">400</text>
<line x1="120.76" y1="325.40" x2="120.76" y2="327.20" stroke="#666" stroke-width="0.8"/>
<text x="120.76" y="321.30" font-size="7.3" text-anchor="middle" textLength="13.30" lengthAdjust="spacingAndGlyphs">420</text>
<line x1="140.24" y1="325.40" x2="140.24" y2="327.20" stroke="#666" stroke-width="0.8"/>
<text x="140.24" y="321.30" font-size="7.3" text-anchor="middle" textLength="13.30" lengthAdjust="spacingAndGlyphs">440</text>
<line x1="159.72" y1="325.40" x2="159.72" y2="327.20" stroke="#666" stroke-width="0.8"/>
<text x="159.72" y="321.30" font-size="7.3" text-anchor="middle" textLength="13.30" lengthAdjust="spacingAndGlyphs">460</text>
<text x="167.46" y="321.30" font-size="7.0" textLength="14.80" lengthAdjust="spacingAndGlyphs">[nm]</text>
<line x1="30.80" y1="351.50" x2="32.80" y2="351.50" stroke="#777" stroke-width="0.7"/>
<text x="27.90" y="353.90" font-size="7.2" text-anchor="end" textLength="13.30" lengthAdjust="spacingAndGlyphs">–20</text>
<line x1="30.80" y1="384.50" x2="32.80" y2="384.50" stroke="#777" stroke-width="0.7"/>
<text x="27.90" y="386.90" font-size="7.2" text-anchor="end" textLength="13.30" lengthAdjust="spacingAndGlyphs">–40</text>
<line x1="30.80" y1="417.50" x2="32.80" y2="417.50" stroke="#777" stroke-width="0.7"/>
<text x="27.90" y="419.90" font-size="7.2" text-anchor="end" textLength="13.30" lengthAdjust="spacingAndGlyphs">–60</text>
<line x1="169.60" y1="352.00" x2="171.60" y2="352.00" stroke="#777" stroke-width="0.7"/>
<text x="176.10" y="354.40" font-size="6.8" textLength="5.00" lengthAdjust="spacingAndGlyphs">0</text>
<line x1="169.60" y1="367.10" x2="171.60" y2="367.10" stroke="#777" stroke-width="0.7"/>
<line x1="169.60" y1="382.20" x2="171.60" y2="382.20" stroke="#777" stroke-width="0.7"/>
<text x="176.10" y="384.60" font-size="6.8" textLength="7.20" lengthAdjust="spacingAndGlyphs">–1</text>
<line x1="169.60" y1="397.20" x2="171.60" y2="397.20" stroke="#777" stroke-width="0.7"/>
<line x1="169.60" y1="412.10" x2="171.60" y2="412.10" stroke="#777" stroke-width="0.7"/>
<text x="176.10" y="414.50" font-size="6.8" textLength="7.20" lengthAdjust="spacingAndGlyphs">–2</text>
<text x="190.4" y="376.6" font-size="8.4" text-anchor="middle" textLength="31.6" lengthAdjust="spacingAndGlyphs" transform="rotate(90 190.4 376.6)">–log[<tspan font-style="italic">Z</tspan>/<tspan font-style="italic">E</tspan>]</text>
<path d="M32.8,357.0L37.7,365.8L42.5,374.1L47.4,378.9L52.3,383.8L57.1,388.9L62.0,388.9L66.9,384.5L71.7,376.7L76.6,363.1L81.5,347.3L86.4,337.0L91.2,331.4L96.1,329.7L101.0,329.3L105.8,329.3L110.7,329.7L115.6,330.2L120.4,330.2L125.3,330.5L130.2,330.7L135.1,331.0L139.9,331.2L144.8,331.2L149.7,331.2L154.5,331.2L159.4,331.4L164.3,331.7L169.1,332.2" fill="none" stroke="#d9657c" stroke-width="0.9" stroke-linejoin="round"/>
<path d="M32.8,374.1L37.7,377.2L42.5,382.8L47.4,386.2L52.3,390.6L57.1,395.0L62.0,395.0L66.9,393.8L71.7,389.4L76.6,382.1L81.5,371.6L86.4,357.7L91.2,348.0L96.1,342.6L101.0,337.5L105.8,337.5L110.7,335.8L115.6,335.1L120.4,334.1L125.3,334.1L130.2,333.6L135.1,334.1L139.9,334.1L144.8,334.6L149.7,334.6L154.5,334.6L159.4,335.1L164.3,335.1L169.1,335.8" fill="none" stroke="#3db5a0" stroke-width="0.9" stroke-linejoin="round"/>
<path d="M32.8,374.1L42.5,384.5L52.3,391.1L62.0,391.1L71.7,379.7L81.5,368.2L91.2,358.5L101.0,335.1L110.7,330.2L120.4,330.2L130.2,332.7L139.9,334.1L149.7,336.6L159.4,339.0L169.1,341.4" fill="none" stroke="#111" stroke-width="0.9" stroke-linejoin="round"/>
<circle cx="32.79" cy="357.01" r="2.0" fill="#d9657c"/>
<circle cx="37.66" cy="365.78" r="2.0" fill="#d9657c"/>
<circle cx="42.53" cy="374.05" r="2.0" fill="#d9657c"/>
<circle cx="47.40" cy="378.92" r="2.0" fill="#d9657c"/>
<circle cx="52.27" cy="383.79" r="2.0" fill="#d9657c"/>
<circle cx="57.14" cy="388.91" r="2.0" fill="#d9657c"/>
<circle cx="62.01" cy="388.91" r="2.0" fill="#d9657c"/>
<circle cx="66.88" cy="384.52" r="2.0" fill="#d9657c"/>
<circle cx="71.75" cy="376.73" r="2.0" fill="#d9657c"/>
<circle cx="76.62" cy="363.10" r="2.0" fill="#d9657c"/>
<circle cx="81.49" cy="347.27" r="2.0" fill="#d9657c"/>
<circle cx="86.36" cy="337.04" r="2.0" fill="#d9657c"/>
<circle cx="91.23" cy="331.44" r="2.0" fill="#d9657c"/>
<circle cx="96.10" cy="329.74" r="2.0" fill="#d9657c"/>
<circle cx="100.97" cy="329.25" r="2.0" fill="#d9657c"/>
<circle cx="105.84" cy="329.25" r="2.0" fill="#d9657c"/>
<circle cx="110.71" cy="329.74" r="2.0" fill="#d9657c"/>
<circle cx="115.58" cy="330.23" r="2.0" fill="#d9657c"/>
<circle cx="120.45" cy="330.23" r="2.0" fill="#d9657c"/>
<circle cx="125.32" cy="330.47" r="2.0" fill="#d9657c"/>
<circle cx="130.19" cy="330.71" r="2.0" fill="#d9657c"/>
<circle cx="135.06" cy="330.96" r="2.0" fill="#d9657c"/>
<circle cx="139.93" cy="331.20" r="2.0" fill="#d9657c"/>
<circle cx="144.80" cy="331.20" r="2.0" fill="#d9657c"/>
<circle cx="149.67" cy="331.20" r="2.0" fill="#d9657c"/>
<circle cx="154.53" cy="331.20" r="2.0" fill="#d9657c"/>
<circle cx="159.40" cy="331.44" r="2.0" fill="#d9657c"/>
<circle cx="164.27" cy="331.69" r="2.0" fill="#d9657c"/>
<circle cx="169.14" cy="332.17" r="2.0" fill="#d9657c"/>
<path d="M30.79,375.65 L34.79,375.65 L32.79,371.85 Z" fill="#3db5a0"/>
<path d="M35.66,378.82 L39.66,378.82 L37.66,375.02 Z" fill="#3db5a0"/>
<path d="M40.53,384.42 L44.53,384.42 L42.53,380.62 Z" fill="#3db5a0"/>
<path d="M45.40,387.83 L49.40,387.83 L47.40,384.03 Z" fill="#3db5a0"/>
<path d="M50.27,392.21 L54.27,392.21 L52.27,388.41 Z" fill="#3db5a0"/>
<path d="M55.14,396.59 L59.14,396.59 L57.14,392.79 Z" fill="#3db5a0"/>
<path d="M60.01,396.59 L64.01,396.59 L62.01,392.79 Z" fill="#3db5a0"/>
<path d="M64.88,395.38 L68.88,395.38 L66.88,391.58 Z" fill="#3db5a0"/>
<path d="M69.75,390.99 L73.75,390.99 L71.75,387.19 Z" fill="#3db5a0"/>
<path d="M74.62,383.69 L78.62,383.69 L76.62,379.89 Z" fill="#3db5a0"/>
<path d="M79.49,373.22 L83.49,373.22 L81.49,369.42 Z" fill="#3db5a0"/>
<path d="M84.36,359.34 L88.36,359.34 L86.36,355.54 Z" fill="#3db5a0"/>
<path d="M89.23,349.60 L93.23,349.60 L91.23,345.80 Z" fill="#3db5a0"/>
<path d="M94.10,344.24 L98.10,344.24 L96.10,340.44 Z" fill="#3db5a0"/>
<path d="M98.97,339.13 L102.97,339.13 L100.97,335.33 Z" fill="#3db5a0"/>
<path d="M103.84,339.13 L107.84,339.13 L105.84,335.33 Z" fill="#3db5a0"/>
<path d="M108.71,337.43 L112.71,337.43 L110.71,333.63 Z" fill="#3db5a0"/>
<path d="M113.58,336.70 L117.58,336.70 L115.58,332.90 Z" fill="#3db5a0"/>
<path d="M118.45,335.72 L122.45,335.72 L120.45,331.92 Z" fill="#3db5a0"/>
<path d="M123.32,335.72 L127.32,335.72 L125.32,331.92 Z" fill="#3db5a0"/>
<path d="M128.19,335.24 L132.19,335.24 L130.19,331.44 Z" fill="#3db5a0"/>
<path d="M133.06,335.72 L137.06,335.72 L135.06,331.92 Z" fill="#3db5a0"/>
<path d="M137.93,335.72 L141.93,335.72 L139.93,331.92 Z" fill="#3db5a0"/>
<path d="M142.80,336.21 L146.80,336.21 L144.80,332.41 Z" fill="#3db5a0"/>
<path d="M147.67,336.21 L151.67,336.21 L149.67,332.41 Z" fill="#3db5a0"/>
<path d="M152.53,336.21 L156.53,336.21 L154.53,332.41 Z" fill="#3db5a0"/>
<path d="M157.40,336.70 L161.40,336.70 L159.40,332.90 Z" fill="#3db5a0"/>
<path d="M162.27,336.70 L166.27,336.70 L164.27,332.90 Z" fill="#3db5a0"/>
<path d="M167.14,337.43 L171.14,337.43 L169.14,333.63 Z" fill="#3db5a0"/>
<path d="M30.99,372.25 L34.59,375.85 M30.99,375.85 L34.59,372.25" stroke="#111" stroke-width="1.15" fill="none"/>
<path d="M40.73,382.72 L44.33,386.32 M40.73,386.32 L44.33,382.72" stroke="#111" stroke-width="1.15" fill="none"/>
<path d="M50.47,389.30 L54.07,392.90 M50.47,392.90 L54.07,389.30" stroke="#111" stroke-width="1.15" fill="none"/>
<path d="M60.21,389.30 L63.81,392.90 M60.21,392.90 L63.81,389.30" stroke="#111" stroke-width="1.15" fill="none"/>
<path d="M69.95,377.85 L73.55,381.45 M69.95,381.45 L73.55,377.85" stroke="#111" stroke-width="1.15" fill="none"/>
<path d="M79.69,366.41 L83.29,370.01 M79.69,370.01 L83.29,366.41" stroke="#111" stroke-width="1.15" fill="none"/>
<path d="M89.43,356.67 L93.03,360.27 M89.43,360.27 L93.03,356.67" stroke="#111" stroke-width="1.15" fill="none"/>
<path d="M99.17,333.30 L102.77,336.90 M99.17,336.90 L102.77,333.30" stroke="#111" stroke-width="1.15" fill="none"/>
<path d="M108.91,328.43 L112.51,332.03 M108.91,332.03 L112.51,328.43" stroke="#111" stroke-width="1.15" fill="none"/>
<path d="M118.65,328.43 L122.25,332.03 M118.65,332.03 L122.25,328.43" stroke="#111" stroke-width="1.15" fill="none"/>
<path d="M128.39,330.86 L131.99,334.46 M128.39,334.46 L131.99,330.86" stroke="#111" stroke-width="1.15" fill="none"/>
<path d="M138.13,332.32 L141.73,335.92 M138.13,335.92 L141.73,332.32" stroke="#111" stroke-width="1.15" fill="none"/>
<path d="M147.87,334.76 L151.47,338.36 M147.87,338.36 L151.47,334.76" stroke="#111" stroke-width="1.15" fill="none"/>
<path d="M157.60,337.19 L161.20,340.79 M157.60,340.79 L161.20,337.19" stroke="#111" stroke-width="1.15" fill="none"/>
<path d="M167.34,339.63 L170.94,343.23 M167.34,343.23 L170.94,339.63" stroke="#111" stroke-width="1.15" fill="none"/>
<circle cx="92.00" cy="381.70" r="2.15" fill="#d9657c"/>
<text x="97.50" y="384.90" font-size="7.4" textLength="52.80" lengthAdjust="spacingAndGlyphs">On switch (exp)</text>
<path d="M89.85,397.82 L94.15,397.82 L92.00,393.74 Z" fill="#3db5a0"/>
<text x="97.50" y="398.50" font-size="7.4" textLength="53.30" lengthAdjust="spacingAndGlyphs">Off switch (exp)</text>
<path d="M90.10,407.20 L93.90,411.00 M90.10,411.00 L93.90,407.20" stroke="#111" stroke-width="1.15" fill="none"/>
<text x="97.8" y="412.6" font-size="7.4" textLength="30.4" lengthAdjust="spacingAndGlyphs">–log[<tspan font-style="italic">Z</tspan>/<tspan font-style="italic">E</tspan>]</text><text x="129.2" y="414.9" font-size="5.2" font-style="italic" fill="#555" textLength="9.4" lengthAdjust="spacingAndGlyphs">PSS</text>
<text x="98.7" y="420.8" font-size="7.4" font-style="italic" textLength="49.2" lengthAdjust="spacingAndGlyphs">efficacy model</text>
<text x="7.70" y="375.10" font-size="7.6" text-anchor="middle" textLength="24.80" lengthAdjust="spacingAndGlyphs" transform="rotate(-90 7.70 375.10)">pA/pF</text>
<text x="233.4" y="308.7" font-size="9.5" textLength="143.2" lengthAdjust="spacingAndGlyphs">Experiment versus theory: <tspan font-style="italic">affinity</tspan></text>
<path d="M235.40,418.2 L235.40,327.2 L372.20,327.2 L372.20,418.2" fill="none" stroke="#777" stroke-width="0.8"/>
<line x1="245.44" y1="325.40" x2="245.44" y2="327.20" stroke="#666" stroke-width="0.8"/>
<text x="245.44" y="321.30" font-size="7.3" text-anchor="middle" textLength="13.30" lengthAdjust="spacingAndGlyphs">340</text>
<line x1="264.92" y1="325.40" x2="264.92" y2="327.20" stroke="#666" stroke-width="0.8"/>
<text x="264.92" y="321.30" font-size="7.3" text-anchor="middle" textLength="13.30" lengthAdjust="spacingAndGlyphs">360</text>
<line x1="284.40" y1="325.40" x2="284.40" y2="327.20" stroke="#666" stroke-width="0.8"/>
<text x="284.40" y="321.30" font-size="7.3" text-anchor="middle" textLength="13.30" lengthAdjust="spacingAndGlyphs">380</text>
<line x1="303.88" y1="325.40" x2="303.88" y2="327.20" stroke="#666" stroke-width="0.8"/>
<text x="303.88" y="321.30" font-size="7.3" text-anchor="middle" textLength="13.30" lengthAdjust="spacingAndGlyphs">400</text>
<line x1="323.36" y1="325.40" x2="323.36" y2="327.20" stroke="#666" stroke-width="0.8"/>
<text x="323.36" y="321.30" font-size="7.3" text-anchor="middle" textLength="13.30" lengthAdjust="spacingAndGlyphs">420</text>
<line x1="342.84" y1="325.40" x2="342.84" y2="327.20" stroke="#666" stroke-width="0.8"/>
<text x="342.84" y="321.30" font-size="7.3" text-anchor="middle" textLength="13.30" lengthAdjust="spacingAndGlyphs">440</text>
<line x1="362.32" y1="325.40" x2="362.32" y2="327.20" stroke="#666" stroke-width="0.8"/>
<text x="362.32" y="321.30" font-size="7.3" text-anchor="middle" textLength="13.30" lengthAdjust="spacingAndGlyphs">460</text>
<text x="370.06" y="321.30" font-size="7.0" textLength="14.80" lengthAdjust="spacingAndGlyphs">[nm]</text>
<line x1="233.40" y1="351.50" x2="235.40" y2="351.50" stroke="#777" stroke-width="0.7"/>
<text x="230.50" y="353.90" font-size="7.2" text-anchor="end" textLength="13.30" lengthAdjust="spacingAndGlyphs">–20</text>
<line x1="233.40" y1="384.50" x2="235.40" y2="384.50" stroke="#777" stroke-width="0.7"/>
<text x="230.50" y="386.90" font-size="7.2" text-anchor="end" textLength="13.30" lengthAdjust="spacingAndGlyphs">–40</text>
<line x1="233.40" y1="417.50" x2="235.40" y2="417.50" stroke="#777" stroke-width="0.7"/>
<text x="230.50" y="419.90" font-size="7.2" text-anchor="end" textLength="13.30" lengthAdjust="spacingAndGlyphs">–60</text>
<line x1="372.20" y1="337.90" x2="374.20" y2="337.90" stroke="#777" stroke-width="0.7"/>
<line x1="372.20" y1="354.90" x2="374.20" y2="354.90" stroke="#777" stroke-width="0.7"/>
<text x="378.70" y="357.30" font-size="6.8" textLength="10.40" lengthAdjust="spacingAndGlyphs">8.5</text>
<line x1="372.20" y1="372.10" x2="374.20" y2="372.10" stroke="#777" stroke-width="0.7"/>
<line x1="372.20" y1="389.40" x2="374.20" y2="389.40" stroke="#777" stroke-width="0.7"/>
<text x="378.70" y="391.80" font-size="6.8" textLength="10.40" lengthAdjust="spacingAndGlyphs">8.0</text>
<line x1="372.20" y1="406.60" x2="374.20" y2="406.60" stroke="#777" stroke-width="0.7"/>
<text x="396.6" y="370.8" font-size="8.4" text-anchor="middle" textLength="28.6" lengthAdjust="spacingAndGlyphs" transform="rotate(90 396.6 370.8)">–log[<tspan font-style="italic">Z</tspan>]</text>
<path d="M237.3,357.0L242.2,365.8L247.0,374.1L251.9,378.9L256.8,383.8L261.6,388.9L266.5,388.9L271.4,384.5L276.2,376.7L281.1,363.1L286.0,347.3L290.9,337.0L295.7,331.4L300.6,329.7L305.5,329.3L310.3,329.3L315.2,329.7L320.1,330.2L324.9,330.2L329.8,330.5L334.7,330.7L339.6,331.0L344.4,331.2L349.3,331.2L354.2,331.2L359.0,331.2L363.9,331.4L368.8,331.7L373.6,332.2" fill="none" stroke="#d9657c" stroke-width="0.9" stroke-linejoin="round"/>
<path d="M237.3,374.1L242.2,377.2L247.0,382.8L251.9,386.2L256.8,390.6L261.6,395.0L266.5,395.0L271.4,393.8L276.2,389.4L281.1,382.1L286.0,371.6L290.9,357.7L295.7,348.0L300.6,342.6L305.5,337.5L310.3,337.5L315.2,335.8L320.1,335.1L324.9,334.1L329.8,334.1L334.7,333.6L339.6,334.1L344.4,334.1L349.3,334.6L354.2,334.6L359.0,334.6L363.9,335.1L368.8,335.1L373.6,335.8" fill="none" stroke="#3db5a0" stroke-width="0.9" stroke-linejoin="round"/>
<path d="M235.3,385.3L244.8,388.2L254.6,390.1L264.3,389.2L274.1,388.2L283.8,383.3L293.5,376.5L303.3,343.9L313.0,335.8L322.8,335.8L332.5,339.0L342.2,342.6L352.0,346.3L361.7,351.2L371.5,354.1" fill="none" stroke="#111" stroke-width="0.9" stroke-linejoin="round"/>
<circle cx="237.29" cy="357.01" r="2.0" fill="#d9657c"/>
<circle cx="242.16" cy="365.78" r="2.0" fill="#d9657c"/>
<circle cx="247.03" cy="374.05" r="2.0" fill="#d9657c"/>
<circle cx="251.90" cy="378.92" r="2.0" fill="#d9657c"/>
<circle cx="256.77" cy="383.79" r="2.0" fill="#d9657c"/>
<circle cx="261.64" cy="388.91" r="2.0" fill="#d9657c"/>
<circle cx="266.51" cy="388.91" r="2.0" fill="#d9657c"/>
<circle cx="271.38" cy="384.52" r="2.0" fill="#d9657c"/>
<circle cx="276.25" cy="376.73" r="2.0" fill="#d9657c"/>
<circle cx="281.12" cy="363.10" r="2.0" fill="#d9657c"/>
<circle cx="285.99" cy="347.27" r="2.0" fill="#d9657c"/>
<circle cx="290.86" cy="337.04" r="2.0" fill="#d9657c"/>
<circle cx="295.73" cy="331.44" r="2.0" fill="#d9657c"/>
<circle cx="300.60" cy="329.74" r="2.0" fill="#d9657c"/>
<circle cx="305.47" cy="329.25" r="2.0" fill="#d9657c"/>
<circle cx="310.34" cy="329.25" r="2.0" fill="#d9657c"/>
<circle cx="315.21" cy="329.74" r="2.0" fill="#d9657c"/>
<circle cx="320.08" cy="330.23" r="2.0" fill="#d9657c"/>
<circle cx="324.95" cy="330.23" r="2.0" fill="#d9657c"/>
<circle cx="329.82" cy="330.47" r="2.0" fill="#d9657c"/>
<circle cx="334.69" cy="330.71" r="2.0" fill="#d9657c"/>
<circle cx="339.56" cy="330.96" r="2.0" fill="#d9657c"/>
<circle cx="344.43" cy="331.20" r="2.0" fill="#d9657c"/>
<circle cx="349.30" cy="331.20" r="2.0" fill="#d9657c"/>
<circle cx="354.17" cy="331.20" r="2.0" fill="#d9657c"/>
<circle cx="359.03" cy="331.20" r="2.0" fill="#d9657c"/>
<circle cx="363.90" cy="331.44" r="2.0" fill="#d9657c"/>
<circle cx="368.77" cy="331.69" r="2.0" fill="#d9657c"/>
<circle cx="373.64" cy="332.17" r="2.0" fill="#d9657c"/>
<path d="M235.29,375.65 L239.29,375.65 L237.29,371.85 Z" fill="#3db5a0"/>
<path d="M240.16,378.82 L244.16,378.82 L242.16,375.02 Z" fill="#3db5a0"/>
<path d="M245.03,384.42 L249.03,384.42 L247.03,380.62 Z" fill="#3db5a0"/>
<path d="M249.90,387.83 L253.90,387.83 L251.90,384.03 Z" fill="#3db5a0"/>
<path d="M254.77,392.21 L258.77,392.21 L256.77,388.41 Z" fill="#3db5a0"/>
<path d="M259.64,396.59 L263.64,396.59 L261.64,392.79 Z" fill="#3db5a0"/>
<path d="M264.51,396.59 L268.51,396.59 L266.51,392.79 Z" fill="#3db5a0"/>
<path d="M269.38,395.38 L273.38,395.38 L271.38,391.58 Z" fill="#3db5a0"/>
<path d="M274.25,390.99 L278.25,390.99 L276.25,387.19 Z" fill="#3db5a0"/>
<path d="M279.12,383.69 L283.12,383.69 L281.12,379.89 Z" fill="#3db5a0"/>
<path d="M283.99,373.22 L287.99,373.22 L285.99,369.42 Z" fill="#3db5a0"/>
<path d="M288.86,359.34 L292.86,359.34 L290.86,355.54 Z" fill="#3db5a0"/>
<path d="M293.73,349.60 L297.73,349.60 L295.73,345.80 Z" fill="#3db5a0"/>
<path d="M298.60,344.24 L302.60,344.24 L300.60,340.44 Z" fill="#3db5a0"/>
<path d="M303.47,339.13 L307.47,339.13 L305.47,335.33 Z" fill="#3db5a0"/>
<path d="M308.34,339.13 L312.34,339.13 L310.34,335.33 Z" fill="#3db5a0"/>
<path d="M313.21,337.43 L317.21,337.43 L315.21,333.63 Z" fill="#3db5a0"/>
<path d="M318.08,336.70 L322.08,336.70 L320.08,332.90 Z" fill="#3db5a0"/>
<path d="M322.95,335.72 L326.95,335.72 L324.95,331.92 Z" fill="#3db5a0"/>
<path d="M327.82,335.72 L331.82,335.72 L329.82,331.92 Z" fill="#3db5a0"/>
<path d="M332.69,335.24 L336.69,335.24 L334.69,331.44 Z" fill="#3db5a0"/>
<path d="M337.56,335.72 L341.56,335.72 L339.56,331.92 Z" fill="#3db5a0"/>
<path d="M342.43,335.72 L346.43,335.72 L344.43,331.92 Z" fill="#3db5a0"/>
<path d="M347.30,336.21 L351.30,336.21 L349.30,332.41 Z" fill="#3db5a0"/>
<path d="M352.17,336.21 L356.17,336.21 L354.17,332.41 Z" fill="#3db5a0"/>
<path d="M357.03,336.21 L361.03,336.21 L359.03,332.41 Z" fill="#3db5a0"/>
<path d="M361.90,336.70 L365.90,336.70 L363.90,332.90 Z" fill="#3db5a0"/>
<path d="M366.77,336.70 L370.77,336.70 L368.77,332.90 Z" fill="#3db5a0"/>
<path d="M371.64,337.43 L375.64,337.43 L373.64,333.63 Z" fill="#3db5a0"/>
<path d="M233.54,383.45 L237.14,387.05 M233.54,387.05 L237.14,383.45" stroke="#111" stroke-width="1.15" fill="none"/>
<path d="M243.04,386.38 L246.64,389.98 M243.04,389.98 L246.64,386.38" stroke="#111" stroke-width="1.15" fill="none"/>
<path d="M252.78,388.32 L256.38,391.92 M252.78,391.92 L256.38,388.32" stroke="#111" stroke-width="1.15" fill="none"/>
<path d="M262.52,387.35 L266.12,390.95 M262.52,390.95 L266.12,387.35" stroke="#111" stroke-width="1.15" fill="none"/>
<path d="M272.26,386.38 L275.86,389.98 M272.26,389.98 L275.86,386.38" stroke="#111" stroke-width="1.15" fill="none"/>
<path d="M282.00,381.51 L285.60,385.11 M282.00,385.11 L285.60,381.51" stroke="#111" stroke-width="1.15" fill="none"/>
<path d="M291.74,374.69 L295.34,378.29 M291.74,378.29 L295.34,374.69" stroke="#111" stroke-width="1.15" fill="none"/>
<path d="M301.48,342.06 L305.08,345.66 M301.48,345.66 L305.08,342.06" stroke="#111" stroke-width="1.15" fill="none"/>
<path d="M311.22,334.03 L314.82,337.63 M311.22,337.63 L314.82,334.03" stroke="#111" stroke-width="1.15" fill="none"/>
<path d="M320.96,334.03 L324.56,337.63 M320.96,337.63 L324.56,334.03" stroke="#111" stroke-width="1.15" fill="none"/>
<path d="M330.69,337.19 L334.29,340.79 M330.69,340.79 L334.29,337.19" stroke="#111" stroke-width="1.15" fill="none"/>
<path d="M340.43,340.84 L344.03,344.44 M340.43,344.44 L344.03,340.84" stroke="#111" stroke-width="1.15" fill="none"/>
<path d="M350.17,344.50 L353.77,348.10 M350.17,348.10 L353.77,344.50" stroke="#111" stroke-width="1.15" fill="none"/>
<path d="M359.91,349.37 L363.51,352.97 M359.91,352.97 L363.51,349.37" stroke="#111" stroke-width="1.15" fill="none"/>
<path d="M369.65,352.29 L373.25,355.89 M369.65,355.89 L373.25,352.29" stroke="#111" stroke-width="1.15" fill="none"/>
<circle cx="299.00" cy="381.70" r="2.15" fill="#d9657c"/>
<text x="304.50" y="384.90" font-size="7.4" textLength="52.80" lengthAdjust="spacingAndGlyphs">On switch (exp)</text>
<path d="M296.85,397.82 L301.15,397.82 L299.00,393.74 Z" fill="#3db5a0"/>
<text x="304.50" y="398.50" font-size="7.4" textLength="53.30" lengthAdjust="spacingAndGlyphs">Off switch (exp)</text>
<path d="M297.10,407.20 L300.90,411.00 M297.10,411.00 L300.90,407.20" stroke="#111" stroke-width="1.15" fill="none"/>
<text x="303.6" y="412.4" font-size="7.4" textLength="22.4" lengthAdjust="spacingAndGlyphs">–log[<tspan font-style="italic">Z</tspan>]</text><text x="326.6" y="414.8" font-size="5.2" fill="#555" textLength="11" lengthAdjust="spacingAndGlyphs">PSS</text>
<text x="303.4" y="421.0" font-size="7.4" font-style="italic" textLength="45.2" lengthAdjust="spacingAndGlyphs">affinity model</text>
<text x="212.00" y="375.10" font-size="7.6" text-anchor="middle" textLength="23.40" lengthAdjust="spacingAndGlyphs" transform="rotate(-90 212.00 375.10)">pA/pF</text>
<text x="450.8" y="308.5" font-size="9.5" textLength="193.4" lengthAdjust="spacingAndGlyphs">Theory: <tspan font-style="italic">affinity switch: </tspan><tspan font-style="italic">dose and λ dependent</tspan></text>
<path d="M444.40,418.2 L444.40,327.0 L581.20,327.0 L581.20,418.2" fill="none" stroke="#777" stroke-width="0.8"/>
<line x1="454.21" y1="325.20" x2="454.21" y2="327.00" stroke="#666" stroke-width="0.8"/>
<text x="454.21" y="321.40" font-size="7.3" text-anchor="middle" textLength="13.30" lengthAdjust="spacingAndGlyphs">340</text>
<line x1="473.63" y1="325.20" x2="473.63" y2="327.00" stroke="#666" stroke-width="0.8"/>
<text x="473.63" y="321.40" font-size="7.3" text-anchor="middle" textLength="13.30" lengthAdjust="spacingAndGlyphs">360</text>
<line x1="493.05" y1="325.20" x2="493.05" y2="327.00" stroke="#666" stroke-width="0.8"/>
<text x="493.05" y="321.40" font-size="7.3" text-anchor="middle" textLength="13.30" lengthAdjust="spacingAndGlyphs">380</text>
<line x1="512.47" y1="325.20" x2="512.47" y2="327.00" stroke="#666" stroke-width="0.8"/>
<text x="512.47" y="321.40" font-size="7.3" text-anchor="middle" textLength="13.30" lengthAdjust="spacingAndGlyphs">400</text>
<line x1="531.89" y1="325.20" x2="531.89" y2="327.00" stroke="#666" stroke-width="0.8"/>
<text x="531.89" y="321.40" font-size="7.3" text-anchor="middle" textLength="13.30" lengthAdjust="spacingAndGlyphs">420</text>
<line x1="551.31" y1="325.20" x2="551.31" y2="327.00" stroke="#666" stroke-width="0.8"/>
<text x="551.31" y="321.40" font-size="7.3" text-anchor="middle" textLength="13.30" lengthAdjust="spacingAndGlyphs">440</text>
<line x1="570.73" y1="325.20" x2="570.73" y2="327.00" stroke="#666" stroke-width="0.8"/>
<text x="570.73" y="321.40" font-size="7.3" text-anchor="middle" textLength="13.30" lengthAdjust="spacingAndGlyphs">460</text>
<text x="580.00" y="321.40" font-size="7.0" textLength="15.00" lengthAdjust="spacingAndGlyphs">[nm]</text>
<line x1="442.40" y1="344.20" x2="444.40" y2="344.20" stroke="#777" stroke-width="0.7"/>
<text x="438.90" y="346.60" font-size="7.2" text-anchor="end" textLength="13.30" lengthAdjust="spacingAndGlyphs">–20</text>
<line x1="442.40" y1="367.10" x2="444.40" y2="367.10" stroke="#777" stroke-width="0.7"/>
<text x="438.90" y="369.50" font-size="7.2" text-anchor="end" textLength="13.30" lengthAdjust="spacingAndGlyphs">–40</text>
<line x1="442.40" y1="390.00" x2="444.40" y2="390.00" stroke="#777" stroke-width="0.7"/>
<text x="438.90" y="392.40" font-size="7.2" text-anchor="end" textLength="13.30" lengthAdjust="spacingAndGlyphs">–60</text>
<line x1="442.40" y1="412.90" x2="444.40" y2="412.90" stroke="#777" stroke-width="0.7"/>
<text x="438.90" y="415.30" font-size="7.2" text-anchor="end" textLength="13.30" lengthAdjust="spacingAndGlyphs">–80</text>
<line x1="581.20" y1="346.20" x2="583.20" y2="346.20" stroke="#777" stroke-width="0.7"/>
<text x="586.80" y="348.60" font-size="6.8" textLength="10.60" lengthAdjust="spacingAndGlyphs">8.5</text>
<line x1="581.20" y1="358.20" x2="583.20" y2="358.20" stroke="#777" stroke-width="0.7"/>
<line x1="581.20" y1="370.20" x2="583.20" y2="370.20" stroke="#777" stroke-width="0.7"/>
<text x="586.80" y="372.60" font-size="6.8" textLength="10.60" lengthAdjust="spacingAndGlyphs">8.0</text>
<line x1="581.20" y1="382.00" x2="583.20" y2="382.00" stroke="#777" stroke-width="0.7"/>
<line x1="581.20" y1="393.70" x2="583.20" y2="393.70" stroke="#777" stroke-width="0.7"/>
<text x="586.80" y="396.10" font-size="6.8" textLength="10.60" lengthAdjust="spacingAndGlyphs">7.5</text>
<line x1="581.20" y1="405.60" x2="583.20" y2="405.60" stroke="#777" stroke-width="0.7"/>
<line x1="581.20" y1="417.50" x2="583.20" y2="417.50" stroke="#777" stroke-width="0.7"/>
<text x="586.80" y="419.90" font-size="6.8" textLength="10.60" lengthAdjust="spacingAndGlyphs">7.0</text>
<text x="604.9" y="374.8" font-size="8.4" text-anchor="middle" textLength="28.2" lengthAdjust="spacingAndGlyphs" transform="rotate(90 604.9 374.8)">–log[<tspan font-style="italic">Z</tspan>]</text>
<text x="418.50" y="372.70" font-size="7.6" text-anchor="middle" textLength="22.70" lengthAdjust="spacingAndGlyphs" transform="rotate(-90 418.50 372.70)">pA/pF</text>
<line x1="445.90" y1="369.3" x2="580.20" y2="369.3" stroke="#111" stroke-width="1.7" stroke-dasharray="0 3.3" stroke-linecap="round"/>
<path d="M444.2,381.2L454.2,383.3L463.9,383.3L473.6,383.6L483.2,382.1L492.9,379.7L502.6,375.2L512.3,352.5L522.0,347.0L531.6,347.0L541.3,349.4L551.0,351.9L560.7,354.9L570.4,357.0L581.2,359.4" fill="none" stroke="#adadad" stroke-width="0.8" stroke-linejoin="round"/>
<rect x="442.47" y="379.46" width="3.50" height="3.50" fill="#adadad" stroke="none" stroke-width="0.6"/>
<rect x="452.45" y="381.57" width="3.50" height="3.50" fill="#adadad" stroke="none" stroke-width="0.6"/>
<rect x="462.13" y="381.57" width="3.50" height="3.50" fill="#adadad" stroke="none" stroke-width="0.6"/>
<rect x="471.81" y="381.88" width="3.50" height="3.50" fill="#adadad" stroke="none" stroke-width="0.6"/>
<rect x="481.49" y="380.36" width="3.50" height="3.50" fill="#adadad" stroke="none" stroke-width="0.6"/>
<rect x="491.17" y="377.94" width="3.50" height="3.50" fill="#adadad" stroke="none" stroke-width="0.6"/>
<rect x="500.85" y="373.41" width="3.50" height="3.50" fill="#adadad" stroke="none" stroke-width="0.6"/>
<rect x="510.52" y="350.72" width="3.50" height="3.50" fill="#adadad" stroke="none" stroke-width="0.6"/>
<rect x="520.20" y="345.28" width="3.50" height="3.50" fill="#adadad" stroke="none" stroke-width="0.6"/>
<rect x="529.88" y="345.28" width="3.50" height="3.50" fill="#adadad" stroke="none" stroke-width="0.6"/>
<rect x="539.56" y="347.70" width="3.50" height="3.50" fill="#adadad" stroke="none" stroke-width="0.6"/>
<rect x="549.24" y="350.12" width="3.50" height="3.50" fill="#adadad" stroke="none" stroke-width="0.6"/>
<rect x="558.92" y="353.14" width="3.50" height="3.50" fill="#adadad" stroke="none" stroke-width="0.6"/>
<rect x="568.60" y="355.26" width="3.50" height="3.50" fill="#adadad" stroke="none" stroke-width="0.6"/>
<rect x="579.49" y="357.68" width="3.50" height="3.50" fill="#adadad" stroke="none" stroke-width="0.6"/>
<path d="M444.2,399.4L454.2,401.5L463.9,402.1L473.6,401.8L483.2,400.9L492.9,398.4L502.6,393.3L512.3,370.6L522.0,365.5L531.6,365.8L541.3,367.9L551.0,370.0L560.7,373.0L570.4,375.8L581.2,379.1" fill="none" stroke="#adadad" stroke-width="0.8" stroke-linejoin="round"/>
<path d="M442.47,397.96 L445.97,397.96 L444.22,401.28 Z" fill="#adadad"/>
<path d="M452.45,400.07 L455.95,400.07 L454.20,403.40 Z" fill="#adadad"/>
<path d="M462.13,400.68 L465.63,400.68 L463.88,404.00 Z" fill="#adadad"/>
<path d="M471.81,400.38 L475.31,400.38 L473.56,403.70 Z" fill="#adadad"/>
<path d="M481.49,399.47 L484.99,399.47 L483.24,402.79 Z" fill="#adadad"/>
<path d="M491.17,397.05 L494.67,397.05 L492.92,400.37 Z" fill="#adadad"/>
<path d="M500.85,391.91 L504.35,391.91 L502.60,395.23 Z" fill="#adadad"/>
<path d="M510.52,369.22 L514.02,369.22 L512.27,372.55 Z" fill="#adadad"/>
<path d="M520.20,364.08 L523.70,364.08 L521.95,367.40 Z" fill="#adadad"/>
<path d="M529.88,364.38 L533.38,364.38 L531.63,367.71 Z" fill="#adadad"/>
<path d="M539.56,366.50 L543.06,366.50 L541.31,369.82 Z" fill="#adadad"/>
<path d="M549.24,368.62 L552.74,368.62 L550.99,371.94 Z" fill="#adadad"/>
<path d="M558.92,371.64 L562.42,371.64 L560.67,374.96 Z" fill="#adadad"/>
<path d="M568.60,374.36 L572.10,374.36 L570.35,377.69 Z" fill="#adadad"/>
<path d="M579.49,377.69 L582.99,377.69 L581.24,381.01 Z" fill="#adadad"/>
<path d="M444.2,414.5L454.2,416.0L463.9,416.6L473.6,416.6L483.2,415.4L492.9,413.0L502.6,407.8L512.3,385.1L522.0,380.3L531.6,380.3L541.3,382.7L551.0,384.8L560.7,388.2L570.4,390.9L581.2,393.6" fill="none" stroke="#adadad" stroke-width="0.8" stroke-linejoin="round"/>
<path d="M444.22,412.73 L445.97,414.48 L444.22,416.23 L442.47,414.48 Z" fill="#adadad"/>
<path d="M454.20,414.24 L455.95,415.99 L454.20,417.74 L452.45,415.99 Z" fill="#adadad"/>
<path d="M463.88,414.85 L465.63,416.60 L463.88,418.35 L462.13,416.60 Z" fill="#adadad"/>
<path d="M473.56,414.85 L475.31,416.60 L473.56,418.35 L471.81,416.60 Z" fill="#adadad"/>
<path d="M483.24,413.64 L484.99,415.39 L483.24,417.14 L481.49,415.39 Z" fill="#adadad"/>
<path d="M492.92,411.22 L494.67,412.97 L492.92,414.72 L491.17,412.97 Z" fill="#adadad"/>
<path d="M502.60,406.08 L504.35,407.83 L502.60,409.58 L500.85,407.83 Z" fill="#adadad"/>
<path d="M512.27,383.39 L514.02,385.14 L512.27,386.89 L510.52,385.14 Z" fill="#adadad"/>
<path d="M521.95,378.55 L523.70,380.30 L521.95,382.05 L520.20,380.30 Z" fill="#adadad"/>
<path d="M531.63,378.55 L533.38,380.30 L531.63,382.05 L529.88,380.30 Z" fill="#adadad"/>
<path d="M541.31,380.97 L543.06,382.72 L541.31,384.47 L539.56,382.72 Z" fill="#adadad"/>
<path d="M550.99,383.09 L552.74,384.84 L550.99,386.59 L549.24,384.84 Z" fill="#adadad"/>
<path d="M560.67,386.41 L562.42,388.16 L560.67,389.91 L558.92,388.16 Z" fill="#adadad"/>
<path d="M570.35,389.14 L572.10,390.89 L570.35,392.64 L568.60,390.89 Z" fill="#adadad"/>
<path d="M581.24,391.86 L582.99,393.61 L581.24,395.36 L579.49,393.61 Z" fill="#adadad"/>
<path d="M444.2,347.0L449.4,351.9L454.2,357.0L459.0,361.5L463.9,365.2L468.7,367.6L473.6,367.6L478.4,364.0L483.2,357.0L488.1,347.9L492.9,340.4L497.8,333.7L502.6,330.4L507.4,328.9L512.3,328.6L517.1,328.6L522.0,328.6L526.8,328.9L531.6,329.2L536.5,329.5L541.3,329.5L546.2,329.8L551.0,329.8L555.8,330.1L560.7,330.1L565.5,330.4L570.4,330.4L575.2,330.4L581.2,330.7" fill="none" stroke="#d9657c" stroke-width="0.9" stroke-linejoin="round"/>
<circle cx="444.22" cy="347.03" r="2.0" fill="#d9657c"/>
<circle cx="449.36" cy="351.87" r="2.0" fill="#d9657c"/>
<circle cx="454.20" cy="357.01" r="2.0" fill="#d9657c"/>
<circle cx="459.04" cy="361.55" r="2.0" fill="#d9657c"/>
<circle cx="463.88" cy="365.18" r="2.0" fill="#d9657c"/>
<circle cx="468.72" cy="367.60" r="2.0" fill="#d9657c"/>
<circle cx="473.56" cy="367.60" r="2.0" fill="#d9657c"/>
<circle cx="478.40" cy="363.97" r="2.0" fill="#d9657c"/>
<circle cx="483.24" cy="357.01" r="2.0" fill="#d9657c"/>
<circle cx="488.08" cy="347.93" r="2.0" fill="#d9657c"/>
<circle cx="492.92" cy="340.37" r="2.0" fill="#d9657c"/>
<circle cx="497.76" cy="333.72" r="2.0" fill="#d9657c"/>
<circle cx="502.60" cy="330.39" r="2.0" fill="#d9657c"/>
<circle cx="507.43" cy="328.88" r="2.0" fill="#d9657c"/>
<circle cx="512.27" cy="328.58" r="2.0" fill="#d9657c"/>
<circle cx="517.11" cy="328.58" r="2.0" fill="#d9657c"/>
<circle cx="521.95" cy="328.58" r="2.0" fill="#d9657c"/>
<circle cx="526.79" cy="328.88" r="2.0" fill="#d9657c"/>
<circle cx="531.63" cy="329.18" r="2.0" fill="#d9657c"/>
<circle cx="536.47" cy="329.48" r="2.0" fill="#d9657c"/>
<circle cx="541.31" cy="329.48" r="2.0" fill="#d9657c"/>
<circle cx="546.15" cy="329.79" r="2.0" fill="#d9657c"/>
<circle cx="550.99" cy="329.79" r="2.0" fill="#d9657c"/>
<circle cx="555.83" cy="330.09" r="2.0" fill="#d9657c"/>
<circle cx="560.67" cy="330.09" r="2.0" fill="#d9657c"/>
<circle cx="565.51" cy="330.39" r="2.0" fill="#d9657c"/>
<circle cx="570.35" cy="330.39" r="2.0" fill="#d9657c"/>
<circle cx="575.19" cy="330.39" r="2.0" fill="#d9657c"/>
<circle cx="581.24" cy="330.69" r="2.0" fill="#d9657c"/>
<path d="M444.2,358.5L449.4,360.9L454.2,364.6L459.0,367.6L463.9,370.6L468.7,373.0L473.6,373.0L478.4,370.6L483.2,366.1L488.1,358.5L492.9,349.4L497.8,341.9L502.6,336.7L507.4,334.3L512.3,332.8L517.1,332.5L522.0,332.2L526.8,331.9L531.6,331.9L536.5,331.9L541.3,331.9L546.2,332.2L551.0,332.2L555.8,332.2L560.7,332.2L565.5,332.5L570.4,332.5L575.2,332.8L581.2,332.8" fill="none" stroke="#3db5a0" stroke-width="0.9" stroke-linejoin="round"/>
<path d="M442.22,360.12 L446.22,360.12 L444.22,356.32 Z" fill="#3db5a0"/>
<path d="M447.36,362.54 L451.36,362.54 L449.36,358.74 Z" fill="#3db5a0"/>
<path d="M452.20,366.17 L456.20,366.17 L454.20,362.37 Z" fill="#3db5a0"/>
<path d="M457.04,369.20 L461.04,369.20 L459.04,365.40 Z" fill="#3db5a0"/>
<path d="M461.88,372.22 L465.88,372.22 L463.88,368.42 Z" fill="#3db5a0"/>
<path d="M466.72,374.64 L470.72,374.64 L468.72,370.84 Z" fill="#3db5a0"/>
<path d="M471.56,374.64 L475.56,374.64 L473.56,370.84 Z" fill="#3db5a0"/>
<path d="M476.40,372.22 L480.40,372.22 L478.40,368.42 Z" fill="#3db5a0"/>
<path d="M481.24,367.68 L485.24,367.68 L483.24,363.88 Z" fill="#3db5a0"/>
<path d="M486.08,360.12 L490.08,360.12 L488.08,356.32 Z" fill="#3db5a0"/>
<path d="M490.92,351.05 L494.92,351.05 L492.92,347.25 Z" fill="#3db5a0"/>
<path d="M495.76,343.48 L499.76,343.48 L497.76,339.68 Z" fill="#3db5a0"/>
<path d="M500.60,338.34 L504.60,338.34 L502.60,334.54 Z" fill="#3db5a0"/>
<path d="M505.43,335.92 L509.43,335.92 L507.43,332.12 Z" fill="#3db5a0"/>
<path d="M510.27,334.41 L514.27,334.41 L512.27,330.61 Z" fill="#3db5a0"/>
<path d="M515.11,334.11 L519.11,334.11 L517.11,330.31 Z" fill="#3db5a0"/>
<path d="M519.95,333.81 L523.95,333.81 L521.95,330.01 Z" fill="#3db5a0"/>
<path d="M524.79,333.50 L528.79,333.50 L526.79,329.70 Z" fill="#3db5a0"/>
<path d="M529.63,333.50 L533.63,333.50 L531.63,329.70 Z" fill="#3db5a0"/>
<path d="M534.47,333.50 L538.47,333.50 L536.47,329.70 Z" fill="#3db5a0"/>
<path d="M539.31,333.50 L543.31,333.50 L541.31,329.70 Z" fill="#3db5a0"/>
<path d="M544.15,333.81 L548.15,333.81 L546.15,330.01 Z" fill="#3db5a0"/>
<path d="M548.99,333.81 L552.99,333.81 L550.99,330.01 Z" fill="#3db5a0"/>
<path d="M553.83,333.81 L557.83,333.81 L555.83,330.01 Z" fill="#3db5a0"/>
<path d="M558.67,333.81 L562.67,333.81 L560.67,330.01 Z" fill="#3db5a0"/>
<path d="M563.51,334.11 L567.51,334.11 L565.51,330.31 Z" fill="#3db5a0"/>
<path d="M568.35,334.11 L572.35,334.11 L570.35,330.31 Z" fill="#3db5a0"/>
<path d="M573.19,334.41 L577.19,334.41 L575.19,330.61 Z" fill="#3db5a0"/>
<path d="M579.24,334.41 L583.24,334.41 L581.24,330.61 Z" fill="#3db5a0"/>
<path d="M444.2,367.0L454.2,368.5L463.9,369.1L473.6,369.1L483.2,367.6L492.9,365.2L502.6,360.9L512.3,338.9L522.0,332.8L531.6,332.8L541.3,334.9L551.0,337.3L560.7,340.4L570.4,343.4L581.2,345.8" fill="none" stroke="#111" stroke-width="0.9" stroke-linejoin="round"/>
<path d="M442.42,365.19 L446.02,368.79 M442.42,368.79 L446.02,365.19" stroke="#111" stroke-width="1.15" fill="none"/>
<path d="M452.40,366.70 L456.00,370.30 M452.40,370.30 L456.00,366.70" stroke="#111" stroke-width="1.15" fill="none"/>
<path d="M462.08,367.31 L465.68,370.91 M462.08,370.91 L465.68,367.31" stroke="#111" stroke-width="1.15" fill="none"/>
<path d="M471.76,367.31 L475.36,370.91 M471.76,370.91 L475.36,367.31" stroke="#111" stroke-width="1.15" fill="none"/>
<path d="M481.44,365.80 L485.04,369.40 M481.44,369.40 L485.04,365.80" stroke="#111" stroke-width="1.15" fill="none"/>
<path d="M491.12,363.38 L494.72,366.98 M491.12,366.98 L494.72,363.38" stroke="#111" stroke-width="1.15" fill="none"/>
<path d="M500.80,359.14 L504.40,362.74 M500.80,362.74 L504.40,359.14" stroke="#111" stroke-width="1.15" fill="none"/>
<path d="M510.47,337.06 L514.07,340.66 M510.47,340.66 L514.07,337.06" stroke="#111" stroke-width="1.15" fill="none"/>
<path d="M520.15,331.01 L523.75,334.61 M520.15,334.61 L523.75,331.01" stroke="#111" stroke-width="1.15" fill="none"/>
<path d="M529.83,331.01 L533.43,334.61 M529.83,334.61 L533.43,331.01" stroke="#111" stroke-width="1.15" fill="none"/>
<path d="M539.51,333.13 L543.11,336.73 M539.51,336.73 L543.11,333.13" stroke="#111" stroke-width="1.15" fill="none"/>
<path d="M549.19,335.55 L552.79,339.15 M549.19,339.15 L552.79,335.55" stroke="#111" stroke-width="1.15" fill="none"/>
<path d="M558.87,338.57 L562.47,342.17 M558.87,342.17 L562.47,338.57" stroke="#111" stroke-width="1.15" fill="none"/>
<path d="M568.55,341.60 L572.15,345.20 M568.55,345.20 L572.15,341.60" stroke="#111" stroke-width="1.15" fill="none"/>
<path d="M579.44,344.02 L583.04,347.62 M579.44,347.62 L583.04,344.02" stroke="#111" stroke-width="1.15" fill="none"/>
<circle cx="621.90" cy="336.90" r="2.15" fill="#d9657c"/>
<text x="628.5" y="339.8" font-size="8.2">IC<tspan font-size="5.6" dy="1.8">ON</tspan><tspan dy="-1.8"> (exp)</tspan></text>
<path d="M619.75,352.72 L624.05,352.72 L621.90,348.63 Z" fill="#3db5a0"/>
<text x="628.5" y="354.1" font-size="8.2">IC<tspan font-size="5.6" dy="1.8">OFF</tspan><tspan dy="-1.8"> (exp)</tspan></text>
<path d="M620.00,362.70 L623.80,366.50 M620.00,366.50 L623.80,362.70" stroke="#111" stroke-width="1.15" fill="none"/>
<text x="628.5" y="367.6" font-size="8.2">–log[<tspan font-style="italic">Z</tspan>]<tspan font-size="5.6" dy="1.8">PSS</tspan></text>
<rect x="620.15" y="377.45" width="3.50" height="3.50" fill="#adadad" stroke="none" stroke-width="0.6"/>
<text x="628.5" y="382.1" font-size="8.2" fill="#adadad">–log[2<tspan font-style="italic">Z</tspan>]</text>
<path d="M619.90,393.40 L623.90,393.40 L621.90,397.20 Z" fill="#adadad"/>
<text x="628.5" y="397.9" font-size="8.2" fill="#adadad">–log[5<tspan font-style="italic">Z</tspan>]</text>
<path d="M621.90,408.60 L623.90,410.60 L621.90,412.60 L619.90,410.60 Z" fill="#adadad"/>
<text x="628.5" y="413.0" font-size="8.2" fill="#adadad">–log[10<tspan font-style="italic">Z</tspan>]</text>
</svg></body></html>
